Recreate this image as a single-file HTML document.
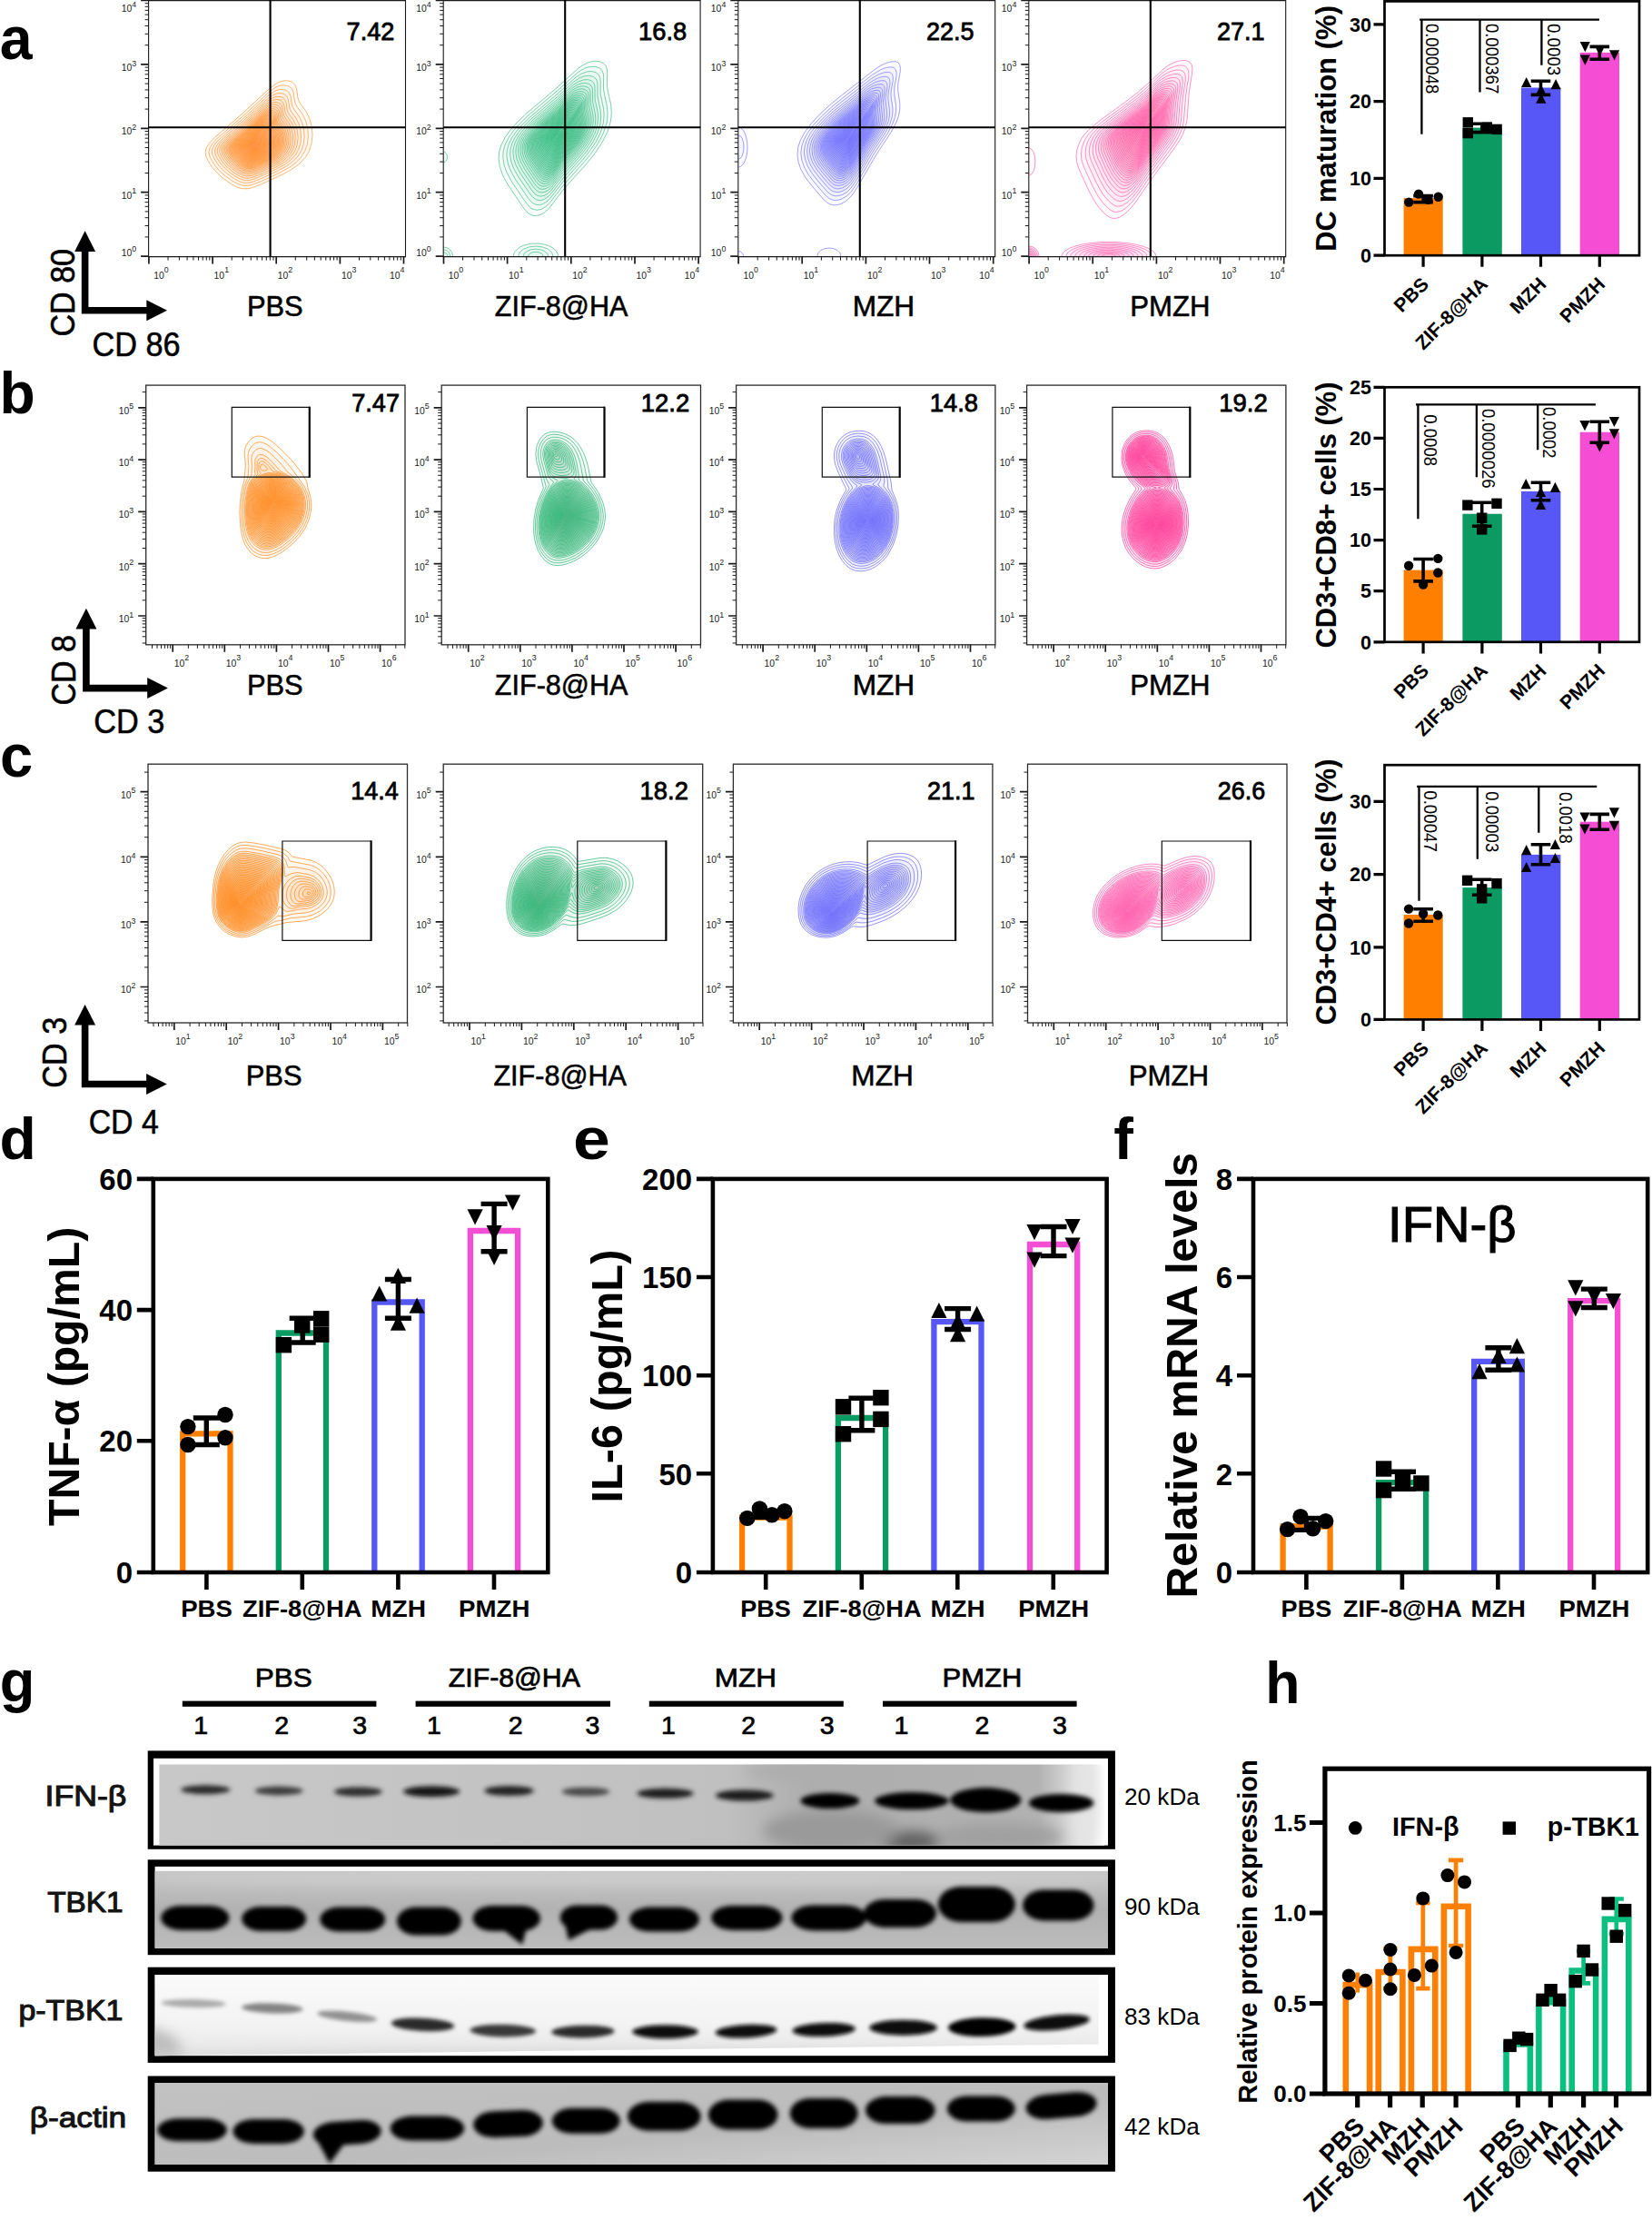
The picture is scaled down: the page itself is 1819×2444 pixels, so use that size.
<!DOCTYPE html>
<html><head><meta charset="utf-8"><title>Figure</title>
<style>html,body{margin:0;padding:0;background:#fff}svg{display:block}</style></head><body>
<svg width="1819" height="2444" viewBox="0 0 1819 2444" font-family="'Liberation Sans', sans-serif">
<rect width="1819" height="2444" fill="#fff"/>
<defs>
<clipPath id="ca0"><rect x="164.1" y="0" width="281.9" height="282"/></clipPath>
<clipPath id="ca1"><rect x="488.7" y="0" width="281.9" height="282"/></clipPath>
<clipPath id="ca2"><rect x="813.3" y="0" width="281.9" height="282"/></clipPath>
<clipPath id="ca3"><rect x="1133.3" y="0" width="281.9" height="282"/></clipPath>
<clipPath id="cb0"><rect x="161.2" y="424.1" width="284.3" height="285.7"/></clipPath>
<clipPath id="cb1"><rect x="486.7" y="424.1" width="284.3" height="285.7"/></clipPath>
<clipPath id="cb2"><rect x="811.1" y="424.1" width="284.3" height="285.7"/></clipPath>
<clipPath id="cb3"><rect x="1131.1" y="424.1" width="284.3" height="285.7"/></clipPath>
<clipPath id="cc0"><rect x="163.5" y="841.2" width="284.5" height="284.8"/></clipPath>
<clipPath id="cc1"><rect x="488.7" y="841.2" width="284.5" height="284.8"/></clipPath>
<clipPath id="cc2"><rect x="807.9" y="841.2" width="284.5" height="284.8"/></clipPath>
<clipPath id="cc3"><rect x="1132.0" y="841.2" width="284.5" height="284.8"/></clipPath>
<filter id="bl1" filterUnits="userSpaceOnUse" x="150" y="1900" width="1100" height="520"><feGaussianBlur stdDeviation="1.6"/></filter>
<filter id="bl15" filterUnits="userSpaceOnUse" x="150" y="1900" width="1100" height="520"><feGaussianBlur stdDeviation="2.1"/></filter>
<filter id="bl2" filterUnits="userSpaceOnUse" x="150" y="1900" width="1100" height="520"><feGaussianBlur stdDeviation="2.6"/></filter>
<filter id="bl3" filterUnits="userSpaceOnUse" x="150" y="1900" width="1100" height="520"><feGaussianBlur stdDeviation="7"/></filter>
<linearGradient id="g1" x1="0" x2="1" y1="0" y2="0"><stop offset="0" stop-color="#c8c8c8"/><stop offset="0.6" stop-color="#c0c0c0"/><stop offset="0.69" stop-color="#adadad"/><stop offset="0.93" stop-color="#b2b2b2"/><stop offset="0.975" stop-color="#e2e2e2"/><stop offset="1" stop-color="#ffffff"/></linearGradient>
<linearGradient id="g2" x1="0" x2="0" y1="0" y2="1"><stop offset="0" stop-color="#c6c6c6"/><stop offset="0.5" stop-color="#b2b2b2"/><stop offset="1" stop-color="#bcbcbc"/></linearGradient>
<linearGradient id="g3" x1="0" x2="0" y1="0" y2="1"><stop offset="0" stop-color="#fbfbfb"/><stop offset="0.6" stop-color="#f3f3f3"/><stop offset="1" stop-color="#e6e6e6"/></linearGradient>
<linearGradient id="g4" x1="0" x2="1" y1="0" y2="1"><stop offset="0" stop-color="#c2c2c2"/><stop offset="0.6" stop-color="#bcbcbc"/><stop offset="1" stop-color="#d4d4d4"/></linearGradient>
<clipPath id="br0"><rect x="175.4" y="1942.5" width="1040.6" height="89.1"/></clipPath>
<clipPath id="br1"><rect x="170.6" y="2059.8" width="1049.4" height="85.0"/></clipPath>
<clipPath id="br2"><polygon points="170.6,2174.0 1210.0,2174.0 1209.4,2250.5 700,2256.5 170.6,2263.2"/></clipPath>
<clipPath id="br3"><rect x="170.6" y="2293.2" width="1049.4" height="89.8"/></clipPath>
</defs>
<g clip-path="url(#ca0)" stroke="#FF8A1F" stroke-width="0.9" stroke-opacity="0.7" fill="#FF8A1F" fill-opacity="0.03">
<path d="M311.2 89.0l3.9 -.3 4 .6 3 1.3 2.5 2.4 2 4.5 1.2 9.5 1.2 4 2 3.5 6.2 8.5 3.6 7.5 2.5 9 .7 9 -.9 9 -2.6 8.5 -2.1 4 -2.3 3.5 -6.1 6.5 -8.1 6 -10.8 6.1 -25 11.4 -8.5 3.2 -4.5 1 -4.5 .1 -4 -.6 -4 -1.4 -7 -3.8 -7.7 -5.5 -6.3 -5.6 -5.5 -6.2 -4.5 -6.7 -2.9 -6 -.6 -4.5 1.1 -4.5 3.4 -5.5 5.6 -6 29.5 -25.5 30.9 -28.4 7.5 -5.6 3.5 -1.8z"/>
<path d="M309.7 94.0l3.4 -.1 3.5 .6 3 1.5 1.9 2 1.7 4 1.2 9 1 3.5 1.7 3.1 6.1 8.4 3.4 7 2.2 8.5 .6 8.5 -1 8.5 -2.5 7.5 -4.3 7 -5.8 6 -7.7 5.7 -10.5 5.7 -22.5 10.3 -8 2.8 -4 .8 -4 .1 -3.5 -.6 -4 -1.4 -6.5 -3.6 -7.2 -5.3 -5.8 -5.1 -5.1 -5.9 -4 -6 -2.5 -5.5 -.6 -4 1.2 -4.5 3.2 -5 5.2 -5.5 27.1 -23.4 29 -26.6 7.5 -5.6 3.5 -1.6z"/>
<path d="M308.3 98.5l3.3 0 3 .8 2.3 1.2 1.7 1.9 1.5 3.6 1.1 8 1 3.5 1.6 3 5.8 8 3.2 7 1.9 7.5 .5 8 -.9 7.5 -2.3 7 -3.9 6.5 -5.3 5.5 -7.5 5.5 -9.7 5.3 -21 9.6 -7.5 2.7 -4 .7 -3.5 0 -3.5 -.6 -3.5 -1.3 -5.9 -3.4 -6.6 -4.7 -5.5 -5 -4.6 -5.3 -3.9 -6 -2.3 -5 -.4 -3.5 1 -4 2.7 -4.5 5.2 -5.5 25.3 -21.8 27 -24.8 7 -5.1 3.5 -1.6z"/>
<path d="M304.3 103.0l3.3 -.4 3.5 .4 2.6 1 2.1 2 1.6 3.5 1.1 8 .9 3 1.7 3 4.8 6.5 2.8 5.5 2 7 .8 7.5 -.6 7.5 -2.1 7 -3.4 6 -5.1 5.5 -6.6 5 -8.6 4.8 -20.5 9.4 -7 2.6 -3.5 .7 -3.5 .1 -3 -.5 -3.5 -1.2 -5.5 -3 -6.1 -4.4 -5.1 -4.5 -4.4 -5 -3.8 -5.5 -2.1 -4.5 -.6 -4 .8 -3.5 2.8 -4.5 4.7 -5 23.7 -20.5 24.6 -22.5 6 -4.6z"/>
<path d="M303.4 106.5l3.2 -.2 3 .5 2 .9 1.9 1.8 1.5 3.5 1 7 .8 3 1.4 2.5 4.9 6.8 2.6 5.2 1.9 7 .6 7 -.8 7 -1.9 6 -3.2 5.5 -4.6 5 -6.1 4.6 -8.5 4.8 -19 8.7 -6.5 2.3 -3.5 .7 -3 0 -3 -.5 -3 -1 -5 -2.7 -6 -4.4 -5 -4.4 -4 -4.6 -3.3 -5 -2.1 -4.5 -.5 -3.5 1 -3.5 2.5 -4 4.3 -4.5 22.1 -19.1 23.5 -21.6 5.5 -4.1z"/>
<path d="M301.1 110.0l3 -.4 3 .2 2.5 1.1 1.8 1.6 1.3 3 1.1 7 .8 2.9 5.9 8.6 2.2 4.5 1.9 6.5 .6 6.5 -.6 6.5 -1.8 6 -3.1 5.5 -4.2 4.5 -5.9 4.5 -7.5 4.2 -18 8.2 -6 2.3 -6 .7 -3 -.4 -3 -1 -5 -2.7 -5.5 -3.9 -4.5 -4 -3.8 -4.4 -3.3 -5 -1.9 -4 -.4 -3 .8 -3.5 2.2 -3.5 4.2 -4.5 20.7 -18 21.5 -19.6 5.5 -4.3z"/>
<path d="M302.0 112.5l2.6 .1 2 .5 1.6 .9 1.5 1.5 1.2 3 .9 6 .8 3 5.8 8.5 2.4 5.5 1.5 6 .2 6 -.7 5.5 -1.8 5.5 -3.1 5 -4.4 4.5 -5.9 4.2 -8 4.3 -15.5 7 -5.5 1.9 -3 .5 -3 0 -5.5 -1.6 -4.8 -2.8 -5.2 -3.8 -4 -3.8 -3.5 -4.1 -3 -4.8 -1.4 -3.5 -.3 -3 1 -3 2.3 -3.5 3.8 -4 19.1 -16.5 21.5 -19.6 5.5 -3.9z"/>
<path d="M298.8 115.5l2.8 -.4 2.5 .3 2 .8 1.5 1.3 1.5 3 1.6 8.5 5.3 8 2 4 1.6 5.5 .6 6 -.5 5.5 -1.6 5.5 -2.5 4.5 -4 4.5 -5 3.8 -6.6 3.7 -16.4 7.6 -5.5 2 -5.5 .6 -5 -1.2 -4 -2.1 -5 -3.6 -4 -3.5 -3.5 -3.8 -3 -4.4 -1.7 -3.6 -.5 -3 .6 -3 2.2 -3.5 3.7 -4 18.2 -15.7 19 -17.4 5 -3.9z"/>
<path d="M299.6 117.5l4.1 .5 1.7 1 1.2 1.4 1 2.5 1.5 7.8 5.2 7.8 2.1 4.5 1.3 5.5 .4 5.5 -.7 5 -1.6 5 -2.8 4.5 -3.9 4 -5.5 3.9 -6.8 3.6 -14.2 6.5 -5 1.7 -5 .4 -5 -1.4 -4 -2.3 -4.6 -3.4 -3.9 -3.5 -3 -3.5 -2.6 -4 -1.6 -3.5 -.3 -2.5 .8 -3 1.9 -3 3.8 -3.9 17 -14.7 19 -17.4 5 -3.5z"/>
<path d="M296.7 120.0l2.4 -.4 2.5 .2 2 .9 1.5 1.3 1.1 2.5 .8 5.5 .8 2.5 4.5 6.5 1.7 3.5 1.6 5 .6 5.5 -.4 5 -1.5 5 -2.2 4.1 -3.5 4 -4.5 3.5 -6.5 3.7 -14.5 6.6 -5 1.8 -5 .5 -4.5 -1.1 -4 -2.2 -4.5 -3.3 -3.5 -3.2 -3 -3.4 -2.5 -3.7 -1.5 -3.3 -.4 -3 .7 -2.5 1.9 -3 3.4 -3.5 16.4 -14.2 17 -15.6 4.5 -3.5z"/>
<path d="M297.6 121.5l2 0 2 .5 2.4 2 1 2.5 1.4 7 4.7 7 1.8 4 1.2 4.5 .4 5 -.6 5 -1.4 4.5 -2.4 4 -3.9 4 -4.6 3.3 -6.5 3.4 -12.5 5.7 -5 1.7 -4.5 .3 -4.5 -1.3 -3.7 -2.1 -4.3 -3.2 -3.5 -3.2 -2.6 -3.1 -2.2 -3.5 -1.4 -3 -.3 -2.5 .7 -2.5 1.9 -3 2.9 -3 16 -13.9 17 -15.6 4.5 -3.2z"/>
<path d="M295.3 123.5l2.3 -.3 2 .2 1.7 .6 1.3 1.2 1.2 2.3 .9 5.5 .7 2 4.1 6 1.7 3.5 1.3 4.5 .5 5 -.5 4.5 -1.3 4.5 -2.3 4 -3.3 3.5 -4 3 -5.5 3.1 -13 6 -4.5 1.7 -4.5 .6 -4.5 -1.1 -3.5 -1.9 -4 -2.9 -3.5 -3.1 -2.9 -3.4 -2.3 -3.5 -1.3 -3 -.2 -2 .6 -2.5 1.9 -3 2.8 -3 14.9 -12.8 15.5 -14.2 4 -3.2z"/>
<path d="M294.6 125.0l4 -.2 1.9 .7 1.1 1 1.2 2.5 1.6 7 3.7 5.6 1.8 3.4 1.3 4.5 .4 4.5 -.4 4.5 -1.4 4.5 -2 3.5 -3.2 3.5 -4 3.1 -5.5 3 -12 5.5 -4.5 1.7 -4.5 .6 -4 -1 -3.4 -1.9 -3.6 -2.5 -3.4 -3 -2.7 -3 -2.4 -3.5 -1.3 -3 -.3 -2.5 .6 -2 1.9 -3 2.8 -3 14.3 -12.3 14.5 -13.3 4 -3.2z"/>
<path d="M296.1 126.0l3 .6 2 1.7 .9 2.2 1.2 6 4.3 6.5 1.7 4 .9 4 .2 4.5 -.5 4 -1.4 4 -2.2 3.5 -3.6 3.5 -4.4 3 -6.1 3.2 -10.5 4.7 -4 1.3 -4 .2 -4 -1.3 -7 -4.7 -3 -2.9 -2.5 -3 -1.9 -3 -1 -2.5 -.2 -2 .8 -2.5 1.6 -2.5 2.9 -3 13.3 -11.4 15.5 -14.2 4 -2.7z"/>
<path d="M294.3 127.5l3.3 .2 1.5 .7 1 1 1 2.1 1.2 6 3.8 5.8 1.6 3.2 1.1 4 .3 4.5 -.4 4 -1.3 4 -2.1 3.5 -2.9 3 -3.8 2.8 -5 2.8 -15 6.5 -4 .4 -4 -.9 -6.5 -4.2 -5.5 -5.5 -2.2 -3.4 -1.1 -2.5 -.3 -2 .5 -2 1.5 -2.5 2.8 -3 27.3 -24.3 4 -2.9z"/>
<path d="M293.1 129.0l3.5 -.1 1.5 .7 1.1 .9 .9 2 1.3 6 3.6 5.5 1.5 3 1.1 4 .3 4 -.4 4 -1.1 3.5 -1.6 3 -2.7 3.1 -3.9 2.9 -4.6 2.7 -15 6.5 -4 .4 -3.5 -.9 -6.5 -4.1 -5.1 -5.1 -2 -3 -1.1 -2.5 -.3 -2 .4 -2 1.5 -2.5 2.6 -2.8 25.5 -22.7 4 -3.1z"/>
<path d="M292.0 130.5l3.6 -.3 2.5 1.4 1.1 1.9 1.3 6 4.6 7.5 1.2 4 .4 4 -.4 4 -1.1 3.5 -1.7 3 -2.7 3 -3.4 2.5 -4.4 2.5 -14.4 6.3 -3.5 .4 -3.5 -.8 -6.2 -3.9 -5 -5 -3 -5 -.3 -2 .4 -2 1.6 -2.6 3.3 -3.4 24.7 -22 2.5 -1.8z"/>
<path d="M293.0 131.5l2.6 .3 2 1.5 .7 1.7 1.3 5.5 3.3 5 1.4 3 .9 3.5 .3 3.5 -.4 3.5 -1.1 3.5 -1.7 3 -2.7 2.8 -3.5 2.6 -4.5 2.4 -13 5.6 -3.5 .4 -3.5 -.9 -6 -3.9 -4.8 -5 -1.7 -2.7 -.9 -2.3 -.1 -1.5 .6 -2 1.2 -2 2.4 -2.5 23.8 -21.2 3.5 -2.6z"/>
<path d="M291.6 133.0l3 .1 2.1 1.4 .7 1.5 1.3 5.5 3 4.5 1.4 3 .9 3.5 .2 3.5 -.4 3.5 -1 3 -1.8 3 -2.4 2.5 -3.5 2.5 -4 2.2 -12.5 5.4 -3.5 .3 -3 -.8 -5.5 -3.5 -4.5 -4.6 -1.7 -2.5 -1.1 -2.5 -.2 -1.5 .5 -2 1.3 -2 2.4 -2.5 22.3 -19.8 3 -2.3z"/>
<path d="M290.5 134.5l3.1 -.1 2 1.2 1 1.9 1.2 5 3.9 6.5 .9 3 .4 3.5 -.3 3.5 -.9 3 -1.4 2.5 -2.3 2.7 -3 2.3 -4 2.3 -12.5 5.4 -3 .3 -3 -.7 -5.2 -3.3 -4.5 -4.5 -2.5 -4.5 -.2 -2 .4 -1.5 1.3 -2 2.2 -2.3 21 -18.7 3 -2.3z"/>
<path d="M289.5 136.0l3.1 -.3 1.5 .6 .8 .7 .7 1.5 1.3 5 3.6 6 .9 3 .4 3.5 -.3 3 -.9 3 -1.4 2.5 -2.3 2.5 -6.3 4.1 -11.5 5.1 -3 .4 -3 -.6 -5 -3.1 -4.4 -4.4 -2.3 -4 -.2 -2 .4 -1.5 1.3 -2 2.7 -2.7 19.5 -17.4z"/>
<path d="M290.2 137.0l2.4 .3 1.5 1.1 1.7 5.6 3.7 6.5 .8 3 .2 3 -.3 3 -.8 2.5 -1.5 2.5 -2.3 2.5 -6.5 4 -10.5 4.4 -3 .2 -2.5 -.6 -4.6 -3 -3.9 -4 -2.2 -4 -.2 -1.5 .4 -1.5 1.2 -2 1.9 -2 18.9 -16.7 3 -2.3z"/>
<path d="M289.0 138.5l2.6 0 1.5 1 1.8 5.5 3.4 6 .7 2.5 .3 3 -.3 3 -.8 2.5 -1.6 2.5 -1.9 2 -6.1 3.8 -10 4.2 -2.5 .3 -2.5 -.7 -4.5 -2.8 -3.7 -3.8 -2 -3.5 -.2 -1.5 .4 -1.5 2.6 -3.5 17.4 -15.5 3 -2.3z"/>
<path d="M288.0 140.0l2.1 -.3 2 1 .8 1.3 1.2 4.4 2.8 4.6 .8 2.5 .4 3 -.2 2.5 -.7 2.5 -1.4 2.5 -1.7 1.8 -5.5 3.6 -9.5 4.1 -2.5 .4 -2.5 -.6 -4 -2.4 -3.5 -3.4 -2.1 -3.5 -.2 -1.5 .3 -1.5 1.2 -2 2.3 -2.3 16 -14.2z"/>
<path d="M287.0 141.5l2.6 -.4 1.7 .9 1.8 5.2 2.6 4.3 .8 2.5 .4 2.5 -.2 2.5 -.7 2.5 -1.1 2 -1.9 2 -5.4 3.5 -8.5 3.6 -2.5 .3 -2.5 -.6 -4 -2.6 -3 -3.1 -1.6 -3.1 0 -2.5 1.3 -2 2 -2 14.8 -13.1z"/>
<path d="M287.6 142.5l1.5 .1 1.5 1 1.5 4.4 2.8 5 .7 4.5 -.3 2.5 -.8 2 -1.3 2 -2.2 2 -7.4 4 -5.5 2 -2 -.1 -2 -.6 -3.9 -2.8 -2.6 -3 -1.2 -2.5 .3 -2.5 2.5 -3 13.9 -12.3 2.5 -1.9z"/>
<path d="M286.5 144.0l1.6 -.1 1.5 .8 1.6 4.3 2.3 4 .9 4.5 -.9 4 -1.2 2 -1.5 1.5 -5.2 3.2 -7 2.8 -2 .1 -2 -.6 -3.5 -2.4 -2.5 -2.8 -1.2 -2.8 .3 -2 2 -2.5 12.4 -11 2.5 -2z"/>
<path d="M285.6 145.5l2 -.2 1.2 .7 1.5 4 2 3.5 .9 4 -.9 4 -2.3 3 -5 3 -5.9 2.5 -2 .2 -2 -.6 -3 -1.9 -2.5 -2.7 -1.2 -2.5 .3 -2 2.5 -3 11.4 -10z"/>
<path d="M284.7 147.0l2.4 -.2 1.2 1.2 3.4 7.5 .2 3 -.6 2.5 -2.1 3 -4 2.5 -6.1 2.6 -2 .1 -1.5 -.4 -2.8 -1.8 -2.3 -2.5 -1 -2 .2 -2 2.5 -3 9.9 -8.7z"/>
<path d="M285.5 148.0l1.1 .3 .7 .7 3 6.5 .4 3 -.8 3 -1.1 1.5 -1.7 1.5 -5.5 2.8 -3.5 1.1 -2.5 -.6 -2.5 -1.8 -1.8 -2 -.8 -2 .2 -1.5 2 -2.5 8.9 -7.8 2 -1.5z"/>
<path d="M284.3 149.5l1.2 0 .7 .5 2.7 5.5 .6 3 -.6 2.5 -2 2.5 -3.8 2.3 -4 1.5 -1.5 .1 -1.5 -.4 -2.1 -1.5 -1.8 -2 -.7 -1.5 .2 -1.5 1.5 -2 7.4 -6.6z"/>
<path d="M283.4 151.0l1.2 -.1 .9 .6 2.2 4.5 .5 2.5 -.5 2.5 -2.1 2.4 -3.5 2 -3 1 -2.5 -.2 -3.2 -2.7 -.8 -1.5 .1 -1.5 2 -2.5 6.4 -5.6z"/>
<path d="M282.5 152.5l1.6 -.1 1 1.2 1.7 3.9 -.2 3 -1.4 2 -2.6 1.7 -3.5 1.3 -2 -.2 -2.8 -2.3 -.7 -1.5 .1 -1 2 -2.5z"/>
<path d="M281.8 154.0l1.3 -.2 1.3 1.2 1.2 3 -.2 2.5 -1.6 2 -2.7 1.5 -2 .6 -2 -.3 -2.2 -2.3 .1 -2 2.3 -2.5z"/>
<path d="M281.0 155.5l1.6 -.1 1 1.1 .8 2 -.3 2 -1.2 1.5 -1.8 1.1 -2 .6 -1.5 -.3 -1.5 -1.4 -.3 -1 .2 -1 1.8 -2z"/>
<path d="M280.4 157.0l1.2 -.2 1 .7 .5 1.5 -.3 1.5 -2.2 1.9 -1.5 .3 -1 -.2 -1 -1 0 -1.5 1.2 -1.5z"/>
<path d="M279.8 158.5l1.5 0 .3 1.5 -1 1.2 -1.5 .4 -.8 -.6 0 -1z"/>
</g>
<g clip-path="url(#ca1)" stroke="#2DB877" stroke-width="0.9" stroke-opacity="0.7" fill="#2DB877" fill-opacity="0.03">
<path d="M654.5 67.3l5.6 .3 4 1.7 2.9 3 1.4 4 .3 4 -.3 10.5 .2 5 .9 5.5 3.1 13.5 .7 8.5 -.3 5.5 -.8 5.5 -1.5 5.5 -2.1 6 -6.1 12 -8.9 13 -9.1 11 -23.4 26 -16.5 21.5 -5 4.6 -5 2.7 -5 1 -4.5 -.8 -4 -2.5 -4.3 -5 -17 -25 -3.7 -6.3 -2.8 -5.7 -3 -9 -1.2 -8.5 .5 -7.5 2.4 -8 4.1 -8 6.1 -8.5 8.1 -9 10.5 -10 33.3 -28 23 -20.9 4.5 -3.1 4.5 -2.4 4 -1.4z"/>
<path d="M651.0 73.3l5.1 .1 4 1.5 2.7 2.4 1.6 4 .3 4 -.3 10 .3 4.5 3.7 17.5 .6 7.5 -.2 5 -.8 5.5 -3.3 10.5 -5.8 11.5 -8.2 12 -8.6 10.4 -21.5 23.9 -15.5 20.1 -4.5 4.1 -4.5 2.5 -4.5 1 -4.5 -.8 -3.6 -2.2 -3.9 -4.5 -16 -23.5 -5.9 -11 -2.7 -8 -1.2 -8 .4 -7 2.2 -7.5 3.8 -7.5 5.3 -7.5 7.6 -8.5 9.5 -9.1 31.5 -26.6 21.5 -19.4 4 -2.8 4 -2.1 3.5 -1.3z"/>
<path d="M647.1 78.8l5 -.2 4.2 1.2 3 2.5 1.5 3.5 .4 4 -.1 13.5 3.4 16 .7 7 -.9 9.5 -3 10 -5.2 10.5 -7.9 11.5 -7.8 9.5 -20.3 22.6 -14.5 18.8 -4 3.6 -4.5 2.5 -4 .9 -4 -.7 -3.5 -2.2 -3.6 -4 -14.6 -21.5 -5.7 -10.5 -2.6 -7.5 -1.2 -7.5 .4 -6.5 2 -7 3.2 -6.5 4.9 -7 6.6 -7.5 8.7 -8.5 30.4 -25.7 19.5 -17.7 7 -4.5z"/>
<path d="M643.6 83.8l5 -.5 4.5 1 3 2.3 1.5 3.2 .4 4 0 12.5 3.1 15 .6 6.5 -.8 9 -2.7 9 -4.9 10 -7.2 10.6 -7.5 9.1 -19 21.2 -13.5 17.5 -4 3.5 -4 2.2 -4 .7 -3.5 -.7 -3.5 -2.3 -3.3 -3.8 -13.6 -20 -5.1 -9.5 -2.4 -7 -1.1 -7 .4 -6 1.8 -6.5 3 -6 4.5 -6.5 5.6 -6.5 7.7 -7.6 30 -25.4 17 -15.6 6 -4.1z"/>
<path d="M642.9 87.8l4.7 -.1 3.5 1.1 2.4 2 1.3 3 .3 3.5 0 12 3 14 .5 6 -.8 8.5 -2.5 8.5 -4.7 9.4 -6.6 9.6 -6.9 8.5 -18 20 -12.5 16.2 -3.5 3.2 -4 2.2 -3.5 .7 -3.5 -.6 -3 -1.9 -3.3 -3.8 -12.7 -18.7 -5 -9.2 -2.2 -6.6 -1 -6.5 .4 -5.5 1.7 -6 3 -6 4.2 -6 5.7 -6.5 7.7 -7.4 26.5 -22.4 17 -15.5 6 -3.8z"/>
<path d="M640.0 91.8l4.6 -.4 3.5 .8 2.8 2.1 1.4 3 .3 3 0 11.5 2.7 13 .6 5.5 -.6 7.5 -2.3 8 -4.4 9 -6.4 9.5 -6.6 8.1 -16.5 18.3 -12 15.6 -3.5 3.1 -3.5 1.9 -3.5 .7 -3 -.5 -3 -1.8 -3 -3.4 -12 -17.6 -4.6 -8.4 -2.1 -6 -1 -6 .3 -5.5 1.5 -5.5 2.6 -5.5 3.8 -5.5 5.1 -6 6.9 -6.8 26 -22.1 15.5 -14.1 5.5 -3.7z"/>
<path d="M641.4 94.8l3.2 .3 2.8 1.2 1.7 1.8 1 2.7 .2 13 2.7 13 .4 5.5 -.8 7.5 -2.4 7.5 -4.1 8 -5.8 8.5 -6.2 7.5 -15.5 17.3 -11 14.2 -3 2.9 -3.5 2 -3.5 .7 -3 -.5 -3 -2 -2.7 -3.1 -11.3 -16.7 -4.4 -8.3 -2 -6 -.7 -5.5 .4 -5 1.7 -5.5 3 -5.5 4 -5.5 5.5 -6 7.5 -7.1 21 -17.6 16 -14.5 6 -3.5 3 -.9z"/>
<path d="M636.7 98.3l3.9 -.5 3.5 .7 2.5 1.7 1.3 2.6 .4 3 0 10 2.5 12 .4 5 -.6 6.5 -2 7 -3.8 8 -5.8 8.5 -5.9 7.2 -14.7 16.3 -10.3 13.4 -3 2.9 -3.5 2 -3 .6 -3 -.5 -2.5 -1.6 -2.9 -3.3 -10.5 -15.5 -4.1 -7.5 -1.9 -5.5 -.8 -5.5 .3 -4.5 1.4 -5 2.1 -4.5 3.4 -5 4.5 -5.2 6 -6 23.5 -20 13.5 -12.3 4.5 -3.1z"/>
<path d="M636.5 100.8l3.6 -.2 3 .8 2 1.7 1.1 2.7 .3 12 2.3 11 .5 5 -.7 6.5 -1.9 6.5 -3.7 7.5 -5.4 8 -5.5 6.7 -14 15.5 -10 12.9 -3 2.7 -3 1.7 -3 .5 -2.5 -.5 -2.5 -1.5 -2.6 -3 -9.9 -14.5 -4.1 -7.5 -1.7 -5 -.8 -5 .3 -4.5 1.4 -5 2.2 -4.5 3.5 -5 4.4 -5 5.8 -5.7 21.5 -18.2 13 -11.9 5 -3.2z"/>
<path d="M634.9 103.3l3.7 -.3 3 .8 2 1.7 1 2.3 .3 11.5 2.2 10.5 .4 4.5 -.5 6 -1.9 6.5 -3.4 7 -5.1 7.6 -5.2 6.4 -13.3 14.8 -9.5 12.2 -2.5 2.4 -3 1.8 -3 .7 -2.5 -.3 -2.5 -1.6 -2.5 -2.8 -9.5 -14 -3.7 -6.7 -1.7 -5 -.7 -4.5 .1 -4.5 1.3 -4.5 2.2 -4.5 3 -4.5 4 -4.6 5.5 -5.4 21 -17.9 12.5 -11.3 4.5 -2.9z"/>
<path d="M634.9 105.3l3.2 0 2.5 .8 1.5 1.3 1 2.4 .4 11 2 10 .4 4.5 -.6 6 -1.8 6 -3.5 7 -4.8 7 -17.5 20 -9.1 11.7 -2.5 2.3 -3 1.7 -2.5 .4 -2.5 -.4 -2.5 -1.7 -2 -2.4 -9 -13.2 -3.6 -6.4 -1.7 -5 -.7 -4.5 .2 -4 1.3 -4.5 1.9 -4 3.1 -4.5 4.4 -5 5.6 -5.4 18.5 -15.6 12.5 -11.3 4.5 -2.9z"/>
<path d="M633.6 107.3l3 -.1 2.5 .6 1.7 1.5 1.1 2.5 .3 10.5 2 9.5 .3 4 -.5 5.5 -1.7 6 -3.3 6.5 -4.7 7 -16.7 19 -9 11.6 -2.5 2.2 -2.5 1.3 -2.5 .5 -2.5 -.5 -2.3 -1.6 -2.2 -2.7 -8.5 -12.5 -3.4 -6.3 -1.5 -4.5 -.6 -4.5 .3 -4 1.2 -4 2.1 -4 2.8 -4 3.9 -4.5 5.2 -5 18 -15.2 12 -10.9 4 -2.6z"/>
<path d="M631.6 109.3l3 -.4 3 .5 2 1.4 1 2 .4 10.5 1.9 9 .4 4 -.5 5 -1.5 5.5 -3.1 6.5 -4.3 6.5 -16.3 18.6 -8.5 11 -2.5 2.2 -2.5 1.4 -2.5 .5 -2 -.3 -2.3 -1.4 -2.2 -2.5 -8.1 -12 -3.3 -6 -1.6 -4.5 -.6 -4 .1 -3.5 1.1 -4 1.6 -3.5 2.6 -4 3.7 -4.4 4.6 -4.6 18.9 -16.1 10.5 -9.5 3.5 -2.4z"/>
<path d="M631.1 110.8l3 -.4 2.5 .5 2 1.4 1 2 .4 10 1.7 8.5 .4 4 -.4 5 -1.6 5.5 -2.9 6 -4.4 6.5 -15.3 17.5 -8.4 10.7 -2 1.9 -2.5 1.4 -2.5 .6 -2 -.4 -2 -1.2 -2.3 -2.5 -7.8 -11.5 -3.3 -6 -1.3 -4 -.7 -4 .2 -3.5 1.1 -4 1.6 -3.5 2.8 -4 7.7 -8.2 18 -15.3 10 -9.1 3.5 -2.5z"/>
<path d="M630.7 112.3l2.9 -.3 2.5 .6 1.5 1.2 .9 2 .4 9.5 1.8 8.5 .3 3.5 -.5 5 -1.4 5 -2.9 6 -4.1 6 -15 17.2 -7.5 9.6 -2 2 -2.5 1.5 -2.5 .6 -2 -.4 -2 -1.2 -2 -2.2 -7.6 -11.1 -3 -5.5 -1.4 -4 -.7 -4 .2 -3.5 1 -3.5 1.6 -3.5 2.4 -3.5 7.9 -8.5 17.1 -14.5 9.5 -8.7 3.5 -2.4z"/>
<path d="M630.3 113.8l2.8 -.2 2 .6 1.5 1.1 .9 2 .4 9 1.6 8 .3 3.5 -.4 5 -1.5 5 -2.7 5.5 -4.1 6 -14 15.9 -7.5 9.6 -2 1.9 -2.5 1.4 -2 .4 -2 -.3 -2 -1.3 -2 -2.3 -7 -10.3 -3 -5.5 -1.4 -4 -.5 -3.5 .2 -3.5 1 -3.5 1.7 -3.5 2.4 -3.5 7.6 -7.9 15.5 -13.2 10 -9 3.5 -2.3z"/>
<path d="M630.0 115.3l2.6 0 1.7 .5 1.3 1 .9 2 .3 8.5 1.9 11 -.4 4.5 -1.4 5 -2.8 5.5 -3.7 5.5 -13.3 15.2 -7.5 9.5 -2 1.8 -2 1.1 -2 .4 -2 -.3 -1.9 -1.2 -1.7 -2 -7.2 -10.5 -2.7 -5 -1.3 -4 -.4 -3.5 .2 -3 1.1 -3.5 1.5 -3 2.4 -3.5 7.7 -8 23.8 -20.6 3.5 -2.3z"/>
<path d="M629.8 116.8l2.3 .1 1.5 .6 1.3 1.3 .6 2 .3 7.5 1.5 7.5 .3 3.5 -.5 4.5 -1.4 4.5 -2.6 5 -3.4 5 -13.1 15 -6.5 8.3 -2 1.9 -2 1.2 -2 .5 -2 -.4 -1.7 -1 -1.8 -2.1 -6.5 -9.5 -2.7 -4.9 -1.2 -3.5 -.6 -3.5 .2 -3 1 -3.5 1.5 -3 2.4 -3.5 7.4 -7.6 23 -19.9 3.5 -2.1z"/>
<path d="M627.0 118.8l2.6 -.5 2 .3 1.5 .7 1.2 2 .5 8.5 1.6 9.5 -.3 4 -1.3 4.5 -2.4 5 -3.4 5 -12.4 14.2 -6.5 8.3 -2 1.8 -2 1.1 -2 .3 -1.5 -.3 -1.5 -1 -2 -2.3 -6.2 -9.1 -2.4 -4.5 -1.2 -3.5 -.5 -3 .2 -3 .9 -3 1.4 -3 2.1 -3 6.1 -6.5 22.1 -19.3 3 -2.1z"/>
<path d="M626.5 120.3l2.6 -.4 2 .4 1.4 1 .8 1.5 .4 8 1.6 9 -.3 4 -1.2 4 -2.1 4.5 -3.4 5 -11.7 13.4 -6 7.7 -2 1.9 -2 1.2 -2 .3 -1.5 -.3 -1.5 -1 -1.5 -1.7 -6 -8.7 -2.4 -4.3 -1.2 -3.5 -.4 -3 .1 -2.5 .8 -3 3.1 -5.5 6 -6.5 21.5 -18.7 2.5 -1.7z"/>
<path d="M626.1 121.8l2 -.3 2 .3 1.4 1 .7 1.5 .5 7.5 1.4 8.5 -.3 4 -1.2 4 -2.2 4.5 -3.1 4.5 -10.7 12.2 -6 7.6 -3.5 2.6 -2 .4 -1.5 -.3 -1.5 -1 -1.5 -1.8 -5.5 -8 -2.3 -4.2 -1 -3 -.5 -3 .1 -2.5 .9 -3 3.3 -5.5 5.5 -5.8 20 -17.4 2.5 -1.7z"/>
<path d="M625.6 123.3l3.5 0 1.4 1 .7 1.5 .4 7 1.4 8 -.3 3.5 -1.1 4 -2 4 -3 4.5 -10.1 11.5 -5.9 7.4 -2 1.8 -1.5 .7 -1.5 .3 -1.5 -.4 -1.5 -1 -1.5 -1.8 -5.1 -7.5 -2.1 -4 -1.4 -5.5 .2 -2.5 .7 -2.5 2.9 -5 5.6 -6 18.7 -16.2 2.5 -1.8z"/>
<path d="M625.2 124.8l1.9 -.1 1.5 .4 1 .9 .6 1.3 .4 6.5 1.3 8 -.4 3.5 -1.1 3.5 -2.1 4 -2.7 3.9 -15 17.7 -3 2.1 -1.5 .3 -1.5 -.4 -1.5 -1 -1.5 -1.9 -4.6 -6.7 -2.1 -4 -1.2 -5 .2 -2.5 .8 -2.5 3 -5 5.4 -5.5 17 -14.8 2.5 -1.7z"/>
<path d="M625.0 126.3l2.6 .3 1 .9 .5 1.3 .4 6 1.2 7.5 -.3 3 -1 3.5 -1.8 3.5 -2.8 4 -13.7 16.2 -3 2.3 -1.5 .3 -1.5 -.3 -2.6 -2.5 -4.4 -6.5 -1.9 -3.5 -1.2 -5 .8 -4.5 2.6 -4.5 5.3 -5.5 16.4 -14.2 2.5 -1.6z"/>
<path d="M622.6 128.3l2 -.5 1.5 .2 1.3 .8 .7 1.4 .4 5.6 1.1 6.5 -.2 3 -.9 3 -1.6 3.5 -2.4 3.5 -12.9 15.3 -3 2.5 -2.5 .2 -2.5 -2 -6.1 -9.5 -1.3 -4.5 .1 -2.5 .6 -2 2.2 -4 4.1 -4.5 15.9 -13.8z"/>
<path d="M622.1 129.8l3 -.3 1 .5 .8 1.3 1.5 11.5 -.1 2.5 -.8 3 -1.7 3.5 -2.2 3.3 -12 14.2 -2.5 2 -2.5 .3 -2.5 -2.1 -5.5 -8.6 -1.1 -4.1 .5 -4 2.2 -4 3.9 -4.2 14.5 -12.6z"/>
<path d="M621.6 131.3l1.5 -.3 1.5 .3 1 .8 .4 1.2 1.3 10.5 -1 5 -3.5 6 -11.2 13.2 -2.5 1.8 -2 .1 -1.1 -.6 -1.4 -1.6 -5 -7.9 -.9 -4 .6 -3.5 2 -3.5 3.7 -4 13.1 -11.4z"/>
<path d="M621.2 132.8l2.4 0 1 .9 .4 1.1 1.2 9.5 -.9 4.5 -3.2 5.5 -10 11.8 -2.5 2 -2 .1 -2.3 -1.9 -4.4 -7 -1 -3.5 .5 -3.5 2 -3.5 3.2 -3.5 12 -10.4z"/>
<path d="M620.8 134.3l1.3 -.1 1 .5 .8 1.6 1.1 8.5 -.9 4.5 -3.1 5 -8.9 10.5 -2 1.6 -2 .1 -2 -1.7 -4.2 -6.5 -.8 -3.5 .6 -3 1.8 -3 3.6 -3.8 10.5 -9z"/>
<path d="M619.0 136.3l1.6 -.5 1 .1 1.2 1.4 1.1 7.5 -.7 4 -2.6 4.7 -8 9.4 -2 1.7 -2 .2 -2 -1.7 -3.4 -5.3 -.8 -3 .4 -3 1.4 -2.5 2.7 -3 9.7 -8.4z"/>
<path d="M618.5 137.8l2.1 -.3 1.1 1.3 1 6.5 -.7 4 -2.3 4 -7.1 8.2 -2 1.6 -1.5 0 -2 -1.8 -2.8 -4.5 -.7 -2.5 .3 -2.5 1.4 -2.5 2.3 -2.6 8.5 -7.3z"/>
<path d="M618.0 139.3l1.6 -.2 1.1 1.2 .9 5.5 -.6 3.5 -2 3.5 -5.9 6.9 -2 1.6 -1.5 .1 -1.8 -1.6 -2.4 -4 -.6 -2.5 .4 -2 1.2 -2 2.2 -2.5 7 -5.9z"/>
<path d="M617.7 140.8l1.4 .2 .7 1.3 .6 4.5 -.6 3 -1.9 3 -4.8 5.5 -1.5 1.2 -1.5 .2 -1.6 -1.4 -2 -3.5 -.4 -2 .5 -2 1.3 -2 1.9 -2 5.8 -4.9z"/>
<path d="M616.1 142.8l1.5 -.4 1 .9 .7 3.5 -.4 2.5 -1.7 3 -3.6 4.1 -1.5 1.3 -1.5 .3 -1.5 -1.4 -1.4 -2.3 -.3 -2 .3 -1.5 2.4 -3.2z"/>
<path d="M615.7 144.3l1.4 0 .6 1 .4 2.5 -.4 2 -1.2 2 -2.9 3.3 -1.5 1.1 -1 0 -1 -.8 -1.1 -1.6 -.4 -1.5 .2 -1.5 2.3 -3z"/>
<path d="M614.4 146.3l1.2 -.4 1 .6 .3 1.8 -.3 1.5 -2.5 3.4 -1.5 1.2 -1 0 -1.4 -1.6 -.2 -2 1.3 -2z"/>
<path d="M614.1 147.8l1 0 .4 .5 -.3 2 -1.6 1.9 -1.5 .4 -.7 -.8 .1 -1.5 1.1 -1.5z"/>
</g>
<g clip-path="url(#ca1)" stroke="#2DB877" stroke-width="0.9" stroke-opacity="0.7" fill="#2DB877" fill-opacity="0.03">
<ellipse cx="589.9" cy="282.0" rx="24.6" ry="14.0"/>
<ellipse cx="589.9" cy="282.0" rx="19.1" ry="10.9"/>
<ellipse cx="589.9" cy="282.0" rx="13.7" ry="7.8"/>
<ellipse cx="589.9" cy="282.0" rx="8.2" ry="4.7"/>
</g>
<g clip-path="url(#ca1)" stroke="#2DB877" stroke-width="0.9" stroke-opacity="0.7" fill="#2DB877" fill-opacity="0.03">
<ellipse cx="488.5" cy="282.0" rx="10.0" ry="10.0"/>
<ellipse cx="488.5" cy="282.0" rx="7.1" ry="7.1"/>
<ellipse cx="488.5" cy="282.0" rx="4.3" ry="4.3"/>
</g>
<g clip-path="url(#ca1)" stroke="#2DB877" stroke-width="0.9" stroke-opacity="0.7" fill="#2DB877" fill-opacity="0.03">
<ellipse cx="488.5" cy="173.0" rx="4.0" ry="5.7"/>
</g>
<g clip-path="url(#ca2)" stroke="#6A6AFA" stroke-width="0.9" stroke-opacity="0.7" fill="#6A6AFA" fill-opacity="0.03">
<path d="M982.4 67.8l4.2 0 2.5 1.1 1.6 2.4 .7 3.5 -.2 4.5 -2.1 11 -.5 5 .3 5.5 1.9 13 0 6 -1.3 7.5 -2.6 7.5 -5.9 11 -16.4 25 -21 36 -5.7 8.5 -5.8 5.7 -6 3.4 -3.5 1 -3 .4 -3 -.2 -3 -1 -3.1 -1.8 -3.5 -3 -12.5 -14.5 -7.7 -10 -4.8 -8.5 -2.9 -8.3 -1.1 -8.2 .7 -8 2.6 -8 5 -9 7.1 -9.5 9.7 -10.5 12 -11 12 -9.7 37 -28.8 5 -3.2 4.5 -2.3 4.5 -1.6z"/>
<path d="M976.6 74.3l4.5 -.5 3 .6 2 1.9 1 3.5 -.1 4.5 -2 10.5 -.4 5 .3 5 1.7 11.5 0 6 -1.1 6.5 -2.4 7 -5.5 10.5 -15.5 23.5 -19 32.8 -5.5 8.1 -5 5 -6 3.5 -3 .9 -3 .4 -3 -.2 -2.5 -.8 -3 -1.7 -3.4 -3 -11.2 -13 -7.3 -9.5 -4.6 -8 -2.7 -8 -1 -7.5 .7 -7 2.4 -7.5 4.3 -8 6.3 -8.5 8.7 -9.5 10.3 -9.6 11.5 -9.5 34.5 -27 8.5 -5.2 4 -1.7z"/>
<path d="M973.4 79.8l4.2 -.5 3 .6 1.9 1.9 .8 3 -.1 4.5 -1.8 9.5 -.4 4.5 .3 5 1.6 10.5 0 5.5 -1 6 -2.2 6.5 -5.3 10 -14.1 21.5 -18 31 -5.2 7.6 -4.5 4.5 -5.5 3.2 -5.5 1.2 -2.5 -.1 -2.5 -.7 -3 -1.7 -3 -2.6 -9.9 -11.4 -7.1 -9.1 -4.6 -7.9 -2.6 -7.5 -1 -7 .7 -6.5 2.2 -7 4 -7.5 5.8 -7.8 8 -8.8 9.5 -8.9 11 -9.1 32 -25 8 -4.9z"/>
<path d="M973.2 84.3l2.9 .1 2 .8 1.4 2.1 .5 2.5 -.2 3.5 -1.7 9.5 -.3 4 .3 4.5 1.4 10 .1 5 -1.1 6 -2.3 6.5 -4.6 8.5 -13.1 20 -16.9 29 -5 7.3 -4.5 4.3 -5 2.7 -3 .8 -2.5 .2 -4.5 -1 -2.5 -1.5 -3 -2.7 -10.5 -12.3 -5.9 -7.8 -3.6 -6.5 -2.2 -6.5 -.8 -6.5 .7 -6.5 2.1 -6.5 4.2 -7.4 5.7 -7.6 8.3 -8.8 9.5 -8.6 39.5 -31 7.5 -4.2 3.5 -1.2z"/>
<path d="M969.7 88.8l3.4 -.1 2 .8 1.3 1.8 .6 2.5 -.2 3.5 -1.5 8.5 -.4 4 1.6 13.5 .1 4.5 -.9 5.5 -2.1 6 -4.2 8 -12.5 19 -15.8 27.1 -4.5 6.6 -4 4 -5 2.9 -4.5 1 -2.5 -.2 -2 -.6 -4 -2.6 -4.5 -4.7 -10.5 -12.8 -5 -8.2 -2.3 -6.5 -.9 -6 .6 -6 2.1 -6.5 3.5 -6.5 5.5 -7.3 7.5 -8.1 8.5 -7.8 37 -29.1 7 -4.2 3.5 -1.3z"/>
<path d="M966.9 92.8l3.2 -.2 2 .5 1.5 1.6 .6 2.6 -.1 3.5 -1.7 11.5 1.4 12.5 .1 4.5 -.8 5 -1.9 5.5 -4.2 8 -11.8 18 -14.5 25 -4.1 6.1 -4 4 -4.5 2.6 -5 1 -4 -.8 -2.5 -1.6 -2.5 -2.3 -8.6 -10 -5.4 -7 -3.4 -6 -2 -6 -.7 -5.5 .5 -5.5 1.9 -6 3.6 -6.5 4.9 -6.5 6.7 -7.2 8 -7.4 35 -27.6 6.5 -3.9z"/>
<path d="M965.0 96.3l3.1 -.2 2 .7 1.2 1.5 .5 2 -.1 3.5 -1.6 11 1.4 12 0 4 -.8 5 -1.8 5 -4 7.5 -10.8 16.5 -14 24 -4 5.9 -4 3.8 -4 2.2 -4 .8 -4 -.7 -2 -1.1 -2.5 -2.2 -7.6 -8.7 -5.5 -7 -3.5 -6 -2 -5.5 -.8 -5.5 .5 -5.5 1.8 -5.5 3.3 -6 4.5 -6 6.3 -6.9 7.5 -6.9 33 -26.1 6.5 -3.9z"/>
<path d="M964.1 99.3l2.5 .1 1.5 .6 1 1.3 .6 2.5 -1.6 13 1.3 11.5 0 4 -.8 4.5 -1.8 5 -3.5 6.5 -10.5 16 -12.8 22 -3.9 5.8 -3.5 3.5 -4 2.4 -4 .9 -4 -.8 -2 -1.2 -2.4 -2.1 -7.6 -8.9 -4.7 -6.1 -3.2 -5.5 -1.8 -5.5 -.7 -5 .5 -5 1.7 -5 3 -5.5 4.4 -6 6.3 -6.8 7.5 -6.8 31 -24.4 6 -3.4z"/>
<path d="M961.2 102.3l2.9 -.2 2 .6 1 1.1 .6 2 -.1 3 -1.4 10 1.2 10.5 .1 3.5 -.7 4.5 -1.6 4.5 -3.6 7 -9.9 15 -12.1 20.9 -3.5 5.2 -3.5 3.5 -3.5 2.1 -4 1 -3.5 -.6 -3 -1.9 -4 -4.2 -8.2 -10 -3.9 -6.5 -1.8 -5 -.7 -5 .5 -4.5 1.5 -5 2.7 -5 4.1 -5.5 5.8 -6.4 6.6 -6.1 29.9 -23.6 5.5 -3.3z"/>
<path d="M959.8 104.8l2.3 -.2 2 .4 1.3 1.3 .6 2 -1.4 12.5 1.2 13 -.6 4 -1.5 4.5 -3.4 6.5 -9.2 14 -12 20.6 -3.5 5.1 -3 2.9 -3.5 2.1 -3.5 .8 -3.5 -.6 -4 -2.8 -6.2 -7.1 -4.8 -6.2 -3.1 -5.3 -1.8 -5 -.5 -4.5 .4 -4.5 1.4 -4.5 2.7 -5 3.9 -5.2 5.3 -5.8 6.4 -6 28.3 -22.3 5 -3z"/>
<path d="M957.5 107.3l3.1 -.5 2 .4 1.2 1.1 .6 2 -1.3 12 1.2 12.5 -.7 4 -1.4 4 -3.4 6.5 -8.7 13.3 -11 18.9 -3.5 5.2 -3 3 -3.5 2 -3.5 .7 -3 -.5 -3 -2 -3 -3.2 -7.5 -9.1 -3.6 -5.8 -1.7 -4.5 -.7 -4.5 .3 -4 1.3 -4.5 2.3 -4.5 3.5 -5 4.9 -5.5 5.7 -5.4 27.5 -21.9 4.5 -2.9z"/>
<path d="M956.4 109.3l2.7 -.5 2 .3 1.4 1.2 .5 1.5 0 2.5 -1.2 9.5 1.1 11.5 -.5 3.5 -1.3 4 -3.3 6.5 -8.5 13 -10.7 18.3 -3 4.5 -3 3 -3 1.7 -3.5 .9 -3 -.5 -2.9 -1.9 -3.1 -3.3 -7 -8.5 -3.5 -5.7 -1.5 -4.1 -.7 -4.4 .3 -4 1.2 -4 2.3 -4.5 3.2 -4.5 4.7 -5.3 5.5 -5.3 26 -20.7 4.5 -2.9z"/>
<path d="M956.6 110.8l2 -.2 1.5 .4 1 .8 .7 2 -1.2 11 1.1 11.5 -.6 3.5 -1.4 4 -2.8 5.5 -8.2 12.5 -10.2 17.5 -3.4 4.9 -3 2.8 -3 1.6 -3 .6 -3 -.7 -3.5 -2.7 -6 -7 -3.8 -5 -2.3 -4 -1.4 -4 -.6 -4 .4 -4 1.3 -4 2.4 -4.5 3.3 -4.5 4.7 -5.1 5.5 -5.2 24.5 -19.3 5 -3.1z"/>
<path d="M956.5 112.3l1.6 0 1.5 .6 .9 1.4 .2 1.5 -1.1 10 1 11 -.6 3.5 -1.4 4 -2.9 5.5 -7.5 11.5 -10.1 17.3 -3 4.3 -2.5 2.5 -3 1.7 -3 .7 -3 -.6 -3 -2.2 -5.5 -6.3 -4 -5 -2.6 -4.4 -1.4 -4 -.5 -4 .4 -4 1.3 -4 2.6 -4.5 3.5 -4.5 4.7 -5 5.5 -5 23 -18.1 4.5 -2.6z"/>
<path d="M953.6 114.3l2.5 -.4 2 .3 1 1 .4 1.6 -1 10 1 10.5 -.6 3.5 -1.1 3.5 -2.9 5.5 -7.5 11.5 -9.3 15.9 -3 4.4 -2.5 2.5 -3 1.7 -3 .6 -2.5 -.5 -2.5 -1.7 -3 -3.2 -6 -7.3 -3 -4.9 -1.5 -4 -.5 -3.5 .3 -3.5 1.2 -4 2.1 -4 2.9 -4 4 -4.5 5 -4.7 23 -18.3 4 -2.5z"/>
<path d="M953.2 115.8l2.4 -.3 1.5 .4 .9 .9 .4 1.5 -.9 10 .8 10 -.4 3 -1.2 3.5 -2.6 5 -7.3 11 -8.7 15.1 -3 4.4 -2.5 2.5 -2.5 1.5 -3 .7 -2.5 -.4 -2.5 -1.6 -2.5 -2.6 -6 -7.3 -3 -4.9 -1.4 -3.9 -.5 -3.5 .3 -3.5 1.1 -3.5 1.8 -3.5 2.8 -4 4 -4.5 4.9 -4.6 22 -17.5 4 -2.5z"/>
<path d="M952.8 117.3l1.8 -.2 1.5 .5 .7 .7 .5 1.5 -.9 9.5 .8 9.5 -.4 3 -1.2 3.5 -2.7 5 -6.8 10.4 -11 18.3 -2.5 2.5 -2.5 1.5 -3 .6 -2.5 -.5 -3 -2.3 -4.7 -5.5 -3.3 -4.2 -2.2 -3.8 -1.2 -3.5 -.5 -3.5 .3 -3 1 -3.5 1.8 -3.5 2.9 -4 4.1 -4.5 4.8 -4.5 21 -16.5 4 -2.4z"/>
<path d="M952.8 118.8l2.4 .5 .7 1 .3 1.5 -.8 8.5 .7 9.5 -.5 3 -1.1 3 -2.4 4.5 -6.6 10 -10.4 17.4 -2.5 2.5 -2.5 1.5 -2.5 .5 -2.5 -.5 -2.7 -1.9 -4.8 -5.5 -3.5 -4.5 -1.9 -3.5 -1.1 -3.5 -.3 -3 .3 -3 1.1 -3.5 1.9 -3.5 3.1 -4 3.9 -4.2 5 -4.5 19.5 -15.3 4 -2.2z"/>
<path d="M950.0 120.8l2.1 -.4 1.5 .2 1 .8 .4 1.4 -.7 8.5 .7 8.5 -.4 3 -1 3 -2.3 4.5 -6.3 9.5 -9.9 16.6 -2 2.1 -2.5 1.6 -2.5 .7 -2.5 -.4 -2 -1.2 -2.5 -2.6 -5 -6.1 -2.6 -4.2 -1.3 -3.5 -.4 -3 .3 -3 .9 -3 1.5 -3 2.5 -3.5 7.6 -7.9 19 -15.1 3.5 -2.3z"/>
<path d="M949.5 122.3l3.1 0 1 .9 .3 1.1 -.6 8 .6 8.5 -1.4 5.5 -2.4 4.5 -15.5 24.9 -2 1.9 -2 1.2 -2.5 .6 -2 -.3 -2 -1.2 -2.1 -2.1 -5 -6 -2.5 -4 -1.1 -3 -.5 -3 .2 -3 .8 -3 1.6 -3 2.5 -3.5 7.1 -7.3 18 -14.3 3.5 -2.2z"/>
<path d="M949.1 123.8l2.5 .1 .9 .9 .3 1.5 -.6 7.5 .6 7.5 -1.4 5.5 -2.1 4 -14.7 23.6 -2 1.9 -2 1.2 -2.5 .5 -2 -.4 -2.4 -1.8 -3.5 -4 -3.1 -4 -1.8 -3 -1 -3 -.4 -3 .2 -2.5 1 -3 3.9 -6 7.1 -7.1 17 -13.4 3 -1.9z"/>
<path d="M946.9 125.8l3.2 -.4 1 .6 .5 1.3 -.5 7.5 .6 7 -1.2 5 -2.1 4 -13.8 22.3 -2 2 -2 1.1 -2 .4 -2 -.3 -2 -1.4 -2 -2.1 -4.1 -5 -2.1 -3.5 -1.1 -3 -.4 -2.5 .2 -2.5 .8 -2.5 3.3 -5.5 6.2 -6.5 16.2 -12.9z"/>
<path d="M946.4 127.3l2.7 -.3 1 .7 .4 1.1 -.4 7 .5 6.5 -1.2 5 -1.8 3.5 -13 20.9 -1.5 1.7 -2 1.3 -2 .5 -2 -.2 -1.5 -.9 -2 -2 -4 -4.8 -2.2 -3.5 -1 -2.5 -.4 -2.5 .1 -2.5 .8 -2.5 3.3 -5.5 5.9 -6.1 15 -11.9z"/>
<path d="M945.9 128.8l1.7 -.2 1 .3 .8 1.9 -.4 6 .5 6.5 -1.2 4.5 -14.2 23.2 -1.5 1.5 -2 1.1 -2 .2 -1.5 -.4 -2 -1.5 -3 -3.4 -3.9 -5.7 -.9 -2.5 -.3 -2.5 1 -4.5 3.2 -5 5.9 -5.9 14 -11.1z"/>
<path d="M945.6 130.3l2 .3 .7 1.7 -.3 5.5 .4 6 -1.2 4.5 -13.1 21.4 -3 2.4 -2 .4 -1.5 -.4 -1.5 -1 -2.2 -2.3 -2.8 -3.5 -1.9 -3 -1.1 -4.5 .1 -2 .8 -2.5 3.1 -4.8 5.5 -5.5 13 -10.3 2.5 -1.5z"/>
<path d="M943.4 132.3l2.7 -.3 1 1.3 -.2 6 .4 5 -1 4 -12.2 20.1 -3 2.3 -1.5 .4 -1.5 -.3 -3 -2.5 -3.3 -4 -1.5 -2.5 -1.1 -4 .6 -4 2.7 -4.5 4.6 -4.9 12 -9.5z"/>
<path d="M942.9 133.8l2.2 -.1 .6 .6 .3 1 .2 9.5 -.8 3.5 -1.7 3.5 -9.6 15.3 -2.5 2.1 -1.5 .5 -1.5 -.2 -1.5 -.9 -1.7 -1.8 -2.8 -3.4 -1.5 -2.6 -.9 -4 .8 -3.5 2.5 -4 4.3 -4.5 10.8 -8.5z"/>
<path d="M942.4 135.3l1.7 .1 .8 1.4 .1 9 -.9 3.5 -10 16.5 -2.5 2.1 -1.5 .4 -1.5 -.3 -3 -2.8 -3.5 -4.9 -.9 -3.5 .7 -3.5 2.6 -4 4.1 -4.1 10 -7.9z"/>
<path d="M940.5 137.3l2.1 -.4 .7 .4 .5 1 .1 8 -.7 3 -9.1 15.2 -2.5 2.1 -1.5 .3 -1 -.3 -2.5 -2.1 -3.5 -4.7 -.8 -3.5 .6 -3 2.2 -3.5 3.4 -3.5 8.6 -6.9z"/>
<path d="M940.0 138.8l1.6 -.2 1 1.2 .2 7 -.7 3 -8 13.3 -2 1.9 -1.5 .4 -1 -.1 -2.5 -2 -3 -4.2 -.8 -2.8 .6 -3 1.8 -3 3.4 -3.5 7.5 -6z"/>
<path d="M939.5 140.3l1.6 .2 .5 1.3 .1 5.5 -.7 3 -7.4 12.1 -2 1.5 -2 -.1 -2.5 -2.4 -2.1 -3.1 -.6 -2.5 .5 -2.5 1.7 -2.8 3 -3.1 7 -5.5z"/>
<path d="M937.8 142.3l1.8 -.3 .7 .8 .3 5 -.5 2.5 -6.5 10.8 -2 1.4 -1.5 -.1 -2 -1.7 -2.1 -2.9 -.5 -2.5 .4 -2 1.5 -2.5 2.2 -2.4z"/>
<path d="M937.3 143.8l1.3 -.1 .7 1.1 .2 3.5 -.5 2.5 -5.4 9 -1.5 1.2 -1.5 .1 -1.7 -1.3 -1.8 -2.5 -.6 -2 .3 -2 1.2 -2 2.1 -2.3 4.5 -3.6z"/>
<path d="M935.7 145.8l1.4 -.4 1 .7 .3 2.7 -.3 2 -4.5 7.6 -1.5 1.2 -1 .1 -1.5 -1 -1.4 -1.9 -.6 -1.5 .2 -2 .8 -1.5 1.8 -2z"/>
<path d="M935.3 147.3l1.3 0 .5 .7 .1 1.8 -.4 2 -3.2 5.2 -1.5 1.2 -1 -.1 -1.1 -.8 -1 -1.5 -.1 -2.5 2.1 -3z"/>
<path d="M933.8 149.3l1.3 -.4 .7 .4 .2 1 -.2 1.5 -2.2 3.9 -1 .8 -1 .2 -1.5 -1.4 -.2 -2 1.3 -2z"/>
<path d="M933.8 150.8l.8 .5 -.5 2 -1.5 1.7 -1 -.1 -.5 -1.1 .2 -1 1.3 -1.5z"/>
</g>
<g clip-path="url(#ca2)" stroke="#6A6AFA" stroke-width="0.9" stroke-opacity="0.7" fill="#6A6AFA" fill-opacity="0.03">
<ellipse cx="813.0" cy="162.0" rx="10.0" ry="22.0"/>
<ellipse cx="813.0" cy="162.0" rx="6.0" ry="13.2"/>
</g>
<g clip-path="url(#ca2)" stroke="#6A6AFA" stroke-width="0.9" stroke-opacity="0.7" fill="#6A6AFA" fill-opacity="0.03">
<ellipse cx="912.9" cy="282.0" rx="13.0" ry="9.0"/>
</g>
<g clip-path="url(#ca2)" stroke="#6A6AFA" stroke-width="0.9" stroke-opacity="0.7" fill="#6A6AFA" fill-opacity="0.03">
<ellipse cx="813.0" cy="282.0" rx="5.5" ry="5.5"/>
</g>
<g clip-path="url(#ca3)" stroke="#FF55A8" stroke-width="0.9" stroke-opacity="0.7" fill="#FF55A8" fill-opacity="0.03">
<path d="M1301.5 66.5l4.9 .1 3.5 1.7 1.5 1.7 .8 1.5 .7 4.5 -.4 5 -3.3 21.5 -2.1 29 -1.8 8.5 -2.7 7.5 -3.7 7 -5.6 8.5 -26.4 35.5 -15.5 22.6 -6 7.7 -6.5 6.4 -6 3.9 -3 1 -2.5 .4 -2.5 -.2 -2.5 -.8 -4 -2.5 -4 -3.7 -4.5 -5.1 -4.1 -5.7 -6.7 -12 -10.7 -23.5 -2.6 -8 -.8 -7 .9 -7.5 2.6 -7.5 2.4 -4.5 2.7 -4 7.3 -7.5 12 -9.7 27.5 -20 11.5 -8.9 10 -8.6 19 -17.7 5.5 -4 5 -2.7 5 -1.9z"/>
<path d="M1298.6 72.0l4.3 .1 2 .7 1.5 1.1 2 3.1 .6 4 -.4 4.5 -3 20 -2.1 27 -1.6 8 -2.6 7 -3.5 6.5 -4.9 7.5 -24.5 32.9 -14.5 21.1 -5.5 7.1 -6 5.9 -5.5 3.6 -5 1.3 -2.5 -.1 -2.5 -.8 -3.5 -2.2 -4 -3.7 -4 -4.6 -4 -5.5 -6.1 -11 -10 -22 -2.3 -7 -.7 -6.5 .9 -7 2.3 -7 2.1 -4 2.8 -4 6.8 -7 11.3 -9 24.9 -18.2 11 -8.5 9 -7.7 18 -16.8 5 -3.6 4.5 -2.5 5 -1.8z"/>
<path d="M1295.2 77.0l4.2 0 3.5 1.5 1.8 2.5 .7 4 -.3 4.5 -2.8 18.5 -1.9 25 -1.5 7.5 -2.4 6.5 -3.2 6 -4.9 7.4 -22.5 30.3 -13.5 19.7 -5 6.4 -5.5 5.6 -5.5 3.6 -4.5 1.2 -2.5 -.2 -2 -.7 -3.5 -2.1 -3.5 -3.2 -3.9 -4.5 -3.6 -5 -5.8 -10.5 -9.1 -20 -2.3 -7 -.6 -6 .8 -6.5 2.2 -6.5 4.2 -7 6.8 -7 10 -8 33.8 -25.2 8.5 -7.2 16.5 -15.4 4.5 -3.3 4 -2.2 4.5 -1.8z"/>
<path d="M1292.1 81.5l4.3 -.1 3.1 1.1 2 2.5 .8 4 -.3 4.5 -2.6 17 -1.8 23.5 -1.3 6.5 -2.2 6 -3.2 6 -4.2 6.5 -21.3 28.6 -12.5 18.2 -5 6.4 -5 5 -5 3.2 -4.5 1.2 -4 -.9 -3 -1.8 -3.5 -3.2 -3.5 -3.9 -3.5 -4.9 -5.2 -9.4 -8.7 -19 -2.1 -6.5 -.6 -5.5 .7 -6 2 -6 2.1 -4 2.9 -4 3.8 -4 4.7 -4 37.4 -28 8.5 -7.3 12 -11.4 5 -4.2 7 -4.1z"/>
<path d="M1289.6 85.5l4.3 -.2 3 1.1 1.8 2.1 .8 3.5 -.3 4.5 -2.5 16.5 -1.5 21 -1.3 6.5 -2 5.5 -2.8 5.5 -4.3 6.5 -19.9 26.8 -11.5 16.7 -4.5 5.9 -5 5 -4.5 3 -4 1.1 -4 -.7 -3 -1.8 -3 -2.7 -3.5 -3.9 -3.2 -4.4 -5 -9 -8.2 -18 -1.9 -6 -.5 -5 .7 -6 1.9 -5.5 2.2 -4 2.6 -3.5 7.5 -7 35.4 -26.6 23.5 -21.1 6.5 -3.9z"/>
<path d="M1287.8 89.0l3.6 -.2 3 1 1.9 2.2 .7 3.5 -2.6 19 -1.5 20.5 -1.3 6 -1.8 5 -2.6 5 -3.9 6 -18.9 25.4 -11 16 -4 5.2 -4.5 4.5 -4.5 2.9 -4 1 -3.5 -.7 -2.5 -1.5 -3.2 -2.8 -3.3 -3.8 -3 -4.2 -4.6 -8.5 -7.5 -16.5 -1.8 -5.5 -.5 -5 .5 -5 1.9 -5.5 1.8 -3.5 2.6 -3.5 7.5 -7 33.1 -24.9 22 -19.7 6 -3.6z"/>
<path d="M1287.1 92.0l3.3 .1 2.5 1.2 1.4 2.2 .4 3 -2.3 17.5 -1.5 19.5 -1.2 5.5 -1.8 5 -2.6 5 -3.7 5.5 -17.4 23.5 -10.3 14.9 -4 5.2 -4.5 4.4 -4 2.6 -3.5 .9 -3.5 -.7 -2.5 -1.5 -3 -2.7 -5.6 -7.1 -4.5 -8 -7 -15.5 -1.8 -5.5 -.5 -4.5 .6 -5 1.6 -5 3.3 -5.5 5.3 -5.5 8.1 -6.5 25.6 -19 19.4 -17.6 3.5 -2.6 3.5 -1.9 3.5 -1.3z"/>
<path d="M1284.3 95.0l3.6 -.2 2.5 .8 1.6 1.9 .7 3 -.2 3.5 -2.1 14 -1.2 17.5 -1.1 5.5 -1.6 4.5 -2.4 4.5 -3.6 5.5 -16.6 22.4 -10 14.5 -3.5 4.5 -4 4 -4 2.6 -3.5 .9 -3 -.5 -2.5 -1.5 -2.5 -2.2 -5.5 -6.8 -4.4 -7.9 -6.6 -14.5 -1.7 -5 -.5 -4.5 .5 -4.5 1.6 -5 1.9 -3.5 2.2 -3 6.5 -6 29.3 -22 19.7 -17.7 5 -3z"/>
<path d="M1283.0 97.5l3.4 -.2 2.5 .9 1.4 1.8 .6 2.8 -2.1 16.2 -1.3 17 -1 5 -1.6 4.5 -2.3 4.5 -3.3 5 -28.4 39 -4 4 -3.5 2.3 -3.5 .9 -3 -.6 -2.5 -1.5 -2.3 -2.1 -5.2 -6.6 -4 -7.2 -6.2 -13.7 -1.7 -5 -.4 -4 .5 -4.5 1.5 -4.5 1.6 -3 2.2 -3 5.8 -5.5 28.2 -21.2 18.5 -16.6 5 -3.1z"/>
<path d="M1280.6 100.0l3.8 -.5 2.5 .6 1.8 1.9 .6 2.5 -.2 3.5 -1.8 12.5 -1.1 15.5 -1 5 -1.4 4 -2.3 4.5 -3.3 5 -27.3 37.4 -3.5 3.4 -3.5 2.3 -3 .7 -3 -.6 -2 -1.2 -2.5 -2.2 -5 -6.3 -3.6 -6.5 -5.9 -13 -1.6 -4.5 -.5 -4 .3 -4 1.4 -4.5 3.3 -5.5 5.6 -5.5 27 -20.3 17.5 -15.7 4.5 -2.9z"/>
<path d="M1279.6 102.0l3.3 -.5 2.5 .5 1.7 1.5 .8 3 -1.9 15 -1.1 15 -.9 4.5 -1.4 4 -2.1 4 -3.1 4.8 -26 35.6 -3.5 3.5 -3 2 -3 .9 -3 -.6 -4.3 -3.2 -4.7 -5.9 -3.7 -6.6 -5.6 -12.5 -1.4 -4 -.5 -4 .4 -4 1.3 -4 3.4 -5.5 5.2 -5 25.9 -19.5 16.5 -14.8 4 -2.6z"/>
<path d="M1280.0 103.5l2.9 -.1 2 .8 1.3 1.8 .4 2.5 -1.8 14 -1.1 14.5 -.9 4.5 -1.5 4 -4.8 8 -24.6 33.7 -3.5 3.5 -3 2 -3 .8 -2.6 -.5 -1.9 -1.1 -2.5 -2.3 -4.4 -5.6 -3.3 -6 -5.5 -12 -1.3 -4 -.5 -3.5 .4 -4 1.3 -4 3.5 -5.5 5.4 -5 23.9 -17.9 16 -14.4 4.5 -2.8z"/>
<path d="M1280.0 105.0l2.4 .1 1.6 .9 1.1 1.5 .4 2.5 -1.8 13 -1.1 14.5 -.8 4 -1.5 4 -4.8 8 -23.6 32.2 -3 3 -3 2 -3 .7 -2.5 -.5 -4 -3.1 -4.2 -5.3 -3.3 -6 -5.2 -11.5 -1.4 -4 -.3 -3.5 .5 -4 1.2 -3.5 2.4 -4 3.8 -4 25.5 -19.4 14 -12.7 5.5 -3.5z"/>
<path d="M1278.8 106.5l2.1 0 2 .8 1 1.3 .5 2.4 -1.6 13 -1.1 13.5 -.8 4 -1.5 4 -4.5 7.5 -23 31.4 -3 2.8 -3 1.8 -2.5 .6 -2.5 -.6 -4 -3.3 -4 -5.2 -3 -5.5 -5 -11 -1.1 -3.5 -.4 -3.5 .5 -4 1.2 -3.5 2.5 -4 3.4 -3.5 24.4 -18.5 14 -12.6 4.5 -2.9z"/>
<path d="M1277.7 108.0l2.2 -.1 2 .8 1 1.3 .5 2.5 -1.6 12.5 -1 12.5 -.8 4 -1.2 3.5 -4.5 7.5 -21.9 29.9 -3 3 -2.5 1.6 -2.5 .7 -2.5 -.4 -3.7 -2.8 -3.9 -5 -3.1 -5.5 -4.8 -10.5 -1.2 -3.5 -.4 -3.5 .4 -3.5 1.1 -3.5 2.9 -4.5 4.7 -4.5 21.5 -16.1 14.5 -13 4 -2.3z"/>
<path d="M1276.6 109.5l2.3 -.1 2 .7 1 1.4 .4 2 -1.5 12 -.9 12.5 -.7 3.5 -1.3 3.5 -4.2 7 -20.8 28.5 -3 3 -2.5 1.6 -2.5 .7 -2.5 -.5 -3.5 -2.7 -3.6 -4.6 -3.1 -5.5 -4.5 -10 -1.2 -3.5 -.3 -3 .4 -3.5 1.2 -3.5 2.5 -4 4.8 -4.5 20.3 -15.3 13.5 -12.1 4 -2.4z"/>
<path d="M1275.6 111.0l2.3 -.2 1.9 .7 1.1 1.4 .4 2.1 -1.4 11.5 -.9 11.5 -.7 3.5 -1.3 3.5 -4.1 6.8 -20 27.4 -3 2.8 -2.5 1.5 -2.5 .5 -1.8 -.5 -3.3 -2.5 -3.5 -4.5 -2.9 -5.1 -4.5 -9.9 -1 -3 -.3 -3 .3 -3 1.1 -3.5 2.9 -4.5 4.3 -4 19.2 -14.4 13 -11.6 3.5 -2.2z"/>
<path d="M1274.6 112.5l2.3 -.2 2 .7 1 1.3 .3 1.7 -2.1 22 -1.7 6.5 -3.8 6.5 -19.2 26.2 -2.5 2.6 -2.5 1.7 -2.5 .6 -2 -.4 -3 -2.2 -3.6 -4.5 -2.8 -5 -4.1 -9 -1 -3 -.4 -3 .3 -3 .9 -3 2.4 -4 4.2 -4 18.6 -14 12.5 -11.2 3.5 -2.2z"/>
<path d="M1273.6 114.0l2.3 -.3 2 .7 .9 1.1 .4 2 -2.1 21 -1.6 6 -3.9 6.5 -18.2 24.9 -2.5 2.4 -2.5 1.5 -2 .5 -2 -.5 -3 -2.3 -3.1 -4 -2.5 -4.5 -4.1 -9 -1 -3 -.3 -2.5 .3 -3 .9 -3 2.6 -4 3.7 -3.5 18 -13.6 11.5 -10.2 3 -2z"/>
<path d="M1272.7 115.5l2.2 -.3 1.5 .3 1.2 1 .5 2 -1.9 20 -1.6 6 -3.5 6 -17.2 23.5 -2.5 2.4 -2 1.4 -2 .6 -2 -.3 -2.9 -2.1 -3.1 -3.8 -2.5 -4.4 -3.8 -8.3 -1 -3 -.3 -2.5 .2 -2.5 .9 -3 2.5 -4 3.7 -3.5 16.8 -12.7 11 -9.8 3 -2z"/>
<path d="M1271.7 117.0l2.2 -.4 1.6 .4 1.1 1 .5 2 -1.8 19 -1.6 5.5 -3.3 5.6 -16.5 22.5 -2.5 2.4 -2 1.2 -2 .3 -1.5 -.3 -2.5 -1.9 -3.1 -3.8 -2.4 -4.3 -3.5 -7.7 -1 -3 -.2 -2.5 .3 -2.5 .8 -2.5 2.2 -3.5 3.4 -3.3 16 -12 10.5 -9.4 2.5 -1.7z"/>
<path d="M1270.8 118.5l2.1 -.4 1.5 .3 1 .7 .6 1.9 -1.6 18 -1.5 5.5 -3.3 5.5 -15.7 21.2 -2 1.9 -2 1.2 -2 .4 -1.5 -.5 -2.5 -1.9 -2.6 -3.3 -5.4 -11 -1.3 -5 .2 -2.5 .7 -2.5 2.2 -3.5 3 -3 15.2 -11.4 10 -8.9 2.5 -1.7z"/>
<path d="M1269.9 120.0l2 -.4 1.5 .2 1 .8 .6 1.9 -1.5 16.5 -1.3 5 -3.2 5.5 -14.6 19.8 -3.5 2.9 -2 .6 -1.5 -.3 -2.5 -1.8 -2.5 -3.1 -5.3 -10.6 -.8 -2.5 -.3 -2.5 1 -4.5 1.8 -3 3.1 -3 14.5 -11 9 -8z"/>
<path d="M1269.0 121.5l1.9 -.4 1.5 .1 1 .8 .5 1.5 -1.3 15.5 -1.3 5 -2.9 5 -13.5 18.4 -3.5 3 -2 .5 -1.5 -.3 -2.2 -1.6 -2.4 -3 -4.7 -9.5 -1.2 -4.5 .1 -2 .7 -2.5 1.8 -3 3 -3 13.4 -10.1 8.5 -7.6z"/>
<path d="M1268.2 123.0l1.7 -.5 1.5 .2 1 .8 .5 1.5 -1.3 14.5 -1.2 4.5 -2.6 4.5 -12.9 17.5 -3.5 2.8 -1.5 .3 -1.5 -.4 -2.1 -1.7 -2.3 -3 -4.3 -9 -.9 -4 .8 -4 1.5 -2.5 3.1 -3 12.2 -9.2 8 -7.1z"/>
<path d="M1267.3 124.5l1.6 -.5 1.5 .1 1 .8 .5 1.6 -1.2 13 -1.1 4.5 -2.7 4.4 -11.5 15.7 -3 2.6 -1.5 .5 -1.5 -.2 -2 -1.5 -2 -2.4 -4.1 -8.1 -1.1 -4 .6 -4 1.5 -2.5 2.4 -2.5 11.7 -8.9 7.5 -6.6z"/>
<path d="M1266.5 126.0l2.9 -.4 1 .8 .4 1.1 -1 12.5 -1.1 4 -2.4 4 -10.9 14.7 -3 2.4 -1.5 .2 -1 -.3 -1.5 -1 -2 -2.5 -4 -8 -.8 -3.5 .7 -3.5 1.6 -2.5 2 -2 10.6 -8 6.9 -6.1z"/>
<path d="M1265.7 127.5l2.7 -.4 1 .7 .4 1.2 -.9 11 -.9 3.5 -2.3 4 -9.8 13.3 -2.5 2.2 -1.5 .4 -1 -.1 -1.5 -.9 -2 -2.4 -3.3 -6.5 -1.1 -3.5 .5 -3.5 1.5 -2.5 2 -2 9.9 -7.5 6 -5.3z"/>
<path d="M1266.7 128.5l1.5 .5 .5 2 -.8 9.5 -1 3.5 -2.1 3.5 -8.9 11.9 -2.5 1.9 -2 .1 -1.5 -1 -1.5 -1.9 -3 -6 -1 -3.5 .6 -3 1.2 -2 2.6 -2.5 8.1 -6.2 6 -5.1 2 -1.3z"/>
<path d="M1265.8 130.0l1.4 .5 .5 2 -.7 8 -1 3.5 -1.8 3 -7.8 10.5 -2.5 2 -2 0 -2.5 -2.5 -3 -6 -.6 -3 .6 -2.5 1.4 -2 2.1 -2 7 -5.3 5.5 -4.7z"/>
<path d="M1264.9 131.5l1.3 .5 .4 1.5 -.6 7.5 -.8 3 -8.8 12.1 -2 1.5 -2 -.1 -2.3 -2.5 -2.4 -5 -.5 -2.5 .7 -2.5 2.6 -3 10.9 -8.8 2 -1.3z"/>
<path d="M1262.6 133.5l1.8 -.5 .8 .5 .3 1 -.3 6 -.7 3 -1.8 3 -5.8 7.7 -2 1.5 -1.5 .1 -2 -1.9 -2.2 -4.4 -.6 -2.5 .5 -2 2.5 -3z"/>
<path d="M1261.9 135.0l1.5 -.4 1 .9 -.1 5 -.7 3 -1.7 2.8 -5 6.4 -1.5 1.1 -1.5 0 -1.5 -1.4 -1.8 -3.4 -.5 -2 .3 -2 2.4 -3z"/>
<path d="M1261.2 136.5l1.7 -.2 .5 1 -.1 3.7 -.6 2.5 -5.3 7.3 -1.5 1.1 -1.5 -.1 -1.5 -1.7 -1.2 -2.6 -.2 -1.5 .3 -1.5 2.2 -2.5z"/>
<path d="M1260.6 138.0l1.3 -.1 .5 1.1 0 2.5 -.6 2 -3.9 5.3 -1.5 1.2 -1 0 -1 -.7 -1 -1.8 -.5 -1.5 .2 -1.5 2 -2.5z"/>
<path d="M1260.3 139.5l.6 .1 .5 1.4 -.8 3 -2.7 3.4 -1 .6 -1 0 -1.4 -2 .1 -2 2.3 -2.5z"/>
<path d="M1258.5 141.5l1.4 -.1 .1 1.6 -1.6 2.3 -1.5 .7 -.9 -1 0 -1 .9 -1.3z"/>
</g>
<g clip-path="url(#ca3)" stroke="#FF55A8" stroke-width="0.9" stroke-opacity="0.7" fill="#FF55A8" fill-opacity="0.04">
<ellipse cx="1220.9" cy="282.0" rx="52.0" ry="15.7"/>
<ellipse cx="1220.9" cy="282.0" rx="47.0" ry="14.2"/>
<ellipse cx="1220.9" cy="282.0" rx="42.1" ry="12.7"/>
<ellipse cx="1220.9" cy="282.0" rx="37.1" ry="11.2"/>
<ellipse cx="1220.9" cy="282.0" rx="32.2" ry="9.7"/>
<ellipse cx="1220.9" cy="282.0" rx="27.2" ry="8.2"/>
<ellipse cx="1220.9" cy="282.0" rx="22.3" ry="6.7"/>
<ellipse cx="1220.9" cy="282.0" rx="17.3" ry="5.2"/>
<ellipse cx="1220.9" cy="282.0" rx="12.4" ry="3.7"/>
<ellipse cx="1220.9" cy="282.0" rx="7.4" ry="2.2"/>
</g>
<g clip-path="url(#ca3)" stroke="#FF55A8" stroke-width="0.9" stroke-opacity="0.7" fill="#FF55A8" fill-opacity="0.03">
<ellipse cx="1133.0" cy="178.0" rx="7.0" ry="15.0"/>
</g>
<g clip-path="url(#ca3)" stroke="#FF55A8" stroke-width="0.9" stroke-opacity="0.7" fill="#FF55A8" fill-opacity="0.1">
<ellipse cx="1133.0" cy="282.0" rx="11.0" ry="11.0"/>
<ellipse cx="1133.0" cy="282.0" rx="9.3" ry="9.3"/>
<ellipse cx="1133.0" cy="282.0" rx="7.6" ry="7.6"/>
<ellipse cx="1133.0" cy="282.0" rx="5.9" ry="5.9"/>
<ellipse cx="1133.0" cy="282.0" rx="4.2" ry="4.2"/>
<ellipse cx="1133.0" cy="282.0" rx="2.5" ry="2.5"/>
</g>
<path d="M163.6 0V282.6H446.5V0" stroke="#1a1a1a" stroke-width="1.1" fill="none"/>
<path d="M163.6 0.6H446.5" stroke="#1a1a1a" stroke-width="1.1" fill="none"/>
<path d="M163.9 282.6v8M234.1 282.6v8M304.2 282.6v8M374.4 282.6v8M444.5 282.6v8" stroke="#1a1a1a" stroke-width="1.7" fill="none"/>
<path d="M185.0 282.6v4M197.4 282.6v4M206.1 282.6v4M212.9 282.6v4M218.5 282.6v4M223.2 282.6v4M227.3 282.6v4M230.8 282.6v4M255.2 282.6v4M267.5 282.6v4M276.3 282.6v4M283.1 282.6v4M288.6 282.6v4M293.3 282.6v4M297.4 282.6v4M301.0 282.6v4M325.3 282.6v4M337.7 282.6v4M346.4 282.6v4M353.2 282.6v4M358.8 282.6v4M363.5 282.6v4M367.6 282.6v4M371.1 282.6v4M395.5 282.6v4M407.8 282.6v4M416.6 282.6v4M423.4 282.6v4M428.9 282.6v4M433.6 282.6v4M437.7 282.6v4M441.3 282.6v4" stroke="#1a1a1a" stroke-width="1" fill="none"/>
<text x="169.2" y="306.9" font-size="10.4" fill="#222">10<tspan dy="-6.8" font-size="8.8">0</tspan></text>
<text x="235.6" y="306.9" font-size="10.4" fill="#222">10<tspan dy="-6.8" font-size="8.8">1</tspan></text>
<text x="305.7" y="306.9" font-size="10.4" fill="#222">10<tspan dy="-6.8" font-size="8.8">2</tspan></text>
<text x="375.9" y="306.9" font-size="10.4" fill="#222">10<tspan dy="-6.8" font-size="8.8">3</tspan></text>
<text x="445.5" y="306.9" font-size="10.4" fill="#222" text-anchor="end">10<tspan dy="-6.8" font-size="8.8">4</tspan></text>
<path d="M163.6 282.1h-8.5M163.6 211.7h-8.5M163.6 141.3h-8.5M163.6 70.9h-8.5M163.6 0.5h-8.5" stroke="#1a1a1a" stroke-width="1.7" fill="none"/>
<path d="M163.6 260.9h-4M163.6 248.5h-4M163.6 239.7h-4M163.6 232.9h-4M163.6 227.3h-4M163.6 222.6h-4M163.6 218.5h-4M163.6 214.9h-4M163.6 190.5h-4M163.6 178.1h-4M163.6 169.3h-4M163.6 162.5h-4M163.6 156.9h-4M163.6 152.2h-4M163.6 148.1h-4M163.6 144.5h-4M163.6 120.1h-4M163.6 107.7h-4M163.6 98.9h-4M163.6 92.1h-4M163.6 86.5h-4M163.6 81.8h-4M163.6 77.7h-4M163.6 74.1h-4M163.6 49.7h-4M163.6 37.3h-4M163.6 28.5h-4M163.6 21.7h-4M163.6 16.1h-4M163.6 11.4h-4M163.6 7.3h-4M163.6 3.7h-4" stroke="#1a1a1a" stroke-width="1" fill="none"/>
<text x="150.1" y="282.4" font-size="10.4" fill="#222" text-anchor="end">10<tspan dy="-5.2" font-size="8.8">0</tspan></text>
<text x="150.1" y="218.5" font-size="10.4" fill="#222" text-anchor="end">10<tspan dy="-5.2" font-size="8.8">1</tspan></text>
<text x="150.1" y="148.1" font-size="10.4" fill="#222" text-anchor="end">10<tspan dy="-5.2" font-size="8.8">2</tspan></text>
<text x="150.1" y="77.7" font-size="10.4" fill="#222" text-anchor="end">10<tspan dy="-5.2" font-size="8.8">3</tspan></text>
<text x="150.1" y="13.0" font-size="10.4" fill="#222" text-anchor="end">10<tspan dy="-5.2" font-size="8.8">4</tspan></text>
<path d="M297.6 0V282.6M163.6 140.3H446.5" stroke="#000" stroke-width="2.1" fill="none"/>
<text x="381.6" y="43.7" font-size="27.3" textLength="52.7" lengthAdjust="spacingAndGlyphs" stroke="#000" stroke-width="0.8">7.42</text>
<text x="271.9" y="347.9" font-size="30.5" textLength="61.8" lengthAdjust="spacingAndGlyphs" stroke="#000" stroke-width="0.55">PBS</text>
<path d="M488.2 0V282.6H771.1V0" stroke="#1a1a1a" stroke-width="1.1" fill="none"/>
<path d="M488.2 0.6H771.1" stroke="#1a1a1a" stroke-width="1.1" fill="none"/>
<path d="M488.5 282.6v8M558.6 282.6v8M628.8 282.6v8M699.0 282.6v8M769.1 282.6v8" stroke="#1a1a1a" stroke-width="1.7" fill="none"/>
<path d="M509.6 282.6v4M522.0 282.6v4M530.7 282.6v4M537.5 282.6v4M543.1 282.6v4M547.8 282.6v4M551.9 282.6v4M555.4 282.6v4M579.8 282.6v4M592.1 282.6v4M600.9 282.6v4M607.7 282.6v4M613.2 282.6v4M617.9 282.6v4M622.0 282.6v4M625.6 282.6v4M649.9 282.6v4M662.3 282.6v4M671.0 282.6v4M677.8 282.6v4M683.4 282.6v4M688.1 282.6v4M692.2 282.6v4M695.7 282.6v4M720.1 282.6v4M732.4 282.6v4M741.2 282.6v4M748.0 282.6v4M753.5 282.6v4M758.2 282.6v4M762.3 282.6v4M765.9 282.6v4" stroke="#1a1a1a" stroke-width="1" fill="none"/>
<text x="493.8" y="306.9" font-size="10.4" fill="#222">10<tspan dy="-6.8" font-size="8.8">0</tspan></text>
<text x="560.1" y="306.9" font-size="10.4" fill="#222">10<tspan dy="-6.8" font-size="8.8">1</tspan></text>
<text x="630.3" y="306.9" font-size="10.4" fill="#222">10<tspan dy="-6.8" font-size="8.8">2</tspan></text>
<text x="700.5" y="306.9" font-size="10.4" fill="#222">10<tspan dy="-6.8" font-size="8.8">3</tspan></text>
<text x="770.1" y="306.9" font-size="10.4" fill="#222" text-anchor="end">10<tspan dy="-6.8" font-size="8.8">4</tspan></text>
<path d="M488.2 282.1h-8.5M488.2 211.7h-8.5M488.2 141.3h-8.5M488.2 70.9h-8.5M488.2 0.5h-8.5" stroke="#1a1a1a" stroke-width="1.7" fill="none"/>
<path d="M488.2 260.9h-4M488.2 248.5h-4M488.2 239.7h-4M488.2 232.9h-4M488.2 227.3h-4M488.2 222.6h-4M488.2 218.5h-4M488.2 214.9h-4M488.2 190.5h-4M488.2 178.1h-4M488.2 169.3h-4M488.2 162.5h-4M488.2 156.9h-4M488.2 152.2h-4M488.2 148.1h-4M488.2 144.5h-4M488.2 120.1h-4M488.2 107.7h-4M488.2 98.9h-4M488.2 92.1h-4M488.2 86.5h-4M488.2 81.8h-4M488.2 77.7h-4M488.2 74.1h-4M488.2 49.7h-4M488.2 37.3h-4M488.2 28.5h-4M488.2 21.7h-4M488.2 16.1h-4M488.2 11.4h-4M488.2 7.3h-4M488.2 3.7h-4" stroke="#1a1a1a" stroke-width="1" fill="none"/>
<text x="474.7" y="282.4" font-size="10.4" fill="#222" text-anchor="end">10<tspan dy="-5.2" font-size="8.8">0</tspan></text>
<text x="474.7" y="218.5" font-size="10.4" fill="#222" text-anchor="end">10<tspan dy="-5.2" font-size="8.8">1</tspan></text>
<text x="474.7" y="148.1" font-size="10.4" fill="#222" text-anchor="end">10<tspan dy="-5.2" font-size="8.8">2</tspan></text>
<text x="474.7" y="77.7" font-size="10.4" fill="#222" text-anchor="end">10<tspan dy="-5.2" font-size="8.8">3</tspan></text>
<text x="474.7" y="13.0" font-size="10.4" fill="#222" text-anchor="end">10<tspan dy="-5.2" font-size="8.8">4</tspan></text>
<path d="M622.2 0V282.6M488.2 140.3H771.1" stroke="#000" stroke-width="2.1" fill="none"/>
<text x="703.0" y="43.7" font-size="27.3" textLength="53.2" lengthAdjust="spacingAndGlyphs" stroke="#000" stroke-width="0.8">16.8</text>
<text x="544.8" y="347.9" font-size="30.5" textLength="146.6" lengthAdjust="spacingAndGlyphs" stroke="#000" stroke-width="0.55">ZIF-8@HA</text>
<path d="M812.8 0V282.6H1095.7V0" stroke="#1a1a1a" stroke-width="1.1" fill="none"/>
<path d="M812.8 0.6H1095.7" stroke="#1a1a1a" stroke-width="1.1" fill="none"/>
<path d="M813.1 282.6v8M883.2 282.6v8M953.4 282.6v8M1023.5 282.6v8M1093.7 282.6v8" stroke="#1a1a1a" stroke-width="1.7" fill="none"/>
<path d="M834.2 282.6v4M846.6 282.6v4M855.3 282.6v4M862.1 282.6v4M867.7 282.6v4M872.4 282.6v4M876.5 282.6v4M880.0 282.6v4M904.4 282.6v4M916.7 282.6v4M925.5 282.6v4M932.3 282.6v4M937.8 282.6v4M942.5 282.6v4M946.6 282.6v4M950.2 282.6v4M974.5 282.6v4M986.9 282.6v4M995.6 282.6v4M1002.4 282.6v4M1008.0 282.6v4M1012.7 282.6v4M1016.8 282.6v4M1020.3 282.6v4M1044.7 282.6v4M1057.0 282.6v4M1065.8 282.6v4M1072.6 282.6v4M1078.1 282.6v4M1082.8 282.6v4M1086.9 282.6v4M1090.5 282.6v4" stroke="#1a1a1a" stroke-width="1" fill="none"/>
<text x="818.4" y="306.9" font-size="10.4" fill="#222">10<tspan dy="-6.8" font-size="8.8">0</tspan></text>
<text x="884.7" y="306.9" font-size="10.4" fill="#222">10<tspan dy="-6.8" font-size="8.8">1</tspan></text>
<text x="954.9" y="306.9" font-size="10.4" fill="#222">10<tspan dy="-6.8" font-size="8.8">2</tspan></text>
<text x="1025.0" y="306.9" font-size="10.4" fill="#222">10<tspan dy="-6.8" font-size="8.8">3</tspan></text>
<text x="1094.7" y="306.9" font-size="10.4" fill="#222" text-anchor="end">10<tspan dy="-6.8" font-size="8.8">4</tspan></text>
<path d="M812.8 282.1h-8.5M812.8 211.7h-8.5M812.8 141.3h-8.5M812.8 70.9h-8.5M812.8 0.5h-8.5" stroke="#1a1a1a" stroke-width="1.7" fill="none"/>
<path d="M812.8 260.9h-4M812.8 248.5h-4M812.8 239.7h-4M812.8 232.9h-4M812.8 227.3h-4M812.8 222.6h-4M812.8 218.5h-4M812.8 214.9h-4M812.8 190.5h-4M812.8 178.1h-4M812.8 169.3h-4M812.8 162.5h-4M812.8 156.9h-4M812.8 152.2h-4M812.8 148.1h-4M812.8 144.5h-4M812.8 120.1h-4M812.8 107.7h-4M812.8 98.9h-4M812.8 92.1h-4M812.8 86.5h-4M812.8 81.8h-4M812.8 77.7h-4M812.8 74.1h-4M812.8 49.7h-4M812.8 37.3h-4M812.8 28.5h-4M812.8 21.7h-4M812.8 16.1h-4M812.8 11.4h-4M812.8 7.3h-4M812.8 3.7h-4" stroke="#1a1a1a" stroke-width="1" fill="none"/>
<text x="799.3" y="282.4" font-size="10.4" fill="#222" text-anchor="end">10<tspan dy="-5.2" font-size="8.8">0</tspan></text>
<text x="799.3" y="218.5" font-size="10.4" fill="#222" text-anchor="end">10<tspan dy="-5.2" font-size="8.8">1</tspan></text>
<text x="799.3" y="148.1" font-size="10.4" fill="#222" text-anchor="end">10<tspan dy="-5.2" font-size="8.8">2</tspan></text>
<text x="799.3" y="77.7" font-size="10.4" fill="#222" text-anchor="end">10<tspan dy="-5.2" font-size="8.8">3</tspan></text>
<text x="799.3" y="13.0" font-size="10.4" fill="#222" text-anchor="end">10<tspan dy="-5.2" font-size="8.8">4</tspan></text>
<path d="M946.8 0V282.6M812.8 140.3H1095.7" stroke="#000" stroke-width="2.1" fill="none"/>
<text x="1020.0" y="43.7" font-size="27.3" textLength="52.5" lengthAdjust="spacingAndGlyphs" stroke="#000" stroke-width="0.8">22.5</text>
<text x="938.7" y="347.9" font-size="30.5" textLength="68.5" lengthAdjust="spacingAndGlyphs" stroke="#000" stroke-width="0.55">MZH</text>
<path d="M1132.8 0V282.6H1415.7V0" stroke="#1a1a1a" stroke-width="1.1" fill="none"/>
<path d="M1132.8 0.6H1415.7" stroke="#1a1a1a" stroke-width="1.1" fill="none"/>
<path d="M1133.1 282.6v8M1203.2 282.6v8M1273.4 282.6v8M1343.5 282.6v8M1413.7 282.6v8" stroke="#1a1a1a" stroke-width="1.7" fill="none"/>
<path d="M1154.2 282.6v4M1166.6 282.6v4M1175.3 282.6v4M1182.1 282.6v4M1187.7 282.6v4M1192.4 282.6v4M1196.5 282.6v4M1200.0 282.6v4M1224.4 282.6v4M1236.7 282.6v4M1245.5 282.6v4M1252.3 282.6v4M1257.8 282.6v4M1262.5 282.6v4M1266.6 282.6v4M1270.2 282.6v4M1294.5 282.6v4M1306.9 282.6v4M1315.6 282.6v4M1322.4 282.6v4M1328.0 282.6v4M1332.7 282.6v4M1336.8 282.6v4M1340.3 282.6v4M1364.7 282.6v4M1377.0 282.6v4M1385.8 282.6v4M1392.6 282.6v4M1398.1 282.6v4M1402.8 282.6v4M1406.9 282.6v4M1410.5 282.6v4" stroke="#1a1a1a" stroke-width="1" fill="none"/>
<text x="1138.4" y="306.9" font-size="10.4" fill="#222">10<tspan dy="-6.8" font-size="8.8">0</tspan></text>
<text x="1204.8" y="306.9" font-size="10.4" fill="#222">10<tspan dy="-6.8" font-size="8.8">1</tspan></text>
<text x="1274.9" y="306.9" font-size="10.4" fill="#222">10<tspan dy="-6.8" font-size="8.8">2</tspan></text>
<text x="1345.0" y="306.9" font-size="10.4" fill="#222">10<tspan dy="-6.8" font-size="8.8">3</tspan></text>
<text x="1414.7" y="306.9" font-size="10.4" fill="#222" text-anchor="end">10<tspan dy="-6.8" font-size="8.8">4</tspan></text>
<path d="M1132.8 282.1h-8.5M1132.8 211.7h-8.5M1132.8 141.3h-8.5M1132.8 70.9h-8.5M1132.8 0.5h-8.5" stroke="#1a1a1a" stroke-width="1.7" fill="none"/>
<path d="M1132.8 260.9h-4M1132.8 248.5h-4M1132.8 239.7h-4M1132.8 232.9h-4M1132.8 227.3h-4M1132.8 222.6h-4M1132.8 218.5h-4M1132.8 214.9h-4M1132.8 190.5h-4M1132.8 178.1h-4M1132.8 169.3h-4M1132.8 162.5h-4M1132.8 156.9h-4M1132.8 152.2h-4M1132.8 148.1h-4M1132.8 144.5h-4M1132.8 120.1h-4M1132.8 107.7h-4M1132.8 98.9h-4M1132.8 92.1h-4M1132.8 86.5h-4M1132.8 81.8h-4M1132.8 77.7h-4M1132.8 74.1h-4M1132.8 49.7h-4M1132.8 37.3h-4M1132.8 28.5h-4M1132.8 21.7h-4M1132.8 16.1h-4M1132.8 11.4h-4M1132.8 7.3h-4M1132.8 3.7h-4" stroke="#1a1a1a" stroke-width="1" fill="none"/>
<text x="1119.3" y="282.4" font-size="10.4" fill="#222" text-anchor="end">10<tspan dy="-5.2" font-size="8.8">0</tspan></text>
<text x="1119.3" y="218.5" font-size="10.4" fill="#222" text-anchor="end">10<tspan dy="-5.2" font-size="8.8">1</tspan></text>
<text x="1119.3" y="148.1" font-size="10.4" fill="#222" text-anchor="end">10<tspan dy="-5.2" font-size="8.8">2</tspan></text>
<text x="1119.3" y="77.7" font-size="10.4" fill="#222" text-anchor="end">10<tspan dy="-5.2" font-size="8.8">3</tspan></text>
<text x="1119.3" y="13.0" font-size="10.4" fill="#222" text-anchor="end">10<tspan dy="-5.2" font-size="8.8">4</tspan></text>
<path d="M1266.8 0V282.6M1132.8 140.3H1415.7" stroke="#000" stroke-width="2.1" fill="none"/>
<text x="1339.9" y="43.7" font-size="27.3" textLength="52.6" lengthAdjust="spacingAndGlyphs" stroke="#000" stroke-width="0.8">27.1</text>
<text x="1244.2" y="347.9" font-size="30.5" textLength="88.2" lengthAdjust="spacingAndGlyphs" stroke="#000" stroke-width="0.55">PMZH</text>
<path d="M89.8 275.9V345.6H162.3V338.0H97.4V275.9z" fill="#000"/>
<path d="M93.6 254.2l11.5 22.7h-23.0z" fill="#000"/>
<path d="M184.0 341.8l-22.7 -11.5v23.0z" fill="#000"/>
<text transform="translate(81.8 370.6) rotate(-90)" font-size="36" textLength="96.7" lengthAdjust="spacingAndGlyphs" stroke="#000" stroke-width="0.55">CD 80</text>
<text x="101.5" y="391.7" font-size="36" textLength="97.1" lengthAdjust="spacingAndGlyphs" stroke="#000" stroke-width="0.55">CD 86</text>
<text x="-0.2" y="65.2" font-size="67" font-weight="bold" textLength="35.8" lengthAdjust="spacingAndGlyphs">a</text>
<g clip-path="url(#cb0)" stroke="#FF8A1F" stroke-width="0.9" stroke-opacity="0.8" fill="#FF8A1F" fill-opacity="0.035">
<path d="M281.8 480.4l3.3 -.4 4 .6 4.5 1.8 4.5 2.8 5.5 4.3 8 7.3 12.3 13.1 8.5 11 4.7 8 1 3 .7 5 2.9 9.5 .9 6 .2 5 -.4 5 -2.1 9.5 -4.2 9.5 -6 9 -8.6 9 -10.4 8.1 -5 3 -4.5 2.1 -4.5 1.4 -4 .6 -5.5 -.2 -5.5 -1.9 -5 -3.3 -4 -4.3 -3.3 -5.5 -2.5 -6.5 -1.8 -7.5 -1.1 -9 -.5 -12.5 .5 -11.5 1.8 -12.5 2.8 -11.5 1.2 -14 0 -4.5 -1 -10 .3 -5 1.6 -4.7 3 -4.5 3.5 -3.3z"/>
<path d="M284.0 486.9l2.6 -.1 3 .6 3.5 1.5 3.5 2.2 10 8.6 9.7 10.2 6.4 8 12.7 18 3.5 8 1.1 4.5 .6 4.5 .1 4.5 -.4 5 -2.1 9 -4.1 9 -5.5 8.1 -8 8.5 -10 7.8 -4.5 2.6 -4.5 2.1 -4 1.3 -4 .7 -5.5 -.3 -5 -1.7 -4.5 -2.9 -4 -4.3 -3 -4.9 -2.6 -6.5 -1.7 -7.5 -1.1 -9 -.4 -14 1 -13 2.3 -12 3.4 -9 .5 -2 .9 -11 -.9 -10.5 .4 -4.5 1.4 -4 2.5 -3.5 3.3 -2.7z"/>
<path d="M284.1 493.9l2.5 -.4 3 .5 3.5 1.7 3.5 2.4 10.5 9.9 9.9 11.9 7.1 5.7 4 3.9 4 4.9 3.1 5.5 2.2 6 1.1 6.5 -.2 9 -1.9 8.5 -3.8 8.5 -5.3 8 -7.7 8.2 -9.5 7.4 -8.5 4.5 -4 1.3 -3.5 .6 -5 -.2 -5 -1.7 -4.5 -3 -3.5 -3.7 -3 -4.9 -2.4 -6 -1.6 -7 -1 -8 -.5 -13 .9 -12 1.3 -8.5 1.5 -6 1.6 -4 3.9 -7 .6 -9.5 -.5 -8 .2 -3.5 1 -2.7 1.5 -2.4 2 -2z"/>
<path d="M286.3 500.4l3.3 .3 4 2.2 7 6.5 7.8 9 10.7 6 7.2 6 4.1 5 3.1 5.5 2 6 1 6 -.3 8.5 -1.9 8 -3.7 8 -5 7.4 -7.5 7.9 -8.8 6.7 -7.7 4.1 -4 1.2 -3.5 .6 -5 -.4 -4.5 -1.7 -4 -2.7 -3.5 -3.9 -2.8 -4.7 -2.1 -6 -1.5 -6.5 -.9 -8 -.3 -8.5 .2 -8 .9 -8 1.5 -8 1.2 -4.5 1.6 -3.5 6 -8.5 -.2 -3.5 .3 -5.5 -.3 -5 .5 -3 1.9 -3.1 1.5 -1.2z"/>
<path d="M287.5 504.4l2.6 .5 3.5 2.3 4.8 4.7 5.4 6.5 8.8 3.7 4 2.1 4.5 3.1 4 3.6 4 4.7 3 5.3 2.2 6 .9 6 -.2 8 -1.8 7.5 -3.3 7.5 -5 7.5 -6.8 7.3 -8.6 6.7 -7.9 4.3 -3.5 1.1 -3.5 .6 -4.5 -.2 -4.5 -1.6 -4 -2.6 -3.5 -3.8 -2.8 -4.8 -2.1 -5.5 -1.4 -6.5 -.9 -8 -.3 -8.5 .3 -8 1 -8 1.4 -7.5 1.5 -4.5 2 -4 2.3 -2.9 4.8 -5.1 -.9 -4 .1 -9 1.5 -3 1.5 -1.1z"/>
<path d="M287.0 507.9l2.6 0 2.5 1.5 4 4 4.2 5.5 8.8 2.8 4.5 1.9 5 3 4.7 3.8 4.3 4.7 3.3 5.3 2.2 6 1.1 6 -.2 8 -1.7 7.5 -3.3 7.5 -4.7 7 -6.7 7.2 -8 6.3 -7.5 4.1 -3.5 1.2 -3.5 .7 -4.5 -.2 -4 -1.2 -4 -2.5 -3.5 -3.6 -2.6 -4 -2.2 -5.5 -1.4 -6 -1 -7.5 -.4 -8.5 .2 -8 .9 -8 1.4 -7.5 1.7 -5.5 2.4 -4.1 2.9 -3.4 5.6 -4.5 .7 -1 -2.1 -2.5 -.4 -2 .3 -6 .7 -1.5z"/>
<path d="M287.6 511.4l1 -.4 1 .2 2 1.3 2.4 2.9 .4 1 -.3 1 -1 .5 -2.5 .3 -2 -.3 -1.1 -.5 -.6 -1 -.2 -2 .3 -2zM295.5 520.4l7.6 .7 7 2 7 3.6 5.9 4.7 4.7 5.5 3.3 6 1.8 6.5 .5 7 -.9 7.5 -2.3 7 -3.8 7 -5.2 6.6 -7 6.6 -8 5.5 -7 3 -6 .8 -4.5 -.8 -4.5 -2.2 -4 -3.8 -3 -4.7 -2.1 -5.5 -1.6 -7 -.8 -8.5 -.2 -9.5 .6 -8 1.3 -8.5 1.4 -5.5 2.1 -4.5 3.3 -4.2 4 -3.2 5.5 -2.9z"/>
<path d="M294.4 521.9l6.7 -.1 7 1.5 7 3.2 6 4.4 5.1 5.5 3.5 6 2.1 6.5 .6 7 -.9 7.5 -2.3 7 -3.6 6.6 -5 6.4 -7 6.6 -7.5 5.2 -6.5 2.9 -6 .9 -4.5 -.8 -4.5 -2.3 -3.5 -3.2 -3 -4.5 -2.2 -5.3 -1.5 -6.5 -.9 -7.5 -.2 -9 .4 -8 1.2 -8.5 1.5 -6 1.9 -4.5 2.9 -4 3.9 -3.3 4.5 -2.4z"/>
<path d="M294.6 522.9l6.5 -.2 7 1.6 6.5 3 6 4.3 4.8 5.3 3.3 5.5 2.1 6.5 .6 6.5 -.7 7 -2.1 6.8 -3.5 6.6 -4.7 6.1 -6.3 6.2 -7.5 5.3 -6.5 3.1 -6 1 -4.5 -.7 -4 -1.9 -3.5 -3 -3 -4.3 -2.2 -5.2 -1.5 -6 -1 -7.5 -.3 -8.5 .4 -8 1 -7.5 1.5 -6.5 1.8 -4.5 2.8 -4 4 -3.4 4.5 -2.4z"/>
<path d="M294.5 523.9l6.6 -.2 6.5 1.4 6.5 3 5.9 4.3 4.6 5 3.3 5.5 1.9 6 .6 6.5 -.8 7 -2.1 6.5 -3.4 6.5 -4.5 5.8 -6.5 6.2 -7 4.9 -6.5 2.9 -5.5 .8 -4.5 -.8 -4 -2.1 -3.5 -3.2 -2.5 -3.9 -2.1 -5.1 -1.4 -6 -.8 -7 -.3 -8 .4 -7.5 1 -7.5 1.4 -6 1.8 -4.5 2.9 -4 3.5 -3 4.1 -2.2z"/>
<path d="M294.5 524.9l6.1 -.3 6.5 1.3 6.5 2.9 5.5 4 4.5 4.7 3.2 5.4 2 6 .6 6 -.6 6.5 -2 6.5 -3.1 6 -4.5 6 -6.1 6 -7 4.9 -6 2.8 -5.5 .9 -4 -.5 -4 -1.9 -3.5 -3.1 -2.5 -3.7 -2 -4.6 -1.5 -5.8 -.9 -6.5 -.3 -8 .3 -7.5 .9 -7 1.3 -6 1.7 -4.5 2.5 -3.6 3.5 -3.3 4 -2.2z"/>
<path d="M294.5 525.9l6.1 -.3 6 1.1 6 2.6 5.5 3.8 4.5 4.6 3.2 5.2 2 6 .6 6 -.6 6.5 -1.9 6 -3.1 6 -4.2 5.5 -6 5.9 -6.5 4.6 -5.5 2.6 -5.5 1 -4 -.5 -3.5 -1.5 -3.3 -2.6 -2.7 -3.7 -2 -4.4 -1.5 -5.4 -.9 -6.5 -.4 -7.5 .3 -7.5 .8 -7 1.3 -6 1.7 -4.5 2.4 -3.5 3.3 -3 4 -2.3z"/>
<path d="M294.5 526.9l5.6 -.4 6 1.1 5.6 2.3 5.4 3.6 4.4 4.4 3.2 5 2 5.5 .8 6 -.5 6 -1.8 6 -3 6 -4.1 5.5 -5.5 5.3 -6.5 4.7 -6 2.8 -5 .9 -4 -.6 -3.5 -1.7 -3 -2.6 -2.5 -3.6 -1.9 -4.2 -1.4 -5.5 -.8 -6 -.3 -7 .2 -7 .8 -6.5 1.3 -6 1.4 -4 2.3 -3.5 3.1 -3 3.8 -2.2z"/>
<path d="M294.5 527.9l5.6 -.4 5.5 .9 5.5 2.2 5.5 3.6 4.1 4.2 3.2 5 1.9 5.5 .7 5.5 -.6 6 -1.6 5.5 -2.8 5.5 -3.9 5.4 -5.5 5.3 -6 4.4 -5.5 2.6 -5 1 -3.5 -.4 -3.5 -1.5 -3 -2.4 -2.6 -3.4 -1.8 -4 -1.4 -5 -.8 -5.5 -.4 -7 .1 -6.5 .7 -6.5 1.2 -6 1.5 -4.2 2 -3.3 3 -2.9 3.5 -2.2z"/>
<path d="M298.2 528.4l5.4 .5 5 1.5 5 2.7 4.5 3.8 3.5 4.2 2.4 4.8 1.2 5 .2 5.5 -.8 5.5 -2 5.4 -3 5.1 -4 4.9 -5.5 4.9 -5.5 3.7 -5 2.1 -5 .6 -3.5 -.8 -3.5 -2.1 -2.7 -2.8 -2.3 -4 -1.5 -4.5 -1.1 -6 -.5 -7 .1 -7 .6 -6 1.2 -6 1.1 -3.5 1.7 -3 2.6 -3 3.3 -2.3 4 -1.6z"/>
<path d="M297.6 529.4l5 .2 5.5 1.6 5 2.7 4.2 3.5 3.3 4 2.4 4.5 1.3 5 .2 5 -.9 5.5 -1.8 5 -2.8 5 -3.9 4.8 -5 4.5 -5.5 3.8 -5 2.1 -4.5 .5 -3.5 -.8 -3 -1.6 -2.9 -2.8 -2.1 -3.6 -1.6 -4.4 -1 -5 -.6 -6.5 0 -7 .6 -6 1 -6 1.1 -3.5 1.5 -3 2.5 -2.9 3 -2.2 3.5 -1.6z"/>
<path d="M297.4 530.4l4.7 .1 5 1.3 5 2.6 4 3.1 3.4 3.9 2.2 4 1.5 5 .3 5 -.7 5 -1.7 5 -2.8 5 -3.6 4.5 -4.9 4.5 -5.2 3.6 -4.5 2 -4.5 .6 -3.5 -.7 -3 -1.6 -2.5 -2.4 -2 -3.2 -1.5 -3.9 -1.1 -4.9 -.7 -6 0 -6.5 1.3 -11.5 1.1 -4 1.4 -3 2.4 -3 3.1 -2.3 3.5 -1.5z"/>
<path d="M297.2 531.4l4.4 0 5 1.2 4.5 2.2 4.1 3.1 3.2 3.5 2.3 4 1.4 4.5 .4 5 -.6 5 -1.4 4.5 -2.5 4.5 -3.4 4.5 -4.8 4.5 -5.2 3.7 -4.5 1.9 -4 .6 -3 -.4 -3 -1.5 -2.5 -2.2 -2.1 -3.1 -1.6 -4 -1.1 -4.5 -.7 -11.5 1.2 -11 1 -4 1.3 -3 2.3 -3 2.7 -2.1 3 -1.5z"/>
<path d="M297.0 532.4l4.6 0 4.5 1 4.5 2.2 4 3 3 3.3 2.3 4 1.3 4.5 .4 4.5 -.7 5 -1.6 4.5 -2.5 4.5 -3.2 4 -4.5 4.1 -5 3.4 -4 1.7 -4 .6 -3 -.6 -3 -1.6 -2.2 -2.1 -1.8 -2.9 -1.4 -3.6 -1 -4 -.7 -11 1.2 -11 .9 -3.5 1.3 -3 2.2 -2.8 2.5 -2 3 -1.5z"/>
<path d="M297.0 533.4l4.1 -.1 4.5 1 4 1.8 4 2.8 3 3.2 2.3 3.8 1.3 4 .4 4.5 -.5 4.5 -1.5 4.5 -2.1 4 -3.1 4 -4.3 4.1 -4.5 3.2 -4 1.8 -4 .7 -3 -.5 -2.5 -1.3 -2.3 -2 -1.7 -2.6 -1.5 -3.4 -1 -4 -.7 -10 .9 -10 .9 -4 1.2 -3 1.8 -2.5 2.4 -2.1 3 -1.6z"/>
<path d="M296.9 534.4l4.2 -.2 4 .9 4 1.7 3.6 2.6 2.9 3 2.2 3.5 1.4 4 .4 4 -.5 4.5 -1.2 4 -2.1 4 -2.7 3.7 -4 3.9 -4.5 3.2 -4 1.9 -3.5 .6 -2.5 -.3 -2.5 -1.1 -2.4 -1.9 -1.8 -2.5 -1.3 -3.1 -1.1 -3.9 -.7 -9.5 .8 -9.5 .9 -4 1.1 -2.7 1.5 -2.3 2.5 -2.2 2.5 -1.4z"/>
<path d="M296.9 535.4l3.7 -.2 4 .7 4 1.7 3.5 2.4 2.7 2.9 2.2 3.5 1.2 3.5 .4 4 -.4 4 -1.2 4 -1.9 3.7 -2.9 3.8 -3.7 3.5 -4.4 3.2 -3.5 1.5 -3.5 .6 -2.5 -.4 -2.5 -1.2 -2 -1.8 -1.5 -2.2 -1.2 -2.7 -1 -3.5 -.7 -9 .7 -9 .9 -4 .9 -2.5 1.4 -2 2 -2 2.5 -1.6z"/>
<path d="M296.9 536.4l3.7 -.3 3.5 .6 3.5 1.4 3.5 2.3 2.9 3 2 3 1.2 3.5 .4 3.5 -.3 4 -1 3.5 -1.7 3.5 -2.6 3.5 -3.4 3.5 -4 2.9 -3.5 1.7 -3.5 .7 -2.5 -.3 -2 -.9 -2 -1.6 -1.5 -2 -1.3 -2.5 -1 -3.5 -.7 -8 .5 -8.5 1.7 -6.5 1.3 -2.1 2 -2.1 2.5 -1.5z"/>
<path d="M297.0 537.4l3.1 -.3 3.5 .5 3.5 1.3 3.5 2.3 2.7 2.7 1.8 2.8 1.1 3.2 .4 3.5 -.2 3.5 -1 3.5 -1.8 3.5 -2.2 3 -3.3 3.4 -3.5 2.6 -3.5 1.7 -3 .6 -2.5 -.2 -2 -.9 -1.6 -1.2 -1.6 -2 -1.3 -2.5 -.8 -3 -.9 -7.5 .5 -8 1.7 -6.5 1.2 -2 1.8 -1.8 2 -1.3z"/>
<path d="M297.0 538.4l3.1 -.4 3.5 .5 3.5 1.4 2.9 2 2.5 2.5 1.6 2.5 1.1 3 .5 3.5 -.4 3.5 -.8 3 -1.5 3 -2.4 3.3 -3 3 -3.5 2.5 -3 1.5 -3 .6 -2 -.3 -2 -.8 -1.7 -1.3 -1.3 -1.8 -1.9 -4.7 -.9 -7 .4 -7.5 1.4 -6 1.1 -2 1.9 -2z"/>
<path d="M297.1 539.4l3 -.4 3 .4 3 1.1 3 1.8 2.2 2.1 1.8 2.5 1.1 3 .5 3 -.2 3 -.8 3 -1.4 3 -2.1 3 -2.6 2.7 -3.5 2.7 -3 1.4 -2.5 .6 -2 -.2 -2 -.8 -2.9 -2.9 -1.7 -4.5 -.8 -6 .3 -7 1.4 -6 1.1 -2 1.4 -1.5z"/>
<path d="M297.2 540.4l2.4 -.4 3 .2 3 1 2.7 1.7 2.3 2.1 1.6 2.4 1 2.5 .5 3 -.2 3 -.7 2.5 -1.4 3 -1.8 2.6 -2.5 2.5 -3 2.3 -3 1.5 -2.5 .5 -2 -.3 -1.5 -.6 -2.5 -2.5 -1.7 -4 -.8 -6 .3 -6.5 1.3 -5.5 2.1 -3z"/>
<path d="M297.3 541.4l2.8 -.5 2.5 .3 2.5 .8 2.5 1.5 2 1.8 1.5 2.1 1.1 2.5 .5 2.5 -.1 3 -.7 2.5 -2.8 5 -5 4.4 -2.5 1.4 -2.5 .6 -3 -.6 -2.7 -2.3 -1.6 -3.5 -.7 -5 .1 -6 1.1 -5.5 1.8 -3z"/>
<path d="M300.0 541.9l2.1 .2 2.5 .7 4 2.8 2.5 3.8 .6 4.5 -1.1 4.6 -3 4.4 -2.5 2.2 -2.5 1.7 -2 .8 -2 .2 -3 -1.1 -2.2 -2.8 -1.3 -4.5 -.2 -6 .7 -5 1.5 -3.4 2.5 -2.2z"/>
<path d="M299.7 542.9l3.9 .5 4 2.5 2.4 3.5 .7 4 -1 4.5 -2.6 3.9 -4 3.2 -2 1 -2 .3 -2.8 -.9 -2.1 -2.5 -1.1 -3.8 -.3 -5.2 .6 -5 1.2 -2.9 2.1 -2.1z"/>
<path d="M299.6 543.9l3.5 .3 3.7 2.2 2.2 3 .7 4 -1 4 -2.4 3.5 -3.7 3 -2 .8 -1.5 .1 -2.4 -.9 -1.7 -2 -1.1 -3.5 -.3 -4.5 .5 -4 1 -3 2 -2.1z"/>
<path d="M299.6 544.9l3.5 .3 3 1.8 2 2.7 .7 3.2 -.8 3.5 -1.9 3.1 -3.5 2.9 -3 .9 -2 -.6 -1.8 -1.8 -.9 -2.5 -.4 -4 .4 -4 .7 -2.5 1.7 -2z"/>
<path d="M299.7 545.9l2.9 .2 3 1.7 1.5 2.1 .7 3 -.7 3 -1.5 2.5 -3 2.5 -2.5 .9 -2 -.5 -1.4 -1.4 -1 -2.5 -.3 -3 .3 -3.5 .7 -2.5 1.2 -1.5z"/>
<path d="M299.8 546.9l2.3 0 2.5 1.3 1.5 1.7 .7 2.5 -.4 2.5 -1.5 2.5 -2.3 2.1 -2.5 .8 -1.5 -.4 -1.4 -1.5 -.6 -2 -.3 -2.5 .3 -3 .6 -2 1.4 -1.4z"/>
<path d="M300.0 547.9l2.1 0 1.9 1 1.2 1.5 .5 2 -.3 2 -1.1 2 -1.7 1.6 -2 .7 -1.5 -.3 -1 -1 -.9 -3.5 .6 -4 .8 -1.1z"/>
<path d="M300.4 548.9l1.7 .1 1.5 .8 .7 1.1 .4 1.5 -.2 1.5 -.9 1.6 -1.5 1.3 -1.5 .4 -1.6 -.8 -.9 -3 .5 -3 .8 -1z"/>
<path d="M299.9 550.4l1.2 -.5 1 .2 1 .7 .5 1 -.3 2.1 -1.7 1.6 -1.5 -.2 -.9 -1.4 0 -2z"/>
<path d="M300.5 551.9l.6 -.5 1 .4 .1 1.1 -.4 .5 -1.1 0z"/>
</g>
<g clip-path="url(#cb1)" stroke="#2DB877" stroke-width="0.9" stroke-opacity="0.8" fill="#2DB877" fill-opacity="0.035">
<path d="M607.7 475.4l4.5 0 4.5 .6 4.5 1.3 4.5 2 3.5 2.1 3.6 3 3.3 3.5 2.8 4 3.8 7 3 8 2.2 8.5 2.9 15 7.9 11.6 4.7 9.9 2.2 7.5 .8 7 0 4.5 -.6 5 -1.2 5 -1.6 4.5 -4.8 9.2 -6.5 8.4 -8 7.4 -4.5 3.2 -5 3 -5 2.3 -5 1.9 -5 1.2 -4.5 .5 -5.5 -.4 -4.5 -1.6 -4.5 -3.3 -4.1 -4.8 -3.4 -5.8 -2.6 -6.7 -1.7 -7.5 -.8 -8 .3 -12 1.8 -11.5 3 -10.2 5.1 -11.8 .5 -2 -2.8 -12 -4.9 -18 -.7 -6.5 .5 -6.5 1.1 -4 1.4 -3.5 1.7 -3 2.1 -2.7 2.5 -2.2 2.5 -1.5 3 -1.1z"/>
<path d="M607.5 478.4l3.7 -.2 4 .5 4 1 4 1.6 3.5 2 3.2 2.6 2.9 3 2.6 3.5 3.5 6.5 2.8 7.5 2.1 8 2.9 15 7.7 10 5 8.5 3.3 9 1.5 9 0 4.5 -.5 4.5 -2.5 9 -4.5 8.9 -6.2 8.1 -7.8 7.3 -8.5 5.7 -9.5 4 -4.5 1.2 -4.5 .7 -5 -.2 -4.5 -1.4 -4.1 -2.8 -4.1 -4.5 -3.3 -5.3 -2.6 -6.2 -1.7 -7 -1 -8 .3 -12.5 2 -12 3.3 -10.5 5.6 -12 .6 -2 -7.9 -28.5 -.8 -6 .4 -6 2 -6.5 3.3 -5 4 -3.3 2.5 -1z"/>
<path d="M607.6 481.4l3.6 -.2 3.5 .3 3.5 .9 3.5 1.4 3 1.8 2.9 2.3 2.6 2.8 2.3 3.2 3.1 6 2.5 7 1.7 7.5 2.5 14 .8 1.5 7.8 8.5 5.5 8.5 2.3 4.9 1.6 4.6 1.2 5 .5 4.5 -.4 8.5 -2.4 8.5 -4.2 8.5 -5.8 7.7 -7.3 6.8 -8.2 5.5 -9 3.9 -4.5 1.2 -4 .5 -5 -.2 -4.5 -1.5 -4 -2.8 -3.5 -4 -3.2 -5.1 -2.3 -5.7 -1.7 -6.8 -.8 -7 -.1 -6.5 .4 -6.5 1 -6.5 1.3 -6 3.9 -11 6.3 -12 .7 -2 -3.2 -6.5 -5.2 -19 -1.1 -6.5 .2 -5.5 1.6 -5.5 2.7 -4.4 3.5 -3z"/>
<path d="M607.8 484.4l2.9 -.3 3 .2 3.5 .8 3 1.3 5 3.5 4.1 5 3.2 6.5 2.3 7.5 2.4 13.5 -.1 5.5 1.2 1.5 4.9 3.9 3.5 3.5 6.3 8.6 2.7 5 2.2 5.5 1.3 5 .6 5 -.4 8 -2.1 8 -4 8 -5.6 7.5 -7 6.5 -7.5 5 -8.5 3.7 -8 1.7 -5 -.2 -4 -1.4 -3.5 -2.4 -3.5 -3.8 -3 -4.7 -2.3 -5.4 -1.5 -6 -.9 -7 -.1 -7 .5 -7 1.2 -7 1.7 -6.5 2.4 -6.5 3.1 -6.5 2.7 -4.5 4.9 -7 -.2 -1 -4.2 -4 -1.8 -3.4 -4.6 -16.6 -.9 -6 .6 -5.5 2.1 -5 3.3 -3.7z"/>
<path d="M609.8 485.9l5.4 .5 5 2 4 3.1 3.4 4.4 2.1 4 1.7 5 2.8 14 0 4.5 -1.8 3 -.2 1 1.1 1 5.9 3.6 3.5 2.8 4 4.1 3.8 5 3.2 5.5 2.5 5.7 1.6 5.8 .8 5.5 -.6 8 -2.3 7.9 -4 7.6 -5.4 7 -6.6 6 -7.5 4.9 -8.5 3.5 -7.5 1.4 -4.5 -.3 -3.5 -1.3 -3.5 -2.4 -3.5 -3.9 -3 -4.9 -2 -5.1 -1.5 -6.3 -.7 -6.6 0 -7.5 .8 -7.5 1.6 -7.5 2.2 -7 3.1 -7 3.5 -6.1 3 -3.9 5.8 -6 -.8 -1 -5.5 -2.9 -2.6 -3.1 -1.5 -4 -3.4 -12.5 -.8 -4 .3 -6 2 -5 1.6 -2 1.9 -1.5 2 -1z"/>
<path d="M609.1 487.4l5.1 .2 3 .9 2.5 1.2 4 3.4 3.3 4.8 2.9 8 2.3 12.5 -.5 3.5 -1.2 1.5 -1.8 1.3 -3.5 1.3 -3 .5 -7.5 -.7 -3 -.8 -2.5 -1.2 -2 -1.7 -1.5 -2 -1.2 -3.2 -3.3 -12 -.6 -3.5 .1 -3.5 1 -4 1.6 -3 2.4 -2.2zM621.4 528.4l2.8 -.4 3 .3 4 1 3.5 1.4 6 3.8 5.5 5.5 5.2 7.4 3.8 8 2 8 .2 8 -1.6 7.5 -2.9 7 -4.6 7 -5.6 6.1 -7 5.4 -7.5 4 -8 2.5 -6.5 .5 -4.5 -1.2 -3.5 -2.3 -4 -4.3 -3 -5.2 -2.1 -5.5 -1.3 -6.5 -.6 -7 .3 -8 1.2 -8 2 -7.5 3 -7.5 3.7 -7 3.3 -4.6 4 -3.8 4.5 -2.8z"/>
<path d="M608.8 488.9l4.4 -.1 5 1.7 3.8 2.9 2.9 4 1.6 3.5 1.3 4 2.1 11 -.4 3.5 -.8 1.2 -1.5 1.1 -2.5 1.1 -3 .5 -3.5 .2 -3.5 -.4 -5 -1.8 -2 -1.6 -1.3 -1.8 -1.2 -3 -2.8 -10.5 -.5 -3 0 -3 .7 -3.5 1.6 -2.9 2 -1.9zM622.5 529.9l6.2 .1 6 2 6 3.9 5.3 5.5 5.1 7.5 3.4 7.5 1.8 7.5 .1 7.5 -1.7 7.5 -3 7 -4.4 6.5 -5.6 6 -6.5 5 -7.5 4 -7.5 2.3 -3.5 .4 -3 -.1 -4.1 -1.1 -3.9 -2.6 -3.5 -4 -3.1 -5.4 -1.9 -5.5 -1.2 -6.5 -.4 -7.5 .4 -7.5 1.3 -7.5 2.1 -7.5 3.2 -7.5 3.6 -6.4 3.5 -4.5 3.6 -3.1 4.4 -2.3z"/>
<path d="M608.7 490.4l4 -.3 4.2 1.3 3.6 2.5 2.6 3.5 2.7 6.5 1.8 10 -.4 3.3 -2 1.9 -4.5 1.3 -6 -.1 -4.5 -1.5 -1.8 -1.4 -1.2 -1.6 -1 -2.4 -2.5 -9 -.6 -5.5 .6 -3 1.1 -2.5 1.9 -2zM620.8 531.4l5.9 -.4 6.1 1.4 5.9 3.4 5.5 5.1 5.1 7 3.7 7.5 2.1 7.5 .3 7.5 -1.3 7 -2.8 7 -4.1 6.5 -5.5 6 -6.5 5.2 -7 3.8 -7.5 2.4 -6 .5 -4.1 -.9 -3.9 -2.3 -3.5 -3.8 -3 -4.9 -2 -5.5 -1.3 -6 -.5 -6.5 .2 -7 1 -7.5 1.8 -7 2.8 -7.2 3.5 -6.8 3.1 -4.5 3.6 -3.5 3.8 -2.4z"/>
<path d="M608.7 491.9l3.5 -.4 4 1.1 3 2.1 2.4 3.2 2.2 5.5 1.5 8 -.2 3 -1.8 2 -4.1 1.2 -5 -.2 -4 -1.4 -2.4 -2.6 -2.9 -9.5 -.6 -4.5 .4 -2.5 1 -2.3 1.4 -1.7zM621.7 532.4l6 -.1 5.5 1.5 5.5 3.4 5.3 5.2 5 7 3.3 7 1.9 7.5 .1 7 -1.4 7 -2.8 6.5 -4.3 6.5 -5.1 5.5 -6 4.7 -7 3.7 -7 2.3 -6 .4 -4 -1 -3.5 -2.1 -3.5 -3.8 -2.8 -4.7 -2 -5.5 -1.2 -5.8 -.5 -6.7 .3 -7 1.1 -7 1.8 -7 2.8 -7 3.5 -6.5 3 -4 3.7 -3.5 3.8 -2.2z"/>
<path d="M610.6 492.9l2.6 .1 3 1.2 2.5 2.2 1.7 2.5 1.6 4.5 1.1 6.5 -.4 2.5 -1.5 1.4 -3.5 .9 -4.5 -.3 -3 -1.3 -1.8 -2.2 -2.5 -8 -.3 -4 .6 -2.4 1 -1.7 1.5 -1.3zM622.9 533.4l5.3 .1 5.6 1.9 5.4 3.6 5 5.3 4.4 6.6 3.1 7 1.5 7 0 6.5 -1.4 6.5 -2.9 6.5 -4 6 -5.2 5.5 -6 4.5 -6.5 3.4 -7 2.1 -5.5 .3 -4 -1.1 -3.3 -2.2 -3.2 -3.6 -2.8 -4.9 -1.8 -5 -1.2 -6 -.4 -6.5 .4 -7 1.2 -7 1.9 -6.5 2.9 -7 3.3 -6 3.2 -4 3.6 -3 3.7 -1.9z"/>
<path d="M610.4 494.4l2.3 0 2.5 .9 2 1.6 1.4 2 1.3 3.5 .9 5 -.3 2.5 -1.3 1.2 -2.5 .7 -3.5 -.2 -2.5 -1 -1.5 -1.7 -2 -6 -.4 -3.5 .4 -2 .9 -1.5zM620.9 534.9l5.3 -.4 5.5 1.2 5.5 3.1 4.9 4.6 4.7 6.5 3.4 7 1.9 7 .2 6.5 -1.3 6.5 -2.4 6 -3.9 6 -5 5.5 -5.8 4.5 -6.2 3.4 -7 2.2 -5.5 .4 -3.5 -.8 -3.5 -2.1 -3.3 -3.6 -2.6 -4.5 -1.7 -4.5 -1.2 -5.5 -.5 -6 .2 -6.5 .9 -6.5 1.6 -6.5 2.5 -6.5 3.1 -6 3 -4.3 3 -3 3.5 -2.2z"/>
<path d="M610.5 495.9l1.7 -.2 2 .6 1.5 1.2 1.3 1.9 1.1 3 .5 3 -.3 2 -1.1 1 -2 .5 -2.5 -.2 -2 -1 -1 -1.4 -1.4 -4.4 -.2 -2.5 .6 -2zM621.7 535.9l5.5 -.1 5 1.4 5 3 4.8 4.7 4.5 6.5 3 6.5 1.6 6.5 .1 6.5 -1.3 6 -2.5 6 -3.7 5.6 -5 5.4 -5.5 4.2 -6.4 3.3 -6.1 1.9 -5.5 .3 -3.5 -.9 -3 -1.9 -3.1 -3.4 -2.7 -4.5 -1.7 -4.7 -1.1 -5.3 -.4 -6 .3 -6.5 1 -6.5 1.6 -6 2.6 -6.4 3 -5.6 3 -4 3 -2.8 3.5 -2z"/>
<path d="M610.8 497.4l2.4 .1 2 1.9 1.1 4 -.3 1.5 -.8 .8 -1.5 .3 -1.5 -.3 -1 -.6 -.8 -1.2 -1.1 -4 .5 -1.5zM622.9 536.9l5.3 .2 4.9 1.8 4.6 3.2 4.5 4.8 3.9 6 2.8 6.5 1.3 6 -.1 6 -1.4 6 -2.5 5.5 -3.8 5.5 -4.7 4.9 -5.5 4.1 -6 3 -6 1.7 -5 .2 -3.5 -1.1 -3 -2 -3 -3.6 -2.3 -4.2 -1.6 -4.5 -1 -5.5 -.3 -6 .4 -6 1 -6 1.8 -6.1 2.5 -6 3.1 -5.4 2.9 -3.7 3 -2.5 3.5 -1.8z"/>
<path d="M611.2 499.4l1 -.3 1.2 .8 .4 1.5 -.6 1.2 -1 0 -1 -1.1 -.3 -1.1zM620.9 538.4l4.8 -.4 5 1.1 5 2.8 4.3 4 4.2 5.7 3.1 6.3 1.6 6 .3 6 -1.1 6 -2.3 5.5 -3.1 5 -4.5 5 -5.1 4 -5.9 3.3 -6 2 -5 .4 -3.5 -.8 -3 -1.9 -2.8 -3 -2.2 -3.6 -1.7 -4.4 -1.2 -5 -.4 -5.5 .1 -5.5 .8 -6 1.5 -6 2.1 -5.5 2.8 -5.5 2.5 -3.6 3 -3.1 3 -1.9z"/>
<path d="M621.8 539.4l4.9 -.1 4.5 1.2 4.5 2.8 4.2 4.1 3.9 5.5 2.8 6 1.4 6 .1 5.5 -1.1 5.5 -2.3 5.4 -3.4 5.1 -4.1 4.4 -5 3.9 -5.5 2.9 -5.5 1.8 -5 .4 -3 -.8 -3 -1.8 -2.6 -2.8 -2.4 -4 -1.5 -4 -1.1 -5 -.4 -5.5 .2 -5.5 .9 -6 1.6 -5.5 2.1 -5.5 2.7 -4.9 2.6 -3.6 2.9 -2.7 3 -1.7z"/>
<path d="M622.9 540.4l4.3 .1 4.5 1.6 4 2.7 4 4.1 3.7 5.5 2.4 5.5 1.2 5.5 0 5.5 -1.1 5 -2.2 5.1 -3.3 4.9 -4.2 4.4 -4.8 3.6 -5.2 2.7 -5.5 1.6 -4.5 .2 -3 -.8 -3 -2 -2.5 -3 -2.1 -3.7 -1.4 -4.1 -.9 -4.9 -.3 -5 .4 -5.5 .9 -5.5 1.6 -5.5 2.3 -5.5 2.6 -4.5 2.4 -3.1 3 -2.5 3 -1.5z"/>
<path d="M621.0 541.9l4.2 -.4 4.5 .9 4 2.2 4 3.6 3.6 4.7 2.9 5.6 1.6 5.4 .3 5.5 -.8 5 -2 5 -2.7 4.5 -3.9 4.4 -4.5 3.7 -5 2.9 -5.5 1.9 -4.5 .4 -3 -.6 -2.5 -1.4 -2.5 -2.4 -2.2 -3.4 -1.6 -4 -1 -4 -.5 -5 .1 -5 .7 -5.5 1.2 -5 1.8 -5 2.5 -4.9 2.5 -3.7 2.5 -2.5 2.5 -1.7z"/>
<path d="M621.8 542.9l4.4 -.1 4 1.1 4 2.5 3.5 3.4 3.5 5 2.4 5.1 1.3 5 .1 5 -1 5 -1.8 4.5 -2.9 4.5 -3.6 3.9 -4.5 3.6 -4.5 2.4 -5 1.7 -4.5 .4 -3 -.7 -2.5 -1.6 -2.5 -2.7 -1.8 -3 -1.5 -4 -.8 -4 -.4 -4.5 .2 -5 .7 -5 1.3 -5 1.9 -5 2.4 -4.4 2.5 -3.4 2.3 -2.2 2.7 -1.5z"/>
<path d="M622.9 543.9l3.8 .1 4 1.4 3.5 2.4 3.5 3.7 3 4.5 2.2 4.9 1.1 5 0 4.5 -1 4.5 -2 4.5 -2.8 4.2 -3.5 3.7 -4.1 3.1 -4.8 2.5 -4.6 1.4 -4 .3 -2.5 -.6 -2.5 -1.6 -2.5 -2.7 -1.8 -3.3 -1.3 -3.5 -.8 -4.5 -.3 -4.5 .3 -5 .9 -5 1.4 -4.5 1.9 -4.5 2.3 -4 2.4 -3 2.4 -2 2.6 -1.2z"/>
<path d="M621.1 545.4l3.6 -.4 4 .8 3.5 1.9 3.5 3.1 3.1 4.1 2.6 5 1.4 5 .2 4.5 -.8 4.5 -1.6 4 -2.5 4 -3.4 3.9 -4 3.2 -4.5 2.5 -4.5 1.5 -4 .3 -2.5 -.6 -2.3 -1.3 -2.2 -2.3 -1.7 -2.7 -1.3 -3.2 -.9 -3.8 -.3 -8.5 .5 -4.5 1.1 -4.5 1.6 -4.4 2 -4.1 2 -3 2.4 -2.5 2.3 -1.5z"/>
<path d="M621.8 546.4l3.9 -.1 3.5 1 3.4 2.1 3.1 3 2.8 4 2.2 4.5 1.1 4.5 .1 4.5 -.8 4 -1.7 4 -2.6 4 -3.1 3.4 -4 3 -4 2.1 -4.5 1.4 -3.5 .2 -2.5 -.7 -2 -1.3 -2 -2.1 -1.8 -3 -1.2 -3.3 -.7 -3.7 -.1 -8 1.7 -8.5 3.6 -8 2 -2.7 2 -1.9 2.5 -1.6z"/>
<path d="M623.0 547.4l3.2 .1 3.5 1.3 3 2.1 3 3.2 2.5 3.8 1.9 4.5 .8 4 -.1 4 -1 4 -1.6 3.5 -2.4 3.5 -3.1 3.3 -3.5 2.6 -4 2.1 -4 1.2 -3.5 .1 -2.5 -.8 -2 -1.5 -2 -2.5 -1.3 -2.5 -1.2 -3.5 -.5 -3.5 .1 -8 2 -8 1.7 -4 2.1 -3.5 2.1 -2.4 2 -1.5 2.5 -1.1z"/>
<path d="M621.2 548.9l3.5 -.4 3 .7 3 1.6 3 2.6 2.7 3.5 2.1 4 1.1 4 .3 4 -.7 4 -1.3 3.5 -2.2 3.5 -2.7 3 -3.3 2.7 -3.5 2.1 -4 1.4 -3.5 .3 -2 -.3 -2 -1.1 -2 -1.9 -1.5 -2.3 -1.9 -5.9 -.4 -7 1.3 -7.5 3 -7.4 3.5 -4.6 2 -1.5z"/>
<path d="M621.9 549.9l3.3 -.1 3 .8 2.8 1.8 2.6 2.5 2.5 3.5 1.6 3.5 1.1 4 0 3.5 -.6 3.5 -1.5 3.5 -2 3.1 -2.7 2.9 -3.3 2.6 -3.5 1.8 -3.5 1.1 -3 .2 -2 -.4 -2 -1.3 -1.5 -1.5 -1.5 -2.5 -1.7 -5.5 -.2 -7 1.4 -7.1 3.1 -6.9 3.4 -4 2 -1.3z"/>
<path d="M623.1 550.9l2.6 .2 3 1.1 2.5 1.8 2.2 2.4 2 3 1.6 3.5 .8 3.5 -.1 3.5 -.6 3 -1.4 3.1 -2 3 -2.5 2.7 -3 2.3 -3.5 1.8 -3 .9 -3 .1 -2 -.6 -1.5 -1 -1.7 -1.8 -1.4 -2.5 -1.4 -5.5 .1 -7 1.7 -7 3.1 -6 1.6 -1.8 2 -1.5z"/>
<path d="M621.3 552.4l2.9 -.3 2.5 .5 2.5 1.2 2.4 2.1 2.3 3 1.8 3.5 1 3.5 .1 3 -.5 3 -1.2 3 -1.9 3 -2 2.3 -2.5 2.1 -3 1.8 -3 1.1 -3 .4 -2 -.4 -1.5 -.8 -1.5 -1.4 -1.4 -2.1 -1.6 -4.8 -.3 -5.7 1 -6 2.4 -6 2.9 -3.9z"/>
<path d="M622.0 553.4l2.2 -.2 2.5 .6 2.5 1.4 2 1.9 2.1 2.8 1.5 3 .8 3 .2 3 -.6 3 -1 2.5 -1.5 2.5 -2.2 2.5 -2.5 2 -2.8 1.6 -3 1 -2.5 .3 -3 -1.1 -1.5 -1.4 -1.3 -1.9 -1.4 -4.5 -.2 -5.5 1.1 -6 2.3 -5.3 3 -3.7z"/>
<path d="M623.6 554.4l2.1 .3 2 .9 2 1.5 2 2.3 2.5 5 .5 2.5 0 2.5 -.6 2.5 -1.1 2.5 -3.6 4.5 -4.7 3 -2.5 .9 -2.5 .1 -1.5 -.3 -1.5 -1 -1.5 -1.7 -1 -1.9 -1.1 -4.6 .2 -5.5 1.4 -5.4 2.5 -4.6 3 -2.7z"/>
<path d="M621.5 555.9l2.2 -.3 2 .3 2 1 1.8 1.5 1.9 2.5 1.3 2.5 .8 2.5 .2 2.5 -1.1 4.5 -3.2 4.5 -2.2 1.9 -2.5 1.4 -2.5 .8 -2 .2 -2.5 -.9 -2.4 -2.9 -1.2 -3.5 -.2 -4.5 .8 -5 1.9 -4.5 2.1 -2.8z"/>
<path d="M622.2 556.9l1.5 -.1 2 .4 2 1.1 1.7 1.6 2.6 4.5 .6 4.5 -1.2 4 -3 4 -4.2 2.7 -2 .6 -2 .1 -2.5 -1.1 -1.7 -2.3 -1.1 -3.5 -.1 -4.5 .9 -4.5 1.9 -4 2.1 -2.3z"/>
<path d="M621.2 558.4l1.5 -.4 2 .1 3 1.7 2.7 3.6 1 2.5 .2 2 -.8 4 -2.4 3.5 -3.7 2.7 -3.5 1 -2 -.4 -2 -1.8 -1.3 -3 -.4 -3.5 .5 -4 1.2 -3.5 1.9 -3z"/>
<path d="M621.7 559.4l3 -.1 3 2 2.3 3.6 .6 3.5 -.9 3.3 -2 2.9 -3 2.2 -3.5 1 -2 -.6 -1.5 -1.6 -1.1 -2.7 -.2 -3 .4 -3.5 1.3 -3.5 1.6 -2.2z"/>
<path d="M622.5 560.4l2.7 .4 2 1.6 1.8 3 .5 3 -.8 3 -2 2.6 -2.9 1.9 -2.6 .5 -1.5 -.5 -1.5 -1.6 -.8 -2.4 -.2 -3 .6 -3 1.4 -3 1.5 -1.7z"/>
<path d="M621.6 561.9l2.1 -.3 2.5 1.3 1.7 2.5 .6 2.5 -.5 2.5 -1.7 2.5 -2.1 1.6 -2.5 .6 -1.5 -.4 -1.2 -1.3 -.8 -2 -.2 -2 1 -4.5 1.2 -1.9z"/>
<path d="M622.2 562.9l2 .1 1.5 1 1.3 1.9 .4 2.5 -.6 2 -1.1 1.6 -2 1.4 -2 .4 -1 -.4 -1 -1 -.6 -1.5 -.2 -2 1.1 -4 1.2 -1.4z"/>
<path d="M621.8 564.4l1.4 -.4 1.2 .4 1.3 1.4 .6 1.6 -.1 1.5 -.7 1.5 -1.3 1.4 -1.5 .6 -1 0 -1 -.7 -.9 -2.3 .4 -3z"/>
<path d="M622.5 565.4l1.7 .4 1 2.1 -.7 2 -1.8 1.1 -1.4 -.6 -.6 -1.5 .5 -2.3z"/>
<path d="M622.2 567.4l.5 -.3 .9 .3 .1 1 -.5 .7 -1 -.2z"/>
</g>
<g clip-path="url(#cb2)" stroke="#6A6AFA" stroke-width="0.9" stroke-opacity="0.8" fill="#6A6AFA" fill-opacity="0.035">
<path d="M942.0 474.5l4.1 -.2 4.5 .3 4 1.1 3.5 1.6 3.3 2.2 3.2 3 2.7 3.5 2.6 4.5 3 7 2.6 8.5 5.8 26 .7 7.5 3.7 8.5 1.7 5 1.4 6.5 .6 7 -.4 11.5 -2.1 11.5 -3.7 11 -5.1 9.5 -3 4 -3.5 3.9 -7 5.6 -4 2.2 -4 1.6 -4.5 1.1 -4 .4 -6 -.5 -5.5 -2.1 -4.8 -3.7 -4.3 -5 -3.8 -6.5 -2.6 -7 -1.8 -8 -.9 -9 .3 -12.5 .9 -6 1.4 -6 3.8 -10.5 2.8 -5.5 3.6 -6 .6 -2 -8.2 -17 -3.5 -9 -1.1 -4.5 -.5 -4 0 -4 .6 -4 1.1 -4 1.8 -4 2.2 -3.5 2.9 -3.3 3 -2.4 3.5 -2 4 -1.4z"/>
<path d="M941.1 477.5l4 -.4 4 .3 3.5 .7 3.5 1.4 3.1 2 2.9 2.7 2.7 3.3 2.3 4 3.2 7.5 2.5 9 4.7 21.5 .3 7.5 4.8 8.8 2.4 5.7 1.8 7 .9 7.5 -.3 11 -1.9 11 -3.4 10.3 -4.7 9.2 -5.9 7.5 -3.4 3.1 -3.5 2.6 -3.5 2 -4 1.7 -4 1.1 -4 .5 -6 -.4 -5 -1.7 -4.5 -3.2 -4.2 -4.7 -3.6 -6 -2.7 -6.5 -1.8 -7.5 -1 -8.5 -.1 -6.5 .4 -6.5 1 -6.5 1.4 -6 1.9 -5.5 2.4 -5.5 3 -5.5 4.1 -6 .6 -2 -6.9 -12.9 -5.1 -12.1 -1.8 -8 0 -4 .4 -3.5 .9 -3.5 1.5 -3.5 1.8 -3 2.5 -3 2.8 -2.5 3 -1.8 3.5 -1.4z"/>
<path d="M944.9 480.0l6.2 .7 3 1.1 2.5 1.5 4.5 4.2 4 6.6 2 4.9 1.7 5.5 4.7 21 .4 4.5 -1 4.5 .2 1 6 8 3.6 7 2.3 8 1 9.5 -.5 10.5 -2 10.5 -3.4 9.5 -4.8 8.5 -5.7 6.8 -6.5 5.1 -7 3.1 -4 1 -3.5 .3 -5.5 -.6 -4.5 -1.7 -4.5 -3.4 -4.2 -5.1 -3.3 -5.8 -2.4 -6.7 -1.5 -7.5 -.7 -8 .1 -6.5 .7 -6.5 1.2 -6 1.7 -6 2.2 -5.5 2.7 -5.3 3.3 -5.2 4.3 -5.5 .5 -1.5 -6.1 -9.3 -6.7 -14.7 -1.3 -4 -.7 -4 -.1 -4 .5 -3.5 1.1 -3.5 1.7 -3.5 2 -2.9 2.5 -2.4 3 -2.1 3 -1.3 3.5 -.9z"/>
<path d="M942.9 483.0l6.2 .2 5 2 4.4 3.8 3.6 5.5 3.4 9.5 4.3 20 -.2 4.5 -.9 2 -1.7 2.5 -.1 1 7.7 7 2.5 3.2 2.3 3.8 2 4.5 1.4 4.5 1.5 10 -.2 9.5 -1.8 10 -3.1 9.5 -4.2 8 -5.4 6.8 -6 5 -7 3.3 -7 1.4 -5 -.3 -4.5 -1.6 -4 -2.7 -4 -4.4 -3.3 -5.5 -2.4 -6 -1.7 -7 -.8 -7.5 .1 -7.5 .7 -7 1.4 -6.5 2.1 -6.5 2.8 -6 3.2 -5.5 3.8 -5 5 -5 .7 -1.5 -.7 -1 -3.9 -3 -2.5 -3 -2.7 -4.5 -3.8 -7.8 -2.1 -5.2 -1.2 -4.5 -.3 -4 .4 -4 .8 -3 1.4 -3 3.5 -4.5 4.5 -3z"/>
<path d="M941.2 485.0l5.9 -.3 5 1.4 2.3 1.4 2.2 2 3.5 5.1 2 4.4 1.6 5.5 3.5 15.5 .4 3.5 -.3 2.5 -1.2 2.5 -1.5 1.6 -3.7 2.9 .9 1 5.3 2.7 3.6 2.3 2.9 2.8 3 3.7 2.5 4.6 2 5 1.4 5.4 .7 6 -.1 9.5 -1.6 9.5 -2.9 9 -4 8 -5 6.5 -6 5.1 -6.5 3.2 -7 1.5 -5 -.3 -4.5 -1.5 -4 -2.8 -3.4 -3.7 -3.1 -4.8 -2.4 -5.7 -1.7 -6.5 -.9 -7 -.1 -8 .9 -8 1.7 -7.5 2.7 -7 3.7 -7 4.1 -5.8 4 -4 6.7 -5.2 -.9 -1 -3.8 -1.5 -2.5 -1.4 -2.3 -2.1 -2.1 -2.5 -2.6 -4.4 -3.6 -7.6 -1.7 -4.5 -1 -4 -.2 -3.5 .4 -3.5 .9 -3 1.6 -3 1.9 -2.5 2.4 -2 2.8 -1.6z"/>
<path d="M943.7 486.0l5.6 .5 2.3 .9 2.5 1.6 3.8 4.5 2.8 6 1.7 5.5 2.8 13 .5 4.5 -.6 2.5 -1.3 2 -2.2 1.9 -2.5 1.2 -4.5 .9 -4.5 -.1 -4.5 -1.1 -4 -2.1 -2.5 -2.3 -2.5 -3.5 -5.8 -12.4 -1.1 -4 -.4 -4 .6 -4 1.4 -3.5 2 -3 2.9 -2.5 3.4 -1.7zM952.5 535.0l2.6 -.3 3 .2 6.5 1.8 5.5 3.2 4.5 4.6 3.7 6 2.7 7 1.3 8 .1 8.5 -1.2 9 -2.3 8.5 -3.3 7.5 -4.5 6.7 -5 5.1 -6 4 -6.5 2.2 -6 .5 -5 -1 -4 -2.2 -4 -3.9 -3.5 -5.2 -2.5 -5.7 -1.7 -6.5 -.9 -7.5 -.1 -8 .9 -7.5 1.7 -7 2.7 -7 3.5 -6.5 4 -5.5 4.4 -4.3 4.5 -3z"/>
<path d="M942.5 487.5l5.1 0 4.5 1.8 3.8 3.7 3 5.5 2.2 7.5 2.5 11.5 .2 3 -.5 2.5 -1.2 1.8 -1.5 1.4 -2.4 1.3 -4.1 .9 -4.5 0 -4 -1 -3.5 -1.7 -2.5 -2.3 -2 -2.7 -5.2 -10.7 -1.3 -4 -.5 -3.5 .3 -3.5 1.1 -3.5 1.8 -3 2.3 -2.4 3 -1.7zM955.3 536.0l5.8 .7 6 2.5 4.5 3.4 4 5 3.1 5.9 2.1 7 .9 7.5 -.3 8.5 -1.4 8.5 -2.6 8 -3.4 7 -4.4 6 -5 4.7 -5.5 3.3 -6 1.9 -6 .2 -4.5 -1.1 -4.1 -2.5 -3.9 -4 -3.5 -5.6 -2.2 -5.9 -1.6 -7 -.6 -7.5 .3 -8 1.2 -7 2.1 -7 3.1 -7 3.8 -6 3.9 -4.7 4.5 -3.7 5 -2.3z"/>
<path d="M941.8 489.0l4.8 -.2 2.5 .6 2 .9 3.5 3.2 2.5 4.5 2.2 7 2.3 10.5 .3 3 -.3 2 -1 1.9 -1.5 1.5 -2 1.1 -3.5 .9 -4 0 -4 -.8 -3 -1.5 -2 -1.6 -2 -2.5 -4.6 -9 -1.4 -3.6 -.7 -3.4 .1 -3.5 .7 -3 1.4 -2.8 2 -2.3 2.5 -1.8zM952.4 537.5l5.2 -.2 6 1.4 5.5 3.1 4.2 4.2 3.5 5.5 2.5 6.5 1.4 7.5 .1 8 -1 8.5 -2.2 8 -3 7 -4.2 6.5 -4.8 5 -5.5 3.7 -6 2.2 -6 .5 -4.5 -.9 -4 -2.2 -3.9 -3.8 -3.1 -4.5 -2.4 -5.5 -1.6 -6 -.9 -7 0 -7.5 .8 -7 1.5 -6.5 2.4 -6.5 3.2 -6.1 3.9 -5.4 4.1 -4.1 4.4 -2.9z"/>
<path d="M941.3 490.5l4.3 -.4 4 1 3.5 2.9 2.5 4 2.1 6.5 2.4 12 -.3 2 -.7 1.5 -1.4 1.5 -1.6 .9 -3 .9 -3 .2 -3.5 -.5 -3 -1.1 -2 -1.4 -2 -2.2 -3.9 -7.3 -1.7 -4 -.7 -3 -.1 -3 .4 -2.5 1 -2.6 1.7 -2.4 2.3 -1.9zM953.2 538.5l5.4 0 5.5 1.7 5 3 4.1 4.3 3.4 5.8 2.2 6.2 1.1 7 .1 8 -1.1 8 -2.2 7.5 -3.1 7 -4 6 -4.5 4.5 -5.5 3.6 -6 2.1 -5.5 .4 -4.5 -1 -3.6 -2.1 -3.9 -3.8 -3 -4.7 -2.3 -5.5 -1.5 -6 -.8 -7 .1 -7 .9 -7 1.7 -6.5 2.4 -6 3.4 -6 3.6 -4.9 4 -3.7 4 -2.5z"/>
<path d="M943.1 491.5l3.5 .1 3.5 1.4 2.5 2.6 2.1 3.9 1.6 5.5 1.9 10 -.2 1.5 -.9 1.6 -1.4 1.4 -1.6 .8 -3 .6 -3 0 -3 -.7 -2.5 -1.3 -2 -1.9 -1.4 -2 -3.6 -7.5 -.9 -3 -.3 -2.5 .2 -2.5 .9 -2.5 1.3 -2 1.8 -1.8 2 -1.1zM954.6 539.5l5 .4 5.5 2 4.5 3.1 3.5 4 3.1 5.5 2.1 6.5 .9 7 -.1 7.5 -1.2 7.5 -2.2 7.5 -3.1 6.5 -4 5.6 -4.5 4.4 -5 3.1 -5.5 1.8 -5.5 .3 -4.5 -1.1 -3.5 -2.1 -3.5 -3.6 -3.1 -4.9 -2.2 -5.5 -1.3 -6 -.6 -7 .2 -7 1 -6.5 1.9 -6.5 2.6 -6 3.3 -5.5 3.7 -4.6 4 -3.3 4 -2.1z"/>
<path d="M942.4 493.0l3.2 -.2 3 1 2.5 2.1 1.9 3.1 1.6 5 1.7 9 -.7 2.6 -1 1.2 -1.5 .9 -2.5 .7 -2.5 0 -2.5 -.4 -2.5 -1.2 -3 -3.1 -2.9 -5.7 -1.5 -5 .1 -2.5 .5 -2 1 -2 1.3 -1.6 1.5 -1zM952.3 541.0l4.8 -.3 5 1.1 5 2.5 4 3.7 3.4 5 2.4 6 1.3 6.5 .2 7.5 -.8 7.5 -1.9 7.5 -2.8 6.5 -3.8 6 -4.2 4.5 -4.8 3.3 -5.5 2.1 -5.5 .6 -4 -.7 -3.5 -1.8 -3.5 -3.1 -3.1 -4.4 -2.3 -5 -1.5 -5.5 -.8 -6.5 -.1 -6.5 .6 -6 1.3 -6 2.2 -6 2.8 -5.5 3.4 -4.9 3.5 -3.7 4 -2.8z"/>
<path d="M942.0 494.5l3.1 -.4 2.5 .7 2.2 1.7 1.6 2.5 1.6 4.5 1.4 7.5 -.5 2.5 -1.8 1.6 -2 .7 -2 .1 -4 -.9 -2.5 -1.9 -2.5 -4.1 -1.9 -5 -.1 -4 1.8 -3.5zM953.0 542.0l5.1 -.1 5 1.5 4.5 2.6 3.5 3.6 3.1 4.9 2.2 6 1.1 6.5 .1 7 -1 7.5 -2 6.9 -2.7 6.1 -3.6 5.5 -4.2 4.2 -4.5 3 -5.5 2 -5 .5 -4 -.8 -3.5 -1.9 -3.5 -3.4 -2.7 -4.1 -2.1 -5 -1.4 -5.5 -.7 -6 0 -6.5 .7 -6 1.5 -6 2.2 -5.6 3 -5.4 3.3 -4.5 3.7 -3.5 3.5 -2.2z"/>
<path d="M944.1 495.5l2 .2 2 1.1 1.5 1.8 1.3 2.9 1.3 5.5 .3 3 -.9 2 -2 1.1 -3.5 .2 -3 -1.3 -2.1 -2.5 -2.4 -5 -.4 -3 .9 -3.1 2 -2zM954.0 543.0l4.6 .2 5 1.6 4 2.6 3.5 3.8 2.8 4.8 1.9 5.5 .9 6 .1 7 -1 7 -1.9 6.5 -2.8 6.1 -3.5 5.2 -4 4 -4.5 2.9 -5 1.7 -5 .4 -4 -.8 -3.3 -2 -3.2 -3.2 -2.7 -4.3 -1.9 -4.5 -1.4 -5.5 -.6 -6 .1 -6.5 .9 -6 1.5 -5.5 2.3 -5.5 2.8 -5 3.5 -4.4 3.5 -3.1 3.5 -2z"/>
<path d="M943.3 497.0l1.8 0 1.5 .5 1.5 1.4 1.1 2.1 1.1 4 .3 3 -.5 1.5 -1.5 1.1 -2.5 .2 -2.5 -.8 -1.8 -2 -1.6 -3 -.7 -2.5 .3 -2.5 1.3 -1.9zM952.2 544.5l4.4 -.4 4.5 .9 4.5 2.2 3.7 3.3 3.1 4.5 2.2 5.5 1.2 5.5 .3 6.5 -.8 7 -1.6 6.5 -2.5 6 -3.1 5.1 -3.5 3.9 -4.5 3.4 -5 2 -5 .7 -3.6 -.6 -3.4 -1.6 -3.2 -2.9 -2.8 -3.9 -2 -4.3 -1.3 -4.8 -.8 -5.5 -.1 -6 .5 -5.5 1.2 -5.5 1.8 -5 2.4 -5 3.1 -4.5 3.2 -3.5 3.5 -2.5z"/>
<path d="M943.1 498.5l2.5 .1 1.2 .9 .9 1.5 1 5 -.6 1.5 -.6 .5 -1.9 .3 -1.5 -.4 -1.5 -1.4 -1.1 -2 -.6 -2 0 -1.5 .7 -1.5zM952.9 545.5l4.2 -.2 4.5 1.1 4 2.1 3.7 3.5 2.8 4.5 1.9 5 1.1 5.5 .1 6.5 -.8 6.5 -1.7 6.5 -2.4 5.5 -3.2 4.8 -4 4.1 -4 2.7 -4.5 1.7 -4.5 .4 -3.5 -.5 -3.2 -1.7 -3.2 -3 -2.4 -3.5 -1.9 -4 -1.3 -5 -.8 -5.5 0 -5.5 .6 -5.5 1.1 -5 1.8 -5 2.6 -5 2.8 -4 3.4 -3.5 3.5 -2.4z"/>
<path d="M943.5 500.0l1.6 .2 1.2 1.3 .3 2.9 -1 1.2 -1.5 -.3 -1.5 -1.8 -.3 -2 .5 -1zM953.7 546.5l3.9 0 4.5 1.3 4 2.4 3 3.2 2.5 4.2 1.8 4.9 .9 5.5 .1 6 -.8 6 -1.7 6 -2.3 5.3 -3 4.7 -3.5 3.6 -4 2.7 -4.5 1.7 -4.5 .4 -3.5 -.6 -3 -1.7 -3 -2.9 -2.4 -3.7 -1.7 -4 -1.3 -5 -.5 -5 0 -5.5 .7 -5.5 1.3 -5 1.9 -4.8 2.5 -4.5 3 -4 3 -2.8 3.3 -1.9z"/>
<path d="M955.6 547.5l4 .6 4 1.7 3.5 2.7 2.5 3.4 2.1 4.1 1.4 5 .5 5.5 -.2 5.5 -1 5.5 -1.8 5.6 -2.4 4.9 -3.1 4.2 -3.5 3.2 -4 2.3 -4 1.2 -4 .2 -3 -.8 -3 -1.8 -3 -3.2 -2.2 -3.8 -1.5 -4 -1 -5 -.4 -5 .2 -5.5 .9 -5 1.5 -5 2.4 -5 2.6 -4 3 -3.4 3 -2.3 3 -1.3z"/>
<path d="M952.8 549.0l3.8 -.3 4 .9 3.7 1.9 3.2 3 2.6 4 1.5 4 1 5 .2 5.5 -.7 6 -1.4 5.5 -2.1 5 -2.9 4.5 -3.4 3.5 -3.7 2.4 -4 1.5 -4 .4 -3 -.5 -3 -1.6 -2.5 -2.4 -2.3 -3.3 -1.7 -3.8 -1.1 -4.2 -.5 -4.5 -.1 -5 .5 -4.5 1 -4.5 1.6 -4.5 2.1 -4.2 2.5 -3.7 2.5 -2.6 3 -2.2z"/>
<path d="M953.5 550.0l3.6 -.1 4 1.1 3.4 2 2.6 2.6 2.4 3.9 1.5 4 .9 5 .1 5 -.7 5.5 -1.3 5 -2.2 5 -2.7 4.1 -3 3.2 -3.5 2.3 -4 1.5 -4 .4 -3 -.6 -2.5 -1.4 -2.5 -2.4 -2.1 -3.1 -1.5 -3.5 -1.1 -4 -.6 -4.5 0 -5 .5 -4.5 1.1 -4.5 1.5 -4 2.2 -4.1 2.5 -3.4 2.5 -2.6 3 -1.9z"/>
<path d="M954.6 551.0l3.5 .2 3.5 1.2 3 2.1 2.5 2.8 2.1 3.7 1.3 4 .7 4.5 -.1 5 -.7 5 -1.5 5 -2.1 4.5 -2.4 3.5 -2.8 2.8 -3.5 2.3 -4 1.4 -3.5 .2 -3 -.8 -2.3 -1.4 -2.4 -2.5 -1.9 -3 -1.5 -3.5 -.9 -4 -.4 -4.5 0 -4.5 .7 -4.5 1.1 -4 1.6 -4 2.3 -4 2.4 -3 2.8 -2.4 2.5 -1.4z"/>
<path d="M952.8 552.5l2.8 -.4 3.5 .5 3.5 1.7 2.7 2.2 2.3 3.4 1.6 3.6 .9 4.1 .3 4.9 -.5 5 -1.2 5 -1.8 4.5 -2.3 3.6 -3 3.3 -3 2.1 -3.5 1.4 -3.5 .5 -2.5 -.4 -2.5 -1.1 -2.2 -1.9 -1.9 -2.5 -1.5 -3 -1.1 -3.5 -.7 -4 -.2 -4.5 1.1 -8 1.4 -4 1.6 -3.5 2 -3.1 2.5 -2.8 2.5 -1.9z"/>
<path d="M953.5 553.5l3.1 -.2 3 .7 3 1.6 2.5 2.3 2.1 3.1 1.4 3.5 .8 4 .2 4.5 -.6 5 -1.1 4.5 -1.8 4 -2.2 3.5 -2.8 3 -3 2 -3.5 1.3 -3 .3 -2.5 -.5 -2.3 -1.1 -2.1 -2 -1.8 -2.5 -1.4 -3 -1 -3.5 -.6 -8 1.2 -7.5 3.1 -7 2 -3 2.4 -2.5 2.5 -1.6z"/>
<path d="M954.3 554.5l2.8 0 3 .9 2.7 1.6 2.3 2.5 1.8 3 1.2 3.5 .6 4 0 4 -.6 4.5 -1.1 4 -1.9 4 -2 2.9 -2.5 2.6 -3 1.9 -3 1.1 -3 .2 -2.5 -.5 -2 -1.1 -2 -1.8 -1.8 -2.8 -1.3 -3 -.8 -3.5 -.4 -7.5 .6 -4 .9 -3.5 3.3 -6.5 2 -2.7 2 -1.8 2.5 -1.4z"/>
<path d="M952.9 556.0l2.7 -.4 3 .4 2.5 1.2 2.5 2 2 2.8 1.3 3 .9 3.5 .2 4 -.4 4.5 -1 4 -1.5 3.6 -2 3.3 -2.5 2.7 -2.5 1.8 -3 1.2 -3 .3 -2 -.3 -2 -.8 -2 -1.7 -1.5 -2.1 -2.3 -5.5 -.7 -7 1 -7 2.5 -6 3.5 -4.8 2 -1.6z"/>
<path d="M953.5 557.0l2.6 -.3 2.5 .5 2.5 1.2 2.3 2.1 1.7 2.5 1.2 3 .7 3.5 .2 3.5 -.4 4 -.9 3.5 -1.4 3.5 -1.9 3 -2.5 2.6 -2.5 1.7 -3 1.1 -2.5 .2 -2 -.4 -2 -1 -1.8 -1.7 -1.3 -2 -1.9 -5 -.6 -6.5 .9 -6 2.4 -6 3.4 -4.5 1.9 -1.5z"/>
<path d="M954.1 558.0l2.5 -.1 2.5 .7 2 1.2 2 1.9 1.5 2.4 1.1 2.9 .6 3 .1 3.5 -1.4 7 -1.4 3.2 -1.8 2.8 -2.2 2.2 -2.5 1.6 -2.5 .8 -2.5 .2 -2 -.5 -1.5 -.8 -1.6 -1.5 -1.6 -2.5 -1.6 -5 -.4 -6 1.2 -6 2.5 -5.5 3.5 -3.9z"/>
<path d="M953.0 559.5l2.1 -.5 2.5 .3 2.5 1.1 2 1.6 1.4 2 1.2 2.5 .7 3 .2 3 -1 6.5 -1.1 3 -1.8 3 -2.1 2.3 -2 1.4 -2 .9 -2.5 .4 -2 -.2 -1.5 -.7 -1.5 -1.2 -1.5 -1.9 -1.8 -4.5 -.5 -5 .6 -5.5 1.8 -5 2.9 -4.1z"/>
<path d="M953.5 560.5l2.1 -.3 2 .3 2 .9 2 1.6 2.3 4 .9 5.5 -.9 6 -1.1 3 -1.5 2.5 -1.7 1.9 -2 1.5 -2 .9 -2.5 .4 -3 -.8 -2.8 -2.9 -1.6 -4 -.5 -5 .6 -5 1.8 -4.8 2.8 -3.7z"/>
<path d="M954.1 561.5l3.5 .2 2 .9 1.6 1.4 2.1 4 .6 5.5 -1 5.5 -2.4 4.5 -3.4 2.9 -2 .7 -2 .3 -3 -1.1 -2.4 -2.8 -1.3 -4 -.3 -4.5 .7 -4.5 1.8 -4.3 2.5 -3.1z"/>
<path d="M955.2 562.5l1.9 .2 1.5 .6 2.5 2.3 1.7 3.9 .3 4.5 -1.1 5 -2.4 4 -3 2.3 -3.5 .7 -1.5 -.3 -1.5 -1 -1.9 -2.7 -1.1 -3.5 -.1 -4.5 .8 -4 2.1 -4 2.5 -2.5z"/>
<path d="M953.7 564.0l2.9 -.2 1.5 .5 1.7 1.2 1.8 3.1 .7 4.4 -.7 4.5 -2 3.9 -3 2.6 -3 .7 -2.5 -.8 -1.7 -1.9 -1.2 -3 -.4 -3.5 .4 -3.5 1.2 -3.5 2.1 -3z"/>
<path d="M954.3 565.0l2.8 .1 2.2 1.4 1.7 3 .5 3.5 -.6 4 -1.8 3.5 -2.5 2.2 -2.5 .7 -2 -.5 -2 -1.9 -1 -2.5 -.4 -3.5 .5 -3.5 1.2 -3 1.7 -2.2z"/>
<path d="M955.3 566.0l2.3 .6 2 1.9 .9 2.5 .2 3 -.9 3.5 -1.5 2.5 -2.2 1.6 -2.5 .4 -2 -1 -1.3 -2 -.6 -2.5 0 -3 .7 -3 1.2 -2.2 1.5 -1.5z"/>
<path d="M954.1 567.5l2 -.3 2 1.1 1.2 1.7 .6 2.5 -.3 3 -1.1 2.5 -1.9 2 -2 .7 -1.5 -.3 -1.5 -1.3 -.7 -1.6 -.4 -2.5 .2 -2.5 .7 -2 1.2 -1.9z"/>
<path d="M954.7 568.5l1.4 -.1 1.5 .9 1.1 1.7 .4 2 -.4 2.5 -1 2 -1.6 1.4 -1.5 .4 -1.3 -.3 -1 -1 -.7 -1.5 -.2 -2 .2 -2 .8 -2 1.2 -1.4z"/>
<path d="M954.2 570.0l1.4 -.4 1 .3 1 1.1 .6 1.5 -.1 2 -.6 1.5 -.9 1.2 -1.5 .7 -1 -.1 -1 -.7 -.8 -2.1 .4 -3z"/>
<path d="M955.0 571.0l.6 -.1 1 .6 .7 2 -.7 2 -1.5 1 -1.5 -.9 -.4 -1.6 .6 -2z"/>
<path d="M954.9 573.0l.7 -.2 .4 .7 -.4 .9 -.5 .2 -.5 -.6z"/>
</g>
<g clip-path="url(#cb3)" stroke="#FF3D9A" stroke-width="0.9" stroke-opacity="0.8" fill="#FF3D9A" fill-opacity="0.045">
<path d="M1259.1 474.1l4.4 -.2 4 .4 4 1 3.5 1.5 3.5 2.3 3 2.7 2.7 3.3 2.5 4 2.4 5.5 2 6.5 1 6 1.3 11.5 4 13 .9 7 4.4 7.5 2.4 5.5 2 7 1.1 7.5 .3 11 -1 10.5 -2.5 9.5 -3.9 8.5 -5.6 7.7 -3.5 3.6 -3.5 2.8 -3.6 2.4 -3.9 1.8 -4 1.3 -3.5 .7 -6.5 -.3 -6.5 -1.9 -6.5 -3.6 -6 -4.9 -5 -5.9 -3.7 -6.2 -2.5 -7 -1.5 -8 -.2 -6 .3 -6 1 -6.5 1.6 -6.1 2.1 -5.9 2.8 -6 3.4 -6 4.1 -6 .5 -1.5 -.7 -1.5 -4.5 -5 -3.3 -4.5 -2.9 -5 -2.1 -5 -1.5 -5 -.9 -5.5 0 -5.5 .6 -5 1.3 -4.5 1.8 -4 2.3 -3.7 3 -3.3 3 -2.4 3.5 -1.9 4 -1.4z"/>
<path d="M1257.3 476.1l4.2 -.4 4.5 .2 4 .8 3.5 1.4 3.2 2 2.9 2.5 2.6 3 2.5 4 2.5 5.5 1.9 6.5 2.2 16 4 14 .3 7 4.8 7.5 2.6 5.4 2.1 6.6 1.2 7.5 .5 11 -.9 10 -2.3 9 -3.6 8.1 -2.5 4 -3 3.8 -6.5 5.9 -7 4.1 -4 1.3 -3.5 .7 -6 -.2 -6 -1.7 -6 -3.2 -6 -4.9 -4.7 -5.4 -3.6 -6 -2.5 -6.5 -1.4 -7.5 -.3 -6 .4 -6.5 1.1 -6.5 1.7 -6 2.2 -6 3 -6 3.6 -6 4.2 -5.5 .6 -1.5 -.7 -1.5 -5 -5 -3.6 -4.5 -2.9 -4.5 -2.2 -4.5 -1.7 -5 -1.1 -5.5 -.2 -5 .5 -5 .9 -4 1.6 -4 2.1 -3.8 2.5 -3 3 -2.6 3 -1.8 3.5 -1.4z"/>
<path d="M1259.3 477.6l3.7 -.2 4 .5 3.5 1 3 1.4 3 2.1 2.5 2.3 2.5 3.3 2 3.4 1.8 4.2 1.5 5 1.1 5.5 1.2 10.5 3.7 12.5 .3 4 -.7 5.5 5.6 7.5 3 5.7 2.4 7.3 1.3 8 .3 10 -.9 9.5 -2.2 8.5 -3.4 7.5 -5 7 -6 5.6 -3.5 2.3 -3.5 1.7 -3.5 1.2 -3.5 .7 -5.5 -.2 -6 -1.7 -6 -3.2 -5.5 -4.6 -4.5 -5.3 -3.2 -5.5 -2.4 -6.5 -1.3 -7 -.2 -6 .5 -6.5 1.3 -6.5 1.8 -6 2.8 -6.5 3.2 -6 3.1 -4.5 5 -6 .4 -1 -.7 -1.5 -5.3 -4.7 -4 -4.4 -3 -4.2 -2.6 -4.7 -1.9 -5 -1.3 -5.5 -.3 -5.5 .5 -5 1 -4 1.6 -3.9 2 -3.3 2.5 -2.8 3 -2.4 3 -1.7 3.5 -1.2z"/>
<path d="M1257.4 479.6l3.6 -.4 4 .2 3.5 .8 3 1.2 3 1.8 2.5 2.2 2.2 2.7 2.2 3.5 2 4.5 1.4 4.5 1 5 1.1 10 3.6 12.5 0 4.5 -.6 2 -1.4 2.5 -.1 1 6.2 7 3.9 6 2.7 7 1.6 8 .5 10 -.7 9 -1.9 8 -3.2 7.5 -4.5 6.5 -6 5.8 -6.5 3.9 -6.5 1.8 -5.5 0 -5.5 -1.5 -5.5 -2.9 -5 -4 -4.2 -4.6 -3.5 -5.5 -2.3 -6 -1.3 -6.5 -.4 -6.5 .5 -6.5 1.5 -7 2.2 -6.5 3 -6.5 3.5 -5.9 4 -5.2 5 -4.9 .4 -1 -.7 -1 -5.7 -4.2 -4.2 -3.8 -3.7 -4.5 -2.9 -4.5 -2.3 -5 -1.4 -5 -.7 -5.5 .3 -5 2 -7 1.8 -3.5 2.1 -2.7 2.5 -2.4 3 -1.9 3 -1.2z"/>
<path d="M1257.8 480.6l3.7 -.3 3.5 .2 3.5 .8 2.9 1.3 2.6 1.7 2.5 2.3 4.1 6 1.7 4 1.4 4.5 2 14 2.7 9 .7 3.5 0 3 -.6 2.2 -3.2 4.8 .5 1 6.7 6 4.3 6 3.2 7.5 1.8 8.5 .5 9.5 -.8 9 -2 8 -3 6.9 -4.5 6.5 -5.5 5.2 -6 3.6 -6.5 1.9 -5 0 -5.5 -1.5 -5.5 -2.8 -5 -4 -4 -4.5 -3.3 -5.3 -2.1 -5.5 -1.3 -6.5 -.3 -6.5 .7 -7 1.6 -7 2.3 -6.5 3.4 -6.7 4 -6.1 3.5 -4 5.6 -4.7 .6 -1 -.5 -1 -6.2 -3.8 -4.6 -3.7 -3.9 -4.2 -3.3 -4.8 -2.5 -5 -1.8 -5.5 -.7 -5.5 .3 -5 .8 -3.5 1.3 -3.5 1.6 -3 2 -2.5 2.3 -2.2 2.9 -1.8 3.1 -1.3z"/>
<path d="M1256.8 481.6l3.7 -.5 3.5 .1 3.5 .7 2.9 1.2 2.6 1.5 2.5 2.2 4.1 5.8 1.7 4 1.4 4.5 1.9 13.5 2.7 9 .7 3.5 -.2 3 -.9 2.5 -1.4 1.7 -3.1 2.3 -.3 1 7.9 5.9 5 6.1 2.3 4 1.6 4 2 9 .5 9 -.7 9 -1.7 7.5 -3 7 -4.5 6.5 -5.5 5.2 -6 3.6 -6 1.6 -5 0 -5.4 -1.4 -5.1 -2.7 -4.8 -3.8 -4 -4.5 -3.1 -5 -2.1 -5.5 -1.3 -6 -.3 -7 .8 -7 1.8 -7.5 2.8 -7 3.7 -6.7 4.3 -5.8 4.1 -4 6.2 -4.5 -.4 -1 -6.2 -3.2 -4 -2.6 -6.5 -6.1 -3 -4 -2.4 -4.1 -1.6 -4.1 -1.1 -4.4 -.5 -4.5 .3 -4.5 1.1 -4.5 1.9 -4 2.3 -3.3 3 -2.7 3.5 -1.9z"/>
<path d="M1259.1 482.1l6.4 .2 3 .9 2.5 1.2 4.5 3.8 3.8 5.9 2.7 8 1.5 11.5 2.9 10 .4 4.5 -.9 3 -1.9 2.3 -2.5 1.4 -5.6 1.8 -.6 .5 5.2 1.7 4.5 2.3 4 3 3.5 3.7 3 4.4 2.2 4.9 1.5 5 1 6 .4 9 -.8 8 -1.9 7.5 -2.9 6.5 -4.3 6 -5.3 5 -5.9 3.3 -6 1.6 -5 -.2 -5 -1.5 -5 -2.7 -4.5 -3.7 -3.8 -4.3 -3 -5 -2 -5.5 -1.2 -6 -.1 -8 1.3 -8 2.6 -8 4 -8 4.6 -6.5 4.6 -4.7 5 -3.1 7.2 -2.7 -11.2 -3.8 -4.5 -2.6 -4 -3.1 -3.9 -4 -3.1 -4.4 -2.4 -4.6 -1.6 -4.5 -.8 -5 .1 -5 .9 -4.5 2 -4.5 2.6 -3.5 3.2 -2.7 4 -1.9z"/>
<path d="M1257.8 483.1l3.2 -.3 3.5 .2 5.5 1.9 2.5 1.6 2.1 2.1 2 2.5 1.9 3.5 2.4 7 1.7 12 2.4 8 .6 3.5 -.1 2.6 -.8 2.4 -1.7 1.9 -2 1.2 -4.5 1.2 -5.5 .2 -5 -1 -5 -2 -5 -3.2 -4.3 -3.8 -3.7 -4.5 -2.9 -5 -1.8 -5 -.9 -5.5 .2 -5.5 1.4 -5 2.2 -4 3.3 -3.5 4 -2.4zM1270.4 539.6l5.6 -.4 5.5 1.4 5.1 3 4.8 4.5 3.6 5.2 2.5 5.8 1.6 7 .7 8 -.4 8 -1.3 7 -2.3 6.5 -3.3 5.7 -4.5 5.2 -5 3.9 -5.5 2.6 -5.5 .9 -5 -.6 -5 -1.9 -5 -3.3 -4.5 -4.3 -3.4 -4.7 -2.3 -5 -1.5 -5.5 -.6 -6.5 .5 -7 1.5 -7 2.5 -7 3.4 -6.5 3.9 -5.7 4.5 -4.6 4.5 -3z"/>
<path d="M1256.9 484.1l3.1 -.5 3.5 .2 5.5 1.6 4.5 3.3 3.8 5.4 2.5 7 1.7 12 2.4 8 .5 3 -.1 2.5 -.6 2 -1.2 1.7 -2 1.4 -4.5 1.3 -5 .2 -5 -.9 -4.5 -1.7 -4.5 -2.7 -4.5 -3.8 -3.5 -4.1 -3 -4.9 -2 -5 -.9 -5 .1 -5 1 -4.5 1.9 -4 2.9 -3.6 3.5 -2.4zM1271.8 540.6l5.2 0 5.5 1.7 5 3.4 4.2 4.4 3.1 5 2.4 6 1.3 6.8 .4 7.7 -.5 7.5 -1.3 6.5 -2.3 6 -3.3 5.5 -4.5 5 -5 3.7 -5.5 2.3 -5 .7 -5 -.8 -5 -2.1 -4.7 -3.3 -4.3 -4.4 -3.1 -4.6 -2.1 -5 -1.3 -5.5 -.4 -6 .5 -6.5 1.6 -7 2.8 -7 3.5 -6.5 4 -5.4 4.5 -4.1 4.5 -2.7z"/>
<path d="M1259.0 484.6l6 .3 5 2.1 4 3.6 3.2 5.5 1.9 6 1.4 10.5 2.2 7.5 .6 3.5 -.2 2.5 -.9 2 -1.2 1.3 -2 1.2 -4 1 -5 .2 -5 -1 -4.5 -1.9 -4.5 -2.9 -4 -3.7 -3.5 -4.4 -2.6 -4.8 -1.5 -4.5 -.7 -5 .5 -5 1.4 -4.5 2.4 -3.9 3 -2.8 3.5 -1.8zM1270.4 542.1l5.1 -.5 5 1.2 5 2.7 4.5 4.2 3.5 4.9 2.4 5.5 1.6 6.5 .6 7.5 -.3 7.5 -1.2 6.5 -2 6 -3.1 5.5 -4 4.7 -5 4 -5 2.4 -5.5 1 -4.5 -.6 -5 -1.9 -4.5 -3 -4 -3.8 -3.1 -4.3 -2.4 -5 -1.3 -5 -.6 -6 .3 -6.5 1.4 -6.5 2.3 -6.5 3.3 -6.5 3.6 -5.2 4 -4.2 4.5 -3z"/>
<path d="M1257.8 485.6l5.7 -.1 5 1.6 4.3 3.5 3.1 5 2.1 6 1.5 10.5 2.6 10 -.1 2.5 -.8 2 -1.2 1.4 -1.6 1.1 -3.9 1.1 -4.5 .2 -4.5 -.7 -4.5 -1.8 -4 -2.4 -4 -3.4 -3.5 -4.2 -2.6 -4.3 -1.6 -4.5 -.8 -4.5 .1 -4.5 1.2 -4.5 2.1 -4 2.6 -2.9 3.5 -2.1zM1271.6 543.1l4.9 -.1 4.5 1.2 4.7 2.9 4.3 4.2 3.2 4.8 2.2 5.5 1.4 6.5 .5 7 -.4 7 -1.3 6.5 -2.1 5.7 -3 5.1 -4 4.5 -4.5 3.5 -5 2.3 -5 .8 -4.5 -.6 -4.7 -1.8 -4.5 -3 -4.1 -4 -3 -4.5 -2 -4.5 -1.3 -5.5 -.4 -5.5 .5 -6.5 1.5 -6.5 2.5 -6.5 3.4 -6 3.6 -4.9 4 -3.8 4 -2.4z"/>
<path d="M1256.9 486.6l5.6 -.4 5 1.4 4 3 3.2 4.5 2.3 6.5 1.4 10 2.5 9.5 0 2 -.6 2 -1.2 1.5 -1.6 1.1 -3.5 1.1 -4.5 .2 -4 -.6 -4 -1.4 -4 -2.4 -4 -3.3 -3.3 -3.7 -2.4 -4 -1.6 -4 -1 -4.5 .1 -4.5 .8 -4 1.7 -3.5 2.4 -3 2.8 -2.1zM1274.0 544.1l4.5 .5 4.5 2 4.5 3.5 3.5 4.2 2.6 4.8 1.7 5.5 .9 6 .2 7 -.6 6.5 -1.4 5.5 -2.3 5.5 -2.9 4.5 -3.7 4 -4.5 3.2 -5 2.1 -4.5 .5 -4.5 -.8 -4.5 -1.9 -4.3 -3.1 -3.8 -4 -2.9 -4.5 -1.8 -4.5 -1.1 -5.5 -.2 -5.5 .7 -6.5 1.8 -6.5 2.7 -6 3.6 -6 3.8 -4.6 4 -3.2 4.5 -2z"/>
<path d="M1259.0 487.1l5 .2 4.3 1.8 3.7 3.4 2.6 4.6 1.6 5 1.2 9 1.9 6.5 .5 3 -.8 3.5 -1.2 1.5 -1.8 1 -3.5 .9 -4.5 0 -4 -.8 -4 -1.7 -4 -2.7 -3.5 -3.2 -2.6 -3.5 -2.2 -4 -1.3 -4 -.6 -4.5 .4 -4 1.3 -4 2 -3.2 2.5 -2.4 3 -1.5zM1271.4 545.6l4.6 -.2 4.5 1.2 4.5 2.7 3.8 3.8 3 4.5 2.1 5 1.3 6 .4 6.5 -.3 6.5 -1.1 6 -2 5.5 -2.7 4.5 -3.8 4.5 -4.2 3.2 -4.5 2.1 -5 .8 -4 -.5 -4.5 -1.7 -4 -2.7 -3.8 -3.7 -2.8 -4 -2 -4.5 -1.2 -5 -.4 -5 .4 -6 1.4 -6 2.3 -6 2.9 -5.5 3.7 -5 3.5 -3.4 4 -2.4z"/>
<path d="M1257.8 488.1l4.7 -.2 4.5 1.5 3.5 2.7 2.9 4.5 1.7 5 1.3 9 2.2 8.5 -.6 3.5 -1 1.4 -1.5 1.1 -3 .9 -4 .2 -4 -.6 -3.5 -1.3 -3.5 -2.1 -3.5 -2.9 -3 -3.5 -2.2 -3.7 -1.5 -4 -.7 -4 .1 -4 1 -3.5 1.5 -3 2.3 -2.7 3 -1.9zM1273.2 546.6l4.3 .3 4.5 1.8 4 2.9 3.4 4 2.5 4.5 1.7 5 1 5.5 .2 6.5 -.5 6 -1.3 5.5 -2.1 5 -2.9 4.5 -3.8 4 -4.2 2.9 -4.5 1.7 -4 .4 -4 -.7 -4.5 -2 -4 -2.9 -3.5 -3.8 -2.5 -4 -1.6 -4.1 -1 -5 -.2 -5 .7 -6 1.6 -6 2.5 -5.8 3.2 -5.2 3.3 -4.1 3.5 -3 4 -2.1z"/>
<path d="M1257.0 489.1l4.5 -.4 4.5 1.1 3.6 2.8 2.7 4 1.8 5 1.3 8.5 2 8 -.1 2 -.5 1.5 -2.3 2.1 -3 .9 -3.5 .2 -3.5 -.5 -3.5 -1.2 -3.5 -2.1 -3 -2.5 -2.6 -2.9 -2.4 -3.8 -1.5 -3.7 -.7 -3.5 0 -3.5 .8 -3.5 1.3 -3 2.1 -2.6 2.5 -1.8zM1271.3 548.1l4.2 -.3 4 1 4 2.2 3.8 3.6 2.8 4 2 4.5 1.3 5.5 .6 6 -.3 6.5 -1 5.5 -1.8 5 -2.4 4.3 -3.5 4.1 -4 3.2 -4 1.9 -4.5 .9 -4 -.5 -3.9 -1.4 -3.6 -2.3 -3.5 -3.3 -2.6 -3.4 -2 -4 -1.3 -4.5 -.5 -5 .3 -5.5 1.1 -5.5 2 -5.5 2.6 -5 3 -4.5 3.4 -3.6 3.6 -2.4z"/>
<path d="M1259.0 489.6l4.5 .3 3.5 1.6 2.7 2.6 2.3 4 1.2 4 1 7 2 8.5 -.7 3 -1 1.1 -1.5 .9 -3 .7 -3.5 .1 -3.5 -.8 -3 -1.3 -3.5 -2.2 -2.7 -2.5 -2.4 -3 -1.9 -3.6 -1.1 -3.4 -.5 -3.5 .4 -3.5 1.1 -3.5 1.6 -2.5 2.2 -2 2.8 -1.4zM1272.7 549.1l4.3 .2 4 1.5 3.9 2.8 3.1 3.5 2.3 4 1.6 4.5 1 5 .2 6 -.4 6 -1.2 5 -1.8 4.5 -2.5 4 -3.2 3.5 -4 3 -4 1.7 -4 .5 -4 -.6 -3.8 -1.6 -3.7 -2.6 -3.3 -3.4 -2.3 -3.5 -1.7 -4 -.9 -4.5 -.3 -4.5 .5 -5.5 1.4 -5.5 2.1 -5.1 3 -5.3 3 -3.8 3.5 -3.1 3.5 -1.8z"/>
<path d="M1257.8 490.6l4.2 -.1 3.5 1.1 3 2.4 2.3 3.6 1.5 4.5 1 7 1.7 7 -.4 3 -2.1 2 -2.5 .7 -3.5 .2 -3 -.5 -3 -1.1 -3 -1.8 -3 -2.5 -2.1 -2.5 -1.9 -3.2 -1.3 -3.3 -.5 -3 .1 -3.5 .8 -3 1.4 -2.8 2 -2.1 2 -1.3zM1271.2 550.6l3.8 -.4 4 .9 3.5 2 3.5 3.1 2.7 3.9 2 4.5 1.2 5 .4 5.5 -.3 6 -.9 5 -1.6 4.5 -2.3 4 -3.2 3.7 -3.5 2.8 -4 1.9 -4 .7 -3.5 -.4 -3.5 -1.3 -3.5 -2.2 -3.4 -3.2 -2.5 -3.5 -1.7 -3.5 -1 -4 -.5 -4.5 .3 -5 1.1 -5 1.8 -5 2.4 -4.8 3 -4.2 3 -3.1 3 -2.1z"/>
<path d="M1257.1 491.6l3.9 -.4 3.5 .9 3 2.2 2.3 3.3 1.5 4.5 1 6.5 1.5 6.5 -.5 3 -1.8 1.6 -2.5 .8 -3 .1 -3 -.5 -2.5 -.9 -3 -1.8 -2.5 -2.1 -2 -2.4 -1.8 -2.8 -1.2 -3 -.6 -3 0 -3 .6 -2.5 1.1 -2.5 1.5 -2 1.9 -1.5zM1272.4 551.6l3.6 0 4 1.3 3.5 2.4 3 3.2 2.2 3.6 1.7 4.5 .8 4.5 .3 5.5 -.4 5 -1 5 -1.6 4 -2.4 4 -3.1 3.3 -3.5 2.6 -3.7 1.6 -3.8 .5 -3.5 -.6 -3.5 -1.5 -3.5 -2.4 -2.8 -3 -2.2 -3.3 -1.5 -3.6 -.9 -3.6 -.3 -4.5 .5 -5 1.2 -5 2 -5 2.5 -4.4 3 -3.8 3 -2.7 3 -1.7z"/>
<path d="M1259.2 492.1l3.3 .2 2.8 1.3 2.2 2.1 1.9 3.4 1 3.5 2.3 12 -.7 2.5 -2 1.5 -2.5 .6 -2.5 0 -3 -.7 -2.5 -1.1 -2.5 -1.6 -2.5 -2.4 -2 -2.6 -1.4 -2.7 -.7 -2.5 -.3 -3 .3 -3 1 -2.5 1.3 -2 1.8 -1.6 2 -.9zM1271.1 553.1l3.4 -.4 3.5 .6 3.5 1.8 3.3 3 2.5 3.5 1.8 4 1.1 4.5 .5 5 -.2 5 -.9 5 -1.6 4.5 -2 3.5 -3 3.5 -3.5 2.7 -3.5 1.6 -3.5 .5 -3 -.3 -3.5 -1.3 -3 -1.9 -3 -2.9 -2.2 -2.9 -1.7 -3.5 -.9 -3.5 -.4 -4 .2 -4.5 .9 -4.5 1.5 -4.5 2.1 -4.3 2.5 -3.7 3 -3.2 3 -2.1z"/>
<path d="M1257.9 493.1l3.1 -.2 3 1 2.5 2 1.7 2.7 1.2 3.5 2.1 11 -.4 2.5 -1.6 1.5 -2 .6 -2.5 .1 -2.5 -.4 -2.5 -.9 -4.5 -3.3 -3.3 -4.6 -1.4 -5 .1 -2.5 .6 -2.5 1 -2 1.5 -1.7 2 -1.3zM1272.2 554.1l3.3 -.1 3.5 1 3.2 2.1 2.8 2.8 2.1 3.2 1.6 4 .8 4 .3 5 -.2 4.5 -.9 4.5 -1.4 4 -2 3.5 -2.8 3.1 -3 2.4 -3.5 1.6 -3.5 .6 -3 -.4 -3 -1.1 -3 -1.9 -3 -2.9 -2.1 -2.9 -1.6 -3.5 -.8 -3.5 -.3 -4 .3 -4.5 1.1 -4.5 1.8 -4.5 2.1 -3.9 2.5 -3.4 2.5 -2.4 3 -1.9z"/>
<path d="M1257.3 494.1l2.7 -.4 3 .7 2.4 1.7 1.8 2.5 1.2 3.5 1.9 10 -.3 2 -1.5 1.6 -2 .6 -2 .1 -4.5 -1.2 -4 -2.8 -3 -3.9 -1.4 -4.4 .3 -4.5 .9 -2 1.2 -1.7zM1271.1 555.6l3.4 -.5 3 .6 3 1.5 3 2.6 2.1 2.8 1.8 3.5 1.1 4 .5 4.5 -.1 4.5 -.6 4.5 -1.3 4 -1.8 3.5 -2.7 3.3 -3 2.4 -3 1.6 -3.5 .7 -3 -.2 -3 -1.1 -3 -1.9 -2.5 -2.3 -2 -2.6 -1.5 -2.9 -1 -3.5 -.4 -3.5 .1 -4 .8 -4 1.3 -4 1.9 -4 2.3 -3.6 2.5 -2.7 2.5 -1.9z"/>
<path d="M1256.8 495.1l2.7 -.5 2.8 .5 2.2 1.3 1.6 2.2 1.3 3.5 1.7 9 -.3 2 -1.3 1.2 -3.5 .7 -4 -1 -3.5 -2.3 -2.8 -3.6 -1.4 -4 .2 -4 1.5 -3zM1272.1 556.6l2.9 -.2 3 .8 3 1.7 2.5 2.4 2 3 1.4 3.3 .9 4 .4 4.5 -.3 4.5 -.8 4 -1.3 3.5 -1.8 3 -2.5 2.9 -3 2.3 -3 1.3 -3 .4 -2.5 -.3 -3 -1.1 -3 -2 -2.5 -2.5 -1.7 -2.5 -1.3 -3 -.7 -3 -.3 -3.5 .3 -4 .9 -4 1.5 -4 1.9 -3.5 2.4 -3.3 2.3 -2.2 2.7 -1.7z"/>
<path d="M1258.0 495.6l2.5 -.1 2 .6 1.8 1.5 1.3 2 .9 2.5 1.4 8 -.4 2 -1.1 1 -3.4 .5 -3.5 -1 -3 -2.2 -2.5 -3.4 -1.1 -3.9 .5 -3.5 1.7 -2.5zM1271.0 558.1l3 -.5 2.5 .3 3 1.4 2.5 2 2.2 2.8 1.6 3 1 3.5 .5 4 0 4.5 -.6 4 -1.2 3.5 -1.5 3 -2.4 3 -2.6 2.1 -3 1.6 -3 .6 -2.5 -.2 -2.5 -.9 -2.5 -1.4 -2.6 -2.3 -1.9 -2.5 -1.3 -2.5 -.9 -3 -.4 -3 .1 -3.5 .7 -4 2.8 -7 2 -3.1 2.1 -2.4 2.4 -1.9z"/>
<path d="M1257.5 496.6l2 -.3 2 .4 1.5 .9 1.6 2 .9 2.5 1.2 7 -.2 1.5 -1 1 -3 .6 -3 -.9 -3 -2.2 -1.9 -2.5 -.9 -3 .2 -3 1.3 -2.5zM1272.0 559.1l2.5 -.3 2.5 .6 2.5 1.2 2.5 2.2 2 2.8 1.3 3 .9 3.5 .3 3.5 -.1 4 -.6 3.5 -1 3 -1.6 3 -2.2 2.7 -2.5 2 -2.5 1.3 -3 .6 -2.5 -.2 -2.5 -.9 -2.5 -1.6 -2.1 -1.9 -1.8 -2.5 -1.2 -2.5 -.8 -3 -.3 -3 .2 -3.5 .8 -3.5 2.8 -6.5 1.9 -2.8 2.2 -2.2 2.3 -1.7z"/>
<path d="M1257.2 497.6l1.8 -.5 2 .3 1.5 1 1 1.2 1 2.5 1 5.5 -.1 1.5 -.9 1.2 -2 .5 -2.5 -.5 -2.5 -1.5 -2 -2.3 -1.1 -2.9 .1 -2.5 1 -2.2zM1271.1 560.6l2.4 -.5 2.5 .2 2.5 1.1 2.5 1.9 2 2.5 1.4 2.8 .8 3 .4 3.5 0 4 -.5 3.5 -1 3 -1.6 2.9 -2 2.4 -2.5 2 -2.5 1.2 -2.5 .5 -2 -.2 -2.5 -.8 -2.5 -1.5 -2 -1.9 -2.6 -4.1 -1.2 -5.5 .7 -6.5 2.4 -6 3.7 -5 2 -1.6z"/>
<path d="M1258.4 498.1l1.6 0 1.2 .5 1.1 1 .9 1.5 1.1 6 -.3 1.2 -1 .8 -2 .2 -2.5 -1 -1.9 -1.7 -1.1 -1.9 -.5 -2.1 .4 -2 1.1 -1.6zM1271.9 561.6l2.1 -.3 2.5 .4 2.5 1.3 2 1.9 1.6 2.2 1.2 2.5 .7 3 .4 3.5 -.7 6.5 -1.1 3 -1.4 2.5 -1.7 2 -2.5 1.9 -2.2 1.1 -2.3 .4 -2 -.2 -2.5 -.9 -4 -3.3 -2.4 -4 -1 -5 .8 -6 2.5 -6 3.6 -4.5 2 -1.3z"/>
<path d="M1258.0 499.1l2.5 .1 1.7 1.9 .9 5 -.3 1 -.8 .6 -1.5 .1 -1.5 -.5 -1.5 -1 -1.2 -1.7 -.5 -2 .2 -1.5 1 -1.5zM1273.4 562.6l2.1 .1 2 .8 2 1.4 1.9 2.2 2 4.5 .6 6 -1 6 -2.4 4.5 -2 2 -2.1 1.3 -2 .7 -2 .2 -4 -1.2 -3.6 -3 -2.1 -4 -.8 -5 1.1 -6 2.8 -5.5 3.6 -3.7 2 -1z"/>
<path d="M1258.0 500.1l2 0 1.3 1.5 .6 3 -.2 1 -.7 .6 -2 -.1 -2 -2 -.3 -2.5zM1271.9 564.1l2.1 -.3 2 .3 2 1 1.7 1.5 2.5 4 1 5.5 -.6 6 -2.1 4.5 -3.5 3.3 -2 .9 -2 .4 -3.5 -.8 -3.5 -2.7 -2.2 -3.6 -.8 -4 .5 -5 2 -5 3 -4.1z"/>
<path d="M1258.4 501.1l1.1 0 .8 1 .3 1.5 -.6 1 -1 0 -1.2 -1 -.2 -1.5zM1273.1 565.1l1.9 0 2 .8 3 2.7 1.7 3.5 .7 5 -.7 5 -2 4 -3.2 2.9 -3.5 1 -3.5 -.9 -3.1 -2.5 -1.9 -3.5 -.6 -4 .8 -5 2.2 -4.5 3.1 -3.4z"/>
<path d="M1272.0 566.6l1.5 -.3 2 .2 3 1.9 2.1 3.2 .9 4.5 -.3 4.5 -1.5 4 -2.7 2.8 -1.5 .9 -2 .6 -3 -.5 -3 -2.2 -1.8 -2.6 -.9 -3.5 .4 -4.5 1.6 -4 2.2 -3.1z"/>
<path d="M1273.0 567.6l3 .4 2.5 2 1.6 3.1 .6 4 -.5 4 -1.6 3.5 -2.6 2.3 -3 .8 -2.6 -.6 -2.5 -2 -1.5 -2.5 -.7 -3.5 .6 -4 1.7 -3.7 2.5 -2.8z"/>
<path d="M1272.1 569.1l2.4 -.3 2.5 1.3 1.9 2.5 .9 3.5 -.2 4 -1.1 3 -2.3 2.5 -2.7 1 -2.5 -.5 -2.2 -1.5 -1.6 -2.5 -.5 -2.5 .3 -3.5 1.1 -3 1.9 -2.7z"/>
<path d="M1273.0 570.1l2.5 .3 2 1.7 1.2 2.5 .3 3 -.4 3 -1.3 2.5 -1.8 1.6 -2.5 .7 -2 -.5 -2 -1.7 -1.1 -2.1 -.4 -2.5 .6 -3 1.1 -2.5 1.8 -2.1z"/>
<path d="M1272.3 571.6l1.7 -.3 2 .8 1.5 2 .6 2.5 0 2.5 -.9 2.5 -1.7 1.9 -2 .7 -2 -.3 -1.5 -1.2 -1.1 -1.6 -.4 -2 .2 -2.5 .8 -2 1.4 -2z"/>
<path d="M1273.4 572.6l1.6 .3 1.3 1.2 .9 2 .1 2 -.4 2 -.9 1.6 -1.5 1.1 -1.5 .3 -1.5 -.5 -1.1 -1 -.8 -1.5 -.2 -2 .4 -2 1.1 -2 1.1 -1z"/>
<path d="M1272.7 574.1l1.3 -.2 1 .4 1 1.2 .4 1.6 -.5 3 -.9 1.1 -1.5 .7 -2.1 -.8 -1 -2.5 .6 -2.8z"/>
<path d="M1272.6 575.6l.9 -.4 1 .3 1 1.6 -.4 2.5 -1.6 1 -1.4 -.5 -.7 -1.5 .2 -1.5z"/>
<path d="M1273.4 577.1l.6 .2 .2 .8 -.7 .8 -.7 -.8z"/>
</g>
<rect x="160.7" y="424.1" width="285.3" height="285.7" stroke="#2a2a2a" stroke-width="1.3" fill="none"/>
<path d="M190.2 709.8v8M247.3 709.8v8M304.4 709.8v8M361.5 709.8v8M418.6 709.8v8" stroke="#1a1a1a" stroke-width="1.7" fill="none"/>
<path d="M167.5 709.8v4M173.0 709.8v4M177.5 709.8v4M181.4 709.8v4M184.7 709.8v4M187.6 709.8v4M207.4 709.8v4M217.4 709.8v4M224.6 709.8v4M230.1 709.8v4M234.6 709.8v4M238.5 709.8v4M241.8 709.8v4M244.7 709.8v4M264.5 709.8v4M274.5 709.8v4M281.7 709.8v4M287.2 709.8v4M291.7 709.8v4M295.6 709.8v4M298.9 709.8v4M301.8 709.8v4M321.6 709.8v4M331.6 709.8v4M338.8 709.8v4M344.3 709.8v4M348.8 709.8v4M352.7 709.8v4M356.0 709.8v4M358.9 709.8v4M378.7 709.8v4M388.7 709.8v4M395.9 709.8v4M401.4 709.8v4M405.9 709.8v4M409.8 709.8v4M413.1 709.8v4M416.0 709.8v4M435.8 709.8v4M445.8 709.8v4" stroke="#1a1a1a" stroke-width="1" fill="none"/>
<text x="191.7" y="734.1" font-size="10.4" fill="#222">10<tspan dy="-6.8" font-size="8.8">2</tspan></text>
<text x="248.8" y="734.1" font-size="10.4" fill="#222">10<tspan dy="-6.8" font-size="8.8">3</tspan></text>
<text x="305.9" y="734.1" font-size="10.4" fill="#222">10<tspan dy="-6.8" font-size="8.8">4</tspan></text>
<text x="363.0" y="734.1" font-size="10.4" fill="#222">10<tspan dy="-6.8" font-size="8.8">5</tspan></text>
<text x="420.1" y="734.1" font-size="10.4" fill="#222">10<tspan dy="-6.8" font-size="8.8">6</tspan></text>
<path d="M160.7 678.0h-8.5M160.7 620.7h-8.5M160.7 563.4h-8.5M160.7 506.1h-8.5M160.7 448.8h-8.5" stroke="#1a1a1a" stroke-width="1.7" fill="none"/>
<path d="M160.7 708.0h-4M160.7 700.8h-4M160.7 695.2h-4M160.7 690.7h-4M160.7 686.9h-4M160.7 683.6h-4M160.7 680.6h-4M160.7 660.8h-4M160.7 650.7h-4M160.7 643.5h-4M160.7 637.9h-4M160.7 633.4h-4M160.7 629.6h-4M160.7 626.3h-4M160.7 623.3h-4M160.7 603.5h-4M160.7 593.4h-4M160.7 586.2h-4M160.7 580.6h-4M160.7 576.1h-4M160.7 572.3h-4M160.7 569.0h-4M160.7 566.0h-4M160.7 546.2h-4M160.7 536.1h-4M160.7 528.9h-4M160.7 523.3h-4M160.7 518.8h-4M160.7 515.0h-4M160.7 511.7h-4M160.7 508.7h-4M160.7 488.9h-4M160.7 478.8h-4M160.7 471.6h-4M160.7 466.0h-4M160.7 461.5h-4M160.7 457.7h-4M160.7 454.4h-4M160.7 451.4h-4M160.7 431.6h-4" stroke="#1a1a1a" stroke-width="1" fill="none"/>
<text x="147.2" y="684.8" font-size="10.4" fill="#222" text-anchor="end">10<tspan dy="-5.2" font-size="8.8">1</tspan></text>
<text x="147.2" y="627.5" font-size="10.4" fill="#222" text-anchor="end">10<tspan dy="-5.2" font-size="8.8">2</tspan></text>
<text x="147.2" y="570.2" font-size="10.4" fill="#222" text-anchor="end">10<tspan dy="-5.2" font-size="8.8">3</tspan></text>
<text x="147.2" y="512.9" font-size="10.4" fill="#222" text-anchor="end">10<tspan dy="-5.2" font-size="8.8">4</tspan></text>
<text x="147.2" y="455.6" font-size="10.4" fill="#222" text-anchor="end">10<tspan dy="-5.2" font-size="8.8">5</tspan></text>
<path d="M341.3 448.3H255.3V525.2H341.3" stroke="#111" stroke-width="1.2" fill="none"/>
<path d="M340.8 447.7V525.8" stroke="#000" stroke-width="2.2" fill="none"/>
<text x="387.3" y="452.9" font-size="27.0" textLength="52.7" lengthAdjust="spacingAndGlyphs" stroke="#000" stroke-width="0.8">7.47</text>
<text x="271.9" y="764.7" font-size="30.5" textLength="61.8" lengthAdjust="spacingAndGlyphs" stroke="#000" stroke-width="0.55">PBS</text>
<rect x="486.2" y="424.1" width="285.3" height="285.7" stroke="#2a2a2a" stroke-width="1.3" fill="none"/>
<path d="M515.7 709.8v8M572.8 709.8v8M629.9 709.8v8M687.0 709.8v8M744.1 709.8v8" stroke="#1a1a1a" stroke-width="1.7" fill="none"/>
<path d="M493.0 709.8v4M498.5 709.8v4M503.0 709.8v4M506.9 709.8v4M510.2 709.8v4M513.1 709.8v4M532.9 709.8v4M542.9 709.8v4M550.1 709.8v4M555.6 709.8v4M560.1 709.8v4M564.0 709.8v4M567.3 709.8v4M570.2 709.8v4M590.0 709.8v4M600.0 709.8v4M607.2 709.8v4M612.7 709.8v4M617.2 709.8v4M621.1 709.8v4M624.4 709.8v4M627.3 709.8v4M647.1 709.8v4M657.1 709.8v4M664.3 709.8v4M669.8 709.8v4M674.3 709.8v4M678.2 709.8v4M681.5 709.8v4M684.4 709.8v4M704.2 709.8v4M714.2 709.8v4M721.4 709.8v4M726.9 709.8v4M731.4 709.8v4M735.3 709.8v4M738.6 709.8v4M741.5 709.8v4M761.3 709.8v4M771.3 709.8v4" stroke="#1a1a1a" stroke-width="1" fill="none"/>
<text x="517.2" y="734.1" font-size="10.4" fill="#222">10<tspan dy="-6.8" font-size="8.8">2</tspan></text>
<text x="574.3" y="734.1" font-size="10.4" fill="#222">10<tspan dy="-6.8" font-size="8.8">3</tspan></text>
<text x="631.4" y="734.1" font-size="10.4" fill="#222">10<tspan dy="-6.8" font-size="8.8">4</tspan></text>
<text x="688.5" y="734.1" font-size="10.4" fill="#222">10<tspan dy="-6.8" font-size="8.8">5</tspan></text>
<text x="745.6" y="734.1" font-size="10.4" fill="#222">10<tspan dy="-6.8" font-size="8.8">6</tspan></text>
<path d="M486.2 678.0h-8.5M486.2 620.7h-8.5M486.2 563.4h-8.5M486.2 506.1h-8.5M486.2 448.8h-8.5" stroke="#1a1a1a" stroke-width="1.7" fill="none"/>
<path d="M486.2 708.0h-4M486.2 700.8h-4M486.2 695.2h-4M486.2 690.7h-4M486.2 686.9h-4M486.2 683.6h-4M486.2 680.6h-4M486.2 660.8h-4M486.2 650.7h-4M486.2 643.5h-4M486.2 637.9h-4M486.2 633.4h-4M486.2 629.6h-4M486.2 626.3h-4M486.2 623.3h-4M486.2 603.5h-4M486.2 593.4h-4M486.2 586.2h-4M486.2 580.6h-4M486.2 576.1h-4M486.2 572.3h-4M486.2 569.0h-4M486.2 566.0h-4M486.2 546.2h-4M486.2 536.1h-4M486.2 528.9h-4M486.2 523.3h-4M486.2 518.8h-4M486.2 515.0h-4M486.2 511.7h-4M486.2 508.7h-4M486.2 488.9h-4M486.2 478.8h-4M486.2 471.6h-4M486.2 466.0h-4M486.2 461.5h-4M486.2 457.7h-4M486.2 454.4h-4M486.2 451.4h-4M486.2 431.6h-4" stroke="#1a1a1a" stroke-width="1" fill="none"/>
<text x="472.7" y="684.8" font-size="10.4" fill="#222" text-anchor="end">10<tspan dy="-5.2" font-size="8.8">1</tspan></text>
<text x="472.7" y="627.5" font-size="10.4" fill="#222" text-anchor="end">10<tspan dy="-5.2" font-size="8.8">2</tspan></text>
<text x="472.7" y="570.2" font-size="10.4" fill="#222" text-anchor="end">10<tspan dy="-5.2" font-size="8.8">3</tspan></text>
<text x="472.7" y="512.9" font-size="10.4" fill="#222" text-anchor="end">10<tspan dy="-5.2" font-size="8.8">4</tspan></text>
<text x="472.7" y="455.6" font-size="10.4" fill="#222" text-anchor="end">10<tspan dy="-5.2" font-size="8.8">5</tspan></text>
<path d="M666.0 448.3H580.4V525.2H666.0" stroke="#111" stroke-width="1.2" fill="none"/>
<path d="M665.5 447.7V525.8" stroke="#000" stroke-width="2.2" fill="none"/>
<text x="705.8" y="452.9" font-size="27.0" textLength="53.5" lengthAdjust="spacingAndGlyphs" stroke="#000" stroke-width="0.8">12.2</text>
<text x="544.8" y="764.7" font-size="30.5" textLength="146.6" lengthAdjust="spacingAndGlyphs" stroke="#000" stroke-width="0.55">ZIF-8@HA</text>
<rect x="810.6" y="424.1" width="285.3" height="285.7" stroke="#2a2a2a" stroke-width="1.3" fill="none"/>
<path d="M840.1 709.8v8M897.2 709.8v8M954.3 709.8v8M1011.4 709.8v8M1068.5 709.8v8" stroke="#1a1a1a" stroke-width="1.7" fill="none"/>
<path d="M817.4 709.8v4M822.9 709.8v4M827.4 709.8v4M831.3 709.8v4M834.6 709.8v4M837.5 709.8v4M857.3 709.8v4M867.3 709.8v4M874.5 709.8v4M880.0 709.8v4M884.5 709.8v4M888.4 709.8v4M891.7 709.8v4M894.6 709.8v4M914.4 709.8v4M924.4 709.8v4M931.6 709.8v4M937.1 709.8v4M941.6 709.8v4M945.5 709.8v4M948.8 709.8v4M951.7 709.8v4M971.5 709.8v4M981.5 709.8v4M988.7 709.8v4M994.2 709.8v4M998.7 709.8v4M1002.6 709.8v4M1005.9 709.8v4M1008.8 709.8v4M1028.6 709.8v4M1038.6 709.8v4M1045.8 709.8v4M1051.3 709.8v4M1055.8 709.8v4M1059.7 709.8v4M1063.0 709.8v4M1065.9 709.8v4M1085.7 709.8v4M1095.7 709.8v4" stroke="#1a1a1a" stroke-width="1" fill="none"/>
<text x="841.6" y="734.1" font-size="10.4" fill="#222">10<tspan dy="-6.8" font-size="8.8">2</tspan></text>
<text x="898.7" y="734.1" font-size="10.4" fill="#222">10<tspan dy="-6.8" font-size="8.8">3</tspan></text>
<text x="955.8" y="734.1" font-size="10.4" fill="#222">10<tspan dy="-6.8" font-size="8.8">4</tspan></text>
<text x="1012.9" y="734.1" font-size="10.4" fill="#222">10<tspan dy="-6.8" font-size="8.8">5</tspan></text>
<text x="1070.0" y="734.1" font-size="10.4" fill="#222">10<tspan dy="-6.8" font-size="8.8">6</tspan></text>
<path d="M810.6 678.0h-8.5M810.6 620.7h-8.5M810.6 563.4h-8.5M810.6 506.1h-8.5M810.6 448.8h-8.5" stroke="#1a1a1a" stroke-width="1.7" fill="none"/>
<path d="M810.6 708.0h-4M810.6 700.8h-4M810.6 695.2h-4M810.6 690.7h-4M810.6 686.9h-4M810.6 683.6h-4M810.6 680.6h-4M810.6 660.8h-4M810.6 650.7h-4M810.6 643.5h-4M810.6 637.9h-4M810.6 633.4h-4M810.6 629.6h-4M810.6 626.3h-4M810.6 623.3h-4M810.6 603.5h-4M810.6 593.4h-4M810.6 586.2h-4M810.6 580.6h-4M810.6 576.1h-4M810.6 572.3h-4M810.6 569.0h-4M810.6 566.0h-4M810.6 546.2h-4M810.6 536.1h-4M810.6 528.9h-4M810.6 523.3h-4M810.6 518.8h-4M810.6 515.0h-4M810.6 511.7h-4M810.6 508.7h-4M810.6 488.9h-4M810.6 478.8h-4M810.6 471.6h-4M810.6 466.0h-4M810.6 461.5h-4M810.6 457.7h-4M810.6 454.4h-4M810.6 451.4h-4M810.6 431.6h-4" stroke="#1a1a1a" stroke-width="1" fill="none"/>
<text x="797.1" y="684.8" font-size="10.4" fill="#222" text-anchor="end">10<tspan dy="-5.2" font-size="8.8">1</tspan></text>
<text x="797.1" y="627.5" font-size="10.4" fill="#222" text-anchor="end">10<tspan dy="-5.2" font-size="8.8">2</tspan></text>
<text x="797.1" y="570.2" font-size="10.4" fill="#222" text-anchor="end">10<tspan dy="-5.2" font-size="8.8">3</tspan></text>
<text x="797.1" y="512.9" font-size="10.4" fill="#222" text-anchor="end">10<tspan dy="-5.2" font-size="8.8">4</tspan></text>
<text x="797.1" y="455.6" font-size="10.4" fill="#222" text-anchor="end">10<tspan dy="-5.2" font-size="8.8">5</tspan></text>
<path d="M991.2 448.3H905.3V525.2H991.2" stroke="#111" stroke-width="1.2" fill="none"/>
<path d="M990.7 447.7V525.8" stroke="#000" stroke-width="2.2" fill="none"/>
<text x="1023.8" y="452.9" font-size="27.0" textLength="53.2" lengthAdjust="spacingAndGlyphs" stroke="#000" stroke-width="0.8">14.8</text>
<text x="938.7" y="764.7" font-size="30.5" textLength="68.5" lengthAdjust="spacingAndGlyphs" stroke="#000" stroke-width="0.55">MZH</text>
<rect x="1130.6" y="424.1" width="285.3" height="285.7" stroke="#2a2a2a" stroke-width="1.3" fill="none"/>
<path d="M1160.1 709.8v8M1217.2 709.8v8M1274.3 709.8v8M1331.4 709.8v8M1388.5 709.8v8" stroke="#1a1a1a" stroke-width="1.7" fill="none"/>
<path d="M1137.4 709.8v4M1142.9 709.8v4M1147.4 709.8v4M1151.3 709.8v4M1154.6 709.8v4M1157.5 709.8v4M1177.3 709.8v4M1187.3 709.8v4M1194.5 709.8v4M1200.0 709.8v4M1204.5 709.8v4M1208.4 709.8v4M1211.7 709.8v4M1214.6 709.8v4M1234.4 709.8v4M1244.4 709.8v4M1251.6 709.8v4M1257.1 709.8v4M1261.6 709.8v4M1265.5 709.8v4M1268.8 709.8v4M1271.7 709.8v4M1291.5 709.8v4M1301.5 709.8v4M1308.7 709.8v4M1314.2 709.8v4M1318.7 709.8v4M1322.6 709.8v4M1325.9 709.8v4M1328.8 709.8v4M1348.6 709.8v4M1358.6 709.8v4M1365.8 709.8v4M1371.3 709.8v4M1375.8 709.8v4M1379.7 709.8v4M1383.0 709.8v4M1385.9 709.8v4M1405.7 709.8v4M1415.7 709.8v4" stroke="#1a1a1a" stroke-width="1" fill="none"/>
<text x="1161.6" y="734.1" font-size="10.4" fill="#222">10<tspan dy="-6.8" font-size="8.8">2</tspan></text>
<text x="1218.7" y="734.1" font-size="10.4" fill="#222">10<tspan dy="-6.8" font-size="8.8">3</tspan></text>
<text x="1275.8" y="734.1" font-size="10.4" fill="#222">10<tspan dy="-6.8" font-size="8.8">4</tspan></text>
<text x="1332.9" y="734.1" font-size="10.4" fill="#222">10<tspan dy="-6.8" font-size="8.8">5</tspan></text>
<text x="1390.0" y="734.1" font-size="10.4" fill="#222">10<tspan dy="-6.8" font-size="8.8">6</tspan></text>
<path d="M1130.6 678.0h-8.5M1130.6 620.7h-8.5M1130.6 563.4h-8.5M1130.6 506.1h-8.5M1130.6 448.8h-8.5" stroke="#1a1a1a" stroke-width="1.7" fill="none"/>
<path d="M1130.6 708.0h-4M1130.6 700.8h-4M1130.6 695.2h-4M1130.6 690.7h-4M1130.6 686.9h-4M1130.6 683.6h-4M1130.6 680.6h-4M1130.6 660.8h-4M1130.6 650.7h-4M1130.6 643.5h-4M1130.6 637.9h-4M1130.6 633.4h-4M1130.6 629.6h-4M1130.6 626.3h-4M1130.6 623.3h-4M1130.6 603.5h-4M1130.6 593.4h-4M1130.6 586.2h-4M1130.6 580.6h-4M1130.6 576.1h-4M1130.6 572.3h-4M1130.6 569.0h-4M1130.6 566.0h-4M1130.6 546.2h-4M1130.6 536.1h-4M1130.6 528.9h-4M1130.6 523.3h-4M1130.6 518.8h-4M1130.6 515.0h-4M1130.6 511.7h-4M1130.6 508.7h-4M1130.6 488.9h-4M1130.6 478.8h-4M1130.6 471.6h-4M1130.6 466.0h-4M1130.6 461.5h-4M1130.6 457.7h-4M1130.6 454.4h-4M1130.6 451.4h-4M1130.6 431.6h-4" stroke="#1a1a1a" stroke-width="1" fill="none"/>
<text x="1117.1" y="684.8" font-size="10.4" fill="#222" text-anchor="end">10<tspan dy="-5.2" font-size="8.8">1</tspan></text>
<text x="1117.1" y="627.5" font-size="10.4" fill="#222" text-anchor="end">10<tspan dy="-5.2" font-size="8.8">2</tspan></text>
<text x="1117.1" y="570.2" font-size="10.4" fill="#222" text-anchor="end">10<tspan dy="-5.2" font-size="8.8">3</tspan></text>
<text x="1117.1" y="512.9" font-size="10.4" fill="#222" text-anchor="end">10<tspan dy="-5.2" font-size="8.8">4</tspan></text>
<text x="1117.1" y="455.6" font-size="10.4" fill="#222" text-anchor="end">10<tspan dy="-5.2" font-size="8.8">5</tspan></text>
<path d="M1310.8 448.3H1224.9V525.2H1310.8" stroke="#111" stroke-width="1.2" fill="none"/>
<path d="M1310.3 447.7V525.8" stroke="#000" stroke-width="2.2" fill="none"/>
<text x="1342.3" y="452.9" font-size="27.0" textLength="53.5" lengthAdjust="spacingAndGlyphs" stroke="#000" stroke-width="0.8">19.2</text>
<text x="1244.2" y="764.7" font-size="30.5" textLength="88.2" lengthAdjust="spacingAndGlyphs" stroke="#000" stroke-width="0.55">PMZH</text>
<path d="M91.1 691.5V761.4H163.2V753.8H98.7V691.5z" fill="#000"/>
<path d="M94.9 669.8l11.5 22.7h-23.0z" fill="#000"/>
<path d="M184.9 757.6l-22.7 -11.5v23.0z" fill="#000"/>
<text transform="translate(82.8 776.5) rotate(-90)" font-size="36" textLength="77.5" lengthAdjust="spacingAndGlyphs" stroke="#000" stroke-width="0.55">CD 8</text>
<text x="103.3" y="807.2" font-size="36" textLength="78.0" lengthAdjust="spacingAndGlyphs" stroke="#000" stroke-width="0.55">CD 3</text>
<text x="-0.5" y="455.2" font-size="65" font-weight="bold" textLength="39.2" lengthAdjust="spacingAndGlyphs">b</text>
<g clip-path="url(#cc0)" stroke="#FF8A1F" stroke-width="0.9" stroke-opacity="0.8" fill="#FF8A1F" fill-opacity="0.035">
<path d="M265.7 927.2l5.7 -.2 9 1.1 12.5 2.4 16.5 3.8 4 1.4 2.7 1.5 2.3 2 2.4 3 1.1 .8 21 4.3 5 2 4.5 2.8 5 4.4 4.5 5.6 3.4 6.1 2.2 6.5 .8 6.5 -.5 6 -1.7 5.5 -3 5 -3.7 4.3 -4.5 3.7 -5 3.2 -5.5 2.5 -4.5 1.4 -5 1 -20 1.9 -16.5 4.1 -4 1.6 -14.5 7.2 -7 2.5 -6.5 .8 -6.5 -.7 -6.5 -2.2 -6 -3.4 -4.5 -3.9 -3.8 -5 -2.7 -5.4 -1.7 -6.1 -.8 -7.5 -.1 -8.5 .8 -12 1.3 -9.7 1.8 -7.8 2.5 -7 3.1 -6.5 3.6 -5.5 4.5 -5.3 4.5 -3.9 5 -2.9z"/>
<path d="M264.9 930.7l5.5 -.3 8.5 1 12.5 2.3 16 3.8 4 1.4 3 1.9 2.2 2.4 2.3 4.2 1 .8 21.5 4.1 4.5 1.6 4 2.2 4.5 3.8 3.7 4.3 3 5 2.1 5.5 1 5.5 -.1 5 -1.2 5 -2.4 4.5 -3.1 3.8 -3.5 3.2 -4.5 3 -5 2.4 -7 2 -17 1.6 -12 2.9 -5.5 .8 -20.5 11 -9 3.6 -6 1 -6 -.4 -6.5 -1.8 -5.7 -3.1 -4.3 -3.5 -3.9 -4.5 -2.7 -5 -1.8 -5.5 -1 -6.5 -.3 -8 .6 -11 1.2 -10 1.6 -7.5 2.2 -7 2.7 -6 3.4 -5.6 4 -5.1 4.5 -4.2 4.5 -2.8z"/>
<path d="M264.3 934.2l5.6 -.4 8 .9 13 2.5 15 3.5 4.5 2 2.8 2.5 1.7 2.8 1.6 5.2 .9 1.6 6 -.3 4 .5 14 2.7 6 2.5 4 3 3.2 3.5 2.8 4.5 1.8 4.5 1 4.5 0 4.5 -1 4 -1.7 3.5 -2.7 3.5 -3.9 3.5 -4.5 2.7 -4.5 1.8 -5.5 1.2 -13 1.2 -11 2.6 -6.5 -.4 -6.7 5.4 -5.8 3.8 -13 6.8 -7 2.8 -5.5 1 -6 -.2 -5.5 -1.5 -5.5 -2.6 -4.5 -3.4 -3.7 -4.2 -2.7 -4.5 -1.9 -5.5 -1.1 -6 -.3 -7.5 .5 -10 1 -9.5 1.5 -7.5 1.9 -6.5 2.6 -6 3.2 -5.4 4 -5.2 4 -3.8 4.5 -3z"/>
<path d="M266.9 937.2l6.5 .3 12 2.1 16 3.5 6 2.3 3 2.5 2.1 3.8 .8 4.5 0 8 .6 1 7 -3.5 5.5 -1.1 3.5 .3 10.5 2 5.5 2.1 3 2.2 2.5 2.6 2.3 3.4 1.5 3.5 .9 3.5 .1 3.5 -.6 3.5 -1.4 3 -2.8 3.5 -3.8 3 -4.2 2.2 -5 1.4 -10.5 1 -8 1.8 -3 .3 -2 -.3 -1.8 -.9 -4.2 -3.6 -1 -.3 -1 1.3 -3.7 7.1 -2.6 3 -2.8 2.5 -4.4 3 -5.5 3.1 -9 4.6 -5.5 2.3 -5.5 1.1 -5.5 -.2 -5.5 -1.4 -5 -2.3 -4.5 -3.4 -3.5 -3.8 -2.6 -4.5 -1.9 -5.5 -.9 -6 -.3 -7.5 .6 -10.5 1.2 -9 1.6 -7 2 -6 2.8 -5.7 3.5 -5.3 4 -4.5 4.3 -3.5 4.2 -2z"/>
<path d="M267.6 939.2l5.8 .4 10.5 1.8 15.5 3.4 5.5 1.9 3.1 2 2.1 3 1.2 3.5 .3 4.5 -.9 6.5 -3.8 13 -.8 13 -.8 5.5 -1.3 4.5 -2.2 4 -2.5 3 -3.5 3 -10.4 6.2 -11.5 5.4 -4.5 1.2 -4 .2 -6 -.8 -5.5 -2.1 -5 -3.3 -4 -4.1 -2.8 -4.7 -1.7 -5 -1.1 -6.5 -.2 -7.5 .8 -11.5 1.4 -9 2.2 -8 3.1 -7 4.7 -7 5.1 -5.1 5.5 -3.2zM325.3 964.7l5.1 -.4 11.5 2.2 4.4 2.2 3.6 3.5 1.7 2.5 1.4 3 .7 3 .1 3 -.4 2.5 -1.1 2.5 -1.7 2.5 -2.2 2.1 -3.8 2.4 -4.2 1.6 -10.5 1.2 -8 1.7 -2 -.1 -2 -.6 -3.5 -3 -2.2 -3.8 -1.2 -4.5 0 -5 1.2 -5.5 2.2 -4.5 3 -3.8 3.5 -2.7z"/>
<path d="M264.3 941.2l5.1 -.3 8 .9 16.7 3.4 8.3 2.3 3.3 1.7 2.4 2.5 1.5 3.5 .6 4 -.7 7 -4.1 14 -.7 13 -.6 4.5 -1.4 4.5 -1.9 3.5 -2 2.5 -2.9 2.7 -8.4 5.3 -13.1 6.5 -4 1.2 -4 .5 -5.5 -.5 -5 -1.6 -5 -2.8 -4.2 -3.8 -3 -4 -2 -4.5 -1.3 -5.5 -.6 -6.5 .4 -10.5 1.1 -10 1.8 -8 2.5 -7 3.8 -6.7 4.8 -5.8 5.1 -4zM329.1 967.2l3.3 0 8 1.5 3 1 2.6 1.5 2.9 3 2 3.5 1 4 -.2 3.5 -.9 2.5 -1.9 2.7 -2.5 2.1 -3 1.7 -4.5 1.4 -7 .7 -6.5 1.3 -2.5 0 -2 -.7 -1.5 -1.2 -2.8 -4 -1.2 -5 .4 -5.5 1.7 -5 3.2 -4.5 3.9 -3z"/>
<path d="M264.8 942.7l5.1 -.2 7.5 1 17 3.5 7 2 3.2 1.7 2.3 2.5 1.4 3.5 .5 4 -.7 6.5 -4 13.5 -.7 12.5 -.6 4.5 -1.1 4 -1.8 3.5 -2.5 3 -2.8 2.5 -8.2 5.1 -12.5 6.1 -4 1.2 -4 .4 -5.5 -.6 -5 -1.7 -4.5 -2.7 -4.1 -3.8 -2.8 -4 -1.9 -4.5 -1.1 -5.5 -.5 -6.5 .4 -10.1 1.1 -9.4 1.9 -7.9 2.5 -6.5 3.8 -6.6 4.7 -5.5 5 -3.7zM330.4 970.2l3.5 -.1 8 1.6 3 1.6 2.5 2.4 2.1 4 .5 4 -1.1 3.6 -3 3.3 -2.5 1.6 -3 1.1 -13 1.8 -3 -.6 -2.4 -2.3 -1.6 -3 -.5 -3 .1 -3.5 .9 -3.6 1.7 -3.4 2.2 -2.5 2.6 -1.8z"/>
<path d="M265.3 944.2l5.1 0 8 1.1 16.3 3.4 5.7 1.7 3.1 1.8 2.2 2.5 1.2 3 .5 4 -.7 6.5 -3.8 13 -.7 12 -.6 4.5 -1.2 4 -1.9 3.5 -2 2.5 -2.9 2.5 -8.2 5.1 -12 5.9 -4 1.1 -3.5 .3 -5 -.5 -5 -1.6 -4.5 -2.6 -4 -3.7 -2.8 -4 -1.9 -4.5 -1.1 -5.5 -.4 -6.5 .5 -10 1.1 -9 1.8 -7.5 2.6 -6.5 3.7 -6.1 4.5 -5.2 5 -3.6zM332.0 973.2l2.9 -.3 6 1 2.5 1.1 2.1 1.7 1.9 3 .7 3.5 -.7 3 -2 2.5 -2 1.4 -2.5 1 -10 1.5 -2.5 -.3 -2.1 -1.6 -1.2 -2 -.7 -2.5 -.1 -2.5 .6 -3 1.1 -2.5 1.4 -2 2 -1.7z"/>
<path d="M266.2 945.7l4.7 .1 8.5 1.3 15 3.3 5 1.5 3 1.8 2 2.4 1.2 3.1 .5 4 -.8 6 -3.7 12.5 -.6 11.5 -.6 4.5 -1.2 4 -1.6 3 -2.2 2.6 -3 2.7 -8.5 5.1 -11 5.3 -4 1.1 -3.5 .2 -5 -.6 -5 -1.8 -4.5 -2.8 -3.5 -3.5 -2.5 -3.8 -1.7 -4.5 -1 -5.5 -.3 -6.5 .5 -9.5 1.2 -8.5 1.8 -7.1 2.6 -6.4 3.9 -6.2 4.5 -4.8 5 -3.2zM333.8 976.2l2.1 -.4 3.5 .4 2.5 .7 2.1 1.3 1.5 2 .7 2.5 -.4 2.5 -1.4 1.9 -2.5 1.6 -3 .7 -6 .7 -1.4 -.4 -1.1 -.7 -1 -1.5 -.5 -1.8 .3 -4 1.8 -3.5z"/>
<path d="M263.8 947.7l4.6 -.4 6.5 .7 14.5 2.9 8.5 2.3 3 1.7 2 2.2 1.3 3.1 .5 3.5 -.7 6 -3.6 12.5 -1.1 15 -1.2 4 -1.5 3 -2 2.5 -2.7 2.4 -7.3 4.6 -11.2 5.6 -4 1.2 -3.5 .4 -5 -.5 -4.5 -1.5 -4 -2.3 -3.7 -3.4 -2.6 -3.5 -1.8 -4 -1.2 -5 -.4 -5.5 .2 -9 1 -9 1.6 -7 2.1 -6 3.3 -5.9 4 -5 4.5 -3.7zM337.4 978.7l3.5 .4 1.5 .8 1 1 .7 1.3 .1 1.5 -.6 1.5 -1.2 1.1 -2 .8 -4 .4 -1.5 -.3 -1 -1 -.6 -2 .5 -2.5 1.4 -2z"/>
<path d="M264.2 949.2l4.2 -.3 7 .8 15.5 3.2 6 1.8 2.8 1.5 1.8 2 1.3 3 .5 3.5 -.7 6 -3.5 12 -1 14.5 -1.2 4 -1.7 3 -4.3 4.5 -7.2 4.5 -10.8 5.3 -3.5 1.1 -3.5 .4 -4.5 -.4 -4.5 -1.4 -4 -2.3 -3.6 -3.2 -2.6 -3.5 -1.8 -4 -1.1 -4.5 -.4 -5.5 .2 -9 1 -8.5 1.6 -7 2.2 -5.9 3.1 -5.6 3.9 -4.7 4.5 -3.5zM338.7 982.2l1.2 -.4 1.3 .4 .6 1 -.4 1 -1.5 .6 -1.5 -.4 -.3 -1.2z"/>
<path d="M264.7 950.7l4.2 -.2 7 1 14.5 3 5.5 1.6 2.7 1.6 1.8 2.3 1.1 2.7 .4 3.5 -.7 5.5 -3.3 11 -1.1 14.5 -1 3.5 -1.5 3 -4.4 4.6 -7.5 4.6 -10 4.9 -3.5 1 -3.5 .3 -4.5 -.5 -4 -1.4 -4 -2.3 -3.5 -3.2 -2.4 -3.5 -1.7 -4 -.9 -4.5 -.4 -5.5 .4 -8.5 1 -8 1.5 -6.5 2.1 -5.5 3.1 -5.5 3.8 -4.5 4.5 -3.4z"/>
<path d="M265.3 952.2l4.1 0 7 1 13.5 2.9 5 1.5 2.5 1.6 1.7 2 1 2.5 .4 3.5 -.6 5 -3.2 11 -1.1 14 -1 3.5 -1.7 3 -4.5 4.5 -7 4.2 -9.5 4.6 -3.5 1 -3 .3 -4.5 -.6 -4 -1.3 -4 -2.5 -3.3 -3.2 -2.2 -3.2 -1.4 -3.8 -.9 -4.5 -.3 -5.5 .4 -8.5 .9 -7.5 1.7 -6.5 2.1 -5.3 3.2 -5.2 3.8 -4.2 4 -2.9z"/>
<path d="M266.4 953.7l4.5 .3 7 1.2 11.8 2.5 4.2 1.4 2.5 1.6 1.5 2 1 3 .2 3 -.6 4.5 -3 10.5 -1.1 13.5 -1 3.3 -1.5 2.7 -2 2.4 -2.5 2.1 -7.5 4.5 -8.5 4.1 -3.5 .9 -3 .2 -4.5 -.7 -4 -1.5 -3.5 -2.3 -3.1 -3.2 -2.1 -3.5 -1.4 -4 -.7 -4.5 -.1 -5.5 .5 -8 1 -7 1.7 -6 2.2 -5.1 3.5 -5.3 4 -3.9 4 -2.3z"/>
<path d="M263.7 955.7l3.7 -.4 5.5 .6 11 2.2 8 2.1 2.5 1.3 1.7 1.7 1.1 2.5 .5 3 -.5 5 -3 10.5 -.9 12.5 -1 3.5 -1.3 2.5 -3.8 4 -5.8 3.7 -9.5 4.7 -3 1 -3 .4 -4 -.3 -4 -1.2 -3.5 -2 -3 -2.6 -2.1 -2.7 -1.6 -3.5 -1.1 -4 -.4 -4.5 .2 -7.5 .8 -7.5 1.2 -5.9 1.8 -5.1 2.7 -5 3.5 -4.4 3.5 -2.9z"/>
<path d="M264.1 957.2l3.8 -.2 5.5 .6 12.5 2.6 5 1.4 2.5 1.5 1.5 1.6 1.1 2.5 .3 3 -.5 4.5 -2.8 10 -.9 12 -1.1 3.5 -1.4 2.5 -3.7 3.8 -6 3.7 -8.5 4.2 -3 .9 -3 .3 -4 -.4 -3.5 -1.1 -3.5 -2.1 -3 -2.7 -2 -2.9 -1.3 -3.2 -.9 -4 -.3 -4.5 .2 -7 .8 -7 1.2 -5.5 1.9 -5 2.5 -4.5 3.4 -4.2 3.5 -2.8z"/>
<path d="M264.6 958.7l3.8 -.1 5.5 .8 11.5 2.4 4.5 1.3 2 1.1 1.8 2 1 2.5 .2 2.5 -.5 4.5 -2.7 9.5 -.9 11.5 -.8 3 -1.4 2.5 -3.3 3.5 -5.9 3.8 -8.5 4.1 -5.5 1.2 -3.5 -.3 -3.8 -1.3 -3.2 -1.8 -2.9 -2.7 -2.1 -3 -1.2 -3 -.8 -3.5 -.3 -4.5 .3 -7.5 .8 -6.5 1.2 -5.2 1.9 -4.8 2.6 -4.5 3 -3.5 3.5 -2.6z"/>
<path d="M265.3 960.2l3.6 .1 5.5 .8 10.5 2.3 4 1.2 2 1.2 1.5 1.8 .9 2.1 .3 3 -.6 4 -2.5 9 -.9 11 -.9 3 -1.3 2.4 -3.7 3.6 -6.3 3.8 -7.5 3.5 -5 .9 -3.5 -.4 -3.5 -1.3 -3 -1.8 -2.7 -2.7 -1.8 -2.7 -1.2 -3.3 -.7 -3.5 -.2 -4.5 .3 -7 .9 -6 1.2 -5 1.9 -4.5 2.8 -4.5 3 -3.2 3.5 -2.3z"/>
<path d="M263.3 962.2l3.1 -.4 4.5 .4 16.2 3.5 2.3 1.3 1.5 1.6 .9 2.1 .4 2.5 -.5 4 -2.5 9 -.8 10.5 -.7 2.5 -1.3 2.4 -3 3.2 -5 3.2 -8 3.9 -5 1.1 -3.5 -.3 -3 -.9 -3 -1.7 -2.5 -2.2 -2 -2.6 -1.2 -2.6 -.7 -3 -.5 -4 .1 -6 .7 -6.5 1 -5 1.6 -4.5 2.2 -4 2.8 -3.6 3 -2.5z"/>
<path d="M263.6 963.7l2.8 -.3 4.5 .4 15 3.3 2.1 1.1 1.5 1.5 .9 2 .4 2.5 -.5 4 -2.3 8.5 -.8 10 -1.9 4.5 -2.8 3 -4.6 3 -7.5 3.8 -5 1.1 -3 -.2 -3 -.8 -3 -1.6 -2.5 -2.2 -1.9 -2.6 -1.2 -2.5 -1.1 -6.5 .1 -6 .7 -6 .9 -4.5 1.5 -4.3 2.3 -4.2 2.7 -3.4 3 -2.4z"/>
<path d="M264.0 965.2l2.9 -.2 4 .5 14 3.1 2 1.1 1.4 1.5 .8 2 .3 2 -.5 4 -2.2 8 -.6 9 -1.7 4.5 -2.8 3 -4.7 3.1 -7 3.4 -5 1.1 -3 -.3 -3 -1.1 -2.5 -1.4 -2.4 -2.3 -1.6 -2.2 -1.1 -2.8 -.9 -6.5 .8 -11 1.1 -4.5 1.5 -4 2.1 -3.7 2.5 -3 3 -2.3z"/>
<path d="M264.6 966.7l2.8 0 4 .5 12.5 2.9 2 1.1 1 1.3 .8 1.7 .3 2.5 -.5 3.5 -1.9 7 -.8 9 -.7 2.5 -1.1 2 -3 3 -4.6 2.9 -6 2.9 -4.5 .9 -3 -.3 -2.5 -.9 -2.6 -1.5 -2.4 -2.2 -1.5 -2.3 -1 -2.5 -.8 -6.5 .9 -10.5 1 -4 1.4 -3.7 2 -3.4 2.5 -2.9 3 -2.1z"/>
<path d="M265.6 968.2l7.8 1 9.9 2.5 1.5 1 1.1 1.5 .6 2 .1 2 -2.3 9.5 -.7 8.5 -1.7 4.2 -3 3 -5.5 3.2 -5 2.3 -4 .6 -3 -.4 -2.5 -1 -2.5 -1.7 -2 -2.1 -1.4 -2.6 -.7 -2.5 -.5 -6.5 1.1 -9.6 1.1 -3.9 1.7 -3.5 2.2 -3.2 2.5 -2.4 2.5 -1.3z"/>
<path d="M263.3 970.2l2.6 -.4 3 .3 12.2 2.6 1.8 .9 1.2 1.1 .7 1.5 .4 2 -.2 3 -1.9 7 -.7 8 -1.4 3.5 -2.2 2.5 -3.9 2.6 -6 3 -4 .8 -2.5 -.2 -2.5 -.8 -4 -2.8 -1.5 -1.9 -1 -2.2 -.8 -5 .5 -9.5 1.9 -7 1.9 -3.5 1.9 -2.5 2.1 -1.8z"/>
<path d="M263.6 971.7l2.3 -.2 3 .2 11.3 2.5 1.7 1 1 1 .7 1.5 .2 2 -.4 3 -1.6 6 -.6 7.5 -1.5 3.5 -2.3 2.4 -3.5 2.2 -5.5 2.7 -3.5 .8 -4.5 -.9 -2 -1 -2 -1.7 -1.5 -2 -.8 -2 -.9 -5 .7 -9 1.9 -6.5 1.6 -2.9 2 -2.5 2 -1.6z"/>
<path d="M264.0 973.2l2.4 -.1 3 .4 9.8 2.2 1.7 1 .8 1 .7 3 -.2 2.5 -1.6 6 -.5 6.5 -1.4 3.5 -2.4 2.5 -3.9 2.4 -4.5 2.2 -3.5 .6 -2.5 -.3 -2 -.8 -3.3 -2.6 -1.9 -3.5 -.8 -5 .7 -8 1.8 -6.2 1.5 -2.6 2 -2.3 2 -1.6z"/>
<path d="M264.7 974.7l5.2 .5 8.4 2 2.1 2 .6 3 -1.7 7.5 -.6 6.5 -1.3 3 -2.5 2.4 -3.7 2.1 -3.8 1.8 -3 .5 -4 -.9 -2 -1.2 -1.5 -1.5 -1.8 -3.7 -.5 -4.5 .7 -7.5 1.8 -5.5 1.6 -2.5 1.7 -1.9 2 -1.4z"/>
<path d="M263.0 976.7l1.9 -.4 2.5 .1 9 2 1.5 .7 1 1.1 .7 2.5 -1.5 7.5 -.5 5.5 -1.2 3 -2 2 -2.5 1.7 -4 2 -3 .7 -3.5 -.5 -3.1 -1.9 -2.1 -3 -.8 -4 .3 -6.5 1.3 -5.5 2.7 -4.5 1.7 -1.6z"/>
<path d="M263.3 978.2l1.6 -.3 2.5 .2 8 1.8 2 1.3 .8 2.5 -1.3 7 -.5 5 -1 2.5 -1.9 2 -2.6 1.7 -3.9 1.8 -2.6 .6 -3 -.6 -3 -2 -1.7 -3 -.6 -3.5 .3 -6 1.4 -5 2.6 -4z"/>
<path d="M263.7 979.7l3.7 0 6.7 1.5 2.1 1.5 .6 2 -1.6 11 -1.1 2.5 -1.7 1.7 -3 1.8 -3 1.3 -2 .4 -3 -.6 -2.5 -1.7 -1.5 -2.4 -.6 -3.5 .3 -5.5 1.3 -4.6 2.5 -3.7z"/>
<path d="M264.2 981.2l3.7 .3 5.5 1.3 1.6 1.4 .4 2 -1.5 9.5 -.8 2 -1.5 1.5 -2.7 1.7 -3 1.3 -2 .3 -2.7 -.8 -2.3 -1.9 -1.1 -2.6 -.3 -3 .5 -5 1.4 -4 2 -2.6z"/>
<path d="M262.9 983.2l3 -.4 5.5 1.1 2 1.3 .6 1.5 -1.2 8.5 -.7 2 -1.4 1.5 -1.8 1.2 -2.5 1.2 -2 .5 -2.5 -.4 -2 -1.4 -1 -1.6 -.6 -2.5 .1 -4.5 .9 -3.5 1.6 -2.8z"/>
<path d="M263.2 984.7l2.7 -.2 4.5 .9 1.5 .9 .7 1.9 -1 7 -.7 1.7 -2.6 2.3 -3.9 1.5 -2 -.3 -1.9 -1.2 -1.1 -1.6 -.5 -2.4 .2 -3.5 .8 -3.1 1.5 -2.5z"/>
<path d="M263.6 986.2l2.3 -.1 3.5 .8 1.2 .8 .6 1.5 -.8 5.5 -.7 2 -2.3 2 -3 1.1 -1.5 -.1 -1.7 -1 -1.1 -1.5 -.4 -2 .2 -3.5 .7 -2.5 1.3 -1.9z"/>
<path d="M264.0 987.7l1.9 0 2.5 .7 1 .9 .4 1.4 -.6 4 -.8 1.9 -2.1 1.6 -2.4 .7 -1.5 -.3 -1 -.9 -.8 -1.5 -.2 -2 .3 -2.5 .7 -1.8 1 -1.3z"/>
<path d="M263.2 989.7l1.2 -.4 2 .2 1.3 .7 .6 1 -.1 2.5 -.6 2 -1.4 1.5 -1.8 .7 -2 -.4 -.7 -.8 -.5 -1.5 .4 -3.5z"/>
<path d="M263.6 991.2l.8 -.2 1.4 .2 .7 .5 .4 1 -.5 2.7 -.6 .8 -1.4 .7 -1.5 -.2 -.9 -1.5 .3 -2.5z"/>
<path d="M263.6 993.2l.8 -.2 .8 .7 0 1 -.8 .8 -1 -.1 -.3 -.7z"/>
</g>
<g clip-path="url(#cc1)" stroke="#2DB877" stroke-width="0.9" stroke-opacity="0.8" fill="#2DB877" fill-opacity="0.035">
<path d="M603.5 932.6l5.2 -.2 5 .4 4.5 1 4.5 1.7 3.5 2 3 2.3 3 3.1 3.5 4.6 1 .6 2 0 21 -3.5 6.5 -.3 4 .4 4.5 1 4.5 1.8 4 2.1 4.7 3.5 3.8 4 3 4.5 1.9 5 .6 5 -.5 5 -1.6 5 -2.8 5.5 -2.7 4 -3.4 4 -4 3.8 -4 3.2 -9 5.1 -11.5 4.4 -16 5.1 -7.5 1.7 -6.5 .3 -7.5 -1.6 -1.5 .2 -8.7 6.3 -4.8 2.9 -5.5 2.4 -6 1.5 -6.5 .6 -6 -.4 -5.5 -1.4 -5 -2.4 -4.6 -3.7 -3.8 -5 -2.5 -5.5 -1.5 -6.5 -.6 -8.5 .4 -9.5 1.6 -9.5 2.5 -9 3.1 -7.5 3.9 -7.2 4.5 -6.1 5 -5.1 5.5 -4.3 6 -3.2 6.5 -2.3z"/>
<path d="M605.4 935.6l4.3 0 4.5 .6 4 1.1 4.1 1.8 3.2 2 2.7 2.3 2.9 3.2 3.1 4.5 1.5 .8 22.5 -3.8 6.5 -.6 4 .4 4 .9 4 1.4 3.5 1.9 4.5 3.2 3.6 3.8 2.7 4 1.7 4.5 .6 4.5 -.5 4.5 -1.4 4.5 -2.6 5 -5.3 7 -6.8 6 -7.5 4.5 -9.5 3.8 -16.5 5.3 -7 1.6 -6.5 .1 -7.5 -2 -1 .1 -2 1.2 -7.1 6.4 -4.9 3.4 -6 3 -6.5 2 -6 .8 -6 -.3 -5.5 -1.2 -5 -2.3 -4.5 -3.5 -3.8 -4.9 -2.5 -5.5 -1.5 -6.5 -.5 -8.5 .6 -9.5 1.7 -9 2.5 -8.5 3 -7 4 -6.8 4.5 -5.8 5 -4.8 5.5 -3.9 6 -2.9 6.5 -2z"/>
<path d="M601.4 939.1l4.8 -.4 5 .4 4.5 .9 4.5 1.8 3.5 2.1 3 2.6 3 3.6 3 4.7 1.5 1.1 10 -2.3 18 -2.8 7 .6 7 2.6 4.1 2.6 3.4 3.1 2.6 3.4 2 4 .9 3.5 0 4 -.9 4 -1.8 4.5 -4.3 6.3 -5.6 5.7 -6.4 4.4 -8 3.6 -17 5.5 -7 1.6 -3.5 .2 -3.5 -.4 -3.2 -.9 -3.8 -1.7 -1 0 -2 1.4 -7.5 7.8 -5 4 -6.5 3.7 -6.5 2.3 -5.5 .9 -5.5 -.1 -5.5 -1 -4.8 -1.8 -4.4 -3 -3.8 -4.3 -2.5 -4.7 -1.7 -6 -.8 -7.5 .2 -8.5 1.2 -8.5 2.1 -8 2.6 -7 3.4 -6.6 4 -5.8 4.5 -4.9 5 -4.1 5.5 -3.2 5.5 -2.1z"/>
<path d="M602.5 942.1l4.7 -.1 5 .6 4 1.1 4 2 3 2.1 3 3 2.5 3.4 3 5.4 1 .8 1 -.1 5 -2 4.3 -1.2 17.2 -2.9 6.5 .2 6.5 2.1 3.5 2.1 3 2.5 2.6 3 1.9 3.5 .9 3 .2 3.5 -.6 3.5 -1.5 4 -3.5 5.6 -5 5.2 -5.5 3.9 -6.5 3.1 -16.5 5.4 -7 1.3 -3.5 -.1 -3 -.6 -3.2 -1.3 -3.3 -2.1 -1 -.2 -2 1.5 -6.3 7.8 -5.1 5 -5.3 4 -5.6 3 -6.7 2.1 -6.5 .6 -6.5 -.7 -5.5 -2 -4.5 -3 -3.5 -4 -2.4 -4.5 -1.6 -5.5 -.7 -7 .2 -8.5 1.2 -8 2.1 -8 2.7 -7 3.3 -6 3.7 -5.2 4.5 -4.7 5 -3.9 5 -2.7 6 -2z"/>
<path d="M601.3 944.1l4.9 -.2 5 .5 4.5 1.3 4 2 3.1 2.4 2.9 3.1 2.6 3.9 2.9 5.8 1 .7 6 -2.9 4 -1.4 16 -2.9 6.5 -.2 3.5 .7 3 1.1 3.5 1.9 3 2.5 2.4 2.7 1.7 3 .9 3 .2 3 -.4 3 -1.2 3.5 -3.1 5.1 -4.4 4.9 -5.1 3.7 -6 3 -15.5 5.1 -7 1.2 -3.5 -.2 -3.5 -1 -3 -1.7 -3 -2.5 -1 -.2 -1.5 1.2 -6.2 8.4 -4.9 5.5 -5.4 4.7 -5.5 3.4 -6.5 2.5 -6.5 1 -6.5 -.3 -6.1 -1.8 -4.4 -2.7 -3.5 -3.6 -2.5 -4.2 -1.8 -5.5 -.8 -6.5 .1 -8 1 -8 1.8 -7.5 2.4 -6.5 3 -6 3.8 -5.5 4 -4.5 4.5 -3.7 5 -3 5.5 -2.1z"/>
<path d="M601.1 945.6l5.1 -.2 5 .6 4.5 1.4 4 2.2 3 2.6 2.9 3.4 2.4 4 2.7 6.3 1 .7 7.5 -4.5 3.5 -1.3 4.5 -1.1 14.5 -2.1 4.5 .4 4 1.4 3.1 1.7 2.9 2.3 2.3 2.7 1.4 2.5 .9 2.5 .3 3 -.4 3 -1.1 3 -1.9 3.5 -2.5 3.3 -3 3 -3.5 2.6 -7 3.5 -14 4.6 -6 1.1 -5 -.6 -4.5 -2.2 -4.5 -4.3 -1 .1 -8 11.4 -5.7 6.5 -6.3 5.3 -7 3.8 -5.5 1.6 -6 .6 -5.5 -.5 -5 -1.5 -4 -2.4 -3.5 -3.4 -2.8 -4.5 -1.6 -5 -.9 -6.5 .1 -8 .9 -7.5 1.9 -7.5 2.4 -6.5 3 -5.9 3.5 -5.1 4 -4.4 4.5 -3.7 5 -2.9 5.5 -2z"/>
<path d="M600.9 947.1l5.3 -.2 5 .7 4.5 1.6 4 2.4 3.2 3 2.8 3.8 2.3 4.7 2.2 6.4 1 .9 7 -5.8 3 -1.6 3.5 -1.2 16 -2.7 4 .3 4 1.2 3 1.5 2.6 2 2.3 2.5 1.5 2.5 .8 2.5 .3 2.5 -.3 2.5 -.9 3 -1.8 3.3 -2.4 3.2 -3 3 -3.5 2.5 -6.6 3.1 -14 4.5 -5.5 .4 -5 -1.3 -3.8 -2.7 -3.2 -4.7 -1 -.7 -1.5 1.6 -5.5 9.3 -5.1 7 -5.4 5.6 -6 4.6 -6.5 3.1 -6.5 1.5 -7 0 -6.5 -1.8 -4 -2.3 -3.5 -3.5 -2.5 -4.2 -1.7 -5 -.8 -6.5 .1 -7.5 1 -7.5 1.7 -7 2.3 -6 2.9 -5.8 3.5 -5.2 4 -4.3 4.5 -3.6 4.5 -2.6 5 -1.9z"/>
<path d="M600.7 948.6l5.5 -.1 5.5 .9 5 2.1 4 3.1 3.4 4 2.6 5 1.5 4.5 2 9.1 5.1 -7.6 2.6 -2.5 3.3 -2.2 3.2 -1.3 3.8 -1 10 -1.7 4 -.2 3.5 .6 3.5 1.4 3 2 2.5 2.5 1.7 2.9 .8 3 -.1 3 -.8 3 -1.6 3.1 -2.5 3.3 -3 2.9 -3 2.1 -7.5 3.3 -9 2.9 -4.5 .9 -3 0 -2.5 -.5 -2.5 -1.1 -2 -1.5 -3 -3.9 -2.5 -7.6 -.5 .1 -5.2 11.5 -4.7 8 -6 7.5 -6.1 5.5 -6.5 4 -7 2.2 -7.5 .4 -3.5 -.5 -3.5 -1.1 -4 -2.2 -3.5 -3.3 -2.6 -4 -1.7 -5 -.8 -6 0 -7.5 .9 -7 1.7 -7 2.1 -6 2.9 -5.8 3.2 -4.7 3.8 -4.3 4.5 -3.7 4.5 -2.6 5 -1.8z"/>
<path d="M600.5 950.1l6.7 0 6 1.5 5 2.9 4 4.1 3.2 5.5 2.1 6.5 .5 7 -1.1 7 -2.9 8 -4.7 8.5 -5.7 7.5 -5.9 5.7 -6 3.9 -6.5 2.5 -6.5 .8 -6.5 -.8 -4.5 -1.8 -3.9 -2.8 -2.8 -3.5 -2.1 -4.5 -1.2 -5.5 -.4 -6.5 .6 -7.5 1.3 -7 2.1 -6.5 2.8 -6 3.1 -5 3.8 -4.5 4.2 -3.6 5 -3 5 -1.9zM657.0 962.6l4.7 -.4 4 .8 4 2 2.9 2.6 1.9 3 .9 3.5 -.4 3.5 -1.6 3.5 -2.2 3.1 -3 3 -3.5 2.4 -4 1.8 -9.5 3.2 -4.5 1 -4 -.1 -3.5 -1.3 -2.2 -1.6 -1.6 -2 -1.3 -2.5 -.9 -3 -.3 -3 .2 -3 2 -5.5 3.5 -4.5 4.6 -3.3 5 -1.7z"/>
<path d="M600.3 951.6l6.4 0 5.5 1.3 5 2.8 4 4 3.2 5.4 2 6.5 .4 6.5 -1.1 7 -2.7 7.5 -4.4 8 -5.4 7.3 -5.8 5.7 -6.1 4 -6.1 2.3 -6.5 .7 -6 -.7 -4.5 -1.7 -3.6 -2.6 -2.9 -3.5 -2.1 -4.5 -1.1 -5 -.3 -6.5 .5 -7 1.3 -7 1.9 -6 2.4 -5.5 3.1 -5 3.8 -4.6 4.5 -3.9 4.5 -2.6 5 -1.9zM657.1 964.1l4.1 -.3 3.5 .6 3.5 1.7 2.8 2.5 1.7 2.5 .8 3 -.3 3 -1.4 3.5 -2.1 3 -2.6 2.5 -2.9 2 -4 1.9 -12 3.6 -3.5 0 -3.5 -1.2 -1.8 -1.3 -1.7 -2 -1.9 -4.5 -.3 -3 .2 -2.5 1.7 -5 3 -4 4.2 -3 4.1 -1.5z"/>
<path d="M600.1 953.1l6.1 0 5.5 1.4 4.7 2.6 3.9 4 3.2 5.5 1.8 6 .3 6.5 -1 6.5 -2.7 7.5 -4.2 7.5 -5.3 7 -5.7 5.5 -5.5 3.6 -6 2.3 -6.5 .8 -6 -.8 -4 -1.5 -3.5 -2.6 -3 -3.7 -1.8 -4.1 -1.1 -5 -.3 -6.5 .6 -7 1.3 -6.5 1.9 -6 2.6 -5.5 3.3 -5 3.5 -4 4 -3.3 4 -2.4 5 -1.9zM657.2 965.6l3.5 -.3 3 .5 3 1.4 2.5 2.1 1.6 2.3 .8 3 -.2 2.5 -1.2 3 -1.8 2.5 -2.5 2.5 -2.7 1.8 -3 1.4 -11 3.3 -3 0 -3 -1 -3 -2.7 -1.8 -4.3 -.1 -5 1.6 -4.5 2.8 -3.5 3.5 -2.4 4 -1.4z"/>
<path d="M599.9 954.6l5.8 0 5.5 1.4 4.5 2.5 3.9 4.1 2.8 5 1.8 6 .3 6 -1.1 6.5 -2.5 7 -4.2 7.5 -5 6.6 -5.5 5.4 -5.5 3.5 -5.5 2.1 -6 .8 -6 -.7 -4 -1.6 -3.5 -2.5 -2.8 -3.6 -1.8 -4 -1 -5 -.3 -6 .5 -6.5 1.3 -6.5 1.8 -5.5 2.6 -5.5 2.8 -4.5 3.5 -4 3.9 -3.4 4 -2.3 4.5 -1.8zM657.2 967.1l3 -.2 2.5 .4 2.9 1.3 2.1 1.8 1.5 2.2 .5 2 -.2 2.5 -1 2.5 -1.7 2.5 -2.1 2 -2.5 1.6 -3 1.3 -9 2.6 -3 -.1 -2.4 -.9 -2.5 -2.5 -1.4 -3.5 -.1 -4 1.4 -4 2.4 -3 3.1 -2.2 3.5 -1.2z"/>
<path d="M599.7 956.1l6 .1 5 1.3 4.4 2.6 3.3 3.5 2.9 5 1.7 6 .3 6 -1 6 -2.6 7 -4 7 -4.9 6.5 -5.1 4.9 -5 3.3 -5.5 2.1 -6 .8 -5.5 -.7 -4 -1.5 -3.3 -2.4 -2.5 -3 -1.9 -4 -1 -4.5 -.3 -6 .4 -6.5 1.3 -6.5 1.8 -5.5 2.3 -5 2.9 -4.5 3.3 -3.9 4 -3.3 4 -2.3 4.5 -1.7zM657.3 968.6l2.4 -.2 2.5 .4 2.5 1.3 1.6 1.5 1.2 2 .4 2 -.4 2 -.9 2 -3.4 3.6 -4.5 2.4 -7.5 2.1 -2.5 -.2 -2 -.8 -2.1 -2.1 -1.2 -3.5 .2 -3.5 1.2 -3 1.9 -2.3 2.5 -1.8 3 -1z"/>
<path d="M599.5 957.6l5.7 .1 5 1.3 4 2.4 3.5 3.7 2.7 5 1.5 5.5 .3 5.5 -1.1 6 -2.4 6.5 -3.9 7 -4.6 6 -5.2 5 -4.8 3.1 -5.5 2 -5.5 .7 -5.5 -.8 -3.8 -1.5 -3.2 -2.5 -2.4 -3 -1.6 -3.7 -1 -4.8 -.2 -5.5 .5 -6 1.2 -6.2 1.8 -5.3 2.2 -4.8 2.7 -4.2 3.3 -3.8 3.5 -2.9 4 -2.4 4.5 -1.6zM657.5 970.1l2.2 -.1 2 .5 3 2.1 .9 1.5 .3 1.5 -.1 1.5 -.9 2 -2.7 3 -4 2 -6 1.6 -2 -.2 -1.5 -.6 -1.8 -1.8 -.9 -2.5 .1 -3 1 -2.5 1.6 -2 2.3 -1.5z"/>
<path d="M599.3 959.1l5.4 .1 4.5 1.1 4 2.3 3.4 3.5 2.6 4.6 1.6 5.4 .2 5.5 -.9 5.5 -2.3 6.5 -3.7 6.5 -4.5 6 -4.9 4.7 -5 3.2 -5 1.9 -5.5 .6 -5 -.6 -3.5 -1.4 -3.3 -2.4 -2.3 -3 -1.6 -3.5 -.9 -4.5 -.3 -5.5 .5 -6 1.1 -5.5 1.8 -5.4 2.2 -4.6 2.8 -4.3 3 -3.4 3.5 -2.9 3.5 -2 4 -1.5zM657.7 971.6l3 .3 2.4 1.7 .9 2.5 -.7 2.5 -2.4 2.5 -3.2 1.5 -4 1.1 -1.5 -.1 -1.5 -.5 -1.4 -1.5 -.7 -2 .1 -2 .7 -2 1.2 -1.5 1.6 -1.2z"/>
<path d="M599.2 960.6l5 .1 4.5 1.2 3.8 2.2 3.2 3.4 2.6 4.6 1.4 5 .2 5 -.9 5.5 -2.2 6 -3.6 6.5 -4.5 5.9 -4.5 4.2 -4.5 3 -5 1.9 -5 .6 -5 -.6 -3.5 -1.3 -3 -2.2 -2.4 -3 -1.5 -3.5 -1 -4.5 -.1 -5 .4 -5.5 1.1 -5.5 1.6 -5 2.2 -4.5 2.5 -4 3.1 -3.5 3.6 -2.9 3.5 -2 4 -1.4zM655.1 973.6l3.1 -.5 2 .5 1.6 1.5 .2 2 -1.2 2 -1.6 1.2 -3 1.1 -2.5 .2 -1.2 -.5 -.8 -.9 -.5 -2.6 1.3 -2.5z"/>
<path d="M599.0 962.1l4.7 .1 4.5 1.2 3.5 2.1 3 3.1 2.5 4.5 1.3 4.5 .2 5 -.8 5.5 -2.3 6 -3.4 6 -4.2 5.5 -4.3 4.1 -4.5 2.9 -4.5 1.7 -5 .6 -5 -.7 -3.5 -1.5 -2.5 -1.9 -2.2 -2.7 -1.5 -3.5 -.9 -4.5 -.1 -5 .5 -5.5 1.1 -5 1.6 -4.8 2.1 -4.2 2.4 -3.7 3 -3.3 3 -2.5 3.5 -2 4 -1.4zM656.0 975.1l1.7 -.3 1.5 .4 .8 1.4 -.6 1.5 -1.2 .9 -1.5 .5 -2.1 -.4 -.6 -1 0 -1 .7 -1.2z"/>
<path d="M598.8 963.6l4.9 .2 4 1.1 3.5 2.2 2.7 3 2.2 4 1.3 4.5 .2 5 -.9 5 -2 5.5 -3.5 6 -3.8 5 -4.2 4 -4 2.6 -4.5 1.7 -5 .7 -4.5 -.6 -3.3 -1.4 -2.7 -2 -2 -2.6 -1.5 -3.4 -.7 -4 -.2 -5 .5 -5 1.1 -5 1.5 -4.5 1.8 -3.8 2.4 -3.7 2.7 -3 2.9 -2.5 3.5 -2 3.5 -1.3z"/>
<path d="M598.7 965.1l4.5 .2 4 1.2 3.3 2.1 2.6 3 2.1 4 1.1 4.5 .1 4.5 -.8 4.5 -1.9 5 -3.1 5.5 -3.8 5 -4.1 3.9 -4 2.6 -4.5 1.6 -4.5 .5 -4 -.5 -3 -1.2 -2.7 -1.9 -2 -2.5 -1.3 -3 -.9 -4 -.1 -4.5 .4 -5 1 -5 1.4 -4 1.9 -4 2.3 -3.5 2.5 -2.9 3 -2.4 3 -1.8 3.5 -1.2z"/>
<path d="M598.5 966.6l4.2 .2 3.5 1 3 1.8 2.8 3 2.1 4 1 4 .2 4.5 -.9 4.5 -1.9 5 -3.2 5.5 -3.5 4.5 -3.8 3.5 -3.8 2.4 -4 1.4 -4.5 .5 -4 -.6 -2.9 -1.2 -2.1 -1.6 -1.9 -2.4 -1.4 -3 -.7 -3.5 -.2 -4.5 .4 -5 1 -4.5 1.4 -4 1.9 -4 2 -3 2.5 -2.8 3 -2.4 3 -1.6 3.5 -1.2z"/>
<path d="M598.4 968.1l3.8 .2 3.5 1 3 1.9 2.5 2.8 1.8 3.6 1 4 .1 4 -.8 4.5 -1.8 4.5 -2.8 5 -3.5 4.5 -3.5 3.3 -3.5 2.2 -4 1.5 -4 .5 -4 -.6 -2.5 -.9 -2.5 -1.9 -1.7 -2.1 -1.4 -3 -.6 -3.5 -.2 -4.5 .5 -4.5 .9 -4.2 3 -7.2 2 -3 2.5 -2.8 2.5 -2 3 -1.7 3.5 -1.2z"/>
<path d="M598.3 969.6l3.4 .2 3.5 1 2.7 1.8 2.3 2.6 1.7 3.4 1 4 0 4 -.8 4 -1.8 4.5 -2.9 5 -3.3 4 -3.3 3 -3.6 2.1 -3.5 1.2 -4 .3 -3.5 -.6 -2.5 -1.1 -2 -1.5 -1.8 -2.4 -1 -2.5 -.7 -3.5 0 -4 .4 -4.5 1 -4 3 -7 4.1 -5.1 2.5 -2 3 -1.5 3 -1z"/>
<path d="M598.3 971.1l3.4 .3 3 1 2.5 1.7 2.1 2.5 1.7 3.5 .8 3.5 0 3.5 -.8 4 -1.6 4 -2.7 4.5 -3.2 4 -3.3 3 -3 1.8 -3.5 1.2 -3.5 .3 -3.5 -.5 -2.5 -1.1 -2 -1.6 -1.5 -2.1 -1.1 -2.5 -.5 -3 -.1 -4 1.3 -8 2.9 -6.5 4 -5 2.5 -1.9 2.5 -1.3 3 -.9z"/>
<path d="M594.5 973.1l3.2 -.5 3.5 .3 3 1 2.5 1.9 2 2.6 1.4 3.2 .6 3.5 -.2 3.5 -1 4 -1.9 4 -2.9 4.4 -3 3.3 -3 2.4 -3 1.5 -3.5 .8 -3.5 0 -2.5 -.7 -2 -1.1 -1.8 -1.6 -1.2 -2 -1.3 -5 .3 -7 1.8 -6.5 3.2 -5.7 4 -3.9 2.5 -1.4z"/>
<path d="M594.3 974.6l3.4 -.5 3 .3 2.5 .8 2.5 1.8 2 2.5 1.3 3.1 .6 3 -.2 3.5 -1.1 4 -1.9 4 -2.7 4 -2.9 3 -2.6 2 -3 1.4 -3 .7 -3.5 -.1 -4 -1.6 -1.5 -1.4 -1.3 -2 -1.2 -5 .3 -6.5 1.8 -6 2.9 -5.2 4 -3.7z"/>
<path d="M594.2 976.1l3 -.5 3 .3 2.5 .9 2 1.4 1.9 2.4 1.2 2.5 .6 3 -.1 3.5 -1 3.5 -1.6 3.5 -2.3 3.5 -2.7 3.1 -2.5 2 -3 1.5 -3 .7 -3 -.1 -2 -.5 -2 -1.1 -1.5 -1.4 -1.1 -1.7 -1.1 -4.5 .3 -6 1.7 -6 2.7 -4.6 3.5 -3.4z"/>
<path d="M594.0 977.6l2.7 -.5 3 .3 2.5 .9 1.7 1.3 1.6 2 1.2 2.6 .6 2.9 -.2 3 -.8 3 -1.6 3.5 -2.3 3.5 -2.7 2.9 -2.5 1.9 -2.5 1.1 -3 .6 -2.5 -.1 -3.5 -1.5 -2.3 -2.9 -1.1 -4.5 .4 -5.5 1.5 -5.2 2.5 -4.3 3.5 -3.3z"/>
<path d="M593.8 979.1l2.9 -.4 2.5 .2 2 .7 2 1.5 1.5 2 1 2.4 .4 2.6 -.1 2.5 -.8 3 -1.4 3 -2.1 3.1 -2.5 2.8 -2.1 1.6 -2.4 1.1 -2.5 .5 -2.5 0 -3.5 -1.5 -2 -2.4 -1 -3.7 .2 -5 1.3 -5 2.2 -4 3.3 -3.3z"/>
<path d="M593.7 980.6l4.5 -.3 2 .6 2 1.4 1.4 1.8 .9 2 .5 2.5 -.2 2.5 -.6 2.5 -1.4 3 -3.8 5 -2.3 1.8 -2 1 -2 .5 -2.5 0 -3 -1.1 -2.1 -2.2 -1 -3.5 .1 -4.5 1.1 -4.5 2.1 -4 2.8 -2.8z"/>
<path d="M593.5 982.1l4.2 -.3 2 .7 1.5 1 1.3 1.6 .9 2 .4 2 -.1 2.5 -1.8 5 -3.7 4.7 -2 1.5 -2 .9 -4 .3 -3 -1.3 -1.6 -2.1 -.7 -3 .1 -4 1.1 -4 1.9 -3.5 2.7 -2.7z"/>
<path d="M593.4 983.6l3.8 -.3 3 1.4 1.2 1.4 .9 2 .2 4 -1.6 4.5 -3.1 4 -3.6 2.3 -3.5 .3 -2.5 -.9 -1.6 -1.7 -.9 -3 .1 -3.5 .9 -3.5 1.5 -3.1 2.5 -2.6z"/>
<path d="M593.3 985.1l3.4 -.3 2.5 1.2 1.8 2.6 .5 3.5 -1.3 4 -2.5 3.5 -3 2.2 -3.5 .6 -2.4 -.8 -1.4 -1.5 -.8 -2.5 0 -3 .7 -3 1.4 -3 2 -2.2z"/>
<path d="M593.2 986.6l3 -.2 2.4 1.2 1.5 2.5 .2 3 -1.3 3.5 -2.4 3 -2.4 1.6 -3 .4 -2 -.8 -1.1 -1.2 -.7 -2 0 -3 .6 -2.5 1.3 -2.5 1.9 -2z"/>
<path d="M593.1 988.1l2.1 -.3 2.1 .8 1.5 2 .4 2.5 -.9 3 -1.8 2.5 -2.3 1.7 -2.5 .5 -1.5 -.5 -1.3 -1.2 -.6 -1.5 -.1 -2.5 .6 -2.5 1.1 -2 1.3 -1.5z"/>
<path d="M593.0 989.6l2.2 -.2 1.5 .8 1.2 1.9 0 2 -.9 2.5 -1.6 2 -1.7 1 -2 .3 -1 -.4 -1 -.9 -.6 -1.5 0 -2 1.3 -3.5 1.3 -1.3z"/>
<path d="M593.0 991.1l1.7 -.1 1.1 .6 .9 1.5 0 1.5 -1.5 3 -1.5 1.1 -1.5 .3 -1.7 -.9 -.6 -2.5 1.1 -3z"/>
<path d="M593.3 992.6l1.7 .5 .5 2 -1.3 2.3 -2 .6 -1.1 -.9 -.1 -2 .7 -1.5z"/>
<path d="M593.0 994.6l.7 .1 .2 .9 -.2 .5 -1 .5 -.5 -1z"/>
</g>
<g clip-path="url(#cc2)" stroke="#6A6AFA" stroke-width="0.9" stroke-opacity="0.8" fill="#6A6AFA" fill-opacity="0.035">
<path d="M985.6 939.8l5.8 -.4 5.4 .4 5.1 1.4 4 2 3 2.4 2.5 3.3 1.8 3.9 1.1 5 .3 5.5 -.6 6 -1.5 6 -2.2 5.5 -3 5.5 -3.9 5.3 -4.5 5 -5.3 4.7 -5.2 3.9 -6 3.7 -6.5 3.3 -7 2.9 -9.5 3.3 -7 1.7 -5.5 .4 -7.5 -.7 -2 .9 -7 4.7 -5 2.8 -5 2.1 -5 1.3 -4.5 .5 -4.5 -.1 -4.5 -.5 -4 -1.1 -4 -1.5 -3.5 -2 -3 -2.3 -2.7 -2.8 -2 -3 -1.5 -3 -1.8 -7 -.4 -9 1.2 -9 2.7 -8.2 4 -7.8 5.5 -7.3 6.5 -6.2 5 -3.6 5.5 -3.1 5.5 -2.4 6 -1.9 8.5 -1.4 8.5 -.2 7.5 1 9.5 2.7 18.5 -9 6.5 -2.3z"/>
<path d="M984.7 943.3l5.2 -.3 4.6 .3 4.4 1.2 4 1.9 2.9 2.4 2.2 3 1.6 4 .9 4.5 .1 5 -.6 5.5 -1.4 5 -2.1 5 -2.9 5 -3.7 5 -4.3 4.5 -4.7 4.1 -5.5 3.9 -6.5 3.7 -7.5 3.4 -8.5 3.1 -5.5 1.5 -5 .8 -4.5 .1 -4.5 -.8 -1.5 .3 -9.5 7.1 -5 3.2 -5.6 2.6 -5.9 1.7 -4 .6 -4.5 0 -4.5 -.5 -4 -1 -4 -1.6 -3.5 -2 -3 -2.4 -2.5 -2.7 -3.1 -5.6 -1.7 -7.5 -.2 -8.5 1.4 -8.5 2.6 -7.5 4.1 -7.5 5.4 -6.9 6.1 -5.6 5.9 -4 6.5 -3.3 7 -2.3 7 -1.4 7 -.5 6.5 .5 6.5 1.3 7 2.6 1.5 0 17.5 -8.8 6 -2.2z"/>
<path d="M983.9 946.8l4.5 -.3 4.5 .5 4 1.1 3.3 1.7 2.3 2 2 3 1.4 3.5 .7 4 .1 4.5 -.7 5 -1.3 4.5 -2 4.5 -2.7 4.5 -3.1 4 -4 4.2 -4.6 3.8 -5.1 3.5 -5.8 3.2 -7 3 -7.5 2.6 -5 1.3 -4 .5 -4 -.2 -4 -.9 -1.5 .3 -9.5 8.3 -5.5 4 -6.5 3.5 -6.5 2.1 -4 .6 -4.5 .1 -4 -.5 -4 -1 -3.5 -1.4 -3.6 -2 -2.9 -2.2 -2.5 -2.8 -2.9 -5.5 -1.6 -7 -.1 -8 1.4 -8 2.6 -7.5 4.1 -7.2 5.1 -6.3 6.1 -5.5 5.8 -3.7 6.5 -3.1 6.5 -2 7 -1.2 6.5 -.2 6.5 .6 6.5 1.7 6.5 2.9 1.5 -.1 9.5 -5.3 7.5 -3.6 6 -2.2z"/>
<path d="M983.0 950.3l3.9 -.2 4 .4 3.5 1.1 3 1.7 2.2 2 1.5 2.5 1.2 3.5 .4 3.5 0 4 -.8 4.5 -1.4 4 -1.9 4 -2.6 4 -3 3.5 -3.6 3.5 -4 3.2 -4.5 2.9 -5.5 2.8 -7 2.8 -6 1.9 -4 .8 -3.5 .1 -3.5 -.4 -3.5 -1.2 -1 .2 -2 1.5 -8 8.4 -6.1 5 -6.9 4.2 -7 2.5 -4 .6 -4 .1 -4 -.4 -4 -1 -3.8 -1.5 -3.4 -2 -2.8 -2.2 -2.3 -2.8 -2.7 -5.5 -1.2 -6.5 .1 -8 1.5 -7.5 2.7 -7 3.9 -6.6 5 -5.9 6 -5 6 -3.7 6 -2.6 6.5 -1.8 7 -.9 6.5 .1 6 1 5 1.6 6.5 3.3 1.5 .3 9.5 -5.6 7.4 -3.7 6.1 -2.3z"/>
<path d="M983.5 952.3l3.4 0 3.5 .5 3 1.1 2.5 1.6 2 2.2 1.4 2.6 .8 3 .3 3.5 -.3 4 -.8 3.5 -3 7 -2.4 3.5 -3 3.5 -7 5.9 -4.5 2.7 -5 2.5 -6.5 2.5 -5.5 1.6 -3.5 .5 -3.5 0 -3 -.6 -3.5 -1.5 -1 .2 -1.5 1.3 -7.7 8.9 -6.8 6.2 -7.5 4.8 -7 2.7 -4 .7 -4 .2 -4 -.4 -4 -1 -3.5 -1.3 -3.1 -1.9 -2.9 -2.3 -2.3 -2.7 -2.6 -5.5 -1.2 -6.5 .1 -7.5 1.6 -7.5 2.6 -6.5 3.9 -6.5 4.9 -5.7 6 -4.9 6 -3.5 6 -2.5 6.5 -1.6 7 -.7 6.5 .3 6 1.3 5.5 2.2 5 3 1.5 .3 8.5 -5.4 8 -4.1 6.5 -2.6z"/>
<path d="M980.6 954.3l3.8 -.4 3.5 .3 3 .8 2.7 1.3 1.8 1.6 1.6 2.4 1.1 3 .4 3 -.1 3.5 -.6 3.5 -1.1 3.5 -1.7 3.5 -4.8 6.5 -6.8 5.9 -4.5 2.7 -5 2.4 -6.5 2.5 -5 1.3 -3.5 .4 -3 -.3 -3 -.9 -3 -1.7 -1 0 -1.5 1.3 -7.7 9.9 -6.7 6.5 -7.6 5.3 -7.5 3.1 -4 .8 -4 .2 -4 -.4 -4 -.9 -3.5 -1.4 -3 -1.7 -3 -2.5 -2 -2.5 -2.5 -5 -1.2 -6.5 .1 -7.5 1.5 -7 2.6 -6.6 3.9 -6.4 4.8 -5.5 5.8 -4.7 6 -3.5 6 -2.3 6.5 -1.6 7 -.5 6.5 .5 6 1.4 5 2.2 5 3.5 1 .3 1.5 -.7 7 -4.9 5.8 -3.2 6.7 -3z"/>
<path d="M981.1 955.8l3.3 -.2 3 .4 2.9 .8 2.1 1.3 1.8 1.7 1.2 2 .8 2.5 .4 3 -.7 6.5 -2.7 6.5 -4.6 6 -6.2 5.2 -4.5 2.7 -5 2.2 -6 2.2 -4.5 1 -3 .2 -3 -.4 -3 -1.3 -3 -2.3 -1 .3 -8 11.2 -7.1 7.5 -4.2 3.5 -4.2 2.8 -4 2 -4 1.4 -3.5 .7 -4 .3 -4 -.3 -4 -.9 -3.5 -1.4 -3 -1.7 -2.7 -2.4 -2.1 -2.5 -2.4 -5 -1.2 -6.5 .2 -7 1.5 -7 2.7 -6.5 3.7 -6 4.8 -5.3 5.5 -4.5 6 -3.4 6.5 -2.4 6.5 -1.4 7 -.3 6.5 .7 5.6 1.6 4.9 2.5 4.5 3.8 1 .2 7.5 -5.5 6 -3.5 7.5 -3.5z"/>
<path d="M982.4 957.3l5.5 .7 2 .9 2 1.4 1.4 2 .9 2 .6 5.5 -1.1 5.5 -2.8 5.7 -4.5 5.3 -5.5 4.3 -4.5 2.5 -5.5 2.3 -5 1.6 -4 .6 -3 -.2 -3 -1 -2.2 -1.6 -2.3 -2.8 -1 0 -8 12.8 -6.9 8 -4.5 4 -4.2 3 -4.4 2.4 -4.5 1.6 -4 .8 -4 .2 -4 -.5 -3.5 -.8 -3.5 -1.5 -3 -1.9 -2.5 -2.3 -1.9 -2.5 -2.2 -5 -.9 -6.5 .4 -7 1.6 -6.7 2.8 -6.3 3.7 -5.5 5 -5.3 5.5 -4.2 6 -3.1 6.5 -2.2 7 -1.1 6.5 0 6.5 1.1 6 2.3 3.9 2.5 3.1 3.8 1 .6 1 -.5 6.5 -5.8 6.5 -4 8 -3.7z"/>
<path d="M979.2 959.3l5.2 -.1 2.5 .5 2.3 1.1 1.6 1.5 .9 1.5 .9 2.5 .3 2.5 -.7 5.5 -2.4 5.5 -4 5 -5.4 4.3 -5 2.7 -6.5 2.5 -4.5 1.1 -3.5 0 -3 -.9 -2.5 -1.9 -1.4 -2.3 -1.6 -4.4 -.5 -.4 -1 1.4 -6.4 13.4 -2.9 4.5 -3.7 4.5 -4.5 4.6 -5 4.1 -5 3 -5 2 -3.5 .8 -4 .3 -4 -.3 -3.5 -.8 -3.5 -1.4 -3 -1.7 -2.5 -2.2 -2 -2.5 -2.2 -4.9 -.9 -6 .3 -7 1.5 -6.5 2.6 -6 3.7 -5.6 4.5 -4.9 5.5 -4.2 6.5 -3.4 7 -2.2 7.5 -.9 7 .4 7 1.8 5.5 3 2.9 3 2.1 5.2 .5 .2 5 -6.3 5 -4.2 8.5 -4.8z"/>
<path d="M979.7 960.8l3.7 0 3 .9 2.4 1.6 1.3 2 .8 3 0 4 -1.1 4 -1.9 3.6 -2.8 3.4 -3.2 2.9 -3.5 2.3 -4.5 2.2 -5 1.8 -4 .8 -3.5 -.3 -2.5 -1.1 -1.5 -1.3 -1.1 -1.8 -1.2 -4.5 .5 -5 2.2 -5 3.6 -4.1 5.2 -3.9 7.3 -3.8zM927.7 964.8l6.7 .4 6.5 1.6 5.5 2.8 3.3 3.2 1.3 4 -.3 5 -2 7.5 -2.9 7 -4.1 7 -5.1 6.5 -6.2 5.9 -6.1 4.1 -5.9 2.6 -6 1 -6.5 -.5 -5.5 -1.9 -3.5 -2.2 -3 -3 -2 -3.5 -1.2 -4 -.6 -5.5 .4 -5.5 1.3 -5.5 1.9 -5 2.6 -4.5 3.1 -4 4 -4 4 -3 4.5 -2.5 5 -2 5.5 -1.4z"/>
<path d="M977.5 962.8l3.4 -.4 3 .4 2.5 1.2 1.6 1.8 1 2.5 .1 3.5 -.7 3.5 -1.7 3.5 -2.3 3.1 -3 2.8 -3.2 2.1 -3.8 1.9 -4.5 1.7 -3.5 .7 -3 -.1 -2.5 -1 -2.3 -2.7 -1.1 -4 .4 -4.5 1.7 -4 2.8 -3.5 4 -3.2 6 -3.3zM924.5 966.3l6.9 -.1 6.5 1.1 6 2.5 4 3 1.5 3 .3 4.5 -1.1 6 -2.2 6.5 -3.6 7.5 -4.5 6.5 -6.1 6.5 -6.3 4.9 -6 3 -5.5 1.3 -6 0 -6 -1.5 -4 -2.1 -2.9 -2.6 -2.1 -3 -1.5 -3.5 -.8 -4.5 0 -5.5 .9 -5.5 1.6 -5 2.3 -4.5 2.7 -4 3.3 -3.7 4 -3.4 4.5 -2.9 4.5 -2.1 4.5 -1.4z"/>
<path d="M977.8 964.3l2.6 -.2 2.5 .4 2 1 1.5 1.8 .8 2.5 0 3 -.8 3 -1.2 2.5 -1.9 2.5 -2.4 2.3 -6 3.6 -7 2.2 -2.5 0 -2.5 -.9 -2 -2.2 -1 -3.5 .3 -4 1.5 -3.5 2.4 -3 3.8 -3 5.5 -3zM922.6 967.8l6.8 -.4 6.5 .8 6 2.2 4.4 2.9 1.8 3 .5 3.5 -.6 5 -1.9 6.5 -3.4 7.5 -4.1 6.5 -5.7 6.5 -6.1 5 -5.9 3.3 -5.5 1.6 -6 .2 -6 -1.3 -3.5 -1.7 -3 -2.3 -2.2 -2.8 -1.7 -3.5 -.9 -4 -.2 -5 .6 -5 1.3 -5 2 -4.5 2.5 -4 3.1 -3.8 3.5 -3.2 4 -2.9 4.5 -2.4 4.5 -1.6z"/>
<path d="M978.6 965.8l2.3 .2 2 .7 1.3 1.1 .8 1.5 .4 2 -.2 2.5 -1.9 4.5 -3.9 4.1 -5.5 3 -5.5 1.4 -2 -.1 -1.8 -.9 -1.7 -2 -.7 -3 .4 -3.5 1.5 -3 2.8 -3 3.5 -2.4 4.5 -2.2zM924.4 968.8l6.5 0 6 1.1 5.5 2.4 3.5 3 1.4 3 0 4 -1.2 6 -2.1 6 -3.6 7 -4.3 6 -5.3 5.5 -5.9 4.5 -5.5 2.7 -5.5 1.2 -5.5 -.1 -5.5 -1.5 -3.1 -1.8 -2.9 -2.5 -2.1 -3 -1.3 -3.5 -.7 -4.5 .1 -5 1 -5 1.5 -4.5 2.1 -4 2.7 -4 3.2 -3.4 3.5 -2.9 4 -2.5 4.5 -2.1 4.5 -1.3z"/>
<path d="M976.2 967.8l3.7 -.1 1.5 .5 1.3 1.1 .6 1.5 .2 2 -1.1 4 -2.9 3.5 -4.1 2.6 -5 1.7 -2 0 -1.5 -.5 -1.5 -1.4 -.8 -2.4 .1 -2.5 .9 -2.5 1.5 -2 2.3 -2 3.5 -2.1zM922.4 970.3l6 -.3 6 .7 5.5 1.9 4.1 2.7 1.7 2.5 .6 3.5 -.7 5 -1.7 6 -3.2 7 -3.8 6 -5.4 6 -5.6 4.6 -5.3 2.9 -5.2 1.6 -5.5 .1 -5.5 -1.2 -3.1 -1.5 -2.9 -2.1 -2.3 -2.9 -1.4 -3 -.8 -4 -.2 -4.5 .6 -5 1.3 -4.5 1.8 -4 2.5 -4 3 -3.5 3 -2.7 3.9 -2.8 3.9 -2 4.2 -1.5z"/>
<path d="M976.6 969.3l2.8 .2 1.3 .8 .6 1 .3 2.5 -1.2 3.2 -2.5 2.6 -3.5 2 -3.5 .9 -2.4 -.7 -1.1 -1.2 -.4 -1.8 .2 -2 .8 -2 3.4 -3.2 3 -1.6zM924.4 971.3l6 .1 5.5 1.2 5 2.3 3 2.8 1.1 2.6 0 4 -1.2 5.5 -2.2 6 -3.2 6 -4 5.5 -5 5.1 -5.5 4.1 -5 2.3 -5 1.1 -5 -.2 -5 -1.4 -3 -1.7 -2.6 -2.3 -1.9 -2.7 -1.2 -3.3 -.6 -4 .1 -4.5 .8 -4.5 1.5 -4.5 1.9 -3.7 2.5 -3.6 3 -3.3 3.5 -2.8 4 -2.5 4 -1.7 4 -1.2z"/>
<path d="M975.0 971.3l2.4 -.3 1.7 .8 .6 2 -.5 2 -1.5 2 -2.3 1.6 -2.5 .8 -2 -.2 -.9 -.7 -.5 -1 -.1 -1.5 .5 -1.5 2 -2.3zM922.2 972.8l5.7 -.3 5.5 .8 5 1.9 3.5 2.4 1.5 2.3 .5 3.4 -.6 4.5 -1.6 5.5 -3 6.5 -3.6 5.5 -4.7 5.3 -5.1 4.2 -4.9 2.7 -5 1.5 -5 .2 -5 -1.1 -3 -1.5 -2.5 -1.8 -2 -2.5 -1.4 -3 -.8 -3.5 -.2 -4.5 .5 -4.5 1.2 -4 1.7 -3.9 2.3 -3.6 2.7 -3.2 3 -2.7 3.5 -2.4 3.5 -1.8 4 -1.4z"/>
<path d="M974.2 973.3l1.7 -.4 1 .2 .6 .7 0 1.5 -.6 1 -1.5 1.2 -2.5 .3 -.9 -1 0 -1 .9 -1.5zM924.7 973.8l5.2 .2 5 1.2 4.3 2.1 2.6 2.5 .9 3 -.1 3.5 -1.3 5.5 -2.2 5.5 -3.1 5.5 -3.8 5 -4.8 4.6 -4.9 3.4 -4.6 2 -4.5 .7 -4.5 -.3 -4.5 -1.4 -3 -1.8 -2.1 -2.2 -1.5 -2.5 -1 -3 -.5 -4 .3 -4.5 .9 -4 1.5 -4 2 -3.5 2.4 -3.2 2.8 -2.8 3.2 -2.4 3.5 -2 4 -1.6 4 -1z"/>
<path d="M922.0 975.3l4.9 -.2 5.2 .7 4.3 1.6 3.5 2.5 1.4 2.4 .3 3 -.7 4.5 -1.6 5 -2.9 6 -3.4 5 -4.6 4.9 -4.5 3.5 -4.5 2.4 -4.5 1.1 -4.5 0 -4.5 -1.1 -2.5 -1.3 -2.5 -2 -1.8 -2.5 -1.1 -2.5 -.7 -3.5 0 -4 .6 -4 1 -3.5 1.7 -3.5 1.9 -3 2.4 -2.8 3 -2.8 6.5 -3.8 3.5 -1.2z"/>
<path d="M920.3 976.8l5.1 -.4 4.9 .4 4.6 1.5 3.3 2 1.6 2 .6 2.5 -.2 3.5 -1.3 5 -2.5 6 -3.1 5 -3.9 4.5 -4.5 4 -4.2 2.5 -4.3 1.5 -4.5 .3 -4.5 -.8 -3 -1.3 -2.3 -1.7 -1.7 -2 -1.3 -2.5 -.8 -3 -.2 -3.5 .4 -4 .9 -3.5 1.4 -3.5 1.8 -3 4.8 -5.3 6 -3.9z"/>
<path d="M921.8 977.8l4.6 -.1 4.5 .7 4 1.6 3 2.3 1.1 2 .2 3 -.7 4 -1.4 4.5 -2.7 5.5 -3.2 4.5 -3.8 4.1 -4.4 3.4 -4.1 2.1 -4 1 -4 0 -4 -1 -2.5 -1.3 -2.1 -1.8 -1.5 -2 -1.1 -2.5 -.6 -3.5 0 -3.5 .5 -3.5 1.1 -3.5 3.4 -6 4.8 -4.7 6 -3.5z"/>
<path d="M920.1 979.3l4.3 -.4 4.5 .5 4 1.2 3 1.8 1.6 1.9 .6 2.5 -.3 3.5 -1.1 4 -2.4 5.5 -2.8 4.5 -3.4 4 -4.2 3.7 -4 2.3 -4 1.2 -4 .2 -4 -.8 -2.5 -1.2 -2 -1.5 -1.6 -1.9 -1.1 -2.5 -.7 -3 -.1 -3 1.2 -6.5 2.8 -5.5 4.5 -5 5.5 -3.5z"/>
<path d="M921.8 980.3l4.1 0 4 .7 3.5 1.5 2.5 2.1 .9 2.2 .1 2.5 -.8 4 -1.5 4 -2.3 4.5 -2.8 4 -3.6 3.7 -4 3 -3.5 1.7 -3.5 .8 -4 -.1 -3.5 -1 -2 -1.1 -2 -1.8 -1.1 -1.7 -1 -2.5 -.5 -3 .1 -3 .6 -3.5 1 -3 2.9 -5 4.6 -4.5 5.4 -2.9z"/>
<path d="M919.8 981.8l4.1 -.3 4 .5 3.5 1.1 2.7 1.7 1.3 2 .4 2 -.4 3 -.9 3.5 -1.9 4.5 -2.8 4.5 -3.4 3.9 -3.5 2.9 -3.5 2 -3.5 1.1 -3.5 .2 -3.5 -.8 -4 -2.3 -1.6 -2 -.9 -2 -.6 -2.5 -.1 -3 1 -5.5 2.5 -5 4 -4.5 5.2 -3.3z"/>
<path d="M921.9 982.8l3.5 .1 3.5 .8 3 1.4 1.9 1.7 .7 2 0 2.5 -.8 3.5 -1.5 4 -2.2 4 -2.6 3.4 -3.2 3.1 -3.3 2.4 -3 1.3 -3 .6 -3.5 -.1 -3 -.9 -2 -1.1 -1.7 -1.7 -1.2 -2 -.6 -2 -.2 -5.5 1.6 -5.5 3.1 -4.8 4 -3.6 5 -2.5z"/>
<path d="M919.6 984.3l3.3 -.2 3.5 .4 3 .9 2.5 1.6 1 1.4 .5 1.9 -.2 2.5 -.9 3.5 -1.7 4 -2.2 3.5 -3 3.5 -3 2.6 -3 1.8 -3 1 -3.5 .3 -3 -.6 -3.5 -2.1 -1.3 -1.5 -1 -2 -.6 -5 1 -5 2.3 -4.5 3.6 -3.8 4.5 -2.8z"/>
<path d="M918.2 985.8l3.2 -.4 3 .1 3 .7 2.5 1.2 1.5 1.4 .7 1.5 .1 2 -.6 3 -1.4 4 -1.9 3.5 -2.4 3.1 -3.1 2.9 -2.9 2 -3 1.1 -3 .4 -3 -.4 -3.5 -1.8 -2.2 -2.8 -.8 -4 .5 -5 2 -4.4 3 -3.7 4 -2.8z"/>
<path d="M919.4 986.8l3 -.1 3 .4 2.5 .9 2 1.3 .9 1.5 .3 1.5 -1.2 5.5 -1.6 3.5 -2 3 -2.4 2.7 -2.8 2.3 -2.7 1.5 -2.5 .7 -3 0 -2.5 -.6 -3.1 -2.1 -1.7 -3 -.3 -4 .9 -4.5 2.2 -3.9 3 -3.1 4 -2.3z"/>
<path d="M918.0 988.3l5.4 -.2 2.5 .6 2 1 1.3 1.1 .6 1.5 -.4 4 -1.2 3.5 -1.7 3 -1.9 2.5 -2.6 2.5 -2.6 1.8 -2.5 1 -2.5 .3 -2.5 -.3 -3 -1.4 -2 -2.5 -.8 -3.9 .6 -4 1.5 -3.5 2.7 -3.2 3.5 -2.5z"/>
<path d="M919.3 989.3l2.6 0 2.5 .4 2 .8 1.5 1.2 .8 2.6 -1 4.5 -3.1 5.5 -4.3 4 -2.4 1.3 -2 .5 -2.5 0 -2 -.5 -2.7 -1.8 -1.3 -2.5 -.3 -3.5 .8 -3.8 1.8 -3.2 2.7 -2.7 3.5 -1.9z"/>
<path d="M917.8 990.8l4.6 -.1 3.5 1.3 1 .9 .6 1.4 -.4 3.5 -2.7 5.5 -3.8 4 -2.2 1.4 -2 .6 -4 -.1 -2.4 -1.4 -1.5 -2 -.6 -3 .5 -3.5 1.4 -3 2.1 -2.4 2.5 -1.8z"/>
<path d="M919.4 991.8l4 .6 1.5 .7 1 1.1 .4 2.6 -1.3 4 -2.6 4 -3.5 2.9 -3.5 1.1 -3.5 -.7 -2 -1.6 -.9 -2.2 -.1 -3 .9 -3 1.6 -2.5 2.3 -2 2.7 -1.3z"/>
<path d="M917.6 993.3l3.3 -.1 3 1.1 1.1 1.5 -.1 3 -1.9 4 -3.1 3.5 -3 1.5 -3.5 .1 -2 -1 -1.1 -1.6 -.6 -2.5 .3 -2.5 1.2 -2.5 1.7 -2.1 2 -1.4z"/>
<path d="M916.6 994.8l3.3 -.4 2.5 .7 1.3 1.2 .1 2.5 -1.3 3.5 -2.5 3 -2.6 1.7 -3 .3 -2 -.8 -1.1 -1.2 -.7 -2 .1 -2 .7 -2 1.3 -2 1.7 -1.4z"/>
<path d="M917.5 995.8l2.4 0 2 .8 .9 1.7 -.3 2 -1.6 3 -2 2.1 -2.5 1.2 -2.5 -.2 -1.5 -1 -.6 -1.1 -.3 -1.5 .3 -2 .7 -1.5 1.4 -1.7 1.5 -1z"/>
<path d="M916.5 997.3l1.9 -.3 2 .5 1 1.2 0 1.6 -1 2.5 -1.5 1.8 -2 1.1 -2 .2 -1.2 -.6 -.9 -1 -.3 -2.5 1.4 -2.8z"/>
<path d="M915.9 998.8l1.5 -.4 1.5 .1 1 .6 .4 1.2 -.6 2 -1 1.5 -1.3 1 -1.5 .4 -1.9 -.9 -.6 -1.5 .5 -2.1z"/>
<path d="M916.8 999.8l1.6 .2 .6 .8 -.1 1 -1.5 2 -1.5 .5 -1 -.5 -.5 -1.5 .7 -1.5z"/>
<path d="M916.3 1001.8l.8 0 0 .5 -.7 .6 -.4 -.6z"/>
</g>
<g clip-path="url(#cc3)" stroke="#FF5FB0" stroke-width="0.9" stroke-opacity="0.8" fill="#FF5FB0" fill-opacity="0.035">
<path d="M1310.7 943.0l5.4 -.4 5.5 .5 4.5 1.2 4 2.1 2.9 2.6 2.1 3.1 1.4 3.9 .7 5 -.1 6 -1 6.5 -1.8 6.5 -2.5 6 -3.2 5.5 -3.7 5 -4.7 5 -5.1 4.3 -5 3.5 -5 2.9 -11.5 4.9 -8 2.2 -7.5 1.2 -5.5 .1 -6.5 -1 -1.5 .1 -2 .9 -7.5 5.1 -4.5 2.4 -6 2.3 -6 1.3 -9 .4 -4.5 -.6 -4.5 -1.2 -3.5 -1.4 -3.5 -1.9 -3 -2.4 -2.4 -2.6 -3 -5.5 -1.5 -7 -.1 -8 1.6 -8 2.7 -7 4.3 -7 5.5 -6.5 6.9 -6.1 6 -4.2 7 -3.9 7 -3 7 -2.3 8 -1.7 7.5 -.7 7 .3 7.5 1.6 1.5 -.1 16.5 -7 6 -1.9z"/>
<path d="M1309.8 946.0l5.3 -.4 4.5 .4 4.5 1.2 3.5 1.8 2.9 2.5 1.9 3 1.3 3.5 .6 4.5 -.1 5.5 -.9 6 -1.7 6 -2.3 5.5 -2.9 5 -3.8 5 -4.3 4.5 -4.7 3.9 -5.5 3.7 -6 3.2 -6.5 2.6 -6.5 2 -6 1.3 -5.5 .5 -4 -.2 -5.5 -1.1 -1.5 .1 -2 1.1 -7.5 5.7 -5 3 -6 2.7 -6.5 1.7 -4.5 .4 -4.5 0 -4.5 -.5 -4 -1 -3.5 -1.3 -3.5 -2 -3 -2.3 -2.3 -2.5 -2.9 -5.5 -1.4 -6.5 .1 -8 1.5 -7.5 2.9 -7 4.1 -6.5 5.5 -6.2 6.5 -5.6 6 -4.1 6 -3.2 6.5 -2.8 7 -2.3 8 -1.6 8 -.5 7 .6 6.5 1.8 1.5 0 16 -7 6 -2z"/>
<path d="M1309.0 949.0l4.6 -.4 4.5 .3 4 1.1 3.5 1.8 2.5 2.3 1.7 2.9 1.2 3.5 .5 4 -.2 5 -.9 5.5 -1.6 5.5 -2.3 5 -2.7 4.5 -3.5 4.5 -4.2 4.2 -4.5 3.6 -5.5 3.5 -5.5 2.7 -6 2.3 -6 1.7 -5.5 1 -4.5 .2 -3.5 -.3 -5 -1.4 -1.5 0 -2 1.2 -8 6.9 -5.5 3.7 -6.5 3 -7 1.9 -8.5 .5 -4.5 -.6 -4 -1.1 -3.5 -1.4 -3 -1.7 -2.9 -2.4 -2.1 -2.5 -2.6 -5.5 -1.2 -6.5 .3 -7.5 1.7 -7 2.8 -6.5 4.4 -6.5 5.1 -5.5 6.5 -5.4 5.5 -3.5 6 -3.1 6.5 -2.7 6 -1.8 8.5 -1.4 8 -.2 6.5 .9 6.5 2.3 16.5 -7.5 6 -2z"/>
<path d="M1308.2 952.0l4.4 -.4 4 .3 3.5 1 3.1 1.6 2.2 2 1.6 2.5 1.1 3.1 .5 3.9 -.2 4.5 -.8 5 -1.5 5 -2.1 4.5 -2.7 4.5 -3.2 3.9 -3.7 3.6 -4.3 3.4 -5 3.1 -5.5 2.6 -5.5 1.9 -6 1.5 -4.5 .6 -4 0 -4 -.7 -4 -1.5 -1.5 .1 -2 1.4 -7.8 7.6 -5.7 4.3 -7 3.7 -7 2.1 -4 .6 -4.5 0 -4 -.4 -4 -1 -3.5 -1.4 -3 -1.7 -2.8 -2.2 -2.1 -2.5 -2.4 -5 -1.1 -6.5 .3 -7 1.6 -6.6 2.9 -6.4 4.1 -6 5.2 -5.5 6.3 -5 6.5 -4 7 -3.3 7 -2.3 7 -1.5 7 -.5 7 .5 4.1 1.1 4.4 2.5 1.5 .3 8 -4.3 7.5 -3.5 6 -2.2z"/>
<path d="M1310.4 953.5l3.7 0 3.5 .7 3 1.1 2.5 1.8 1.9 2.4 1 2.5 .7 3.5 .1 3.5 -.4 4.5 -1.1 4.5 -1.5 4 -2 4 -2.7 4 -3 3.5 -3.5 3.2 -4 2.9 -5 2.9 -5 2.2 -5.5 1.8 -5.5 1.2 -4 .4 -4 -.3 -3.5 -.9 -4 -1.7 -1 .1 -1.5 1.1 -8.3 8.6 -6.2 5 -7 3.9 -7.5 2.4 -8 .6 -4 -.5 -4 -.9 -3.5 -1.5 -3 -1.7 -2.5 -2.2 -2 -2.4 -2.3 -5.2 -1 -6 .4 -7 1.7 -6.5 2.9 -6 4.3 -6 5.4 -5.5 6.1 -4.6 6.5 -3.8 7 -3.1 7 -2.1 6.5 -1.1 7 -.3 6.5 .8 3.5 1.1 4 3 1.5 .3 8.5 -5 8.5 -3.9 7 -2.3z"/>
<path d="M1309.0 955.0l3.6 -.1 3.5 .5 3 1 2.5 1.6 1.7 2 1.3 2.5 .7 3 .2 3.5 -.3 4 -1 4.5 -1.4 4 -2 4 -2.3 3.5 -3 3.5 -3.4 3.1 -4 2.9 -5 2.9 -5 2.1 -5.5 1.7 -5 1 -4 .2 -3.8 -.4 -3.2 -1 -3.5 -2 -1 -.1 -2 1.6 -8.1 9 -6.4 5.4 -7.5 4.3 -7.5 2.4 -8 .5 -7.5 -1.3 -3.5 -1.4 -3 -1.8 -2.4 -2.1 -2 -2.5 -2.1 -5 -.9 -6 .4 -6.5 1.8 -6.5 2.9 -6 4 -5.5 5.3 -5.3 6 -4.5 6.5 -3.8 7 -3 7 -2 7 -1.1 7 0 5.5 .9 3.5 1.4 3.5 3.3 1.5 .3 8 -5 7.5 -3.7 7.5 -2.8z"/>
<path d="M1308.0 956.5l3.6 -.2 3 .3 3 .9 2.5 1.5 1.9 2 1.1 2 .8 3 .2 3.5 -.3 4 -.9 4 -1.4 4 -1.9 3.8 -2.5 3.6 -2.7 3.1 -6.8 5.5 -4.5 2.5 -5 2.1 -5.5 1.7 -5 .8 -4 .1 -3.5 -.6 -3 -1.2 -3.5 -2.4 -1 .1 -1.5 1.3 -8 9.5 -6.7 6.1 -7.8 4.8 -7.5 2.5 -4 .6 -4 .1 -7.5 -1.3 -3.5 -1.5 -2.9 -1.7 -2.3 -2 -1.8 -2.4 -2.2 -5.1 -.8 -6 .5 -6.5 1.7 -6 2.8 -5.5 4 -5.5 5 -5 6 -4.5 6.5 -3.7 7 -2.9 7 -2 7 -.9 6.5 .1 5.5 1 3 1.5 3.5 3.9 1.5 .5 7.1 -5 6.4 -3.5 8.5 -3.5z"/>
<path d="M1307.0 958.0l3.6 -.3 3 .3 3 .9 2.5 1.4 1.6 1.7 1.1 2 .8 3 .1 3 -.3 4 -.9 4 -3.1 7 -4.8 6.2 -6.5 5.2 -5 2.7 -5 2 -5.5 1.4 -4.5 .6 -3.5 -.2 -3.5 -.9 -2.8 -1.5 -2.7 -2.6 -1 -.2 -1.5 1.3 -8.1 10.5 -6.9 6.6 -4 3 -4 2.3 -4 1.7 -4 1.1 -7.5 .6 -4 -.4 -3.5 -.9 -3.5 -1.4 -2.6 -1.6 -2.3 -2 -2 -2.5 -2 -5 -.7 -6 .5 -6 1.8 -6 2.8 -5.5 4 -5.3 5 -4.9 6 -4.3 7 -3.8 7 -2.8 7 -1.6 7 -.7 6.5 .5 4.5 1.3 2.8 2.1 2.7 4 1 .6 1 -.4 6.5 -5.3 5.5 -3.2 8.5 -3.8z"/>
<path d="M1306.1 959.5l3.5 -.4 3 .2 2.5 .7 2.5 1.3 1.7 1.7 1.2 2 .9 5 -.2 3.5 -.8 4 -1.2 3.5 -1.8 3.5 -4.7 6 -6.1 4.8 -4.5 2.5 -5 1.9 -5.5 1.4 -4.5 .3 -3.5 -.4 -3 -1.1 -2.8 -1.9 -2.7 -3.5 -1 0 -8.5 12 -7 7.5 -4.3 3.5 -4.2 2.6 -4 1.9 -4.5 1.4 -7.5 .7 -4 -.4 -3.5 -.8 -3 -1.2 -2.9 -1.7 -2.3 -2 -1.8 -2.4 -2 -4.6 -.7 -5.5 .4 -6 1.8 -6.1 3 -5.8 3.9 -5.1 4.7 -4.5 5.9 -4.2 7 -3.8 7.5 -2.8 7.5 -1.5 7 -.3 6 .8 4 1.7 2 2.1 2.5 5.1 1 .6 6.5 -6 5.3 -3.7 9.2 -4.4z"/>
<path d="M1305.4 961.0l5.7 -.3 2.5 .5 2.5 1.1 1.5 1.2 1.3 2 .8 2.5 .3 2.5 -.2 3.5 -.7 3.5 -2.7 6.5 -4.3 5.5 -6 4.7 -5 2.6 -5.5 1.9 -5 1 -4.5 -.1 -3.7 -1.1 -2.8 -2 -1.9 -2.5 -2.1 -4.7 -1 1 -3.8 7.2 -3.4 5.5 -3.5 4.5 -4.1 4.5 -4.6 4 -4.4 3 -4.7 2.3 -4.5 1.4 -7.5 .7 -7 -1.2 -3.1 -1.2 -2.9 -1.8 -2 -1.8 -1.8 -2.4 -1.8 -4.5 -.7 -5.5 .5 -6 1.7 -5.5 2.9 -5.5 3.7 -4.8 4.9 -4.7 5.6 -3.9 7.5 -3.9 8 -2.8 8 -1.2 7.5 .2 5 1.3 3 2.3 1.7 3 1.7 6.5 .6 .5 5.5 -7 5.8 -5 8.7 -4.7z"/>
<path d="M1304.6 962.5l4.5 -.5 3.5 .5 3 1.5 2 2.5 1 3.7 -.2 4.8 -1.4 5 -2.3 4.5 -2.7 3.5 -3.4 3.1 -4 2.6 -5 2.3 -5 1.5 -4.5 .6 -4 -.4 -3 -1.3 -1.8 -1.4 -1.5 -2 -1 -2.5 -.5 -2.5 .5 -5 2.5 -5.5 4.2 -5 5.1 -3.9 7.5 -3.9zM1255.9 968.0l6.7 -.1 5.5 1.1 3.5 2.1 2.1 3.4 1 5.5 -.5 6.5 -2.3 7 -4 7.5 -4.8 6.5 -5.5 5.7 -5.6 4.3 -5.9 3.1 -6 1.7 -6 .4 -6 -1 -5.1 -2.2 -3.1 -2.5 -2.2 -3 -1.3 -3.5 -.6 -4 0 -4.5 .8 -4.5 1.6 -4.5 2.4 -4.5 3 -4 3.4 -3.5 4.1 -3.3 4.5 -2.9 5 -2.6 5 -2 5 -1.4z"/>
<path d="M1306.9 963.5l3.7 .1 3 1.1 2.1 1.8 1.2 2.5 .4 3.5 -.6 4.5 -1.4 4 -2.3 4 -2.9 3.3 -3.3 2.7 -3.7 2.2 -4.5 1.8 -4.5 1.2 -4 .2 -3 -.5 -3 -1.4 -1.5 -1.5 -1.2 -2 -1 -4.5 .8 -5 2.7 -5 4.2 -4.5 5 -3.5 8 -3.6zM1253.1 969.5l7 -.5 6 .8 3.6 1.7 2.4 3 1.3 5 -.2 6 -1.7 6.5 -3.3 7 -4.4 6.5 -5.4 6 -5.8 4.9 -5.5 3.1 -6 2 -6 .5 -6 -.8 -5 -2 -3 -2.2 -2 -2.5 -1.4 -3 -.9 -4 -.2 -4.5 .7 -4.5 1.2 -4 2.1 -4.3 2.5 -3.7 3.2 -3.5 3.8 -3.4 4 -2.8 4.5 -2.6 5 -2.2 5 -1.6z"/>
<path d="M1305.8 965.0l3.3 -.1 3 .8 2 1.5 1.3 2.3 .5 3 -.4 4 -1.2 4 -2 3.5 -2.2 2.7 -3 2.6 -3.5 2.2 -4 1.8 -4.5 1.2 -3.5 .3 -3 -.5 -2.5 -1.1 -2.5 -2.9 -1.1 -4.3 .6 -4.5 2.3 -4.5 3.6 -4 4.6 -3.3 7 -3.3zM1254.3 970.5l6.3 -.2 5.5 1 3.5 2.1 1.8 3.1 .9 5 -.6 6.5 -2.1 6.5 -3.5 6.5 -4.4 6 -5.1 5.3 -5.3 4.2 -5.2 2.8 -5.5 1.6 -6 .4 -5.5 -.9 -5 -2.2 -2.7 -2.2 -1.9 -2.5 -1.2 -3 -.7 -4 0 -4.5 .7 -4 1.4 -4 2.1 -4 2.5 -3.5 3.3 -3.6 4 -3.3 4 -2.6 4.5 -2.4 5 -2 4.5 -1.3z"/>
<path d="M1304.9 966.5l3.2 -.2 2.8 .7 2.1 1.5 1.1 1.9 .4 3.1 -.4 3.5 -1.1 3.5 -1.7 3 -2.2 2.6 -2.8 2.4 -3.2 1.9 -3.5 1.5 -4 1 -3 .2 -2.5 -.4 -2.5 -1.2 -2.1 -2.5 -1 -4 .5 -3.5 2 -4 3 -3.5 3.9 -3 6.2 -3.1zM1251.8 972.0l6.3 -.5 6 .7 3.5 1.5 2.3 2.8 1.2 4.5 -.2 5.5 -1.5 6 -3 6.5 -4 6 -4.8 5.5 -5.3 4.5 -5.2 3.1 -5.5 1.9 -5.5 .7 -5.5 -.7 -5 -1.9 -2.5 -1.7 -2.2 -2.4 -1.5 -3 -.8 -3.5 -.2 -4 .5 -4 1.1 -4 1.9 -4 2.3 -3.5 2.9 -3.3 7 -5.7 8.5 -4.4 4.5 -1.6z"/>
<path d="M1304.1 968.0l3 -.3 2.5 .5 2 1.3 1 1.5 .5 2.5 -.2 3 -.8 3 -1.5 3 -2 2.5 -2.2 2 -5.8 3.1 -3.5 1 -3 .4 -2.5 -.4 -2 -.9 -2.1 -2.2 -.8 -3 .3 -3.5 1.5 -3.5 2.6 -3.1 3.5 -2.8 5 -2.6zM1252.8 973.0l5.8 -.3 5 .8 3.5 1.8 1.9 2.7 1 4.5 -.5 6 -1.8 6 -3.1 6 -3.9 5.5 -4.6 5 -5 4.1 -5 2.8 -5 1.6 -5.5 .4 -5.5 -.8 -4.5 -1.9 -2.5 -2 -1.7 -2.2 -1.3 -3 -.7 -3.5 0 -4 .6 -4 1.4 -4 1.8 -3.5 2.4 -3.3 3 -3.2 7 -5.3 8.5 -4.1 4.5 -1.4z"/>
<path d="M1303.5 969.5l2.6 -.4 2 .3 2 1 1 1.2 .6 1.9 0 2.5 -.7 3 -1.1 2.5 -3.5 4 -4.8 2.9 -5.5 1.4 -2.5 -.2 -2 -.7 -2 -1.9 -.8 -2.5 .1 -3 1.2 -3 2.4 -3 2.6 -2.2 4 -2.2zM1254.7 974.0l5.4 .1 4 1.1 2.5 1.8 1.8 3.5 .4 5 -1 6 -2.1 5.5 -3.6 6 -3.9 5 -4.6 4.4 -4.5 3.2 -4.5 2.2 -5 1.3 -5 .1 -5 -1 -4 -2 -2.4 -2.2 -1.6 -2.5 -1 -3 -.4 -3.5 .2 -4 .8 -3.5 1.4 -3.5 2 -3.5 2.5 -3.2 3 -3 3.5 -2.7 4 -2.5 8.5 -3.6 4.5 -1z"/>
<path d="M1302.9 971.0l2.2 -.4 2 .2 1.5 .6 1.1 1.1 .5 1.5 .1 2.5 -1.5 4.5 -3 3.5 -4.2 2.5 -5 1.1 -2 -.2 -1.5 -.6 -1.5 -1.6 -.8 -2.2 .2 -2.5 1 -2.5 2 -2.5 2.4 -2 3.2 -1.8zM1251.3 975.5l5.3 -.3 5 .6 3 1.4 2 2.4 1.1 4.4 -.3 5 -1.5 5.5 -2.7 5.5 -3.8 5.5 -4.1 4.5 -4.7 3.9 -4.5 2.6 -5 1.6 -5 .5 -5 -.8 -4 -1.7 -2.2 -1.6 -1.8 -2.2 -1.3 -2.8 -.6 -3 -.1 -3.5 .5 -3.5 1.1 -3.5 1.7 -3.5 4.7 -6 6.5 -5.1 8 -3.9z"/>
<path d="M1302.3 972.5l3.8 -.4 2.2 1.4 .6 1.5 .1 1.5 -1.2 4 -2.2 2.7 -3.5 2.2 -4 1 -3 -.5 -1.5 -1.4 -.6 -1.5 0 -2 .6 -2 1.4 -2 2.1 -1.9zM1252.8 976.5l5.3 0 4 1 2.5 1.8 1.4 2.7 .5 4.5 -.7 5 -1.7 5 -3 5.5 -3.9 5 -3.9 4 -4.2 3.2 -4.5 2.2 -4.5 1.2 -4.5 .2 -4.5 -.8 -4 -1.9 -2 -1.7 -1.7 -2.4 -.9 -2.5 -.5 -3 .1 -3.5 .7 -3.5 1.2 -3.5 1.7 -3 4.9 -5.7 6.5 -4.7 8 -3.6z"/>
<path d="M1301.9 974.0l3.2 -.5 1.8 1 .7 2.5 -.9 3 -2.1 2.5 -2.5 1.5 -3 .7 -2.5 -.5 -1 -.9 -.6 -1.3 .5 -3 2.6 -3zM1249.9 978.0l5.2 -.4 4.5 .5 2.9 1.4 1.7 2 1.1 3.5 -.2 5 -1.3 5 -2.4 5 -3.4 5 -3.9 4.4 -4.4 3.6 -4.1 2.3 -4.5 1.5 -4.5 .4 -4.5 -.7 -3.5 -1.4 -2.2 -1.6 -1.7 -2 -1.1 -2.5 -.6 -2.5 -.1 -3 .4 -3.5 1.1 -3.5 1.4 -3 4.3 -5.5 5.5 -4.4 7 -3.6z"/>
<path d="M1301.5 975.5l2.1 -.5 1.7 .5 .8 1.5 -.3 2 -1.2 1.9 -1.5 1.2 -2.5 .9 -2 -.2 -1.3 -1.3 .2 -2.5 1.5 -2zM1251.1 979.0l4.5 -.1 4 .7 2.5 1.5 1.5 2.4 .6 4 -.5 4.5 -1.4 4.5 -2.7 5 -3.3 4.5 -3.8 4 -3.9 3 -4 2.1 -4 1.1 -4.5 .2 -4 -.7 -3.5 -1.6 -2 -1.6 -1.4 -2 -.9 -2.5 -.4 -2.5 0 -3.5 .6 -3 2.6 -5.9 4.3 -5.1 5.7 -4.2 7 -3.2z"/>
<path d="M1301.5 977.0l1.6 -.4 1 .3 .4 1.6 -1.4 2 -2.5 .7 -1 -.7 -.2 -1 .8 -1.5zM1248.6 980.5l4.5 -.4 4.5 .4 2.5 1 1.9 2 .9 3 0 4 -1 4.5 -2 4.5 -2.9 4.5 -3.4 4 -4 3.5 -4 2.4 -4 1.4 -4 .5 -4 -.5 -3.5 -1.3 -2 -1.4 -1.5 -1.6 -1.1 -2 -.6 -2.5 -.2 -3 .3 -3 2 -5.5 3.6 -4.9 5 -4.2 6.5 -3.5z"/>
<path d="M1249.6 981.5l4.5 -.2 3.5 .6 2.5 1.6 1.2 2 .6 3.5 -.4 4 -1.3 4 -2.3 4.5 -2.9 4 -3.3 3.5 -3.6 2.8 -3.5 1.9 -3.5 1.1 -4 .3 -3.9 -.6 -3.1 -1.4 -2 -1.6 -1.1 -1.5 -.8 -2 -.5 -2.5 .3 -5.5 2.3 -5.5 3.8 -4.6 5 -3.9 6 -2.9z"/>
<path d="M1247.3 983.0l4.3 -.5 4 .3 2.5 1 1.5 1.5 1 2.7 .1 3.5 -.9 4 -1.7 4 -2.5 4 -3 3.7 -3.5 3.1 -3.5 2.2 -3.5 1.4 -3.5 .5 -3.5 -.3 -3.5 -1.1 -3.1 -2.5 -1.2 -2 -.6 -2 0 -5.5 1.8 -5 3.1 -4.3 4.5 -3.9 5.5 -3z"/>
<path d="M1248.2 984.0l3.9 -.2 3 .3 2.5 1.2 1.2 1.7 .7 3 -.2 3.5 -1 3.5 -1.9 4 -2.4 3.5 -3.2 3.5 -3 2.5 -3.2 1.8 -3 1 -3.5 .4 -3.5 -.4 -3 -1.3 -2.7 -2.5 -1.4 -4 .3 -5 1.8 -4.6 3 -4 4.5 -3.7 5.5 -2.7z"/>
<path d="M1250.1 985.0l3.5 .2 2.2 .8 1.6 1.5 .8 2 .2 3 -.7 3.5 -1.4 3.5 -2.1 3.5 -2.6 3.3 -2.9 2.7 -2.6 1.8 -3 1.4 -3 .7 -3 .1 -3 -.7 -2.5 -1.3 -1.5 -1.4 -1 -1.6 -.8 -4 .6 -4.5 2.3 -4.5 3.7 -4 4.7 -3.1 5.5 -2.2z"/>
<path d="M1246.8 986.5l3.3 -.3 3 .3 2 .8 1.5 1.7 .6 2.5 -.1 3 -.8 3 -1.7 3.5 -4.6 6 -2.9 2.4 -2.6 1.6 -2.9 1 -3 .3 -3 -.3 -2.5 -1 -2.5 -2.3 -1.3 -3.2 .2 -4.5 1.5 -4 2.6 -3.5 4 -3.3 4.5 -2.4z"/>
<path d="M1248.1 987.5l3 0 2.5 .7 1.5 1.2 .7 1.6 .3 2.5 -.5 3 -1.1 3 -1.7 3 -4.7 5.4 -2.5 1.8 -2.5 1.2 -2.5 .6 -3 .1 -2.5 -.6 -2 -1 -2.2 -2.5 -.8 -3.5 .5 -4 1.7 -3.5 2.8 -3.2 4 -2.9 4.5 -2z"/>
<path d="M1245.6 989.0l3 -.3 2.5 .2 1.7 .6 1.3 1.1 .7 1.9 0 2.5 -.5 2.5 -1.2 3 -4 5.5 -4.5 3.5 -2.5 1 -2.5 .4 -2.5 -.1 -2.5 -.9 -2.3 -1.9 -1.1 -2.5 0 -4 1.2 -3.5 2.2 -3 3 -2.6 4 -2.2z"/>
<path d="M1246.5 990.0l4.6 .3 1.5 .9 .8 1.3 .3 2 -.2 2.5 -2.1 5 -3.8 4.6 -4.5 2.9 -2 .6 -2.5 .1 -2 -.3 -2 -.9 -1.9 -2 -.7 -2.5 .2 -3.5 1.4 -3.2 2.3 -2.8 3.2 -2.4 3.5 -1.7z"/>
<path d="M1244.4 991.5l4.7 -.3 1.5 .5 1 .8 .8 1.5 .1 2 -1.2 4.5 -3.1 4.5 -4.1 3.3 -4 1.2 -4 -.7 -1.9 -1.3 -1.1 -2 -.2 -3 .8 -3 1.5 -2.5 2.7 -2.5 3.2 -1.9z"/>
<path d="M1245.1 992.5l4 .2 1.3 .8 .7 1 .1 3.5 -1.6 4 -3 3.7 -3.5 2.4 -3.5 .7 -3.4 -.8 -1.6 -1.5 -.8 -2 .1 -3 1 -2.5 1.7 -2.2 2.5 -2 3 -1.5z"/>
<path d="M1243.3 994.0l3.8 -.4 1.5 .4 1 .9 .6 2.6 -1 3.5 -2.3 3.5 -3.3 2.7 -3.5 .9 -3 -.6 -1.5 -1.2 -.8 -1.8 -.1 -2 .7 -2.5 1.4 -2 1.8 -1.7 2.5 -1.5z"/>
<path d="M1243.9 995.0l3 0 1.7 1.1 .4 2.4 -1.2 3.5 -2.2 2.9 -2.5 1.8 -3 .7 -2.5 -.6 -1.5 -1.3 -.5 -1.5 .1 -2 .7 -2 1.2 -1.6 2 -1.7z"/>
<path d="M1242.4 996.5l2.7 -.4 2 .7 .7 1.7 -.5 2.5 -1.4 2.5 -2.3 2.2 -2.5 .9 -2.5 -.2 -1.3 -.9 -.6 -1 -.2 -1.5 .4 -2 2.2 -2.8z"/>
<path d="M1242.9 997.5l1.7 -.1 1.5 .6 .5 1.5 -.7 2.5 -1.3 2 -2 1.5 -2 .5 -1.5 -.4 -1 -.6 -.5 -1 -.1 -1.5 .5 -1.5 2.1 -2.3z"/>
<path d="M1241.7 999.0l1.9 -.4 1.1 .4 .6 1 -.1 1.5 -.8 1.5 -1.3 1.4 -1.5 .7 -1.5 0 -1.5 -1.1 -.1 -2 1.1 -1.7z"/>
<path d="M1241.0 1000.5l2.1 -.4 .7 .4 .2 1 -1.1 2 -1.8 .8 -1.1 -.3 -.5 -1 .4 -1.5z"/>
<path d="M1241.6 1002.0l.3 .5 -.3 .2 -.3 -.2z"/>
</g>
<rect x="163.0" y="841.2" width="285.5" height="284.8" stroke="#2a2a2a" stroke-width="1.3" fill="none"/>
<path d="M191.8 1126.0v8M249.2 1126.0v8M306.6 1126.0v8M364.0 1126.0v8M421.4 1126.0v8" stroke="#1a1a1a" stroke-width="1.7" fill="none"/>
<path d="M169.0 1126.0v4M174.5 1126.0v4M179.1 1126.0v4M182.9 1126.0v4M186.2 1126.0v4M189.2 1126.0v4M209.1 1126.0v4M219.2 1126.0v4M226.4 1126.0v4M231.9 1126.0v4M236.5 1126.0v4M240.3 1126.0v4M243.6 1126.0v4M246.6 1126.0v4M266.5 1126.0v4M276.6 1126.0v4M283.8 1126.0v4M289.3 1126.0v4M293.9 1126.0v4M297.7 1126.0v4M301.0 1126.0v4M304.0 1126.0v4M323.9 1126.0v4M334.0 1126.0v4M341.2 1126.0v4M346.7 1126.0v4M351.3 1126.0v4M355.1 1126.0v4M358.4 1126.0v4M361.4 1126.0v4M381.3 1126.0v4M391.4 1126.0v4M398.6 1126.0v4M404.1 1126.0v4M408.7 1126.0v4M412.5 1126.0v4M415.8 1126.0v4M418.8 1126.0v4M438.7 1126.0v4M448.8 1126.0v4" stroke="#1a1a1a" stroke-width="1" fill="none"/>
<text x="193.3" y="1150.3" font-size="10.4" fill="#222">10<tspan dy="-6.8" font-size="8.8">1</tspan></text>
<text x="250.7" y="1150.3" font-size="10.4" fill="#222">10<tspan dy="-6.8" font-size="8.8">2</tspan></text>
<text x="308.1" y="1150.3" font-size="10.4" fill="#222">10<tspan dy="-6.8" font-size="8.8">3</tspan></text>
<text x="365.5" y="1150.3" font-size="10.4" fill="#222">10<tspan dy="-6.8" font-size="8.8">4</tspan></text>
<text x="422.9" y="1150.3" font-size="10.4" fill="#222">10<tspan dy="-6.8" font-size="8.8">5</tspan></text>
<path d="M163.0 1086.5h-8.5M163.0 1014.9h-8.5M163.0 943.3h-8.5M163.0 871.7h-8.5" stroke="#1a1a1a" stroke-width="1.7" fill="none"/>
<path d="M163.0 1123.9h-4M163.0 1115.0h-4M163.0 1108.1h-4M163.0 1102.4h-4M163.0 1097.6h-4M163.0 1093.4h-4M163.0 1089.8h-4M163.0 1064.9h-4M163.0 1052.3h-4M163.0 1043.4h-4M163.0 1036.5h-4M163.0 1030.8h-4M163.0 1026.0h-4M163.0 1021.8h-4M163.0 1018.2h-4M163.0 993.3h-4M163.0 980.7h-4M163.0 971.8h-4M163.0 964.9h-4M163.0 959.2h-4M163.0 954.4h-4M163.0 950.2h-4M163.0 946.6h-4M163.0 921.7h-4M163.0 909.1h-4M163.0 900.2h-4M163.0 893.3h-4M163.0 887.6h-4M163.0 882.8h-4M163.0 878.6h-4M163.0 875.0h-4M163.0 850.1h-4" stroke="#1a1a1a" stroke-width="1" fill="none"/>
<text x="149.5" y="1093.3" font-size="10.4" fill="#222" text-anchor="end">10<tspan dy="-5.2" font-size="8.8">2</tspan></text>
<text x="149.5" y="1021.7" font-size="10.4" fill="#222" text-anchor="end">10<tspan dy="-5.2" font-size="8.8">3</tspan></text>
<text x="149.5" y="950.1" font-size="10.4" fill="#222" text-anchor="end">10<tspan dy="-5.2" font-size="8.8">4</tspan></text>
<text x="149.5" y="878.5" font-size="10.4" fill="#222" text-anchor="end">10<tspan dy="-5.2" font-size="8.8">5</tspan></text>
<path d="M409.1 926H310.9V1035.3H409.1" stroke="#111" stroke-width="1.2" fill="none"/>
<path d="M408.6 925.4V1035.9" stroke="#000" stroke-width="2.2" fill="none"/>
<text x="386.2" y="880.3" font-size="27.0" textLength="52.7" lengthAdjust="spacingAndGlyphs" stroke="#000" stroke-width="0.8">14.4</text>
<text x="270.7" y="1195.0" font-size="30.5" textLength="61.8" lengthAdjust="spacingAndGlyphs" stroke="#000" stroke-width="0.55">PBS</text>
<rect x="488.2" y="841.2" width="285.5" height="284.8" stroke="#2a2a2a" stroke-width="1.3" fill="none"/>
<path d="M517.0 1126.0v8M574.4 1126.0v8M631.8 1126.0v8M689.2 1126.0v8M746.6 1126.0v8" stroke="#1a1a1a" stroke-width="1.7" fill="none"/>
<path d="M494.2 1126.0v4M499.7 1126.0v4M504.3 1126.0v4M508.1 1126.0v4M511.4 1126.0v4M514.4 1126.0v4M534.3 1126.0v4M544.4 1126.0v4M551.6 1126.0v4M557.1 1126.0v4M561.7 1126.0v4M565.5 1126.0v4M568.8 1126.0v4M571.8 1126.0v4M591.7 1126.0v4M601.8 1126.0v4M609.0 1126.0v4M614.5 1126.0v4M619.1 1126.0v4M622.9 1126.0v4M626.2 1126.0v4M629.2 1126.0v4M649.1 1126.0v4M659.2 1126.0v4M666.4 1126.0v4M671.9 1126.0v4M676.5 1126.0v4M680.3 1126.0v4M683.6 1126.0v4M686.6 1126.0v4M706.5 1126.0v4M716.6 1126.0v4M723.8 1126.0v4M729.3 1126.0v4M733.9 1126.0v4M737.7 1126.0v4M741.0 1126.0v4M744.0 1126.0v4M763.9 1126.0v4M774.0 1126.0v4" stroke="#1a1a1a" stroke-width="1" fill="none"/>
<text x="518.5" y="1150.3" font-size="10.4" fill="#222">10<tspan dy="-6.8" font-size="8.8">1</tspan></text>
<text x="575.9" y="1150.3" font-size="10.4" fill="#222">10<tspan dy="-6.8" font-size="8.8">2</tspan></text>
<text x="633.3" y="1150.3" font-size="10.4" fill="#222">10<tspan dy="-6.8" font-size="8.8">3</tspan></text>
<text x="690.7" y="1150.3" font-size="10.4" fill="#222">10<tspan dy="-6.8" font-size="8.8">4</tspan></text>
<text x="748.1" y="1150.3" font-size="10.4" fill="#222">10<tspan dy="-6.8" font-size="8.8">5</tspan></text>
<path d="M488.2 1086.5h-8.5M488.2 1014.9h-8.5M488.2 943.3h-8.5M488.2 871.7h-8.5" stroke="#1a1a1a" stroke-width="1.7" fill="none"/>
<path d="M488.2 1123.9h-4M488.2 1115.0h-4M488.2 1108.1h-4M488.2 1102.4h-4M488.2 1097.6h-4M488.2 1093.4h-4M488.2 1089.8h-4M488.2 1064.9h-4M488.2 1052.3h-4M488.2 1043.4h-4M488.2 1036.5h-4M488.2 1030.8h-4M488.2 1026.0h-4M488.2 1021.8h-4M488.2 1018.2h-4M488.2 993.3h-4M488.2 980.7h-4M488.2 971.8h-4M488.2 964.9h-4M488.2 959.2h-4M488.2 954.4h-4M488.2 950.2h-4M488.2 946.6h-4M488.2 921.7h-4M488.2 909.1h-4M488.2 900.2h-4M488.2 893.3h-4M488.2 887.6h-4M488.2 882.8h-4M488.2 878.6h-4M488.2 875.0h-4M488.2 850.1h-4" stroke="#1a1a1a" stroke-width="1" fill="none"/>
<text x="474.7" y="1093.3" font-size="10.4" fill="#222" text-anchor="end">10<tspan dy="-5.2" font-size="8.8">2</tspan></text>
<text x="474.7" y="1021.7" font-size="10.4" fill="#222" text-anchor="end">10<tspan dy="-5.2" font-size="8.8">3</tspan></text>
<text x="474.7" y="950.1" font-size="10.4" fill="#222" text-anchor="end">10<tspan dy="-5.2" font-size="8.8">4</tspan></text>
<text x="474.7" y="878.5" font-size="10.4" fill="#222" text-anchor="end">10<tspan dy="-5.2" font-size="8.8">5</tspan></text>
<path d="M733.9 926H635.8V1035.3H733.9" stroke="#111" stroke-width="1.2" fill="none"/>
<path d="M733.4 925.4V1035.9" stroke="#000" stroke-width="2.2" fill="none"/>
<text x="704.6" y="880.3" font-size="27.0" textLength="53.3" lengthAdjust="spacingAndGlyphs" stroke="#000" stroke-width="0.8">18.2</text>
<text x="543.4" y="1195.0" font-size="30.5" textLength="146.6" lengthAdjust="spacingAndGlyphs" stroke="#000" stroke-width="0.55">ZIF-8@HA</text>
<rect x="807.4" y="841.2" width="285.5" height="284.8" stroke="#2a2a2a" stroke-width="1.3" fill="none"/>
<path d="M836.2 1126.0v8M893.6 1126.0v8M951.0 1126.0v8M1008.4 1126.0v8M1065.8 1126.0v8" stroke="#1a1a1a" stroke-width="1.7" fill="none"/>
<path d="M813.4 1126.0v4M818.9 1126.0v4M823.5 1126.0v4M827.3 1126.0v4M830.6 1126.0v4M833.6 1126.0v4M853.5 1126.0v4M863.6 1126.0v4M870.8 1126.0v4M876.3 1126.0v4M880.9 1126.0v4M884.7 1126.0v4M888.0 1126.0v4M891.0 1126.0v4M910.9 1126.0v4M921.0 1126.0v4M928.2 1126.0v4M933.7 1126.0v4M938.3 1126.0v4M942.1 1126.0v4M945.4 1126.0v4M948.4 1126.0v4M968.3 1126.0v4M978.4 1126.0v4M985.6 1126.0v4M991.1 1126.0v4M995.7 1126.0v4M999.5 1126.0v4M1002.8 1126.0v4M1005.8 1126.0v4M1025.7 1126.0v4M1035.8 1126.0v4M1043.0 1126.0v4M1048.5 1126.0v4M1053.1 1126.0v4M1056.9 1126.0v4M1060.2 1126.0v4M1063.2 1126.0v4M1083.1 1126.0v4M1093.2 1126.0v4" stroke="#1a1a1a" stroke-width="1" fill="none"/>
<text x="837.7" y="1150.3" font-size="10.4" fill="#222">10<tspan dy="-6.8" font-size="8.8">1</tspan></text>
<text x="895.1" y="1150.3" font-size="10.4" fill="#222">10<tspan dy="-6.8" font-size="8.8">2</tspan></text>
<text x="952.5" y="1150.3" font-size="10.4" fill="#222">10<tspan dy="-6.8" font-size="8.8">3</tspan></text>
<text x="1009.9" y="1150.3" font-size="10.4" fill="#222">10<tspan dy="-6.8" font-size="8.8">4</tspan></text>
<text x="1067.3" y="1150.3" font-size="10.4" fill="#222">10<tspan dy="-6.8" font-size="8.8">5</tspan></text>
<path d="M807.4 1086.5h-8.5M807.4 1014.9h-8.5M807.4 943.3h-8.5M807.4 871.7h-8.5" stroke="#1a1a1a" stroke-width="1.7" fill="none"/>
<path d="M807.4 1123.9h-4M807.4 1115.0h-4M807.4 1108.1h-4M807.4 1102.4h-4M807.4 1097.6h-4M807.4 1093.4h-4M807.4 1089.8h-4M807.4 1064.9h-4M807.4 1052.3h-4M807.4 1043.4h-4M807.4 1036.5h-4M807.4 1030.8h-4M807.4 1026.0h-4M807.4 1021.8h-4M807.4 1018.2h-4M807.4 993.3h-4M807.4 980.7h-4M807.4 971.8h-4M807.4 964.9h-4M807.4 959.2h-4M807.4 954.4h-4M807.4 950.2h-4M807.4 946.6h-4M807.4 921.7h-4M807.4 909.1h-4M807.4 900.2h-4M807.4 893.3h-4M807.4 887.6h-4M807.4 882.8h-4M807.4 878.6h-4M807.4 875.0h-4M807.4 850.1h-4" stroke="#1a1a1a" stroke-width="1" fill="none"/>
<text x="793.9" y="1093.3" font-size="10.4" fill="#222" text-anchor="end">10<tspan dy="-5.2" font-size="8.8">2</tspan></text>
<text x="793.9" y="1021.7" font-size="10.4" fill="#222" text-anchor="end">10<tspan dy="-5.2" font-size="8.8">3</tspan></text>
<text x="793.9" y="950.1" font-size="10.4" fill="#222" text-anchor="end">10<tspan dy="-5.2" font-size="8.8">4</tspan></text>
<text x="793.9" y="878.5" font-size="10.4" fill="#222" text-anchor="end">10<tspan dy="-5.2" font-size="8.8">5</tspan></text>
<path d="M1052.6 926H955.1V1035.3H1052.6" stroke="#111" stroke-width="1.2" fill="none"/>
<path d="M1052.1 925.4V1035.9" stroke="#000" stroke-width="2.2" fill="none"/>
<text x="1021.0" y="880.3" font-size="27.0" textLength="52.4" lengthAdjust="spacingAndGlyphs" stroke="#000" stroke-width="0.8">21.1</text>
<text x="937.3" y="1195.0" font-size="30.5" textLength="68.5" lengthAdjust="spacingAndGlyphs" stroke="#000" stroke-width="0.55">MZH</text>
<rect x="1131.5" y="841.2" width="285.5" height="284.8" stroke="#2a2a2a" stroke-width="1.3" fill="none"/>
<path d="M1160.3 1126.0v8M1217.7 1126.0v8M1275.1 1126.0v8M1332.5 1126.0v8M1389.9 1126.0v8" stroke="#1a1a1a" stroke-width="1.7" fill="none"/>
<path d="M1137.5 1126.0v4M1143.0 1126.0v4M1147.6 1126.0v4M1151.4 1126.0v4M1154.7 1126.0v4M1157.7 1126.0v4M1177.6 1126.0v4M1187.7 1126.0v4M1194.9 1126.0v4M1200.4 1126.0v4M1205.0 1126.0v4M1208.8 1126.0v4M1212.1 1126.0v4M1215.1 1126.0v4M1235.0 1126.0v4M1245.1 1126.0v4M1252.3 1126.0v4M1257.8 1126.0v4M1262.4 1126.0v4M1266.2 1126.0v4M1269.5 1126.0v4M1272.5 1126.0v4M1292.4 1126.0v4M1302.5 1126.0v4M1309.7 1126.0v4M1315.2 1126.0v4M1319.8 1126.0v4M1323.6 1126.0v4M1326.9 1126.0v4M1329.9 1126.0v4M1349.8 1126.0v4M1359.9 1126.0v4M1367.1 1126.0v4M1372.6 1126.0v4M1377.2 1126.0v4M1381.0 1126.0v4M1384.3 1126.0v4M1387.3 1126.0v4M1407.2 1126.0v4M1417.3 1126.0v4" stroke="#1a1a1a" stroke-width="1" fill="none"/>
<text x="1161.8" y="1150.3" font-size="10.4" fill="#222">10<tspan dy="-6.8" font-size="8.8">1</tspan></text>
<text x="1219.2" y="1150.3" font-size="10.4" fill="#222">10<tspan dy="-6.8" font-size="8.8">2</tspan></text>
<text x="1276.6" y="1150.3" font-size="10.4" fill="#222">10<tspan dy="-6.8" font-size="8.8">3</tspan></text>
<text x="1334.0" y="1150.3" font-size="10.4" fill="#222">10<tspan dy="-6.8" font-size="8.8">4</tspan></text>
<text x="1391.4" y="1150.3" font-size="10.4" fill="#222">10<tspan dy="-6.8" font-size="8.8">5</tspan></text>
<path d="M1131.5 1086.5h-8.5M1131.5 1014.9h-8.5M1131.5 943.3h-8.5M1131.5 871.7h-8.5" stroke="#1a1a1a" stroke-width="1.7" fill="none"/>
<path d="M1131.5 1123.9h-4M1131.5 1115.0h-4M1131.5 1108.1h-4M1131.5 1102.4h-4M1131.5 1097.6h-4M1131.5 1093.4h-4M1131.5 1089.8h-4M1131.5 1064.9h-4M1131.5 1052.3h-4M1131.5 1043.4h-4M1131.5 1036.5h-4M1131.5 1030.8h-4M1131.5 1026.0h-4M1131.5 1021.8h-4M1131.5 1018.2h-4M1131.5 993.3h-4M1131.5 980.7h-4M1131.5 971.8h-4M1131.5 964.9h-4M1131.5 959.2h-4M1131.5 954.4h-4M1131.5 950.2h-4M1131.5 946.6h-4M1131.5 921.7h-4M1131.5 909.1h-4M1131.5 900.2h-4M1131.5 893.3h-4M1131.5 887.6h-4M1131.5 882.8h-4M1131.5 878.6h-4M1131.5 875.0h-4M1131.5 850.1h-4" stroke="#1a1a1a" stroke-width="1" fill="none"/>
<text x="1118.0" y="1093.3" font-size="10.4" fill="#222" text-anchor="end">10<tspan dy="-5.2" font-size="8.8">2</tspan></text>
<text x="1118.0" y="1021.7" font-size="10.4" fill="#222" text-anchor="end">10<tspan dy="-5.2" font-size="8.8">3</tspan></text>
<text x="1118.0" y="950.1" font-size="10.4" fill="#222" text-anchor="end">10<tspan dy="-5.2" font-size="8.8">4</tspan></text>
<text x="1118.0" y="878.5" font-size="10.4" fill="#222" text-anchor="end">10<tspan dy="-5.2" font-size="8.8">5</tspan></text>
<path d="M1377.5 926H1279.3V1035.3H1377.5" stroke="#111" stroke-width="1.2" fill="none"/>
<path d="M1377.0 925.4V1035.9" stroke="#000" stroke-width="2.2" fill="none"/>
<text x="1340.8" y="880.3" font-size="27.0" textLength="52.3" lengthAdjust="spacingAndGlyphs" stroke="#000" stroke-width="0.8">26.6</text>
<text x="1242.7" y="1195.0" font-size="30.5" textLength="88.5" lengthAdjust="spacingAndGlyphs" stroke="#000" stroke-width="0.55">PMZH</text>
<path d="M89.8 1127.6V1197.3H162.1V1189.7H97.4V1127.6z" fill="#000"/>
<path d="M93.6 1105.9l11.5 22.7h-23.0z" fill="#000"/>
<path d="M183.8 1193.5l-22.7 -11.5v23.0z" fill="#000"/>
<text transform="translate(72.8 1197.8) rotate(-90)" font-size="36" textLength="78.0" lengthAdjust="spacingAndGlyphs" stroke="#000" stroke-width="0.55">CD 3</text>
<text x="97.7" y="1248.3" font-size="36" textLength="77.0" lengthAdjust="spacingAndGlyphs" stroke="#000" stroke-width="0.55">CD 4</text>
<text x="-0.1" y="854.9" font-size="67" font-weight="bold" textLength="36.2" lengthAdjust="spacingAndGlyphs">c</text>
<rect x="1545.6" y="218.1" width="43.1" height="63.1" fill="#FF8000"/>
<rect x="1610.4" y="140.6" width="43.4" height="140.6" fill="#0C9A63"/>
<rect x="1675.0" y="96.5" width="43.4" height="184.7" fill="#5757F7"/>
<rect x="1739.7" y="57.9" width="43.3" height="223.3" fill="#F54DD3"/>
<rect x="1524.5" y="1.4" width="280.5" height="279.8" fill="none" stroke="#000" stroke-width="2.7"/>
<path d="M1512.5 26.8H1524.5M1512.5 111.6H1524.5M1512.5 196.4H1524.5M1512.5 281.2H1524.5M1567.1 281.2v12.6M1631.9 281.2v12.6M1696.5 281.2v12.6M1761.3 281.2v12.6" stroke="#000" stroke-width="3.2" fill="none"/>
<text x="1509.9" y="34.5" font-size="21.5" font-weight="bold" text-anchor="end">30</text>
<text x="1509.9" y="119.3" font-size="21.5" font-weight="bold" text-anchor="end">20</text>
<text x="1509.9" y="204.1" font-size="21.5" font-weight="bold" text-anchor="end">10</text>
<text x="1509.9" y="288.9" font-size="21.5" font-weight="bold" text-anchor="end">0</text>
<text transform="translate(1470.9 276.8) rotate(-90)" font-size="31.4" font-weight="bold" textLength="270.8" lengthAdjust="spacingAndGlyphs">DC maturation (%)</text>
<text transform="translate(1574.4 314.2) rotate(-45)" font-size="21.2" font-weight="bold" text-anchor="end">PBS</text>
<text transform="translate(1639.2 314.2) rotate(-45)" font-size="21.2" font-weight="bold" text-anchor="end">ZIF-8@HA</text>
<text transform="translate(1703.8 314.2) rotate(-45)" font-size="21.2" font-weight="bold" text-anchor="end">MZH</text>
<text transform="translate(1768.6 314.2) rotate(-45)" font-size="21.2" font-weight="bold" text-anchor="end">PMZH</text>
<path d="M1564.3 21.7H1759.8M1565.4 21.7V146.5M1629.5 21.7V100.3M1697.4 21.7V70.5" stroke="#000" stroke-width="2.3" fill="none" stroke-linecap="square"/>
<text transform="translate(1570.3 25.9) rotate(90)" font-size="20.2" textLength="77.3" lengthAdjust="spacingAndGlyphs">0.000048</text>
<text transform="translate(1635.6 25.9) rotate(90)" font-size="20.2" textLength="77.3" lengthAdjust="spacingAndGlyphs">0.000367</text>
<text transform="translate(1704.0 25.9) rotate(90)" font-size="20.2" textLength="57.4" lengthAdjust="spacingAndGlyphs">0.0003</text>
<path d="M1567.1 215.6V222.6M1556.3 215.6h21.6M1556.3 222.6h21.6" stroke="#000" stroke-width="3.6" fill="none"/>
<path d="M1631.9 136.2V145.6M1621.1 136.2h21.6M1621.1 145.6h21.6" stroke="#000" stroke-width="3.6" fill="none"/>
<path d="M1696.5 89.2V104.4M1685.7 89.2h21.6M1685.7 104.4h21.6" stroke="#000" stroke-width="3.6" fill="none"/>
<path d="M1761.3 51.4V65.2M1750.5 51.4h21.6M1750.5 65.2h21.6" stroke="#000" stroke-width="3.6" fill="none"/>
<g fill="#000">
<circle cx="1551.3" cy="222.6" r="5.2"/>
<circle cx="1562.0" cy="213.6" r="5.2"/>
<circle cx="1572.5" cy="219.9" r="5.2"/>
<circle cx="1583.7" cy="216.7" r="5.2"/>
<rect x="1610.6" y="129.1" width="11.4" height="11.4"/>
<rect x="1610.6" y="140.9" width="11.4" height="11.4"/>
<rect x="1631.6" y="134.6" width="11.4" height="11.4"/>
<rect x="1642.4" y="136.7" width="11.4" height="11.4"/>
<path d="M1680.7 84.9l5.6 11.2h-11.2z"/>
<path d="M1713.1 87.1l5.6 11.2h-11.2z"/>
<path d="M1696.8 93.0l5.6 11.2h-11.2z"/>
<path d="M1696.8 102.6l5.6 11.2h-11.2z"/>
<path d="M1745.3 57.2l5.6 -11.2h-11.2z"/>
<path d="M1777.6 66.4l5.6 -11.2h-11.2z"/>
<path d="M1745.3 71.8l5.6 -11.2h-11.2z"/>
<path d="M1761.6 61.7l5.6 -11.2h-11.2z"/>
</g>
<rect x="1545.6" y="627.6" width="43.1" height="79.2" fill="#FF8000"/>
<rect x="1610.4" y="565.7" width="43.4" height="141.1" fill="#0C9A63"/>
<rect x="1675.0" y="540.9" width="43.4" height="165.9" fill="#5757F7"/>
<rect x="1739.7" y="475.7" width="43.3" height="231.1" fill="#F54DD3"/>
<rect x="1524.5" y="426.3" width="280.5" height="280.5" fill="none" stroke="#000" stroke-width="2.7"/>
<path d="M1512.5 426.3H1524.5M1512.5 482.4H1524.5M1512.5 538.5H1524.5M1512.5 594.6H1524.5M1512.5 650.7H1524.5M1512.5 706.8H1524.5M1567.1 706.8v12.6M1631.9 706.8v12.6M1696.5 706.8v12.6M1761.3 706.8v12.6" stroke="#000" stroke-width="3.2" fill="none"/>
<text x="1509.9" y="434.0" font-size="21.5" font-weight="bold" text-anchor="end">25</text>
<text x="1509.9" y="490.1" font-size="21.5" font-weight="bold" text-anchor="end">20</text>
<text x="1509.9" y="546.2" font-size="21.5" font-weight="bold" text-anchor="end">15</text>
<text x="1509.9" y="602.3" font-size="21.5" font-weight="bold" text-anchor="end">10</text>
<text x="1509.9" y="658.4" font-size="21.5" font-weight="bold" text-anchor="end">5</text>
<text x="1509.9" y="714.5" font-size="21.5" font-weight="bold" text-anchor="end">0</text>
<text transform="translate(1470.9 713.5) rotate(-90)" font-size="31.4" font-weight="bold" textLength="293.0" lengthAdjust="spacingAndGlyphs">CD3+CD8+ cells (%)</text>
<text transform="translate(1574.4 739.8) rotate(-45)" font-size="21.2" font-weight="bold" text-anchor="end">PBS</text>
<text transform="translate(1639.2 739.8) rotate(-45)" font-size="21.2" font-weight="bold" text-anchor="end">ZIF-8@HA</text>
<text transform="translate(1703.8 739.8) rotate(-45)" font-size="21.2" font-weight="bold" text-anchor="end">MZH</text>
<text transform="translate(1768.6 739.8) rotate(-45)" font-size="21.2" font-weight="bold" text-anchor="end">PMZH</text>
<path d="M1560.2 445.3H1755.8M1561.4 445.3V570.2M1625.9 445.3V524.0M1693.2 445.3V494.2" stroke="#000" stroke-width="2.3" fill="none" stroke-linecap="square"/>
<text transform="translate(1567.7 456.2) rotate(90)" font-size="20.2" textLength="57.0" lengthAdjust="spacingAndGlyphs">0.0008</text>
<text transform="translate(1632.1 449.9) rotate(90)" font-size="20.2" textLength="87.7" lengthAdjust="spacingAndGlyphs">0.0000026</text>
<text transform="translate(1698.5 448.0) rotate(90)" font-size="20.2" textLength="56.5" lengthAdjust="spacingAndGlyphs">0.0002</text>
<path d="M1567.1 615.5V639.9M1556.3 615.5h21.6M1556.3 639.9h21.6" stroke="#000" stroke-width="3.6" fill="none"/>
<path d="M1631.7 553.3V579.3M1620.9 553.3h21.6M1620.9 579.3h21.6" stroke="#000" stroke-width="3.6" fill="none"/>
<path d="M1696.5 531.2V550.7M1685.7 531.2h21.6M1685.7 550.7h21.6" stroke="#000" stroke-width="3.6" fill="none"/>
<path d="M1761.3 464.2V487.3M1750.5 464.2h21.6M1750.5 487.3h21.6" stroke="#000" stroke-width="3.6" fill="none"/>
<g fill="#000">
<circle cx="1551.1" cy="622.7" r="5.2"/>
<circle cx="1583.3" cy="614.9" r="5.2"/>
<circle cx="1583.3" cy="630.5" r="5.2"/>
<circle cx="1567.1" cy="643.5" r="5.2"/>
<rect x="1610.2" y="550.4" width="11.4" height="11.4"/>
<rect x="1642.3" y="548.6" width="11.4" height="11.4"/>
<rect x="1626.0" y="564.5" width="11.4" height="11.4"/>
<rect x="1626.0" y="577.2" width="11.4" height="11.4"/>
<path d="M1680.2 527.0l5.6 11.2h-11.2z"/>
<path d="M1712.4 530.8l5.6 11.2h-11.2z"/>
<path d="M1696.5 535.7l5.6 11.2h-11.2z"/>
<path d="M1696.5 549.8l5.6 11.2h-11.2z"/>
<path d="M1745.0 474.3l5.6 -11.2h-11.2z"/>
<path d="M1777.4 470.1l5.6 -11.2h-11.2z"/>
<path d="M1777.4 483.5l5.6 -11.2h-11.2z"/>
<path d="M1761.3 497.5l5.6 -11.2h-11.2z"/>
</g>
<rect x="1545.6" y="1007.0" width="43.1" height="115.4" fill="#FF8000"/>
<rect x="1610.4" y="977.1" width="43.4" height="145.3" fill="#0C9A63"/>
<rect x="1675.0" y="940.9" width="43.4" height="181.5" fill="#5757F7"/>
<rect x="1739.7" y="904.7" width="43.3" height="217.7" fill="#F54DD3"/>
<rect x="1524.5" y="842.2" width="280.5" height="280.2" fill="none" stroke="#000" stroke-width="2.7"/>
<path d="M1512.5 882.4H1524.5M1512.5 962.6H1524.5M1512.5 1042.8H1524.5M1512.5 1122.4H1524.5M1567.1 1122.4v12.6M1631.9 1122.4v12.6M1696.5 1122.4v12.6M1761.3 1122.4v12.6" stroke="#000" stroke-width="3.2" fill="none"/>
<text x="1509.9" y="890.1" font-size="21.5" font-weight="bold" text-anchor="end">30</text>
<text x="1509.9" y="970.3" font-size="21.5" font-weight="bold" text-anchor="end">20</text>
<text x="1509.9" y="1050.5" font-size="21.5" font-weight="bold" text-anchor="end">10</text>
<text x="1509.9" y="1130.1" font-size="21.5" font-weight="bold" text-anchor="end">0</text>
<text transform="translate(1470.9 1128.5) rotate(-90)" font-size="31.4" font-weight="bold" textLength="293.0" lengthAdjust="spacingAndGlyphs">CD3+CD4+ cells (%)</text>
<text transform="translate(1574.4 1155.4) rotate(-45)" font-size="21.2" font-weight="bold" text-anchor="end">PBS</text>
<text transform="translate(1639.2 1155.4) rotate(-45)" font-size="21.2" font-weight="bold" text-anchor="end">ZIF-8@HA</text>
<text transform="translate(1703.8 1155.4) rotate(-45)" font-size="21.2" font-weight="bold" text-anchor="end">MZH</text>
<text transform="translate(1768.6 1155.4) rotate(-45)" font-size="21.2" font-weight="bold" text-anchor="end">PMZH</text>
<path d="M1561.3 865.8H1757.1M1562.5 865.8V990.6M1626.8 865.8V944.5M1694.3 865.8V915.5" stroke="#000" stroke-width="2.3" fill="none" stroke-linecap="square"/>
<text transform="translate(1567.7 870.3) rotate(90)" font-size="20.2" textLength="67.5" lengthAdjust="spacingAndGlyphs">0.00047</text>
<text transform="translate(1635.6 871.2) rotate(90)" font-size="20.2" textLength="67.0" lengthAdjust="spacingAndGlyphs">0.00003</text>
<text transform="translate(1716.7 872.1) rotate(90)" font-size="20.2" textLength="56.7" lengthAdjust="spacingAndGlyphs">0.0018</text>
<path d="M1567.1 1000.8V1014.2M1556.3 1000.8h21.6M1556.3 1014.2h21.6" stroke="#000" stroke-width="3.6" fill="none"/>
<path d="M1631.7 968.3V985.2M1620.9 968.3h21.6M1620.9 985.2h21.6" stroke="#000" stroke-width="3.6" fill="none"/>
<path d="M1696.5 929.7V951.7M1685.7 929.7h21.6M1685.7 951.7h21.6" stroke="#000" stroke-width="3.6" fill="none"/>
<path d="M1761.3 896.4V913.2M1750.5 896.4h21.6M1750.5 913.2h21.6" stroke="#000" stroke-width="3.6" fill="none"/>
<g fill="#000">
<circle cx="1551.1" cy="1000.6" r="5.2"/>
<circle cx="1551.1" cy="1016.5" r="5.2"/>
<circle cx="1567.1" cy="1006.0" r="5.2"/>
<circle cx="1583.3" cy="1007.5" r="5.2"/>
<rect x="1609.9" y="963.6" width="11.4" height="11.4"/>
<rect x="1642.3" y="966.9" width="11.4" height="11.4"/>
<rect x="1626.0" y="973.2" width="11.4" height="11.4"/>
<rect x="1626.0" y="983.1" width="11.4" height="11.4"/>
<path d="M1680.7 930.0l5.6 11.2h-11.2z"/>
<path d="M1712.4 923.9l5.6 11.2h-11.2z"/>
<path d="M1712.4 938.9l5.6 11.2h-11.2z"/>
<path d="M1680.7 948.9l5.6 11.2h-11.2z"/>
<path d="M1745.0 905.6l5.6 -11.2h-11.2z"/>
<path d="M1777.4 900.5l5.6 -11.2h-11.2z"/>
<path d="M1777.4 915.0l5.6 -11.2h-11.2z"/>
<path d="M1745.0 918.6l5.6 -11.2h-11.2z"/>
</g>
<path d="M201.2 1731.0V1578.4H253.5V1731.0" fill="none" stroke="#FF8000" stroke-width="6.3"/>
<path d="M306.8 1731.0V1467.5H359.0V1731.0" fill="none" stroke="#0C9A63" stroke-width="6.3"/>
<path d="M412.3 1731.0V1433.5H464.7V1731.0" fill="none" stroke="#5757F7" stroke-width="6.3"/>
<path d="M517.9 1731.0V1355.0H570.1V1731.0" fill="none" stroke="#F54DD3" stroke-width="6.3"/>
<rect x="168.8" y="1297.9" width="434.5" height="433.1" fill="none" stroke="#000" stroke-width="4.6"/>
<path d="M150.8 1297.9H168.8M150.8 1442.1H168.8M150.8 1586.2H168.8M150.8 1731.0H168.8M227.4 1731.0v19M332.8 1731.0v19M438.4 1731.0v19M544.0 1731.0v19" stroke="#000" stroke-width="4.6" fill="none"/>
<text x="146.0" y="1310.1" font-size="33" font-weight="bold" text-anchor="end">60</text>
<text x="146.0" y="1454.3" font-size="33" font-weight="bold" text-anchor="end">40</text>
<text x="146.0" y="1598.4" font-size="33" font-weight="bold" text-anchor="end">20</text>
<text x="146.0" y="1743.2" font-size="33" font-weight="bold" text-anchor="end">0</text>
<text transform="translate(86.5 1680.0) rotate(-90)" font-size="48.2" font-weight="bold" textLength="329.2" lengthAdjust="spacingAndGlyphs">TNF-α (pg/mL)</text>
<text x="199.2" y="1779.6" font-size="26.5" font-weight="bold" textLength="56.8" lengthAdjust="spacingAndGlyphs">PBS</text>
<text x="267.0" y="1779.6" font-size="26.5" font-weight="bold" textLength="131.4" lengthAdjust="spacingAndGlyphs">ZIF-8@HA</text>
<text x="408.2" y="1779.6" font-size="26.5" font-weight="bold" textLength="60.8" lengthAdjust="spacingAndGlyphs">MZH</text>
<text x="505.1" y="1779.6" font-size="26.5" font-weight="bold" textLength="78.3" lengthAdjust="spacingAndGlyphs">PMZH</text>
<path d="M227.3 1561.0V1590.5M212.8 1561.0h29.0M212.8 1590.5h29.0" stroke="#000" stroke-width="5.4" fill="none"/>
<path d="M333.2 1451.3V1478.0M318.7 1451.3h29.0M318.7 1478.0h29.0" stroke="#000" stroke-width="5.4" fill="none"/>
<path d="M438.4 1408.5V1451.3M423.9 1408.5h29.0M423.9 1451.3h29.0" stroke="#000" stroke-width="5.4" fill="none"/>
<path d="M544.1 1325.4V1377.7M529.6 1325.4h29.0M529.6 1377.7h29.0" stroke="#000" stroke-width="5.4" fill="none"/>
<g fill="#000">
<circle cx="206.9" cy="1570.6" r="8.7"/>
<circle cx="248.0" cy="1557.5" r="8.7"/>
<circle cx="206.9" cy="1590.5" r="8.7"/>
<circle cx="248.0" cy="1582.8" r="8.7"/>
<rect x="303.7" y="1472.0" width="17.4" height="17.4"/>
<rect x="345.0" y="1443.1" width="17.4" height="17.4"/>
<rect x="345.0" y="1460.5" width="17.4" height="17.4"/>
<rect x="324.0" y="1450.2" width="17.4" height="17.4"/>
<path d="M438.4 1395.8l8.6 17.2h-17.2z"/>
<path d="M417.7 1415.4l8.6 17.2h-17.2z"/>
<path d="M459.1 1428.5l8.6 17.2h-17.2z"/>
<path d="M438.4 1447.6l8.6 17.2h-17.2z"/>
<path d="M564.5 1332.7l8.6 -17.2h-17.2z"/>
<path d="M523.1 1348.5l8.6 -17.2h-17.2z"/>
<path d="M544.1 1366.2l8.6 -17.2h-17.2z"/>
<path d="M544.1 1392.9l8.6 -17.2h-17.2z"/>
</g>
<text x="-0.4" y="1276.3" font-size="65" font-weight="bold" textLength="40.3" lengthAdjust="spacingAndGlyphs">d</text>
<path d="M817.1 1731.0V1670.6H869.5V1731.0" fill="none" stroke="#FF8000" stroke-width="6.3"/>
<path d="M922.9 1731.0V1561.0H975.1V1731.0" fill="none" stroke="#0C9A63" stroke-width="6.3"/>
<path d="M1028.4 1731.0V1455.2H1080.5V1731.0" fill="none" stroke="#5757F7" stroke-width="6.3"/>
<path d="M1134.0 1731.0V1370.0H1186.2V1731.0" fill="none" stroke="#F54DD3" stroke-width="6.3"/>
<rect x="784.9" y="1297.9" width="433.7" height="433.1" fill="none" stroke="#000" stroke-width="4.6"/>
<path d="M766.9 1297.9H784.9M766.9 1406.0H784.9M766.9 1514.2H784.9M766.9 1622.3H784.9M766.9 1731.0H784.9M843.2 1731.0v19M948.8 1731.0v19M1054.3 1731.0v19M1159.8 1731.0v19" stroke="#000" stroke-width="4.6" fill="none"/>
<text x="762.1" y="1310.1" font-size="33" font-weight="bold" text-anchor="end">200</text>
<text x="762.1" y="1418.2" font-size="33" font-weight="bold" text-anchor="end">150</text>
<text x="762.1" y="1526.4" font-size="33" font-weight="bold" text-anchor="end">100</text>
<text x="762.1" y="1634.5" font-size="33" font-weight="bold" text-anchor="end">50</text>
<text x="762.1" y="1743.2" font-size="33" font-weight="bold" text-anchor="end">0</text>
<text transform="translate(684.5 1654.6) rotate(-90)" font-size="48.2" font-weight="bold" textLength="279.0" lengthAdjust="spacingAndGlyphs">IL-6 (pg/mL)</text>
<text x="815.3" y="1779.6" font-size="26.5" font-weight="bold" textLength="55.6" lengthAdjust="spacingAndGlyphs">PBS</text>
<text x="883.5" y="1779.6" font-size="26.5" font-weight="bold" textLength="131.1" lengthAdjust="spacingAndGlyphs">ZIF-8@HA</text>
<text x="1024.4" y="1779.6" font-size="26.5" font-weight="bold" textLength="60.2" lengthAdjust="spacingAndGlyphs">MZH</text>
<text x="1121.2" y="1779.6" font-size="26.5" font-weight="bold" textLength="78.0" lengthAdjust="spacingAndGlyphs">PMZH</text>
<path d="M843.2 1663.4V1670.4M828.7 1663.4h29.0M828.7 1670.4h29.0" stroke="#000" stroke-width="5.4" fill="none"/>
<path d="M948.9 1539.2V1574.7M934.4 1539.2h29.0M934.4 1574.7h29.0" stroke="#000" stroke-width="5.4" fill="none"/>
<path d="M1054.6 1440.6V1463.5M1040.1 1440.6h29.0M1040.1 1463.5h29.0" stroke="#000" stroke-width="5.4" fill="none"/>
<path d="M1160.0 1350.5V1382.6M1145.5 1350.5h29.0M1145.5 1382.6h29.0" stroke="#000" stroke-width="5.4" fill="none"/>
<g fill="#000">
<circle cx="822.8" cy="1671.4" r="8.7"/>
<circle cx="836.4" cy="1661.0" r="8.7"/>
<circle cx="850.0" cy="1667.8" r="8.7"/>
<circle cx="863.9" cy="1663.7" r="8.7"/>
<rect x="919.8" y="1540.1" width="17.4" height="17.4"/>
<rect x="961.2" y="1530.0" width="17.4" height="17.4"/>
<rect x="961.2" y="1553.7" width="17.4" height="17.4"/>
<rect x="919.8" y="1570.0" width="17.4" height="17.4"/>
<path d="M1033.9 1433.9l8.6 17.2h-17.2z"/>
<path d="M1075.6 1437.5l8.6 17.2h-17.2z"/>
<path d="M1054.6 1445.7l8.6 17.2h-17.2z"/>
<path d="M1054.6 1460.1l8.6 17.2h-17.2z"/>
<path d="M1139.0 1365.3l8.6 -17.2h-17.2z"/>
<path d="M1181.0 1359.1l8.6 -17.2h-17.2z"/>
<path d="M1181.0 1379.8l8.6 -17.2h-17.2z"/>
<path d="M1139.0 1395.8l8.6 -17.2h-17.2z"/>
</g>
<text x="631.1" y="1276.3" font-size="65" font-weight="bold" textLength="40.8" lengthAdjust="spacingAndGlyphs">e</text>
<path d="M1412.6 1731.0V1680.5H1464.6V1731.0" fill="none" stroke="#FF8000" stroke-width="6.3"/>
<path d="M1518.1 1731.0V1632.1H1570.1V1731.0" fill="none" stroke="#0C9A63" stroke-width="6.3"/>
<path d="M1623.2 1731.0V1498.9H1675.8V1731.0" fill="none" stroke="#5757F7" stroke-width="6.3"/>
<path d="M1729.2 1731.0V1432.2H1781.2V1731.0" fill="none" stroke="#F54DD3" stroke-width="6.3"/>
<rect x="1380.0" y="1297.9" width="434.2" height="433.1" fill="none" stroke="#000" stroke-width="4.6"/>
<path d="M1362.0 1297.9H1380.0M1362.0 1406.0H1380.0M1362.0 1514.2H1380.0M1362.0 1622.3H1380.0M1362.0 1731.0H1380.0M1438.4 1731.0v19M1543.9 1731.0v19M1649.4 1731.0v19M1755.0 1731.0v19" stroke="#000" stroke-width="4.6" fill="none"/>
<text x="1357.2" y="1310.1" font-size="33" font-weight="bold" text-anchor="end">8</text>
<text x="1357.2" y="1418.2" font-size="33" font-weight="bold" text-anchor="end">6</text>
<text x="1357.2" y="1526.4" font-size="33" font-weight="bold" text-anchor="end">4</text>
<text x="1357.2" y="1634.5" font-size="33" font-weight="bold" text-anchor="end">2</text>
<text x="1357.2" y="1743.2" font-size="33" font-weight="bold" text-anchor="end">0</text>
<text transform="translate(1318.0 1759.6) rotate(-90)" font-size="48.2" font-weight="bold" textLength="490.7" lengthAdjust="spacingAndGlyphs">Relative mRNA levels</text>
<text x="1410.6" y="1779.6" font-size="26.5" font-weight="bold" textLength="55.6" lengthAdjust="spacingAndGlyphs">PBS</text>
<text x="1478.8" y="1779.6" font-size="26.5" font-weight="bold" textLength="131.0" lengthAdjust="spacingAndGlyphs">ZIF-8@HA</text>
<text x="1619.6" y="1779.6" font-size="26.5" font-weight="bold" textLength="60.4" lengthAdjust="spacingAndGlyphs">MZH</text>
<text x="1716.4" y="1779.6" font-size="26.5" font-weight="bold" textLength="78.0" lengthAdjust="spacingAndGlyphs">PMZH</text>
<path d="M1438.5 1671.4V1684.4M1424.0 1671.4h29.0M1424.0 1684.4h29.0" stroke="#000" stroke-width="5.4" fill="none"/>
<path d="M1544.5 1620.2V1639.2M1530.0 1620.2h29.0M1530.0 1639.2h29.0" stroke="#000" stroke-width="5.4" fill="none"/>
<path d="M1649.9 1483.8V1508.2M1635.4 1483.8h29.0M1635.4 1508.2h29.0" stroke="#000" stroke-width="5.4" fill="none"/>
<path d="M1755.3 1419.1V1439.5M1740.8 1419.1h29.0M1740.8 1439.5h29.0" stroke="#000" stroke-width="5.4" fill="none"/>
<g fill="#000">
<circle cx="1417.6" cy="1683.6" r="8.7"/>
<circle cx="1432.0" cy="1669.7" r="8.7"/>
<circle cx="1445.6" cy="1682.8" r="8.7"/>
<circle cx="1459.7" cy="1674.6" r="8.7"/>
<rect x="1514.9" y="1608.3" width="17.4" height="17.4"/>
<rect x="1514.9" y="1631.9" width="17.4" height="17.4"/>
<rect x="1535.8" y="1620.3" width="17.4" height="17.4"/>
<rect x="1556.2" y="1624.3" width="17.4" height="17.4"/>
<path d="M1670.4 1473.0l8.6 17.2h-17.2z"/>
<path d="M1670.4 1493.4l8.6 17.2h-17.2z"/>
<path d="M1629.0 1501.0l8.6 17.2h-17.2z"/>
<path d="M1650.0 1483.9l8.6 17.2h-17.2z"/>
<path d="M1734.8 1426.4l8.6 -17.2h-17.2z"/>
<path d="M1776.4 1441.3l8.6 -17.2h-17.2z"/>
<path d="M1734.8 1449.5l8.6 -17.2h-17.2z"/>
<path d="M1755.4 1435.9l8.6 -17.2h-17.2z"/>
</g>
<text x="1226.2" y="1276.3" font-size="65" font-weight="bold" textLength="21.6" lengthAdjust="spacingAndGlyphs">f</text>
<text x="1528.1" y="1366.9" font-size="55" textLength="141.5" lengthAdjust="spacingAndGlyphs" stroke="#000" stroke-width="1.1">IFN-β</text>
<text x="-0.3" y="1872.6" font-size="65" font-weight="bold" textLength="38.6" lengthAdjust="spacingAndGlyphs">g</text>
<text x="280.7" y="1857.0" font-size="30.2" textLength="63.0" lengthAdjust="spacingAndGlyphs" stroke="#000" stroke-width="0.7">PBS</text>
<rect x="200.8" y="1872.6" width="213.6" height="6.2" fill="#000"/>
<text x="493.8" y="1857.0" font-size="30.2" textLength="145.1" lengthAdjust="spacingAndGlyphs" stroke="#000" stroke-width="0.7">ZIF-8@HA</text>
<rect x="457.6" y="1872.6" width="214.4" height="6.2" fill="#000"/>
<text x="786.7" y="1857.0" font-size="30.2" textLength="68.2" lengthAdjust="spacingAndGlyphs" stroke="#000" stroke-width="0.7">MZH</text>
<rect x="714.8" y="1872.6" width="214.0" height="6.2" fill="#000"/>
<text x="1037.5" y="1857.0" font-size="30.2" textLength="87.8" lengthAdjust="spacingAndGlyphs" stroke="#000" stroke-width="0.7">PMZH</text>
<rect x="972.0" y="1872.6" width="213.6" height="6.2" fill="#000"/>
<text x="221.2" y="1909.3" font-size="28.5" text-anchor="middle" stroke="#000" stroke-width="0.7">1</text>
<text x="310.2" y="1909.3" font-size="28.5" text-anchor="middle" stroke="#000" stroke-width="0.7">2</text>
<text x="396.2" y="1909.3" font-size="28.5" text-anchor="middle" stroke="#000" stroke-width="0.7">3</text>
<text x="478.0" y="1909.3" font-size="28.5" text-anchor="middle" stroke="#000" stroke-width="0.7">1</text>
<text x="567.8" y="1909.3" font-size="28.5" text-anchor="middle" stroke="#000" stroke-width="0.7">2</text>
<text x="652.5" y="1909.3" font-size="28.5" text-anchor="middle" stroke="#000" stroke-width="0.7">3</text>
<text x="736.0" y="1909.3" font-size="28.5" text-anchor="middle" stroke="#000" stroke-width="0.7">1</text>
<text x="824.2" y="1909.3" font-size="28.5" text-anchor="middle" stroke="#000" stroke-width="0.7">2</text>
<text x="910.6" y="1909.3" font-size="28.5" text-anchor="middle" stroke="#000" stroke-width="0.7">3</text>
<text x="992.4" y="1909.3" font-size="28.5" text-anchor="middle" stroke="#000" stroke-width="0.7">1</text>
<text x="1081.4" y="1909.3" font-size="28.5" text-anchor="middle" stroke="#000" stroke-width="0.7">2</text>
<text x="1167.0" y="1909.3" font-size="28.5" text-anchor="middle" stroke="#000" stroke-width="0.7">3</text>
<text x="49.6" y="1988.0" font-size="32.2" fill="#141414" textLength="89.7" lengthAdjust="spacingAndGlyphs" stroke="#141414" stroke-width="1.1">IFN-β</text>
<text x="52.2" y="2105.4" font-size="32.2" fill="#141414" textLength="83.3" lengthAdjust="spacingAndGlyphs" stroke="#141414" stroke-width="1.1">TBK1</text>
<text x="20.4" y="2224.3" font-size="32.2" fill="#141414" textLength="115.1" lengthAdjust="spacingAndGlyphs" stroke="#141414" stroke-width="1.1">p-TBK1</text>
<text x="32.8" y="2342.4" font-size="32.2" fill="#141414" textLength="106.4" lengthAdjust="spacingAndGlyphs" stroke="#141414" stroke-width="1.1">β-actin</text>
<text x="1238.1" y="1987.0" font-size="26" textLength="82.7" lengthAdjust="spacingAndGlyphs">20 kDa</text>
<text x="1238.1" y="2107.8" font-size="26" textLength="82.7" lengthAdjust="spacingAndGlyphs">90 kDa</text>
<text x="1238.1" y="2228.6" font-size="26" textLength="82.7" lengthAdjust="spacingAndGlyphs">83 kDa</text>
<text x="1238.1" y="2350.2" font-size="26" textLength="82.7" lengthAdjust="spacingAndGlyphs">42 kDa</text>
<rect x="162.7" y="1927.4" width="1065.2" height="108.4" fill="#000"/>
<rect x="169.0" y="1935.8" width="1051.0" height="95.8" fill="#fff"/>
<rect x="175.4" y="1942.5" width="1040.6" height="89.1" fill="url(#g1)"/>
<rect x="162.7" y="2047.3" width="1065.2" height="104.9" fill="#000"/>
<rect x="170.6" y="2054.9" width="1049.4" height="89.9" fill="#fff"/>
<rect x="170.6" y="2059.8" width="1049.4" height="85.0" fill="url(#g2)"/>
<rect x="162.7" y="2165.7" width="1065.2" height="105.2" fill="#000"/>
<rect x="170.6" y="2174.0" width="1049.4" height="89.2" fill="#fff"/>
<polygon points="170.6,2174.0 1210.0,2174.0 1209.4,2250.5 700,2256.5 170.6,2263.2" fill="url(#g3)"/>
<rect x="162.7" y="2285.5" width="1065.2" height="105.2" fill="#000"/>
<rect x="170.6" y="2293.2" width="1049.4" height="89.8" fill="#fff"/>
<rect x="170.6" y="2293.2" width="1049.4" height="89.8" fill="url(#g4)"/>
<g clip-path="url(#br0)">
<g filter="url(#bl3)"><ellipse cx="1002.0" cy="2027.0" rx="35.0" ry="11.0" fill="#606060"/><ellipse cx="915.0" cy="2015.0" rx="75.0" ry="22.0" fill="#9a9a9a"/><ellipse cx="1100.0" cy="2022.0" rx="70.0" ry="15.0" fill="#a0a0a0"/><ellipse cx="880.0" cy="1950.0" rx="60.0" ry="10.0" fill="#adadad"/><ellipse cx="1195.0" cy="1985.0" rx="15.0" ry="60.0" fill="#e4e4e4"/></g>
<g filter="url(#bl2)">
<ellipse cx="226.3" cy="1970.3" rx="27.4" ry="5.0" fill="#2c2c2c"/>
<ellipse cx="307.1" cy="1971.5" rx="26.5" ry="5.0" fill="#3c3c3c"/>
<ellipse cx="394.3" cy="1972.5" rx="26.5" ry="5.2" fill="#2e2e2e"/>
<ellipse cx="475.1" cy="1972.3" rx="31.1" ry="6.0" fill="#141414"/>
<ellipse cx="560.5" cy="1971.5" rx="27.4" ry="5.5" fill="#242424"/>
<ellipse cx="644.9" cy="1972.5" rx="26.5" ry="4.8" fill="#484848"/>
<ellipse cx="732.5" cy="1974.3" rx="31.2" ry="5.5" fill="#1c1c1c"/>
<ellipse cx="819.8" cy="1976.6" rx="31.9" ry="6.0" fill="#1a1a1a"/>
<ellipse cx="913.9" cy="1982.6" rx="32.5" ry="8.5" fill="#050505"/>
<ellipse cx="1003.8" cy="1982.6" rx="40.8" ry="9.5" fill="#050505"/>
<ellipse cx="1085.3" cy="1981.6" rx="39.1" ry="13.5" fill="#050505"/>
<ellipse cx="1168.6" cy="1984.9" rx="35.8" ry="10.0" fill="#050505"/>
</g></g>
<g clip-path="url(#br1)">
<g filter="url(#bl3)"><ellipse cx="700.0" cy="2068.0" rx="550.0" ry="7.0" fill="#cfcfcf"/></g>
<g filter="url(#bl2)">
<rect x="177.2" y="2098.0" width="75.2" height="27.0" rx="22.6" ry="13.5" fill="#050505"/>
<rect x="266.2" y="2099.0" width="70.9" height="27.0" rx="21.3" ry="13.5" fill="#050505"/>
<rect x="352.3" y="2099.5" width="71.9" height="27.0" rx="21.6" ry="13.5" fill="#050505"/>
<rect x="437.0" y="2099.5" width="70.8" height="31.0" rx="21.2" ry="15.5" fill="#050505"/>
<rect x="520.5" y="2098.0" width="74.5" height="28.0" rx="22.3" ry="14.0" fill="#050505"/>
<rect x="616.8" y="2097.5" width="63.2" height="27.0" rx="19.0" ry="13.5" fill="#050505"/>
<rect x="693.0" y="2099.6" width="76.9" height="27.0" rx="23.1" ry="13.5" fill="#050505"/>
<rect x="783.2" y="2097.9" width="78.3" height="27.0" rx="23.5" ry="13.5" fill="#050505"/>
<rect x="871.4" y="2097.4" width="82.6" height="28.0" rx="24.8" ry="14.0" fill="#050505"/>
<rect x="951.0" y="2090.9" width="80.0" height="31.0" rx="24.0" ry="15.5" fill="#050505"/>
<rect x="1032.9" y="2076.9" width="84.9" height="39.0" rx="25.5" ry="19.5" fill="#050505"/>
<rect x="1126.1" y="2080.4" width="78.3" height="34.0" rx="23.5" ry="17.0" fill="#050505"/>
<path d="M548 2120L575 2141L580 2122z" fill="#050505"/><path d="M622 2118L626 2136L650 2124z" fill="#050505"/>
</g></g>
<g clip-path="url(#br2)">
<g filter="url(#bl3)"><ellipse cx="166.0" cy="2262.0" rx="35.0" ry="28.0" fill="#bdbdbd"/><ellipse cx="700.0" cy="2266.0" rx="600.0" ry="9.0" fill="#d8d8d8"/></g>
<g filter="url(#bl15)">
<ellipse cx="213.2" cy="2205.6" rx="35.7" ry="4.5" fill="#aaaaaa" transform="rotate(1 213.2 2205.6)"/>
<ellipse cx="299.9" cy="2210.9" rx="34.0" ry="5.5" fill="#848484" transform="rotate(2 299.9 2210.9)"/>
<ellipse cx="382.2" cy="2219.9" rx="33.1" ry="5.2" fill="#929292" transform="rotate(6 382.2 2219.9)"/>
<ellipse cx="465.5" cy="2228.9" rx="34.8" ry="7.2" fill="#2c2c2c" transform="rotate(3 465.5 2228.9)"/>
<ellipse cx="553.7" cy="2235.6" rx="36.4" ry="6.8" fill="#383838" transform="rotate(1 553.7 2235.6)"/>
<ellipse cx="641.9" cy="2236.6" rx="34.8" ry="6.8" fill="#2c2c2c" transform="rotate(-1 641.9 2236.6)"/>
<ellipse cx="732.5" cy="2236.7" rx="36.4" ry="7.5" fill="#0c0c0c"/>
<ellipse cx="821.5" cy="2236.2" rx="34.0" ry="7.2" fill="#0c0c0c" transform="rotate(-3 821.5 2236.2)"/>
<ellipse cx="907.2" cy="2234.5" rx="34.8" ry="7.5" fill="#0a0a0a" transform="rotate(-2 907.2 2234.5)"/>
<ellipse cx="994.6" cy="2232.2" rx="37.3" ry="8.5" fill="#080808"/>
<ellipse cx="1081.2" cy="2231.6" rx="37.3" ry="10.4" fill="#060606" transform="rotate(-1 1081.2 2231.6)"/>
<ellipse cx="1163.5" cy="2226.6" rx="36.5" ry="8.1" fill="#080808" transform="rotate(-6 1163.5 2226.6)"/>
</g></g>
<g clip-path="url(#br3)">
<g filter="url(#bl2)">
<rect x="173.3" y="2332.3" width="76.6" height="25.0" rx="23.0" ry="12.5" fill="#050505"/>
<rect x="256.5" y="2332.9" width="78.3" height="27.0" rx="23.5" ry="13.5" fill="#050505"/>
<rect x="344.8" y="2335.0" width="74.9" height="26.0" rx="22.5" ry="13.0" fill="#050505" transform="rotate(-4 382.2 2348.0)"/>
<rect x="429.7" y="2329.6" width="81.5" height="27.0" rx="24.4" ry="13.5" fill="#050505"/>
<rect x="521.2" y="2323.6" width="76.6" height="29.0" rx="23.0" ry="14.5" fill="#050505" transform="rotate(-2 559.5 2338.1)"/>
<rect x="607.8" y="2320.8" width="74.9" height="28.0" rx="22.5" ry="14.0" fill="#050505"/>
<rect x="691.0" y="2313.8" width="80.6" height="32.0" rx="24.2" ry="16.0" fill="#050505"/>
<rect x="779.9" y="2311.6" width="76.6" height="33.0" rx="23.0" ry="16.5" fill="#050505"/>
<rect x="869.8" y="2310.0" width="74.9" height="33.0" rx="22.5" ry="16.5" fill="#050505"/>
<rect x="953.0" y="2308.1" width="76.6" height="30.0" rx="23.0" ry="15.0" fill="#050505"/>
<rect x="1042.9" y="2307.5" width="74.9" height="28.0" rx="22.5" ry="14.0" fill="#050505"/>
<rect x="1129.5" y="2304.6" width="78.2" height="27.0" rx="23.5" ry="13.5" fill="#050505" transform="rotate(-5 1168.6 2318.1)"/>
<path d="M347 2352L363 2382L382 2356z" fill="#050505"/>
</g></g>
<path d="M1481.8 2305.0V2185.1H1508.1V2305.0" fill="none" stroke="#FF8000" stroke-width="6.6"/>
<path d="M1517.7 2305.0V2171.0H1544.4V2305.0" fill="none" stroke="#FF8000" stroke-width="6.6"/>
<path d="M1553.9 2305.0V2145.9H1580.3V2305.0" fill="none" stroke="#FF8000" stroke-width="6.6"/>
<path d="M1589.9 2305.0V2098.8H1616.6V2305.0" fill="none" stroke="#FF8000" stroke-width="6.6"/>
<path d="M1658.5 2305.0V2250.5H1684.9V2305.0" fill="none" stroke="#0ABF7F" stroke-width="6.6"/>
<path d="M1694.4 2305.0V2204.2H1721.1V2305.0" fill="none" stroke="#0ABF7F" stroke-width="6.6"/>
<path d="M1730.7 2305.0V2169.5H1757.1V2305.0" fill="none" stroke="#0ABF7F" stroke-width="6.6"/>
<path d="M1766.9 2305.0V2112.9H1793.3V2305.0" fill="none" stroke="#0ABF7F" stroke-width="6.6"/>
<path d="M1494.7 2171.5V2193.6M1494.7 2171.5h0.0M1494.7 2193.6h0.0" stroke="#FF8000" stroke-width="4.7" fill="none"/>
<path d="M1530.9 2145.0V2189.2M1523.2 2145.0h15.3M1523.2 2189.2h15.3" stroke="#FF8000" stroke-width="4.7" fill="none"/>
<path d="M1566.8 2094.9V2189.2M1559.2 2094.9h15.3M1559.2 2189.2h15.3" stroke="#FF8000" stroke-width="4.7" fill="none"/>
<path d="M1603.1 2047.8V2142.0M1595.0 2047.8h16.2M1595.0 2142.0h16.2" stroke="#FF8000" stroke-width="4.7" fill="none"/>
<path d="M1671.4 2240.7V2251.0M1671.4 2240.7h0.0M1671.4 2251.0h0.0" stroke="#0ABF7F" stroke-width="4.7" fill="none"/>
<path d="M1707.6 2191.2V2202.4M1707.6 2191.2h0.0M1707.6 2202.4h0.0" stroke="#0ABF7F" stroke-width="4.7" fill="none"/>
<path d="M1743.6 2147.9V2183.3M1735.9 2147.9h15.3M1735.9 2183.3h15.3" stroke="#0ABF7F" stroke-width="4.7" fill="none"/>
<path d="M1779.8 2090.5V2128.8M1771.7 2090.5h16.2M1771.7 2128.8h16.2" stroke="#0ABF7F" stroke-width="4.7" fill="none"/>
<rect x="1458.9" y="1947.2" width="356.7" height="357.8" fill="none" stroke="#000" stroke-width="5.2"/>
<path d="M1441.9 2006.5H1458.9M1441.9 2106.0H1458.9M1441.9 2205.5H1458.9M1441.9 2305.0H1458.9M1494.7 2305.0v15.2M1530.6 2305.0v15.2M1566.2 2305.0v15.2M1603.1 2305.0v15.2M1671.4 2305.0v15.2M1707.3 2305.0v15.2M1743.6 2305.0v15.2M1779.5 2305.0v15.2" stroke="#000" stroke-width="5.2" fill="none"/>
<text x="1438.4" y="2015.7" font-size="26" font-weight="bold" text-anchor="end">1.5</text>
<text x="1438.4" y="2115.2" font-size="26" font-weight="bold" text-anchor="end">1.0</text>
<text x="1438.4" y="2214.7" font-size="26" font-weight="bold" text-anchor="end">0.5</text>
<text x="1438.4" y="2314.2" font-size="26" font-weight="bold" text-anchor="end">0.0</text>
<text transform="translate(1384.0 2315.8) rotate(-90)" font-size="29" font-weight="bold" textLength="378.5" lengthAdjust="spacingAndGlyphs">Relative protein expression</text>
<text transform="translate(1504.0 2342.8) rotate(-45)" font-size="27.5" font-weight="bold" text-anchor="end">PBS</text>
<text transform="translate(1539.9 2342.8) rotate(-45)" font-size="27.5" font-weight="bold" text-anchor="end">ZIF-8@HA</text>
<text transform="translate(1575.5 2342.8) rotate(-45)" font-size="27.5" font-weight="bold" text-anchor="end">MZH</text>
<text transform="translate(1612.4 2342.8) rotate(-45)" font-size="27.5" font-weight="bold" text-anchor="end">PMZH</text>
<text transform="translate(1680.7 2342.8) rotate(-45)" font-size="27.5" font-weight="bold" text-anchor="end">PBS</text>
<text transform="translate(1716.6 2342.8) rotate(-45)" font-size="27.5" font-weight="bold" text-anchor="end">ZIF-8@HA</text>
<text transform="translate(1752.9 2342.8) rotate(-45)" font-size="27.5" font-weight="bold" text-anchor="end">MZH</text>
<text transform="translate(1788.8 2342.8) rotate(-45)" font-size="27.5" font-weight="bold" text-anchor="end">PMZH</text>
<circle cx="1492.3" cy="2012.4" r="7.4"/>
<text x="1533.0" y="2021.3" font-size="28.6" font-weight="bold" textLength="73.6" lengthAdjust="spacingAndGlyphs">IFN-β</text>
<rect x="1654.6" y="2005.4" width="14.4" height="14.4"/>
<text x="1703.8" y="2021.3" font-size="28.6" font-weight="bold" textLength="101.1" lengthAdjust="spacingAndGlyphs">p-TBK1</text>
<g fill="#000">
<circle cx="1485.2" cy="2175.0" r="7.5"/>
<circle cx="1503.5" cy="2180.3" r="7.5"/>
<circle cx="1485.2" cy="2194.2" r="7.5"/>
<circle cx="1530.9" cy="2146.4" r="7.5"/>
<circle cx="1530.9" cy="2168.0" r="7.5"/>
<circle cx="1530.9" cy="2189.8" r="7.5"/>
<circle cx="1566.8" cy="2089.9" r="7.5"/>
<circle cx="1557.4" cy="2174.4" r="7.5"/>
<circle cx="1576.3" cy="2164.1" r="7.5"/>
<circle cx="1593.9" cy="2064.6" r="7.5"/>
<circle cx="1612.5" cy="2071.9" r="7.5"/>
<circle cx="1603.1" cy="2149.4" r="7.5"/>
<rect x="1655.4" y="2244.7" width="14.4" height="14.4"/>
<rect x="1665.1" y="2236.5" width="14.4" height="14.4"/>
<rect x="1673.9" y="2237.9" width="14.4" height="14.4"/>
<rect x="1691.3" y="2194.6" width="14.4" height="14.4"/>
<rect x="1700.4" y="2184.0" width="14.4" height="14.4"/>
<rect x="1709.9" y="2194.6" width="14.4" height="14.4"/>
<rect x="1727.5" y="2174.0" width="14.4" height="14.4"/>
<rect x="1736.4" y="2140.7" width="14.4" height="14.4"/>
<rect x="1745.8" y="2161.3" width="14.4" height="14.4"/>
<rect x="1763.5" y="2088.3" width="14.4" height="14.4"/>
<rect x="1782.0" y="2095.9" width="14.4" height="14.4"/>
<rect x="1772.6" y="2124.5" width="14.4" height="14.4"/>
</g>
<text x="1393.2" y="1875.4" font-size="65" font-weight="bold" textLength="38.2" lengthAdjust="spacingAndGlyphs">h</text>
</svg>
</body></html>
